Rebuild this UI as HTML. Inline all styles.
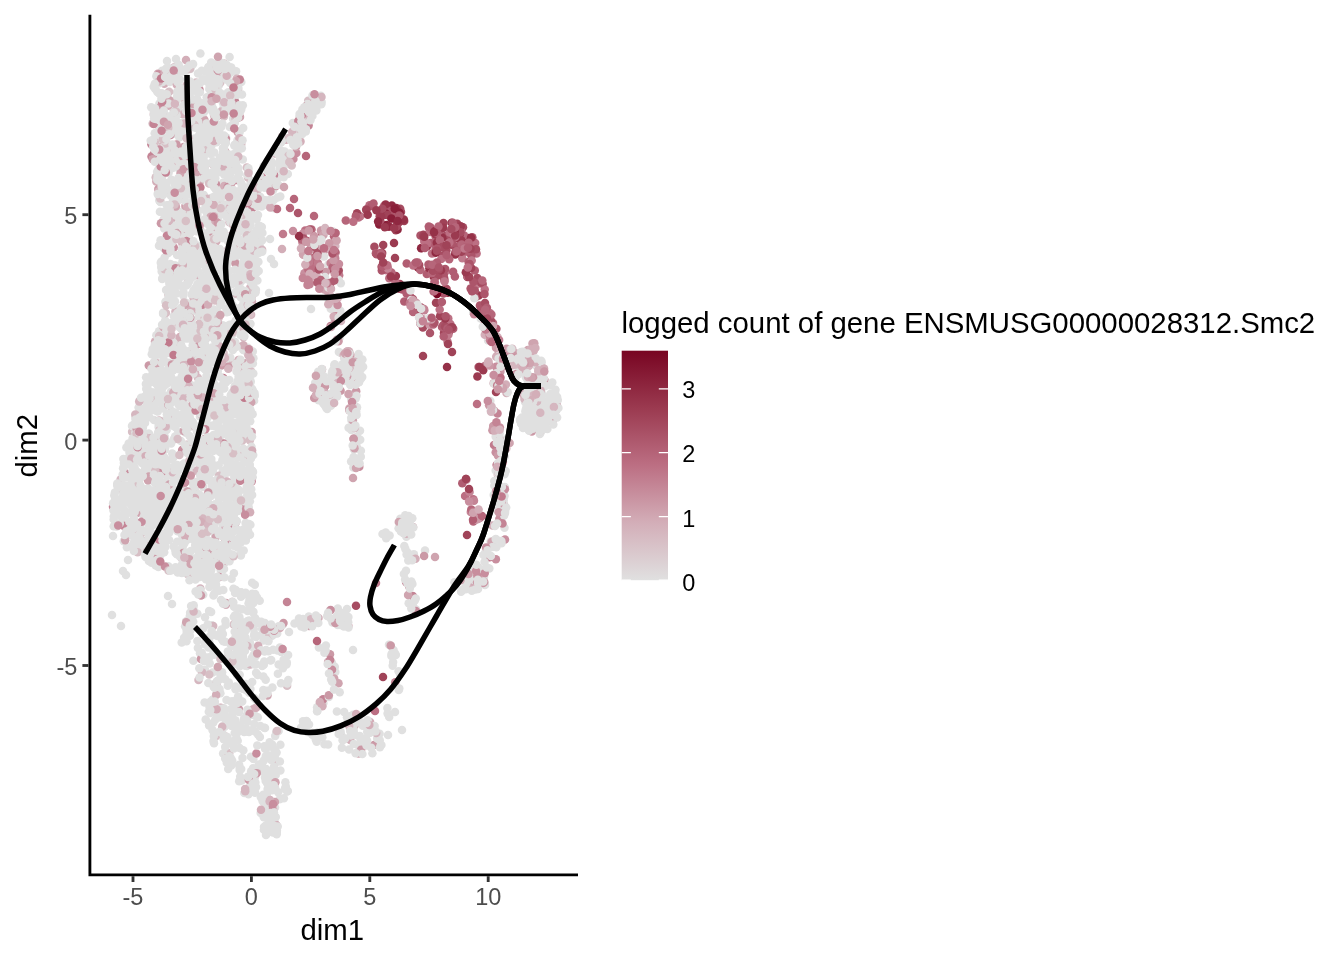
<!DOCTYPE html>
<html><head><meta charset="utf-8"><title>plot</title>
<style>
html,body{margin:0;padding:0;background:#fff;}
svg{display:block;}
text{font-family:"Liberation Sans",sans-serif;}
.ax{font-size:23.5px;fill:#4d4d4d;}
.ti{font-size:29.37px;fill:#000;}
.lg{font-size:23.5px;fill:#000;}
</style></head><body>
<svg width="1344" height="960" viewBox="0 0 1344 960">
<defs><linearGradient id="cb" x1="0" y1="1" x2="0" y2="0">
<stop offset="0" stop-color="#e0e0e0"/><stop offset="0.25" stop-color="#d3aeb8"/><stop offset="0.5" stop-color="#bc6f83"/><stop offset="0.75" stop-color="#9b3a50"/><stop offset="1" stop-color="#780522"/>
</linearGradient></defs>
<rect width="1344" height="960" fill="#fff"/>

<style>.c0{fill:#e0e0e0}.c1{fill:#d3aeb8}.c2{fill:#d5b6bf}.c3{fill:#d7bfc5}.c4{fill:#bc6f83}.c5{fill:#a64c61}.c6{fill:#c48495}.c7{fill:#953148}.c8{fill:#c07a8c}.c9{fill:#cb99a6}.c10{fill:#a04358}.c11{fill:#9b3a50}.c12{fill:#c88e9e}.c13{fill:#b6667a}.c14{fill:#8f2841}.c15{fill:#cfa4af}.c16{fill:#ac556a}.c17{fill:#b15d72}.c18{fill:#8a1f39}.c19{fill:#780522}</style>
<g class="pts">
<circle class="c0" cx="400.3" cy="518.8" r="4.25"/>
<circle class="c0" cx="272.7" cy="632.6" r="4.25"/>
<circle class="c0" cx="229.2" cy="438.0" r="4.25"/>
<circle class="c0" cx="142.5" cy="463.6" r="4.25"/>
<circle class="c0" cx="197.9" cy="255.5" r="4.25"/>
<circle class="c0" cx="488.1" cy="340.4" r="4.25"/>
<circle class="c0" cx="485.5" cy="552.0" r="4.25"/>
<circle class="c0" cx="175.1" cy="436.4" r="4.25"/>
<circle class="c0" cx="228.2" cy="655.2" r="4.25"/>
<circle class="c1" cx="518.0" cy="366.2" r="4.25"/>
<circle class="c0" cx="263.9" cy="829.7" r="4.25"/>
<circle class="c0" cx="548.6" cy="404.5" r="4.25"/>
<circle class="c1" cx="184.1" cy="312.6" r="4.25"/>
<circle class="c0" cx="218.5" cy="418.1" r="4.25"/>
<circle class="c0" cx="255.2" cy="594.0" r="4.25"/>
<circle class="c0" cx="334.8" cy="666.7" r="4.25"/>
<circle class="c0" cx="259.6" cy="245.6" r="4.25"/>
<circle class="c0" cx="325.9" cy="385.4" r="4.25"/>
<circle class="c2" cx="512.3" cy="348.7" r="4.25"/>
<circle class="c3" cx="197.9" cy="377.7" r="4.25"/>
<circle class="c0" cx="213.5" cy="135.5" r="4.25"/>
<circle class="c0" cx="180.0" cy="339.8" r="4.25"/>
<circle class="c0" cx="498.3" cy="506.2" r="4.25"/>
<circle class="c4" cx="475.2" cy="243.1" r="4.25"/>
<circle class="c0" cx="161.9" cy="177.5" r="4.25"/>
<circle class="c0" cx="218.0" cy="341.0" r="4.25"/>
<circle class="c0" cx="293.3" cy="144.7" r="4.25"/>
<circle class="c5" cx="477.4" cy="278.0" r="4.25"/>
<circle class="c6" cx="240.1" cy="360.5" r="4.25"/>
<circle class="c0" cx="252.6" cy="477.2" r="4.25"/>
<circle class="c0" cx="191.7" cy="84.1" r="4.25"/>
<circle class="c3" cx="208.8" cy="67.5" r="4.25"/>
<circle class="c0" cx="164.2" cy="552.2" r="4.25"/>
<circle class="c0" cx="404.1" cy="528.0" r="4.25"/>
<circle class="c0" cx="213.4" cy="403.9" r="4.25"/>
<circle class="c0" cx="335.1" cy="299.0" r="4.25"/>
<circle class="c5" cx="400.2" cy="208.7" r="4.25"/>
<circle class="c0" cx="234.3" cy="658.7" r="4.25"/>
<circle class="c3" cx="229.1" cy="294.1" r="4.25"/>
<circle class="c0" cx="243.5" cy="594.7" r="4.25"/>
<circle class="c7" cx="447.9" cy="292.7" r="4.25"/>
<circle class="c8" cx="313.5" cy="268.8" r="4.25"/>
<circle class="c6" cx="468.0" cy="585.0" r="4.25"/>
<circle class="c0" cx="255.3" cy="598.1" r="4.25"/>
<circle class="c0" cx="350.0" cy="716.2" r="4.25"/>
<circle class="c0" cx="212.2" cy="136.3" r="4.25"/>
<circle class="c0" cx="131.1" cy="490.1" r="4.25"/>
<circle class="c0" cx="164.6" cy="257.4" r="4.25"/>
<circle class="c9" cx="498.2" cy="464.3" r="4.25"/>
<circle class="c0" cx="214.0" cy="123.2" r="4.25"/>
<circle class="c0" cx="233.4" cy="531.8" r="4.25"/>
<circle class="c0" cx="549.7" cy="412.7" r="4.25"/>
<circle class="c0" cx="220.6" cy="534.2" r="4.25"/>
<circle class="c0" cx="176.0" cy="217.1" r="4.25"/>
<circle class="c0" cx="249.0" cy="472.4" r="4.25"/>
<circle class="c0" cx="335.3" cy="671.9" r="4.25"/>
<circle class="c0" cx="207.6" cy="214.9" r="4.25"/>
<circle class="c0" cx="209.6" cy="76.9" r="4.25"/>
<circle class="c0" cx="241.8" cy="403.1" r="4.25"/>
<circle class="c10" cx="399.9" cy="284.1" r="4.25"/>
<circle class="c0" cx="209.3" cy="460.0" r="4.25"/>
<circle class="c8" cx="251.6" cy="481.6" r="4.25"/>
<circle class="c0" cx="290.1" cy="153.5" r="4.25"/>
<circle class="c0" cx="211.9" cy="351.7" r="4.25"/>
<circle class="c0" cx="230.3" cy="421.8" r="4.25"/>
<circle class="c9" cx="356.0" cy="381.7" r="4.25"/>
<circle class="c3" cx="247.5" cy="229.6" r="4.25"/>
<circle class="c0" cx="231.4" cy="220.2" r="4.25"/>
<circle class="c0" cx="196.4" cy="500.2" r="4.25"/>
<circle class="c0" cx="504.3" cy="439.7" r="4.25"/>
<circle class="c0" cx="167.6" cy="378.9" r="4.25"/>
<circle class="c3" cx="246.0" cy="396.5" r="4.25"/>
<circle class="c0" cx="201.0" cy="478.7" r="4.25"/>
<circle class="c0" cx="172.7" cy="354.7" r="4.25"/>
<circle class="c7" cx="381.2" cy="210.6" r="4.25"/>
<circle class="c0" cx="189.8" cy="313.5" r="4.25"/>
<circle class="c11" cx="483.3" cy="316.1" r="4.25"/>
<circle class="c0" cx="166.8" cy="475.8" r="4.25"/>
<circle class="c0" cx="527.9" cy="382.0" r="4.25"/>
<circle class="c0" cx="193.4" cy="482.1" r="4.25"/>
<circle class="c0" cx="152.2" cy="454.1" r="4.25"/>
<circle class="c0" cx="247.5" cy="628.1" r="4.25"/>
<circle class="c0" cx="210.1" cy="182.6" r="4.25"/>
<circle class="c0" cx="224.2" cy="414.1" r="4.25"/>
<circle class="c0" cx="236.9" cy="434.0" r="4.25"/>
<circle class="c0" cx="227.8" cy="471.4" r="4.25"/>
<circle class="c8" cx="462.3" cy="258.2" r="4.25"/>
<circle class="c9" cx="262.0" cy="796.4" r="4.25"/>
<circle class="c0" cx="175.6" cy="471.4" r="4.25"/>
<circle class="c0" cx="308.8" cy="616.4" r="4.25"/>
<circle class="c0" cx="193.4" cy="522.8" r="4.25"/>
<circle class="c0" cx="148.4" cy="500.8" r="4.25"/>
<circle class="c0" cx="252.2" cy="593.7" r="4.25"/>
<circle class="c0" cx="236.9" cy="648.5" r="4.25"/>
<circle class="c0" cx="497.8" cy="349.3" r="4.25"/>
<circle class="c0" cx="322.3" cy="737.3" r="4.25"/>
<circle class="c0" cx="190.5" cy="374.8" r="4.25"/>
<circle class="c12" cx="482.5" cy="315.0" r="4.25"/>
<circle class="c0" cx="137.9" cy="491.5" r="4.25"/>
<circle class="c0" cx="149.4" cy="471.0" r="4.25"/>
<circle class="c0" cx="212.3" cy="561.0" r="4.25"/>
<circle class="c8" cx="195.5" cy="119.9" r="4.25"/>
<circle class="c0" cx="240.9" cy="555.5" r="4.25"/>
<circle class="c1" cx="261.0" cy="203.7" r="4.25"/>
<circle class="c0" cx="262.0" cy="763.5" r="4.25"/>
<circle class="c0" cx="311.3" cy="623.6" r="4.25"/>
<circle class="c0" cx="218.3" cy="264.0" r="4.25"/>
<circle class="c0" cx="242.5" cy="479.3" r="4.25"/>
<circle class="c0" cx="201.3" cy="391.3" r="4.25"/>
<circle class="c12" cx="503.2" cy="363.6" r="4.25"/>
<circle class="c3" cx="308.2" cy="100.8" r="4.25"/>
<circle class="c8" cx="223.3" cy="378.1" r="4.25"/>
<circle class="c0" cx="198.3" cy="504.7" r="4.25"/>
<circle class="c0" cx="237.2" cy="200.2" r="4.25"/>
<circle class="c10" cx="440.0" cy="316.2" r="4.25"/>
<circle class="c0" cx="228.9" cy="169.6" r="4.25"/>
<circle class="c0" cx="473.2" cy="312.6" r="4.25"/>
<circle class="c0" cx="196.3" cy="139.3" r="4.25"/>
<circle class="c0" cx="260.4" cy="726.0" r="4.25"/>
<circle class="c0" cx="254.3" cy="633.9" r="4.25"/>
<circle class="c3" cx="172.3" cy="118.6" r="4.25"/>
<circle class="c0" cx="298.1" cy="142.1" r="4.25"/>
<circle class="c2" cx="225.5" cy="736.4" r="4.25"/>
<circle class="c0" cx="158.7" cy="427.2" r="4.25"/>
<circle class="c0" cx="228.2" cy="75.2" r="4.25"/>
<circle class="c0" cx="237.6" cy="547.5" r="4.25"/>
<circle class="c0" cx="249.0" cy="732.1" r="4.25"/>
<circle class="c10" cx="467.0" cy="535.0" r="4.25"/>
<circle class="c0" cx="215.4" cy="719.4" r="4.25"/>
<circle class="c1" cx="248.3" cy="257.2" r="4.25"/>
<circle class="c0" cx="184.8" cy="331.9" r="4.25"/>
<circle class="c0" cx="237.4" cy="117.3" r="4.25"/>
<circle class="c0" cx="162.5" cy="540.3" r="4.25"/>
<circle class="c0" cx="162.5" cy="545.1" r="4.25"/>
<circle class="c0" cx="138.3" cy="431.4" r="4.25"/>
<circle class="c0" cx="151.7" cy="492.8" r="4.25"/>
<circle class="c0" cx="204.8" cy="518.3" r="4.25"/>
<circle class="c0" cx="244.3" cy="433.9" r="4.25"/>
<circle class="c0" cx="152.9" cy="155.4" r="4.25"/>
<circle class="c0" cx="351.3" cy="429.9" r="4.25"/>
<circle class="c3" cx="155.7" cy="177.2" r="4.25"/>
<circle class="c0" cx="521.3" cy="423.7" r="4.25"/>
<circle class="c0" cx="221.3" cy="223.8" r="4.25"/>
<circle class="c13" cx="330.6" cy="288.5" r="4.25"/>
<circle class="c0" cx="154.5" cy="482.3" r="4.25"/>
<circle class="c0" cx="219.2" cy="511.7" r="4.25"/>
<circle class="c0" cx="528.0" cy="356.2" r="4.25"/>
<circle class="c0" cx="276.2" cy="825.7" r="4.25"/>
<circle class="c0" cx="144.8" cy="448.7" r="4.25"/>
<circle class="c0" cx="526.5" cy="407.3" r="4.25"/>
<circle class="c0" cx="274.5" cy="752.8" r="4.25"/>
<circle class="c0" cx="223.0" cy="603.8" r="4.25"/>
<circle class="c0" cx="199.8" cy="468.8" r="4.25"/>
<circle class="c0" cx="192.7" cy="616.3" r="4.25"/>
<circle class="c0" cx="355.7" cy="398.6" r="4.25"/>
<circle class="c9" cx="202.1" cy="294.5" r="4.25"/>
<circle class="c0" cx="153.2" cy="393.2" r="4.25"/>
<circle class="c9" cx="413.0" cy="527.1" r="4.25"/>
<circle class="c0" cx="182.8" cy="134.1" r="4.25"/>
<circle class="c0" cx="182.8" cy="571.7" r="4.25"/>
<circle class="c0" cx="236.5" cy="161.6" r="4.25"/>
<circle class="c0" cx="242.5" cy="609.3" r="4.25"/>
<circle class="c0" cx="170.4" cy="521.2" r="4.25"/>
<circle class="c0" cx="194.7" cy="347.4" r="4.25"/>
<circle class="c0" cx="273.7" cy="813.7" r="4.25"/>
<circle class="c14" cx="402.4" cy="219.5" r="4.25"/>
<circle class="c0" cx="236.8" cy="216.0" r="4.25"/>
<circle class="c0" cx="266.0" cy="834.9" r="4.25"/>
<circle class="c1" cx="236.9" cy="346.0" r="4.25"/>
<circle class="c0" cx="528.9" cy="421.9" r="4.25"/>
<circle class="c0" cx="162.1" cy="407.7" r="4.25"/>
<circle class="c0" cx="320.9" cy="400.5" r="4.25"/>
<circle class="c0" cx="194.6" cy="199.7" r="4.25"/>
<circle class="c0" cx="155.3" cy="153.5" r="4.25"/>
<circle class="c8" cx="420.3" cy="323.4" r="4.25"/>
<circle class="c15" cx="347.0" cy="351.7" r="4.25"/>
<circle class="c0" cx="259.9" cy="225.9" r="4.25"/>
<circle class="c0" cx="241.1" cy="592.5" r="4.25"/>
<circle class="c0" cx="200.4" cy="53.5" r="4.25"/>
<circle class="c0" cx="287.8" cy="174.1" r="4.25"/>
<circle class="c0" cx="233.5" cy="484.0" r="4.25"/>
<circle class="c6" cx="232.6" cy="544.4" r="4.25"/>
<circle class="c0" cx="176.8" cy="266.2" r="4.25"/>
<circle class="c0" cx="551.6" cy="415.7" r="4.25"/>
<circle class="c9" cx="502.3" cy="349.8" r="4.25"/>
<circle class="c2" cx="120.6" cy="479.4" r="4.25"/>
<circle class="c0" cx="182.9" cy="532.8" r="4.25"/>
<circle class="c0" cx="160.5" cy="378.6" r="4.25"/>
<circle class="c0" cx="205.5" cy="553.7" r="4.25"/>
<circle class="c0" cx="160.4" cy="201.9" r="4.25"/>
<circle class="c0" cx="190.1" cy="172.9" r="4.25"/>
<circle class="c0" cx="267.7" cy="775.8" r="4.25"/>
<circle class="c0" cx="123.8" cy="541.3" r="4.25"/>
<circle class="c0" cx="211.0" cy="198.0" r="4.25"/>
<circle class="c0" cx="172.2" cy="453.4" r="4.25"/>
<circle class="c1" cx="347.1" cy="351.5" r="4.25"/>
<circle class="c5" cx="442.0" cy="255.4" r="4.25"/>
<circle class="c0" cx="135.7" cy="416.5" r="4.25"/>
<circle class="c0" cx="242.7" cy="433.1" r="4.25"/>
<circle class="c0" cx="406.0" cy="570.8" r="4.25"/>
<circle class="c0" cx="222.2" cy="348.3" r="4.25"/>
<circle class="c0" cx="229.5" cy="561.3" r="4.25"/>
<circle class="c0" cx="203.3" cy="566.0" r="4.25"/>
<circle class="c0" cx="209.2" cy="235.4" r="4.25"/>
<circle class="c1" cx="203.2" cy="444.5" r="4.25"/>
<circle class="c0" cx="334.5" cy="308.9" r="4.25"/>
<circle class="c15" cx="338.5" cy="683.2" r="4.25"/>
<circle class="c0" cx="189.6" cy="86.7" r="4.25"/>
<circle class="c6" cx="252.3" cy="208.2" r="4.25"/>
<circle class="c0" cx="193.0" cy="558.6" r="4.25"/>
<circle class="c15" cx="354.7" cy="725.2" r="4.25"/>
<circle class="c3" cx="241.3" cy="144.1" r="4.25"/>
<circle class="c12" cx="262.1" cy="177.0" r="4.25"/>
<circle class="c0" cx="170.7" cy="224.3" r="4.25"/>
<circle class="c7" cx="468.2" cy="238.0" r="4.25"/>
<circle class="c0" cx="353.2" cy="393.7" r="4.25"/>
<circle class="c0" cx="288.1" cy="655.1" r="4.25"/>
<circle class="c0" cx="162.2" cy="70.8" r="4.25"/>
<circle class="c0" cx="202.1" cy="106.6" r="4.25"/>
<circle class="c2" cx="153.8" cy="113.9" r="4.25"/>
<circle class="c0" cx="173.1" cy="458.1" r="4.25"/>
<circle class="c15" cx="337.9" cy="381.1" r="4.25"/>
<circle class="c0" cx="164.8" cy="540.4" r="4.25"/>
<circle class="c0" cx="136.9" cy="549.1" r="4.25"/>
<circle class="c0" cx="267.7" cy="205.2" r="4.25"/>
<circle class="c0" cx="139.8" cy="400.4" r="4.25"/>
<circle class="c15" cx="334.2" cy="678.4" r="4.25"/>
<circle class="c0" cx="156.8" cy="559.0" r="4.25"/>
<circle class="c0" cx="413.1" cy="555.6" r="4.25"/>
<circle class="c0" cx="187.6" cy="397.1" r="4.25"/>
<circle class="c0" cx="203.5" cy="527.9" r="4.25"/>
<circle class="c0" cx="228.1" cy="417.5" r="4.25"/>
<circle class="c0" cx="124.0" cy="524.9" r="4.25"/>
<circle class="c12" cx="504.3" cy="505.5" r="4.25"/>
<circle class="c0" cx="190.0" cy="418.3" r="4.25"/>
<circle class="c0" cx="229.3" cy="415.7" r="4.25"/>
<circle class="c2" cx="195.2" cy="372.9" r="4.25"/>
<circle class="c0" cx="551.5" cy="396.6" r="4.25"/>
<circle class="c0" cx="495.7" cy="436.8" r="4.25"/>
<circle class="c0" cx="170.2" cy="346.7" r="4.25"/>
<circle class="c0" cx="202.5" cy="513.2" r="4.25"/>
<circle class="c0" cx="220.7" cy="452.4" r="4.25"/>
<circle class="c3" cx="222.6" cy="544.9" r="4.25"/>
<circle class="c0" cx="256.9" cy="597.3" r="4.25"/>
<circle class="c15" cx="324.4" cy="289.6" r="4.25"/>
<circle class="c0" cx="470.5" cy="574.6" r="4.25"/>
<circle class="c0" cx="218.0" cy="187.4" r="4.25"/>
<circle class="c0" cx="197.1" cy="311.2" r="4.25"/>
<circle class="c13" cx="473.3" cy="521.5" r="4.25"/>
<circle class="c0" cx="194.0" cy="127.3" r="4.25"/>
<circle class="c0" cx="201.4" cy="391.8" r="4.25"/>
<circle class="c12" cx="499.9" cy="427.5" r="4.25"/>
<circle class="c0" cx="249.5" cy="350.6" r="4.25"/>
<circle class="c0" cx="218.8" cy="450.9" r="4.25"/>
<circle class="c0" cx="163.0" cy="334.9" r="4.25"/>
<circle class="c0" cx="209.3" cy="89.0" r="4.25"/>
<circle class="c3" cx="173.0" cy="272.6" r="4.25"/>
<circle class="c0" cx="250.4" cy="225.1" r="4.25"/>
<circle class="c0" cx="155.0" cy="459.2" r="4.25"/>
<circle class="c10" cx="404.2" cy="221.1" r="4.25"/>
<circle class="c0" cx="199.7" cy="577.1" r="4.25"/>
<circle class="c0" cx="245.6" cy="663.1" r="4.25"/>
<circle class="c5" cx="336.3" cy="273.5" r="4.25"/>
<circle class="c0" cx="312.9" cy="272.3" r="4.25"/>
<circle class="c0" cx="240.9" cy="419.3" r="4.25"/>
<circle class="c0" cx="224.2" cy="550.6" r="4.25"/>
<circle class="c2" cx="162.5" cy="145.7" r="4.25"/>
<circle class="c0" cx="213.3" cy="109.3" r="4.25"/>
<circle class="c0" cx="186.9" cy="243.5" r="4.25"/>
<circle class="c8" cx="229.0" cy="216.9" r="4.25"/>
<circle class="c0" cx="137.6" cy="455.7" r="4.25"/>
<circle class="c0" cx="180.2" cy="493.7" r="4.25"/>
<circle class="c0" cx="222.0" cy="639.2" r="4.25"/>
<circle class="c0" cx="155.3" cy="504.4" r="4.25"/>
<circle class="c15" cx="214.7" cy="284.4" r="4.25"/>
<circle class="c0" cx="232.8" cy="404.3" r="4.25"/>
<circle class="c0" cx="196.5" cy="109.9" r="4.25"/>
<circle class="c0" cx="273.0" cy="819.0" r="4.25"/>
<circle class="c0" cx="212.7" cy="356.1" r="4.25"/>
<circle class="c0" cx="192.8" cy="201.2" r="4.25"/>
<circle class="c0" cx="223.3" cy="434.3" r="4.25"/>
<circle class="c0" cx="241.9" cy="780.4" r="4.25"/>
<circle class="c0" cx="346.3" cy="379.1" r="4.25"/>
<circle class="c0" cx="200.7" cy="127.3" r="4.25"/>
<circle class="c2" cx="141.4" cy="497.5" r="4.25"/>
<circle class="c0" cx="257.3" cy="190.5" r="4.25"/>
<circle class="c0" cx="182.1" cy="124.5" r="4.25"/>
<circle class="c16" cx="479.9" cy="305.5" r="4.25"/>
<circle class="c0" cx="242.7" cy="478.8" r="4.25"/>
<circle class="c0" cx="350.3" cy="729.2" r="4.25"/>
<circle class="c0" cx="203.0" cy="124.7" r="4.25"/>
<circle class="c0" cx="241.5" cy="244.4" r="4.25"/>
<circle class="c2" cx="158.2" cy="173.9" r="4.25"/>
<circle class="c0" cx="248.5" cy="326.3" r="4.25"/>
<circle class="c0" cx="238.1" cy="222.7" r="4.25"/>
<circle class="c0" cx="181.1" cy="255.7" r="4.25"/>
<circle class="c0" cx="208.9" cy="475.2" r="4.25"/>
<circle class="c8" cx="314.4" cy="268.2" r="4.25"/>
<circle class="c0" cx="196.5" cy="194.3" r="4.25"/>
<circle class="c0" cx="231.2" cy="125.8" r="4.25"/>
<circle class="c0" cx="156.8" cy="410.9" r="4.25"/>
<circle class="c0" cx="171.0" cy="528.0" r="4.25"/>
<circle class="c6" cx="424.0" cy="309.1" r="4.25"/>
<circle class="c0" cx="230.1" cy="243.5" r="4.25"/>
<circle class="c0" cx="161.8" cy="547.4" r="4.25"/>
<circle class="c0" cx="521.8" cy="356.4" r="4.25"/>
<circle class="c0" cx="184.3" cy="540.4" r="4.25"/>
<circle class="c0" cx="501.1" cy="518.8" r="4.25"/>
<circle class="c12" cx="271.5" cy="631.2" r="4.25"/>
<circle class="c1" cx="370.1" cy="721.9" r="4.25"/>
<circle class="c0" cx="146.5" cy="406.0" r="4.25"/>
<circle class="c0" cx="212.6" cy="100.8" r="4.25"/>
<circle class="c3" cx="246.8" cy="167.5" r="4.25"/>
<circle class="c0" cx="184.9" cy="413.1" r="4.25"/>
<circle class="c12" cx="173.8" cy="247.5" r="4.25"/>
<circle class="c0" cx="185.9" cy="230.0" r="4.25"/>
<circle class="c0" cx="187.5" cy="107.6" r="4.25"/>
<circle class="c0" cx="228.0" cy="504.2" r="4.25"/>
<circle class="c0" cx="238.5" cy="467.7" r="4.25"/>
<circle class="c0" cx="524.4" cy="371.5" r="4.25"/>
<circle class="c0" cx="265.7" cy="679.7" r="4.25"/>
<circle class="c0" cx="188.9" cy="427.3" r="4.25"/>
<circle class="c0" cx="543.9" cy="415.5" r="4.25"/>
<circle class="c0" cx="163.1" cy="312.8" r="4.25"/>
<circle class="c1" cx="314.9" cy="257.1" r="4.25"/>
<circle class="c0" cx="349.9" cy="724.6" r="4.25"/>
<circle class="c0" cx="408.7" cy="603.3" r="4.25"/>
<circle class="c0" cx="170.2" cy="211.5" r="4.25"/>
<circle class="c0" cx="249.4" cy="223.5" r="4.25"/>
<circle class="c0" cx="189.5" cy="479.7" r="4.25"/>
<circle class="c3" cx="209.9" cy="438.4" r="4.25"/>
<circle class="c0" cx="223.8" cy="708.2" r="4.25"/>
<circle class="c10" cx="382.2" cy="253.0" r="4.25"/>
<circle class="c0" cx="432.1" cy="323.5" r="4.25"/>
<circle class="c3" cx="180.6" cy="113.8" r="4.25"/>
<circle class="c12" cx="203.8" cy="429.3" r="4.25"/>
<circle class="c17" cx="404.3" cy="301.4" r="4.25"/>
<circle class="c0" cx="206.5" cy="375.9" r="4.25"/>
<circle class="c0" cx="254.1" cy="708.6" r="4.25"/>
<circle class="c0" cx="138.6" cy="407.5" r="4.25"/>
<circle class="c0" cx="539.3" cy="418.4" r="4.25"/>
<circle class="c15" cx="244.1" cy="275.5" r="4.25"/>
<circle class="c0" cx="172.9" cy="117.4" r="4.25"/>
<circle class="c1" cx="314.0" cy="100.9" r="4.25"/>
<circle class="c3" cx="186.3" cy="85.4" r="4.25"/>
<circle class="c0" cx="227.8" cy="410.8" r="4.25"/>
<circle class="c0" cx="188.2" cy="406.9" r="4.25"/>
<circle class="c16" cx="396.5" cy="214.6" r="4.25"/>
<circle class="c3" cx="183.3" cy="484.2" r="4.25"/>
<circle class="c0" cx="165.2" cy="447.8" r="4.25"/>
<circle class="c0" cx="504.2" cy="496.8" r="4.25"/>
<circle class="c0" cx="237.4" cy="490.3" r="4.25"/>
<circle class="c0" cx="284.7" cy="151.6" r="4.25"/>
<circle class="c0" cx="204.1" cy="289.6" r="4.25"/>
<circle class="c1" cx="225.1" cy="235.5" r="4.25"/>
<circle class="c3" cx="216.3" cy="736.1" r="4.25"/>
<circle class="c0" cx="200.6" cy="317.8" r="4.25"/>
<circle class="c0" cx="153.1" cy="459.0" r="4.25"/>
<circle class="c0" cx="173.6" cy="125.2" r="4.25"/>
<circle class="c3" cx="200.1" cy="194.9" r="4.25"/>
<circle class="c0" cx="200.5" cy="281.1" r="4.25"/>
<circle class="c0" cx="203.8" cy="169.7" r="4.25"/>
<circle class="c0" cx="135.6" cy="417.6" r="4.25"/>
<circle class="c0" cx="348.1" cy="355.1" r="4.25"/>
<circle class="c0" cx="192.1" cy="411.6" r="4.25"/>
<circle class="c0" cx="251.2" cy="730.2" r="4.25"/>
<circle class="c0" cx="220.8" cy="386.4" r="4.25"/>
<circle class="c0" cx="180.0" cy="163.8" r="4.25"/>
<circle class="c0" cx="134.5" cy="541.4" r="4.25"/>
<circle class="c0" cx="243.8" cy="249.9" r="4.25"/>
<circle class="c0" cx="164.9" cy="350.0" r="4.25"/>
<circle class="c0" cx="254.5" cy="267.2" r="4.25"/>
<circle class="c0" cx="213.0" cy="161.3" r="4.25"/>
<circle class="c0" cx="253.6" cy="204.1" r="4.25"/>
<circle class="c11" cx="433.8" cy="231.9" r="4.25"/>
<circle class="c15" cx="169.9" cy="508.8" r="4.25"/>
<circle class="c9" cx="324.0" cy="388.2" r="4.25"/>
<circle class="c0" cx="503.7" cy="504.9" r="4.25"/>
<circle class="c0" cx="194.7" cy="388.0" r="4.25"/>
<circle class="c0" cx="237.4" cy="505.8" r="4.25"/>
<circle class="c0" cx="299.6" cy="132.6" r="4.25"/>
<circle class="c0" cx="176.8" cy="382.6" r="4.25"/>
<circle class="c0" cx="207.2" cy="304.4" r="4.25"/>
<circle class="c0" cx="348.4" cy="616.9" r="4.25"/>
<circle class="c2" cx="177.7" cy="323.2" r="4.25"/>
<circle class="c0" cx="234.3" cy="254.7" r="4.25"/>
<circle class="c0" cx="406.4" cy="536.8" r="4.25"/>
<circle class="c0" cx="252.8" cy="242.5" r="4.25"/>
<circle class="c3" cx="194.8" cy="87.8" r="4.25"/>
<circle class="c0" cx="151.2" cy="107.2" r="4.25"/>
<circle class="c0" cx="175.5" cy="69.2" r="4.25"/>
<circle class="c8" cx="409.4" cy="586.8" r="4.25"/>
<circle class="c0" cx="136.6" cy="454.2" r="4.25"/>
<circle class="c0" cx="202.1" cy="507.1" r="4.25"/>
<circle class="c0" cx="199.2" cy="296.6" r="4.25"/>
<circle class="c18" cx="395.4" cy="214.1" r="4.25"/>
<circle class="c8" cx="360.3" cy="216.2" r="4.25"/>
<circle class="c3" cx="223.1" cy="280.5" r="4.25"/>
<circle class="c0" cx="248.8" cy="524.0" r="4.25"/>
<circle class="c0" cx="216.8" cy="393.5" r="4.25"/>
<circle class="c0" cx="274.8" cy="823.6" r="4.25"/>
<circle class="c0" cx="148.0" cy="517.9" r="4.25"/>
<circle class="c0" cx="495.5" cy="509.4" r="4.25"/>
<circle class="c0" cx="188.5" cy="450.0" r="4.25"/>
<circle class="c0" cx="147.6" cy="554.9" r="4.25"/>
<circle class="c1" cx="156.3" cy="181.5" r="4.25"/>
<circle class="c0" cx="254.4" cy="791.9" r="4.25"/>
<circle class="c0" cx="235.8" cy="152.8" r="4.25"/>
<circle class="c0" cx="194.4" cy="254.5" r="4.25"/>
<circle class="c3" cx="185.0" cy="308.6" r="4.25"/>
<circle class="c0" cx="215.4" cy="447.0" r="4.25"/>
<circle class="c0" cx="142.9" cy="427.8" r="4.25"/>
<circle class="c0" cx="148.4" cy="383.5" r="4.25"/>
<circle class="c0" cx="238.7" cy="288.9" r="4.25"/>
<circle class="c0" cx="157.9" cy="523.4" r="4.25"/>
<circle class="c0" cx="203.8" cy="567.7" r="4.25"/>
<circle class="c0" cx="337.1" cy="396.6" r="4.25"/>
<circle class="c0" cx="174.6" cy="119.0" r="4.25"/>
<circle class="c0" cx="229.5" cy="720.4" r="4.25"/>
<circle class="c0" cx="207.2" cy="453.1" r="4.25"/>
<circle class="c0" cx="328.1" cy="744.6" r="4.25"/>
<circle class="c0" cx="269.6" cy="742.2" r="4.25"/>
<circle class="c0" cx="533.3" cy="402.8" r="4.25"/>
<circle class="c0" cx="209.1" cy="657.2" r="4.25"/>
<circle class="c0" cx="246.6" cy="422.3" r="4.25"/>
<circle class="c0" cx="285.4" cy="782.2" r="4.25"/>
<circle class="c0" cx="169.7" cy="162.7" r="4.25"/>
<circle class="c0" cx="214.9" cy="554.1" r="4.25"/>
<circle class="c0" cx="252.7" cy="240.9" r="4.25"/>
<circle class="c0" cx="236.1" cy="71.3" r="4.25"/>
<circle class="c0" cx="150.1" cy="405.4" r="4.25"/>
<circle class="c0" cx="164.1" cy="211.7" r="4.25"/>
<circle class="c0" cx="252.9" cy="363.4" r="4.25"/>
<circle class="c6" cx="166.9" cy="153.0" r="4.25"/>
<circle class="c0" cx="499.6" cy="468.1" r="4.25"/>
<circle class="c0" cx="183.0" cy="363.1" r="4.25"/>
<circle class="c12" cx="359.3" cy="466.8" r="4.25"/>
<circle class="c6" cx="282.3" cy="136.6" r="4.25"/>
<circle class="c3" cx="195.8" cy="545.8" r="4.25"/>
<circle class="c0" cx="141.8" cy="410.7" r="4.25"/>
<circle class="c0" cx="406.9" cy="522.2" r="4.25"/>
<circle class="c9" cx="374.0" cy="745.0" r="4.25"/>
<circle class="c0" cx="171.7" cy="411.1" r="4.25"/>
<circle class="c0" cx="505.1" cy="511.0" r="4.25"/>
<circle class="c0" cx="328.4" cy="264.5" r="4.25"/>
<circle class="c0" cx="248.6" cy="603.2" r="4.25"/>
<circle class="c0" cx="119.2" cy="501.9" r="4.25"/>
<circle class="c9" cx="237.8" cy="132.2" r="4.25"/>
<circle class="c2" cx="195.6" cy="192.4" r="4.25"/>
<circle class="c3" cx="171.8" cy="268.6" r="4.25"/>
<circle class="c1" cx="204.5" cy="221.4" r="4.25"/>
<circle class="c0" cx="273.2" cy="189.9" r="4.25"/>
<circle class="c0" cx="390.8" cy="646.1" r="4.25"/>
<circle class="c0" cx="264.4" cy="727.7" r="4.25"/>
<circle class="c1" cx="200.1" cy="165.5" r="4.25"/>
<circle class="c0" cx="203.3" cy="564.8" r="4.25"/>
<circle class="c0" cx="141.2" cy="458.1" r="4.25"/>
<circle class="c0" cx="197.4" cy="407.7" r="4.25"/>
<circle class="c0" cx="239.8" cy="318.6" r="4.25"/>
<circle class="c0" cx="176.1" cy="282.4" r="4.25"/>
<circle class="c0" cx="387.4" cy="708.0" r="4.25"/>
<circle class="c0" cx="198.6" cy="516.5" r="4.25"/>
<circle class="c0" cx="278.8" cy="163.6" r="4.25"/>
<circle class="c15" cx="158.2" cy="344.0" r="4.25"/>
<circle class="c0" cx="208.2" cy="252.3" r="4.25"/>
<circle class="c0" cx="178.1" cy="108.3" r="4.25"/>
<circle class="c0" cx="205.0" cy="669.8" r="4.25"/>
<circle class="c4" cx="305.2" cy="230.6" r="4.25"/>
<circle class="c9" cx="229.7" cy="654.2" r="4.25"/>
<circle class="c0" cx="208.1" cy="496.8" r="4.25"/>
<circle class="c0" cx="170.4" cy="165.6" r="4.25"/>
<circle class="c0" cx="191.9" cy="167.4" r="4.25"/>
<circle class="c0" cx="223.8" cy="449.5" r="4.25"/>
<circle class="c1" cx="285.9" cy="139.7" r="4.25"/>
<circle class="c0" cx="139.6" cy="531.3" r="4.25"/>
<circle class="c0" cx="528.7" cy="424.8" r="4.25"/>
<circle class="c0" cx="234.3" cy="277.5" r="4.25"/>
<circle class="c0" cx="223.9" cy="458.5" r="4.25"/>
<circle class="c9" cx="430.2" cy="318.8" r="4.25"/>
<circle class="c0" cx="159.5" cy="103.6" r="4.25"/>
<circle class="c12" cx="497.9" cy="474.7" r="4.25"/>
<circle class="c0" cx="554.8" cy="417.3" r="4.25"/>
<circle class="c0" cx="241.2" cy="388.9" r="4.25"/>
<circle class="c0" cx="192.7" cy="345.3" r="4.25"/>
<circle class="c0" cx="232.4" cy="196.9" r="4.25"/>
<circle class="c0" cx="188.2" cy="272.5" r="4.25"/>
<circle class="c0" cx="200.0" cy="446.1" r="4.25"/>
<circle class="c0" cx="204.0" cy="366.1" r="4.25"/>
<circle class="c0" cx="250.0" cy="534.8" r="4.25"/>
<circle class="c9" cx="269.8" cy="824.9" r="4.25"/>
<circle class="c0" cx="278.6" cy="731.0" r="4.25"/>
<circle class="c0" cx="355.9" cy="411.4" r="4.25"/>
<circle class="c0" cx="234.4" cy="330.8" r="4.25"/>
<circle class="c12" cx="183.2" cy="236.2" r="4.25"/>
<circle class="c0" cx="187.7" cy="636.8" r="4.25"/>
<circle class="c0" cx="314.5" cy="102.6" r="4.25"/>
<circle class="c0" cx="541.3" cy="406.4" r="4.25"/>
<circle class="c16" cx="420.5" cy="235.6" r="4.25"/>
<circle class="c13" cx="463.8" cy="235.3" r="4.25"/>
<circle class="c0" cx="280.3" cy="196.4" r="4.25"/>
<circle class="c0" cx="467.3" cy="583.4" r="4.25"/>
<circle class="c0" cx="227.8" cy="469.9" r="4.25"/>
<circle class="c0" cx="213.8" cy="389.0" r="4.25"/>
<circle class="c0" cx="254.1" cy="400.7" r="4.25"/>
<circle class="c2" cx="202.0" cy="672.3" r="4.25"/>
<circle class="c0" cx="238.2" cy="267.3" r="4.25"/>
<circle class="c0" cx="187.7" cy="267.5" r="4.25"/>
<circle class="c5" cx="309.9" cy="257.2" r="4.25"/>
<circle class="c0" cx="273.8" cy="199.9" r="4.25"/>
<circle class="c0" cx="141.5" cy="451.0" r="4.25"/>
<circle class="c0" cx="234.4" cy="414.0" r="4.25"/>
<circle class="c0" cx="161.4" cy="161.8" r="4.25"/>
<circle class="c0" cx="226.8" cy="414.7" r="4.25"/>
<circle class="c0" cx="148.7" cy="477.4" r="4.25"/>
<circle class="c16" cx="380.4" cy="221.4" r="4.25"/>
<circle class="c0" cx="173.9" cy="133.7" r="4.25"/>
<circle class="c0" cx="272.1" cy="635.7" r="4.25"/>
<circle class="c3" cx="196.0" cy="82.4" r="4.25"/>
<circle class="c0" cx="240.3" cy="725.5" r="4.25"/>
<circle class="c2" cx="335.3" cy="246.0" r="4.25"/>
<circle class="c0" cx="122.3" cy="488.8" r="4.25"/>
<circle class="c0" cx="543.3" cy="415.7" r="4.25"/>
<circle class="c0" cx="174.0" cy="521.6" r="4.25"/>
<circle class="c0" cx="231.9" cy="249.7" r="4.25"/>
<circle class="c6" cx="496.4" cy="340.0" r="4.25"/>
<circle class="c1" cx="168.8" cy="159.2" r="4.25"/>
<circle class="c0" cx="547.3" cy="410.2" r="4.25"/>
<circle class="c6" cx="419.7" cy="317.7" r="4.25"/>
<circle class="c0" cx="251.8" cy="646.7" r="4.25"/>
<circle class="c0" cx="193.7" cy="338.2" r="4.25"/>
<circle class="c7" cx="446.6" cy="235.8" r="4.25"/>
<circle class="c0" cx="517.4" cy="372.5" r="4.25"/>
<circle class="c0" cx="281.4" cy="170.3" r="4.25"/>
<circle class="c13" cx="294.0" cy="199.0" r="4.25"/>
<circle class="c2" cx="292.2" cy="131.7" r="4.25"/>
<circle class="c0" cx="284.9" cy="788.9" r="4.25"/>
<circle class="c0" cx="325.7" cy="399.3" r="4.25"/>
<circle class="c0" cx="328.3" cy="297.9" r="4.25"/>
<circle class="c0" cx="223.4" cy="492.2" r="4.25"/>
<circle class="c2" cx="496.2" cy="379.2" r="4.25"/>
<circle class="c1" cx="177.7" cy="467.3" r="4.25"/>
<circle class="c5" cx="423.4" cy="235.6" r="4.25"/>
<circle class="c0" cx="140.9" cy="462.0" r="4.25"/>
<circle class="c13" cx="484.8" cy="365.9" r="4.25"/>
<circle class="c15" cx="267.5" cy="695.5" r="4.25"/>
<circle class="c0" cx="498.1" cy="488.3" r="4.25"/>
<circle class="c0" cx="191.7" cy="226.6" r="4.25"/>
<circle class="c0" cx="408.7" cy="515.9" r="4.25"/>
<circle class="c0" cx="213.3" cy="554.7" r="4.25"/>
<circle class="c0" cx="493.7" cy="494.9" r="4.25"/>
<circle class="c0" cx="268.9" cy="788.3" r="4.25"/>
<circle class="c0" cx="303.7" cy="109.9" r="4.25"/>
<circle class="c2" cx="234.6" cy="308.1" r="4.25"/>
<circle class="c0" cx="152.7" cy="465.0" r="4.25"/>
<circle class="c0" cx="158.4" cy="169.5" r="4.25"/>
<circle class="c0" cx="242.7" cy="375.9" r="4.25"/>
<circle class="c0" cx="234.3" cy="490.4" r="4.25"/>
<circle class="c0" cx="164.2" cy="228.6" r="4.25"/>
<circle class="c0" cx="328.7" cy="403.6" r="4.25"/>
<circle class="c3" cx="267.8" cy="637.3" r="4.25"/>
<circle class="c0" cx="217.9" cy="493.8" r="4.25"/>
<circle class="c0" cx="531.3" cy="402.7" r="4.25"/>
<circle class="c1" cx="361.6" cy="747.6" r="4.25"/>
<circle class="c10" cx="439.1" cy="237.7" r="4.25"/>
<circle class="c2" cx="216.7" cy="559.8" r="4.25"/>
<circle class="c13" cx="290.0" cy="208.0" r="4.25"/>
<circle class="c9" cx="493.7" cy="383.3" r="4.25"/>
<circle class="c2" cx="167.9" cy="172.3" r="4.25"/>
<circle class="c0" cx="185.5" cy="531.8" r="4.25"/>
<circle class="c0" cx="336.4" cy="380.4" r="4.25"/>
<circle class="c0" cx="340.3" cy="310.8" r="4.25"/>
<circle class="c0" cx="210.1" cy="198.8" r="4.25"/>
<circle class="c0" cx="163.2" cy="266.3" r="4.25"/>
<circle class="c0" cx="337.5" cy="340.5" r="4.25"/>
<circle class="c0" cx="164.6" cy="507.0" r="4.25"/>
<circle class="c0" cx="274.2" cy="208.2" r="4.25"/>
<circle class="c0" cx="248.8" cy="715.8" r="4.25"/>
<circle class="c0" cx="213.8" cy="186.8" r="4.25"/>
<circle class="c0" cx="196.0" cy="152.0" r="4.25"/>
<circle class="c0" cx="357.1" cy="436.5" r="4.25"/>
<circle class="c0" cx="241.8" cy="184.7" r="4.25"/>
<circle class="c10" cx="454.7" cy="237.9" r="4.25"/>
<circle class="c5" cx="483.9" cy="318.8" r="4.25"/>
<circle class="c0" cx="541.8" cy="393.2" r="4.25"/>
<circle class="c3" cx="204.2" cy="251.9" r="4.25"/>
<circle class="c9" cx="530.8" cy="361.6" r="4.25"/>
<circle class="c0" cx="200.4" cy="336.6" r="4.25"/>
<circle class="c0" cx="197.9" cy="311.7" r="4.25"/>
<circle class="c0" cx="118.5" cy="487.2" r="4.25"/>
<circle class="c0" cx="296.8" cy="137.2" r="4.25"/>
<circle class="c3" cx="181.6" cy="558.0" r="4.25"/>
<circle class="c0" cx="203.6" cy="416.0" r="4.25"/>
<circle class="c12" cx="244.2" cy="193.8" r="4.25"/>
<circle class="c0" cx="233.7" cy="710.4" r="4.25"/>
<circle class="c1" cx="187.6" cy="132.0" r="4.25"/>
<circle class="c0" cx="252.6" cy="414.3" r="4.25"/>
<circle class="c1" cx="252.8" cy="709.6" r="4.25"/>
<circle class="c0" cx="240.8" cy="288.7" r="4.25"/>
<circle class="c0" cx="171.8" cy="459.3" r="4.25"/>
<circle class="c0" cx="177.2" cy="188.2" r="4.25"/>
<circle class="c0" cx="229.4" cy="400.5" r="4.25"/>
<circle class="c0" cx="205.9" cy="269.6" r="4.25"/>
<circle class="c3" cx="173.5" cy="215.4" r="4.25"/>
<circle class="c0" cx="172.9" cy="288.3" r="4.25"/>
<circle class="c12" cx="481.4" cy="574.9" r="4.25"/>
<circle class="c0" cx="147.1" cy="390.4" r="4.25"/>
<circle class="c0" cx="186.4" cy="517.8" r="4.25"/>
<circle class="c17" cx="313.7" cy="268.2" r="4.25"/>
<circle class="c0" cx="263.3" cy="689.9" r="4.25"/>
<circle class="c0" cx="234.9" cy="199.8" r="4.25"/>
<circle class="c0" cx="520.5" cy="419.2" r="4.25"/>
<circle class="c6" cx="406.2" cy="582.2" r="4.25"/>
<circle class="c2" cx="302.6" cy="131.7" r="4.25"/>
<circle class="c9" cx="322.0" cy="378.4" r="4.25"/>
<circle class="c3" cx="246.4" cy="397.3" r="4.25"/>
<circle class="c0" cx="236.5" cy="294.2" r="4.25"/>
<circle class="c0" cx="334.7" cy="364.2" r="4.25"/>
<circle class="c0" cx="321.3" cy="392.3" r="4.25"/>
<circle class="c0" cx="250.9" cy="756.7" r="4.25"/>
<circle class="c3" cx="224.4" cy="212.6" r="4.25"/>
<circle class="c0" cx="215.7" cy="406.2" r="4.25"/>
<circle class="c0" cx="212.4" cy="202.5" r="4.25"/>
<circle class="c0" cx="338.1" cy="623.3" r="4.25"/>
<circle class="c0" cx="274.0" cy="264.0" r="4.25"/>
<circle class="c1" cx="182.4" cy="243.6" r="4.25"/>
<circle class="c0" cx="198.7" cy="463.2" r="4.25"/>
<circle class="c0" cx="178.7" cy="159.7" r="4.25"/>
<circle class="c0" cx="257.4" cy="280.6" r="4.25"/>
<circle class="c0" cx="277.5" cy="650.4" r="4.25"/>
<circle class="c16" cx="469.8" cy="248.8" r="4.25"/>
<circle class="c0" cx="254.8" cy="395.8" r="4.25"/>
<circle class="c0" cx="165.2" cy="320.5" r="4.25"/>
<circle class="c0" cx="532.4" cy="381.5" r="4.25"/>
<circle class="c3" cx="229.2" cy="753.2" r="4.25"/>
<circle class="c4" cx="439.7" cy="309.5" r="4.25"/>
<circle class="c0" cx="163.3" cy="535.3" r="4.25"/>
<circle class="c0" cx="214.3" cy="438.8" r="4.25"/>
<circle class="c0" cx="191.0" cy="524.4" r="4.25"/>
<circle class="c0" cx="169.4" cy="205.2" r="4.25"/>
<circle class="c0" cx="255.8" cy="194.3" r="4.25"/>
<circle class="c2" cx="243.5" cy="337.2" r="4.25"/>
<circle class="c0" cx="267.3" cy="815.2" r="4.25"/>
<circle class="c0" cx="158.3" cy="126.1" r="4.25"/>
<circle class="c1" cx="225.9" cy="550.2" r="4.25"/>
<circle class="c0" cx="151.9" cy="367.8" r="4.25"/>
<circle class="c0" cx="230.2" cy="460.6" r="4.25"/>
<circle class="c9" cx="500.4" cy="371.7" r="4.25"/>
<circle class="c5" cx="444.2" cy="236.9" r="4.25"/>
<circle class="c11" cx="483.2" cy="370.2" r="4.25"/>
<circle class="c16" cx="496.4" cy="328.7" r="4.25"/>
<circle class="c0" cx="158.8" cy="122.1" r="4.25"/>
<circle class="c0" cx="135.2" cy="442.1" r="4.25"/>
<circle class="c6" cx="504.6" cy="446.1" r="4.25"/>
<circle class="c0" cx="129.8" cy="529.4" r="4.25"/>
<circle class="c0" cx="185.7" cy="491.4" r="4.25"/>
<circle class="c1" cx="307.3" cy="120.4" r="4.25"/>
<circle class="c0" cx="353.4" cy="376.1" r="4.25"/>
<circle class="c0" cx="211.1" cy="569.1" r="4.25"/>
<circle class="c0" cx="151.8" cy="354.3" r="4.25"/>
<circle class="c0" cx="504.5" cy="527.7" r="4.25"/>
<circle class="c0" cx="192.8" cy="118.6" r="4.25"/>
<circle class="c15" cx="343.5" cy="373.4" r="4.25"/>
<circle class="c0" cx="324.2" cy="648.0" r="4.25"/>
<circle class="c0" cx="160.1" cy="425.7" r="4.25"/>
<circle class="c0" cx="242.6" cy="386.7" r="4.25"/>
<circle class="c3" cx="255.2" cy="292.5" r="4.25"/>
<circle class="c0" cx="179.7" cy="422.8" r="4.25"/>
<circle class="c0" cx="218.8" cy="330.8" r="4.25"/>
<circle class="c0" cx="235.2" cy="412.1" r="4.25"/>
<circle class="c0" cx="221.3" cy="357.7" r="4.25"/>
<circle class="c1" cx="481.7" cy="312.4" r="4.25"/>
<circle class="c2" cx="337.6" cy="298.3" r="4.25"/>
<circle class="c11" cx="388.1" cy="214.6" r="4.25"/>
<circle class="c16" cx="338.8" cy="270.5" r="4.25"/>
<circle class="c7" cx="443.4" cy="245.9" r="4.25"/>
<circle class="c0" cx="183.1" cy="545.6" r="4.25"/>
<circle class="c0" cx="183.6" cy="385.2" r="4.25"/>
<circle class="c0" cx="128.8" cy="532.5" r="4.25"/>
<circle class="c0" cx="239.7" cy="380.1" r="4.25"/>
<circle class="c0" cx="158.6" cy="542.7" r="4.25"/>
<circle class="c0" cx="203.2" cy="594.7" r="4.25"/>
<circle class="c0" cx="172.6" cy="417.4" r="4.25"/>
<circle class="c0" cx="205.8" cy="526.5" r="4.25"/>
<circle class="c0" cx="325.9" cy="645.6" r="4.25"/>
<circle class="c0" cx="239.6" cy="180.0" r="4.25"/>
<circle class="c9" cx="544.5" cy="380.0" r="4.25"/>
<circle class="c0" cx="336.2" cy="384.6" r="4.25"/>
<circle class="c0" cx="236.7" cy="450.0" r="4.25"/>
<circle class="c0" cx="181.7" cy="211.7" r="4.25"/>
<circle class="c0" cx="411.0" cy="526.3" r="4.25"/>
<circle class="c0" cx="556.1" cy="410.7" r="4.25"/>
<circle class="c2" cx="335.9" cy="317.1" r="4.25"/>
<circle class="c13" cx="435.9" cy="246.0" r="4.25"/>
<circle class="c12" cx="229.3" cy="72.0" r="4.25"/>
<circle class="c0" cx="208.6" cy="379.7" r="4.25"/>
<circle class="c0" cx="367.2" cy="740.9" r="4.25"/>
<circle class="c8" cx="437.8" cy="231.7" r="4.25"/>
<circle class="c0" cx="228.9" cy="742.7" r="4.25"/>
<circle class="c0" cx="149.0" cy="433.8" r="4.25"/>
<circle class="c3" cx="213.0" cy="164.5" r="4.25"/>
<circle class="c0" cx="166.8" cy="126.0" r="4.25"/>
<circle class="c0" cx="253.3" cy="242.4" r="4.25"/>
<circle class="c2" cx="233.7" cy="245.9" r="4.25"/>
<circle class="c0" cx="412.4" cy="583.9" r="4.25"/>
<circle class="c0" cx="207.3" cy="424.6" r="4.25"/>
<circle class="c0" cx="205.2" cy="320.5" r="4.25"/>
<circle class="c0" cx="493.8" cy="412.1" r="4.25"/>
<circle class="c0" cx="213.7" cy="309.6" r="4.25"/>
<circle class="c1" cx="351.0" cy="359.4" r="4.25"/>
<circle class="c0" cx="398.6" cy="528.2" r="4.25"/>
<circle class="c0" cx="214.4" cy="533.0" r="4.25"/>
<circle class="c0" cx="240.2" cy="111.5" r="4.25"/>
<circle class="c0" cx="206.4" cy="308.3" r="4.25"/>
<circle class="c0" cx="227.2" cy="452.1" r="4.25"/>
<circle class="c0" cx="540.6" cy="390.9" r="4.25"/>
<circle class="c9" cx="232.2" cy="601.9" r="4.25"/>
<circle class="c0" cx="139.4" cy="417.1" r="4.25"/>
<circle class="c0" cx="229.4" cy="496.4" r="4.25"/>
<circle class="c0" cx="363.1" cy="366.7" r="4.25"/>
<circle class="c0" cx="215.9" cy="225.8" r="4.25"/>
<circle class="c6" cx="258.5" cy="239.5" r="4.25"/>
<circle class="c6" cx="200.7" cy="306.4" r="4.25"/>
<circle class="c0" cx="351.5" cy="420.5" r="4.25"/>
<circle class="c0" cx="183.1" cy="450.7" r="4.25"/>
<circle class="c0" cx="134.0" cy="500.8" r="4.25"/>
<circle class="c0" cx="192.6" cy="331.7" r="4.25"/>
<circle class="c5" cx="422.9" cy="327.5" r="4.25"/>
<circle class="c0" cx="131.4" cy="512.2" r="4.25"/>
<circle class="c0" cx="212.7" cy="261.3" r="4.25"/>
<circle class="c0" cx="391.4" cy="656.1" r="4.25"/>
<circle class="c0" cx="238.7" cy="652.3" r="4.25"/>
<circle class="c0" cx="181.8" cy="493.7" r="4.25"/>
<circle class="c0" cx="221.6" cy="162.8" r="4.25"/>
<circle class="c0" cx="163.4" cy="546.1" r="4.25"/>
<circle class="c0" cx="140.7" cy="417.5" r="4.25"/>
<circle class="c0" cx="249.9" cy="626.5" r="4.25"/>
<circle class="c3" cx="197.6" cy="248.3" r="4.25"/>
<circle class="c0" cx="259.8" cy="250.2" r="4.25"/>
<circle class="c0" cx="208.3" cy="683.1" r="4.25"/>
<circle class="c0" cx="219.5" cy="545.8" r="4.25"/>
<circle class="c0" cx="233.8" cy="617.0" r="4.25"/>
<circle class="c15" cx="199.6" cy="182.3" r="4.25"/>
<circle class="c10" cx="437.4" cy="275.5" r="4.25"/>
<circle class="c0" cx="195.2" cy="489.9" r="4.25"/>
<circle class="c0" cx="256.1" cy="637.1" r="4.25"/>
<circle class="c0" cx="268.9" cy="820.7" r="4.25"/>
<circle class="c0" cx="211.4" cy="577.3" r="4.25"/>
<circle class="c12" cx="125.9" cy="473.4" r="4.25"/>
<circle class="c0" cx="190.1" cy="127.1" r="4.25"/>
<circle class="c0" cx="246.5" cy="351.0" r="4.25"/>
<circle class="c0" cx="186.1" cy="573.2" r="4.25"/>
<circle class="c0" cx="132.6" cy="481.2" r="4.25"/>
<circle class="c9" cx="502.1" cy="350.9" r="4.25"/>
<circle class="c0" cx="314.4" cy="386.3" r="4.25"/>
<circle class="c0" cx="123.4" cy="458.9" r="4.25"/>
<circle class="c0" cx="123.2" cy="503.1" r="4.25"/>
<circle class="c0" cx="220.6" cy="569.7" r="4.25"/>
<circle class="c0" cx="157.1" cy="451.2" r="4.25"/>
<circle class="c0" cx="172.3" cy="116.5" r="4.25"/>
<circle class="c0" cx="198.3" cy="283.7" r="4.25"/>
<circle class="c0" cx="248.0" cy="438.5" r="4.25"/>
<circle class="c0" cx="144.5" cy="505.9" r="4.25"/>
<circle class="c7" cx="440.3" cy="272.8" r="4.25"/>
<circle class="c0" cx="204.3" cy="357.7" r="4.25"/>
<circle class="c13" cx="497.1" cy="356.0" r="4.25"/>
<circle class="c3" cx="174.3" cy="67.3" r="4.25"/>
<circle class="c0" cx="270.4" cy="168.1" r="4.25"/>
<circle class="c0" cx="198.4" cy="210.6" r="4.25"/>
<circle class="c1" cx="318.5" cy="617.9" r="4.25"/>
<circle class="c0" cx="204.1" cy="456.1" r="4.25"/>
<circle class="c0" cx="222.6" cy="496.9" r="4.25"/>
<circle class="c0" cx="245.4" cy="665.8" r="4.25"/>
<circle class="c0" cx="218.7" cy="347.1" r="4.25"/>
<circle class="c4" cx="423.3" cy="234.8" r="4.25"/>
<circle class="c2" cx="182.0" cy="522.7" r="4.25"/>
<circle class="c0" cx="499.5" cy="351.1" r="4.25"/>
<circle class="c0" cx="151.5" cy="378.6" r="4.25"/>
<circle class="c0" cx="232.4" cy="194.9" r="4.25"/>
<circle class="c12" cx="348.3" cy="625.7" r="4.25"/>
<circle class="c9" cx="489.1" cy="405.2" r="4.25"/>
<circle class="c17" cx="313.6" cy="241.4" r="4.25"/>
<circle class="c2" cx="196.2" cy="470.7" r="4.25"/>
<circle class="c0" cx="207.1" cy="405.3" r="4.25"/>
<circle class="c0" cx="213.9" cy="350.0" r="4.25"/>
<circle class="c0" cx="247.8" cy="379.2" r="4.25"/>
<circle class="c0" cx="189.9" cy="110.3" r="4.25"/>
<circle class="c0" cx="274.9" cy="749.7" r="4.25"/>
<circle class="c3" cx="190.7" cy="389.9" r="4.25"/>
<circle class="c0" cx="271.8" cy="162.0" r="4.25"/>
<circle class="c0" cx="195.2" cy="447.5" r="4.25"/>
<circle class="c0" cx="372.4" cy="753.2" r="4.25"/>
<circle class="c15" cx="170.1" cy="268.1" r="4.25"/>
<circle class="c2" cx="250.3" cy="287.4" r="4.25"/>
<circle class="c10" cx="444.0" cy="332.9" r="4.25"/>
<circle class="c0" cx="248.1" cy="534.2" r="4.25"/>
<circle class="c0" cx="205.5" cy="130.0" r="4.25"/>
<circle class="c0" cx="233.0" cy="260.3" r="4.25"/>
<circle class="c0" cx="359.9" cy="362.4" r="4.25"/>
<circle class="c9" cx="193.3" cy="527.7" r="4.25"/>
<circle class="c0" cx="214.8" cy="252.4" r="4.25"/>
<circle class="c0" cx="173.6" cy="281.3" r="4.25"/>
<circle class="c2" cx="225.7" cy="444.9" r="4.25"/>
<circle class="c15" cx="337.0" cy="388.7" r="4.25"/>
<circle class="c0" cx="172.1" cy="193.4" r="4.25"/>
<circle class="c0" cx="215.3" cy="265.8" r="4.25"/>
<circle class="c2" cx="198.4" cy="545.5" r="4.25"/>
<circle class="c0" cx="188.5" cy="411.8" r="4.25"/>
<circle class="c0" cx="197.4" cy="145.9" r="4.25"/>
<circle class="c0" cx="185.6" cy="553.7" r="4.25"/>
<circle class="c15" cx="242.9" cy="245.5" r="4.25"/>
<circle class="c0" cx="215.3" cy="424.4" r="4.25"/>
<circle class="c6" cx="215.4" cy="328.8" r="4.25"/>
<circle class="c0" cx="212.6" cy="234.5" r="4.25"/>
<circle class="c0" cx="277.2" cy="633.5" r="4.25"/>
<circle class="c9" cx="183.7" cy="146.9" r="4.25"/>
<circle class="c9" cx="175.7" cy="202.0" r="4.25"/>
<circle class="c0" cx="345.7" cy="620.1" r="4.25"/>
<circle class="c0" cx="195.0" cy="354.6" r="4.25"/>
<circle class="c9" cx="531.8" cy="431.4" r="4.25"/>
<circle class="c4" cx="477.0" cy="404.0" r="4.25"/>
<circle class="c0" cx="221.6" cy="629.5" r="4.25"/>
<circle class="c0" cx="192.4" cy="459.2" r="4.25"/>
<circle class="c0" cx="159.8" cy="466.5" r="4.25"/>
<circle class="c0" cx="333.3" cy="383.6" r="4.25"/>
<circle class="c0" cx="165.3" cy="547.1" r="4.25"/>
<circle class="c0" cx="179.9" cy="79.5" r="4.25"/>
<circle class="c0" cx="206.5" cy="660.6" r="4.25"/>
<circle class="c0" cx="214.6" cy="706.6" r="4.25"/>
<circle class="c0" cx="212.2" cy="93.7" r="4.25"/>
<circle class="c0" cx="244.1" cy="731.9" r="4.25"/>
<circle class="c2" cx="275.1" cy="782.4" r="4.25"/>
<circle class="c0" cx="404.2" cy="529.3" r="4.25"/>
<circle class="c0" cx="151.6" cy="446.3" r="4.25"/>
<circle class="c0" cx="538.9" cy="375.2" r="4.25"/>
<circle class="c0" cx="166.0" cy="441.7" r="4.25"/>
<circle class="c0" cx="149.2" cy="515.8" r="4.25"/>
<circle class="c4" cx="476.6" cy="253.6" r="4.25"/>
<circle class="c0" cx="365.2" cy="742.4" r="4.25"/>
<circle class="c8" cx="476.5" cy="284.7" r="4.25"/>
<circle class="c0" cx="171.4" cy="179.8" r="4.25"/>
<circle class="c0" cx="536.4" cy="366.1" r="4.25"/>
<circle class="c0" cx="148.4" cy="390.6" r="4.25"/>
<circle class="c0" cx="200.5" cy="198.7" r="4.25"/>
<circle class="c0" cx="358.8" cy="745.9" r="4.25"/>
<circle class="c1" cx="238.5" cy="360.0" r="4.25"/>
<circle class="c0" cx="184.6" cy="89.7" r="4.25"/>
<circle class="c0" cx="169.8" cy="74.7" r="4.25"/>
<circle class="c0" cx="215.4" cy="683.2" r="4.25"/>
<circle class="c0" cx="240.1" cy="453.6" r="4.25"/>
<circle class="c0" cx="239.9" cy="469.9" r="4.25"/>
<circle class="c0" cx="173.2" cy="425.7" r="4.25"/>
<circle class="c0" cx="230.5" cy="195.8" r="4.25"/>
<circle class="c0" cx="279.9" cy="647.4" r="4.25"/>
<circle class="c0" cx="520.1" cy="420.6" r="4.25"/>
<circle class="c0" cx="209.4" cy="504.8" r="4.25"/>
<circle class="c0" cx="232.4" cy="665.3" r="4.25"/>
<circle class="c0" cx="234.1" cy="496.7" r="4.25"/>
<circle class="c0" cx="176.5" cy="277.1" r="4.25"/>
<circle class="c0" cx="226.0" cy="137.2" r="4.25"/>
<circle class="c8" cx="308.9" cy="256.8" r="4.25"/>
<circle class="c0" cx="137.2" cy="471.8" r="4.25"/>
<circle class="c0" cx="340.9" cy="352.9" r="4.25"/>
<circle class="c9" cx="158.3" cy="188.9" r="4.25"/>
<circle class="c9" cx="531.5" cy="350.1" r="4.25"/>
<circle class="c2" cx="310.9" cy="619.2" r="4.25"/>
<circle class="c5" cx="485.0" cy="303.0" r="4.25"/>
<circle class="c0" cx="157.2" cy="179.6" r="4.25"/>
<circle class="c0" cx="160.0" cy="422.8" r="4.25"/>
<circle class="c0" cx="369.9" cy="731.7" r="4.25"/>
<circle class="c0" cx="241.4" cy="216.9" r="4.25"/>
<circle class="c0" cx="207.1" cy="361.9" r="4.25"/>
<circle class="c0" cx="211.3" cy="492.1" r="4.25"/>
<circle class="c0" cx="145.5" cy="557.0" r="4.25"/>
<circle class="c0" cx="250.5" cy="323.7" r="4.25"/>
<circle class="c17" cx="444.2" cy="277.9" r="4.25"/>
<circle class="c0" cx="252.8" cy="351.4" r="4.25"/>
<circle class="c0" cx="197.4" cy="640.9" r="4.25"/>
<circle class="c2" cx="186.7" cy="444.8" r="4.25"/>
<circle class="c0" cx="405.5" cy="528.7" r="4.25"/>
<circle class="c12" cx="503.0" cy="452.4" r="4.25"/>
<circle class="c0" cx="196.3" cy="246.0" r="4.25"/>
<circle class="c0" cx="159.9" cy="138.7" r="4.25"/>
<circle class="c2" cx="188.2" cy="92.9" r="4.25"/>
<circle class="c0" cx="223.6" cy="325.7" r="4.25"/>
<circle class="c0" cx="304.1" cy="121.0" r="4.25"/>
<circle class="c0" cx="216.9" cy="260.8" r="4.25"/>
<circle class="c0" cx="362.8" cy="725.7" r="4.25"/>
<circle class="c5" cx="420.1" cy="311.1" r="4.25"/>
<circle class="c2" cx="183.1" cy="267.3" r="4.25"/>
<circle class="c0" cx="379.7" cy="740.3" r="4.25"/>
<circle class="c0" cx="253.1" cy="603.2" r="4.25"/>
<circle class="c0" cx="504.4" cy="495.5" r="4.25"/>
<circle class="c0" cx="173.8" cy="316.1" r="4.25"/>
<circle class="c13" cx="307.2" cy="240.9" r="4.25"/>
<circle class="c0" cx="264.8" cy="187.8" r="4.25"/>
<circle class="c0" cx="246.3" cy="349.3" r="4.25"/>
<circle class="c0" cx="252.8" cy="779.5" r="4.25"/>
<circle class="c0" cx="179.3" cy="344.9" r="4.25"/>
<circle class="c0" cx="200.4" cy="353.6" r="4.25"/>
<circle class="c3" cx="235.3" cy="91.6" r="4.25"/>
<circle class="c0" cx="142.8" cy="398.3" r="4.25"/>
<circle class="c0" cx="279.9" cy="160.4" r="4.25"/>
<circle class="c0" cx="152.0" cy="557.4" r="4.25"/>
<circle class="c0" cx="213.9" cy="407.8" r="4.25"/>
<circle class="c0" cx="301.9" cy="238.4" r="4.25"/>
<circle class="c0" cx="211.1" cy="527.8" r="4.25"/>
<circle class="c0" cx="206.3" cy="512.7" r="4.25"/>
<circle class="c0" cx="238.3" cy="503.6" r="4.25"/>
<circle class="c0" cx="213.4" cy="313.7" r="4.25"/>
<circle class="c0" cx="306.9" cy="721.6" r="4.25"/>
<circle class="c0" cx="145.4" cy="438.6" r="4.25"/>
<circle class="c0" cx="161.8" cy="169.3" r="4.25"/>
<circle class="c0" cx="277.5" cy="197.4" r="4.25"/>
<circle class="c0" cx="209.1" cy="469.6" r="4.25"/>
<circle class="c6" cx="123.6" cy="525.7" r="4.25"/>
<circle class="c0" cx="207.3" cy="576.0" r="4.25"/>
<circle class="c0" cx="197.2" cy="99.4" r="4.25"/>
<circle class="c0" cx="345.6" cy="358.4" r="4.25"/>
<circle class="c4" cx="395.3" cy="281.5" r="4.25"/>
<circle class="c0" cx="270.1" cy="827.1" r="4.25"/>
<circle class="c0" cx="279.6" cy="168.6" r="4.25"/>
<circle class="c0" cx="299.0" cy="618.4" r="4.25"/>
<circle class="c0" cx="182.2" cy="396.5" r="4.25"/>
<circle class="c0" cx="213.9" cy="732.4" r="4.25"/>
<circle class="c0" cx="234.1" cy="194.0" r="4.25"/>
<circle class="c0" cx="244.5" cy="372.6" r="4.25"/>
<circle class="c0" cx="151.9" cy="525.4" r="4.25"/>
<circle class="c0" cx="330.2" cy="610.3" r="4.25"/>
<circle class="c0" cx="235.1" cy="592.9" r="4.25"/>
<circle class="c0" cx="538.0" cy="394.7" r="4.25"/>
<circle class="c0" cx="163.6" cy="269.0" r="4.25"/>
<circle class="c11" cx="489.0" cy="328.9" r="4.25"/>
<circle class="c0" cx="535.3" cy="378.2" r="4.25"/>
<circle class="c0" cx="256.7" cy="218.9" r="4.25"/>
<circle class="c0" cx="247.8" cy="396.6" r="4.25"/>
<circle class="c9" cx="325.5" cy="272.0" r="4.25"/>
<circle class="c0" cx="349.0" cy="749.6" r="4.25"/>
<circle class="c0" cx="200.0" cy="416.5" r="4.25"/>
<circle class="c15" cx="220.6" cy="707.8" r="4.25"/>
<circle class="c1" cx="226.0" cy="604.8" r="4.25"/>
<circle class="c0" cx="236.9" cy="90.2" r="4.25"/>
<circle class="c0" cx="226.5" cy="699.9" r="4.25"/>
<circle class="c4" cx="389.3" cy="278.3" r="4.25"/>
<circle class="c0" cx="274.4" cy="821.2" r="4.25"/>
<circle class="c0" cx="153.0" cy="410.0" r="4.25"/>
<circle class="c9" cx="553.4" cy="398.6" r="4.25"/>
<circle class="c0" cx="202.5" cy="470.0" r="4.25"/>
<circle class="c0" cx="172.9" cy="422.6" r="4.25"/>
<circle class="c0" cx="264.3" cy="746.3" r="4.25"/>
<circle class="c0" cx="188.1" cy="410.7" r="4.25"/>
<circle class="c0" cx="348.5" cy="369.7" r="4.25"/>
<circle class="c0" cx="173.6" cy="495.1" r="4.25"/>
<circle class="c0" cx="223.0" cy="182.7" r="4.25"/>
<circle class="c0" cx="181.8" cy="193.1" r="4.25"/>
<circle class="c0" cx="254.5" cy="791.9" r="4.25"/>
<circle class="c2" cx="251.1" cy="314.8" r="4.25"/>
<circle class="c10" cx="415.4" cy="263.4" r="4.25"/>
<circle class="c0" cx="113.7" cy="519.5" r="4.25"/>
<circle class="c0" cx="357.0" cy="407.2" r="4.25"/>
<circle class="c0" cx="499.6" cy="364.5" r="4.25"/>
<circle class="c17" cx="410.5" cy="297.0" r="4.25"/>
<circle class="c0" cx="217.7" cy="215.4" r="4.25"/>
<circle class="c0" cx="395.8" cy="654.9" r="4.25"/>
<circle class="c9" cx="231.5" cy="183.1" r="4.25"/>
<circle class="c0" cx="246.4" cy="450.2" r="4.25"/>
<circle class="c0" cx="503.7" cy="500.5" r="4.25"/>
<circle class="c0" cx="163.7" cy="155.4" r="4.25"/>
<circle class="c0" cx="264.5" cy="651.6" r="4.25"/>
<circle class="c0" cx="233.4" cy="86.4" r="4.25"/>
<circle class="c0" cx="213.6" cy="545.5" r="4.25"/>
<circle class="c15" cx="528.6" cy="351.8" r="4.25"/>
<circle class="c3" cx="157.9" cy="441.6" r="4.25"/>
<circle class="c12" cx="481.3" cy="577.0" r="4.25"/>
<circle class="c0" cx="124.6" cy="503.1" r="4.25"/>
<circle class="c0" cx="160.5" cy="555.0" r="4.25"/>
<circle class="c0" cx="232.9" cy="305.5" r="4.25"/>
<circle class="c7" cx="433.9" cy="268.1" r="4.25"/>
<circle class="c0" cx="141.5" cy="422.8" r="4.25"/>
<circle class="c0" cx="344.7" cy="738.5" r="4.25"/>
<circle class="c0" cx="528.2" cy="377.4" r="4.25"/>
<circle class="c0" cx="228.3" cy="559.8" r="4.25"/>
<circle class="c12" cx="239.4" cy="230.6" r="4.25"/>
<circle class="c15" cx="531.4" cy="400.1" r="4.25"/>
<circle class="c0" cx="250.9" cy="471.4" r="4.25"/>
<circle class="c0" cx="302.7" cy="131.0" r="4.25"/>
<circle class="c12" cx="214.9" cy="255.7" r="4.25"/>
<circle class="c0" cx="245.0" cy="291.1" r="4.25"/>
<circle class="c11" cx="399.6" cy="288.7" r="4.25"/>
<circle class="c8" cx="493.0" cy="322.9" r="4.25"/>
<circle class="c0" cx="210.0" cy="146.3" r="4.25"/>
<circle class="c0" cx="525.0" cy="402.0" r="4.25"/>
<circle class="c0" cx="389.2" cy="717.1" r="4.25"/>
<circle class="c3" cx="207.3" cy="131.8" r="4.25"/>
<circle class="c0" cx="179.8" cy="403.4" r="4.25"/>
<circle class="c0" cx="188.7" cy="194.6" r="4.25"/>
<circle class="c12" cx="224.2" cy="63.8" r="4.25"/>
<circle class="c0" cx="201.0" cy="221.9" r="4.25"/>
<circle class="c0" cx="238.6" cy="628.9" r="4.25"/>
<circle class="c3" cx="243.2" cy="195.5" r="4.25"/>
<circle class="c0" cx="137.2" cy="440.4" r="4.25"/>
<circle class="c0" cx="182.4" cy="563.4" r="4.25"/>
<circle class="c0" cx="254.2" cy="724.0" r="4.25"/>
<circle class="c0" cx="169.6" cy="341.5" r="4.25"/>
<circle class="c3" cx="165.9" cy="312.9" r="4.25"/>
<circle class="c0" cx="183.3" cy="389.5" r="4.25"/>
<circle class="c12" cx="494.2" cy="410.8" r="4.25"/>
<circle class="c15" cx="552.4" cy="421.3" r="4.25"/>
<circle class="c0" cx="157.3" cy="472.5" r="4.25"/>
<circle class="c0" cx="242.7" cy="453.4" r="4.25"/>
<circle class="c13" cx="314.0" cy="216.0" r="4.25"/>
<circle class="c0" cx="211.9" cy="625.3" r="4.25"/>
<circle class="c0" cx="197.5" cy="387.2" r="4.25"/>
<circle class="c0" cx="187.9" cy="158.1" r="4.25"/>
<circle class="c6" cx="395.2" cy="682.2" r="4.25"/>
<circle class="c0" cx="500.3" cy="512.4" r="4.25"/>
<circle class="c0" cx="246.9" cy="720.3" r="4.25"/>
<circle class="c0" cx="163.5" cy="359.1" r="4.25"/>
<circle class="c0" cx="546.7" cy="401.3" r="4.25"/>
<circle class="c0" cx="212.7" cy="471.8" r="4.25"/>
<circle class="c14" cx="384.5" cy="212.3" r="4.25"/>
<circle class="c0" cx="182.4" cy="180.3" r="4.25"/>
<circle class="c0" cx="341.2" cy="735.1" r="4.25"/>
<circle class="c0" cx="170.4" cy="514.8" r="4.25"/>
<circle class="c0" cx="189.7" cy="573.7" r="4.25"/>
<circle class="c11" cx="434.3" cy="274.4" r="4.25"/>
<circle class="c0" cx="292.7" cy="156.1" r="4.25"/>
<circle class="c4" cx="469.0" cy="276.6" r="4.25"/>
<circle class="c0" cx="174.3" cy="279.0" r="4.25"/>
<circle class="c15" cx="192.9" cy="491.7" r="4.25"/>
<circle class="c17" cx="468.6" cy="262.0" r="4.25"/>
<circle class="c0" cx="196.1" cy="346.0" r="4.25"/>
<circle class="c18" cx="379.2" cy="224.6" r="4.25"/>
<circle class="c0" cx="214.2" cy="348.6" r="4.25"/>
<circle class="c0" cx="141.5" cy="513.7" r="4.25"/>
<circle class="c0" cx="307.4" cy="104.0" r="4.25"/>
<circle class="c0" cx="202.2" cy="659.1" r="4.25"/>
<circle class="c0" cx="317.5" cy="396.4" r="4.25"/>
<circle class="c0" cx="177.6" cy="196.2" r="4.25"/>
<circle class="c0" cx="301.7" cy="126.8" r="4.25"/>
<circle class="c0" cx="140.2" cy="497.9" r="4.25"/>
<circle class="c0" cx="371.3" cy="747.7" r="4.25"/>
<circle class="c12" cx="296.4" cy="152.9" r="4.25"/>
<circle class="c0" cx="235.7" cy="647.1" r="4.25"/>
<circle class="c2" cx="208.8" cy="524.7" r="4.25"/>
<circle class="c0" cx="177.6" cy="395.1" r="4.25"/>
<circle class="c0" cx="171.3" cy="371.3" r="4.25"/>
<circle class="c0" cx="214.3" cy="525.2" r="4.25"/>
<circle class="c0" cx="176.9" cy="270.8" r="4.25"/>
<circle class="c0" cx="166.3" cy="146.1" r="4.25"/>
<circle class="c0" cx="175.4" cy="385.6" r="4.25"/>
<circle class="c15" cx="297.2" cy="124.7" r="4.25"/>
<circle class="c0" cx="225.8" cy="487.4" r="4.25"/>
<circle class="c4" cx="457.4" cy="249.4" r="4.25"/>
<circle class="c0" cx="362.2" cy="377.1" r="4.25"/>
<circle class="c0" cx="189.2" cy="186.2" r="4.25"/>
<circle class="c0" cx="300.6" cy="622.9" r="4.25"/>
<circle class="c0" cx="175.4" cy="399.3" r="4.25"/>
<circle class="c1" cx="327.0" cy="248.9" r="4.25"/>
<circle class="c0" cx="243.3" cy="529.4" r="4.25"/>
<circle class="c0" cx="165.0" cy="515.9" r="4.25"/>
<circle class="c0" cx="253.0" cy="215.2" r="4.25"/>
<circle class="c0" cx="247.4" cy="377.8" r="4.25"/>
<circle class="c2" cx="180.9" cy="308.9" r="4.25"/>
<circle class="c0" cx="169.7" cy="130.7" r="4.25"/>
<circle class="c0" cx="162.7" cy="78.9" r="4.25"/>
<circle class="c6" cx="335.6" cy="316.2" r="4.25"/>
<circle class="c0" cx="237.1" cy="364.0" r="4.25"/>
<circle class="c0" cx="154.0" cy="355.1" r="4.25"/>
<circle class="c0" cx="529.3" cy="384.2" r="4.25"/>
<circle class="c0" cx="181.7" cy="642.6" r="4.25"/>
<circle class="c0" cx="232.5" cy="465.0" r="4.25"/>
<circle class="c16" cx="482.7" cy="284.0" r="4.25"/>
<circle class="c0" cx="198.3" cy="332.7" r="4.25"/>
<circle class="c3" cx="234.2" cy="103.5" r="4.25"/>
<circle class="c0" cx="213.6" cy="127.6" r="4.25"/>
<circle class="c0" cx="183.3" cy="388.4" r="4.25"/>
<circle class="c0" cx="179.3" cy="167.8" r="4.25"/>
<circle class="c0" cx="160.6" cy="201.7" r="4.25"/>
<circle class="c0" cx="238.4" cy="168.0" r="4.25"/>
<circle class="c0" cx="547.4" cy="428.9" r="4.25"/>
<circle class="c11" cx="467.5" cy="277.0" r="4.25"/>
<circle class="c0" cx="223.9" cy="189.4" r="4.25"/>
<circle class="c0" cx="138.0" cy="460.1" r="4.25"/>
<circle class="c0" cx="230.8" cy="95.6" r="4.25"/>
<circle class="c0" cx="155.8" cy="398.8" r="4.25"/>
<circle class="c0" cx="248.5" cy="405.3" r="4.25"/>
<circle class="c2" cx="216.4" cy="684.3" r="4.25"/>
<circle class="c12" cx="302.4" cy="242.4" r="4.25"/>
<circle class="c0" cx="181.3" cy="485.5" r="4.25"/>
<circle class="c0" cx="236.6" cy="168.8" r="4.25"/>
<circle class="c0" cx="222.1" cy="549.6" r="4.25"/>
<circle class="c0" cx="532.3" cy="413.4" r="4.25"/>
<circle class="c0" cx="161.2" cy="159.0" r="4.25"/>
<circle class="c8" cx="445.2" cy="271.7" r="4.25"/>
<circle class="c2" cx="169.5" cy="151.1" r="4.25"/>
<circle class="c1" cx="356.7" cy="448.3" r="4.25"/>
<circle class="c1" cx="484.8" cy="334.7" r="4.25"/>
<circle class="c0" cx="389.6" cy="535.4" r="4.25"/>
<circle class="c0" cx="206.8" cy="440.2" r="4.25"/>
<circle class="c0" cx="188.7" cy="88.8" r="4.25"/>
<circle class="c0" cx="203.9" cy="195.0" r="4.25"/>
<circle class="c0" cx="326.0" cy="384.2" r="4.25"/>
<circle class="c0" cx="211.1" cy="401.7" r="4.25"/>
<circle class="c1" cx="218.3" cy="327.2" r="4.25"/>
<circle class="c3" cx="255.4" cy="198.2" r="4.25"/>
<circle class="c9" cx="196.2" cy="146.9" r="4.25"/>
<circle class="c0" cx="557.4" cy="400.7" r="4.25"/>
<circle class="c0" cx="203.9" cy="426.4" r="4.25"/>
<circle class="c0" cx="217.5" cy="635.9" r="4.25"/>
<circle class="c6" cx="500.5" cy="450.0" r="4.25"/>
<circle class="c0" cx="183.4" cy="558.0" r="4.25"/>
<circle class="c0" cx="353.9" cy="449.3" r="4.25"/>
<circle class="c1" cx="257.0" cy="194.4" r="4.25"/>
<circle class="c0" cx="205.9" cy="579.3" r="4.25"/>
<circle class="c0" cx="227.2" cy="296.0" r="4.25"/>
<circle class="c0" cx="169.2" cy="218.9" r="4.25"/>
<circle class="c0" cx="472.2" cy="583.9" r="4.25"/>
<circle class="c0" cx="171.4" cy="417.2" r="4.25"/>
<circle class="c0" cx="247.6" cy="620.9" r="4.25"/>
<circle class="c0" cx="167.0" cy="242.7" r="4.25"/>
<circle class="c2" cx="237.2" cy="501.8" r="4.25"/>
<circle class="c13" cx="429.3" cy="228.6" r="4.25"/>
<circle class="c0" cx="209.5" cy="124.2" r="4.25"/>
<circle class="c6" cx="470.8" cy="512.0" r="4.25"/>
<circle class="c0" cx="525.8" cy="356.6" r="4.25"/>
<circle class="c0" cx="239.0" cy="490.1" r="4.25"/>
<circle class="c15" cx="188.9" cy="574.8" r="4.25"/>
<circle class="c0" cx="249.5" cy="391.3" r="4.25"/>
<circle class="c12" cx="304.4" cy="273.2" r="4.25"/>
<circle class="c1" cx="522.6" cy="394.0" r="4.25"/>
<circle class="c0" cx="148.0" cy="523.7" r="4.25"/>
<circle class="c0" cx="472.5" cy="586.9" r="4.25"/>
<circle class="c6" cx="497.5" cy="413.4" r="4.25"/>
<circle class="c0" cx="351.4" cy="365.5" r="4.25"/>
<circle class="c2" cx="200.3" cy="588.4" r="4.25"/>
<circle class="c0" cx="198.7" cy="156.6" r="4.25"/>
<circle class="c0" cx="214.6" cy="703.4" r="4.25"/>
<circle class="c16" cx="409.0" cy="301.9" r="4.25"/>
<circle class="c0" cx="128.0" cy="502.2" r="4.25"/>
<circle class="c0" cx="222.0" cy="362.7" r="4.25"/>
<circle class="c0" cx="408.0" cy="525.6" r="4.25"/>
<circle class="c0" cx="117.6" cy="484.8" r="4.25"/>
<circle class="c2" cx="238.1" cy="89.0" r="4.25"/>
<circle class="c0" cx="120.0" cy="503.7" r="4.25"/>
<circle class="c0" cx="168.0" cy="494.6" r="4.25"/>
<circle class="c9" cx="343.1" cy="619.9" r="4.25"/>
<circle class="c0" cx="268.2" cy="832.4" r="4.25"/>
<circle class="c13" cx="467.2" cy="276.0" r="4.25"/>
<circle class="c9" cx="225.9" cy="603.1" r="4.25"/>
<circle class="c0" cx="351.7" cy="358.9" r="4.25"/>
<circle class="c15" cx="204.4" cy="119.7" r="4.25"/>
<circle class="c0" cx="246.4" cy="278.0" r="4.25"/>
<circle class="c0" cx="179.1" cy="311.2" r="4.25"/>
<circle class="c0" cx="233.6" cy="251.6" r="4.25"/>
<circle class="c0" cx="360.8" cy="456.8" r="4.25"/>
<circle class="c0" cx="254.6" cy="233.3" r="4.25"/>
<circle class="c0" cx="138.0" cy="501.4" r="4.25"/>
<circle class="c0" cx="239.6" cy="660.9" r="4.25"/>
<circle class="c0" cx="186.1" cy="128.8" r="4.25"/>
<circle class="c2" cx="316.6" cy="275.7" r="4.25"/>
<circle class="c0" cx="406.3" cy="527.3" r="4.25"/>
<circle class="c0" cx="262.4" cy="233.1" r="4.25"/>
<circle class="c0" cx="185.7" cy="432.7" r="4.25"/>
<circle class="c0" cx="236.7" cy="240.0" r="4.25"/>
<circle class="c0" cx="180.8" cy="358.1" r="4.25"/>
<circle class="c2" cx="538.4" cy="369.7" r="4.25"/>
<circle class="c0" cx="200.5" cy="411.9" r="4.25"/>
<circle class="c5" cx="444.5" cy="247.1" r="4.25"/>
<circle class="c9" cx="356.2" cy="391.3" r="4.25"/>
<circle class="c0" cx="221.9" cy="559.7" r="4.25"/>
<circle class="c0" cx="176.1" cy="70.6" r="4.25"/>
<circle class="c0" cx="232.3" cy="392.4" r="4.25"/>
<circle class="c0" cx="275.0" cy="807.4" r="4.25"/>
<circle class="c9" cx="501.9" cy="503.3" r="4.25"/>
<circle class="c0" cx="188.8" cy="472.7" r="4.25"/>
<circle class="c0" cx="209.3" cy="206.7" r="4.25"/>
<circle class="c0" cx="189.5" cy="435.9" r="4.25"/>
<circle class="c0" cx="333.6" cy="375.4" r="4.25"/>
<circle class="c0" cx="209.3" cy="369.2" r="4.25"/>
<circle class="c3" cx="189.0" cy="575.3" r="4.25"/>
<circle class="c1" cx="141.3" cy="448.8" r="4.25"/>
<circle class="c0" cx="190.9" cy="520.6" r="4.25"/>
<circle class="c2" cx="158.5" cy="543.1" r="4.25"/>
<circle class="c0" cx="410.5" cy="529.0" r="4.25"/>
<circle class="c0" cx="241.0" cy="592.2" r="4.25"/>
<circle class="c0" cx="181.6" cy="500.5" r="4.25"/>
<circle class="c0" cx="219.4" cy="717.3" r="4.25"/>
<circle class="c0" cx="215.9" cy="584.6" r="4.25"/>
<circle class="c0" cx="177.2" cy="184.3" r="4.25"/>
<circle class="c15" cx="329.9" cy="381.8" r="4.25"/>
<circle class="c1" cx="155.0" cy="341.5" r="4.25"/>
<circle class="c0" cx="254.9" cy="777.2" r="4.25"/>
<circle class="c15" cx="536.9" cy="377.9" r="4.25"/>
<circle class="c0" cx="217.3" cy="680.9" r="4.25"/>
<circle class="c0" cx="176.0" cy="212.2" r="4.25"/>
<circle class="c0" cx="214.7" cy="270.4" r="4.25"/>
<circle class="c0" cx="125.0" cy="516.2" r="4.25"/>
<circle class="c12" cx="303.0" cy="233.5" r="4.25"/>
<circle class="c0" cx="204.4" cy="461.5" r="4.25"/>
<circle class="c1" cx="259.2" cy="198.8" r="4.25"/>
<circle class="c0" cx="197.8" cy="250.5" r="4.25"/>
<circle class="c0" cx="388.8" cy="715.2" r="4.25"/>
<circle class="c0" cx="357.7" cy="360.6" r="4.25"/>
<circle class="c16" cx="471.3" cy="255.3" r="4.25"/>
<circle class="c0" cx="403.9" cy="574.1" r="4.25"/>
<circle class="c0" cx="192.9" cy="488.8" r="4.25"/>
<circle class="c0" cx="251.5" cy="263.9" r="4.25"/>
<circle class="c0" cx="138.4" cy="415.3" r="4.25"/>
<circle class="c0" cx="173.6" cy="488.9" r="4.25"/>
<circle class="c9" cx="477.8" cy="567.7" r="4.25"/>
<circle class="c0" cx="224.5" cy="287.3" r="4.25"/>
<circle class="c0" cx="282.2" cy="136.8" r="4.25"/>
<circle class="c0" cx="204.3" cy="295.5" r="4.25"/>
<circle class="c2" cx="220.9" cy="509.5" r="4.25"/>
<circle class="c9" cx="475.9" cy="519.7" r="4.25"/>
<circle class="c0" cx="406.6" cy="554.6" r="4.25"/>
<circle class="c0" cx="268.2" cy="640.2" r="4.25"/>
<circle class="c0" cx="228.2" cy="193.4" r="4.25"/>
<circle class="c0" cx="240.4" cy="310.5" r="4.25"/>
<circle class="c0" cx="210.2" cy="491.3" r="4.25"/>
<circle class="c6" cx="497.0" cy="372.5" r="4.25"/>
<circle class="c0" cx="213.2" cy="451.0" r="4.25"/>
<circle class="c0" cx="286.8" cy="662.6" r="4.25"/>
<circle class="c0" cx="193.4" cy="660.8" r="4.25"/>
<circle class="c3" cx="274.8" cy="763.3" r="4.25"/>
<circle class="c2" cx="227.1" cy="278.8" r="4.25"/>
<circle class="c0" cx="233.1" cy="118.8" r="4.25"/>
<circle class="c12" cx="351.6" cy="398.3" r="4.25"/>
<circle class="c0" cx="211.1" cy="351.2" r="4.25"/>
<circle class="c15" cx="532.5" cy="343.6" r="4.25"/>
<circle class="c8" cx="494.0" cy="444.9" r="4.25"/>
<circle class="c0" cx="126.9" cy="547.2" r="4.25"/>
<circle class="c0" cx="190.6" cy="384.8" r="4.25"/>
<circle class="c0" cx="416.0" cy="609.4" r="4.25"/>
<circle class="c1" cx="480.4" cy="313.4" r="4.25"/>
<circle class="c0" cx="239.2" cy="781.3" r="4.25"/>
<circle class="c0" cx="283.7" cy="177.3" r="4.25"/>
<circle class="c0" cx="166.0" cy="249.3" r="4.25"/>
<circle class="c1" cx="234.6" cy="156.7" r="4.25"/>
<circle class="c0" cx="235.0" cy="456.1" r="4.25"/>
<circle class="c0" cx="234.5" cy="198.1" r="4.25"/>
<circle class="c0" cx="506.2" cy="507.5" r="4.25"/>
<circle class="c0" cx="251.9" cy="280.6" r="4.25"/>
<circle class="c0" cx="212.1" cy="319.3" r="4.25"/>
<circle class="c0" cx="210.4" cy="300.9" r="4.25"/>
<circle class="c0" cx="181.8" cy="356.5" r="4.25"/>
<circle class="c0" cx="251.0" cy="401.1" r="4.25"/>
<circle class="c0" cx="494.4" cy="485.7" r="4.25"/>
<circle class="c0" cx="228.6" cy="552.7" r="4.25"/>
<circle class="c0" cx="189.5" cy="369.2" r="4.25"/>
<circle class="c0" cx="203.3" cy="628.3" r="4.25"/>
<circle class="c0" cx="236.7" cy="529.2" r="4.25"/>
<circle class="c0" cx="354.9" cy="368.1" r="4.25"/>
<circle class="c0" cx="239.4" cy="251.4" r="4.25"/>
<circle class="c0" cx="232.1" cy="330.0" r="4.25"/>
<circle class="c0" cx="349.7" cy="352.6" r="4.25"/>
<circle class="c13" cx="456.9" cy="230.4" r="4.25"/>
<circle class="c0" cx="186.5" cy="634.3" r="4.25"/>
<circle class="c15" cx="226.9" cy="758.8" r="4.25"/>
<circle class="c0" cx="280.4" cy="744.7" r="4.25"/>
<circle class="c0" cx="217.3" cy="485.5" r="4.25"/>
<circle class="c15" cx="469.5" cy="492.2" r="4.25"/>
<circle class="c0" cx="198.0" cy="73.6" r="4.25"/>
<circle class="c0" cx="283.9" cy="798.2" r="4.25"/>
<circle class="c0" cx="251.5" cy="255.4" r="4.25"/>
<circle class="c0" cx="345.5" cy="617.8" r="4.25"/>
<circle class="c10" cx="452.0" cy="352.0" r="4.25"/>
<circle class="c0" cx="240.1" cy="467.6" r="4.25"/>
<circle class="c0" cx="161.5" cy="194.4" r="4.25"/>
<circle class="c0" cx="255.9" cy="289.8" r="4.25"/>
<circle class="c0" cx="164.3" cy="146.4" r="4.25"/>
<circle class="c0" cx="178.5" cy="494.1" r="4.25"/>
<circle class="c0" cx="239.2" cy="318.9" r="4.25"/>
<circle class="c0" cx="235.5" cy="686.4" r="4.25"/>
<circle class="c0" cx="518.5" cy="358.2" r="4.25"/>
<circle class="c2" cx="170.2" cy="190.9" r="4.25"/>
<circle class="c0" cx="148.5" cy="399.9" r="4.25"/>
<circle class="c0" cx="223.1" cy="753.4" r="4.25"/>
<circle class="c0" cx="265.8" cy="756.3" r="4.25"/>
<circle class="c0" cx="117.3" cy="485.4" r="4.25"/>
<circle class="c0" cx="521.2" cy="423.2" r="4.25"/>
<circle class="c0" cx="180.5" cy="214.6" r="4.25"/>
<circle class="c0" cx="157.9" cy="519.1" r="4.25"/>
<circle class="c0" cx="229.7" cy="526.4" r="4.25"/>
<circle class="c0" cx="267.2" cy="831.5" r="4.25"/>
<circle class="c8" cx="489.6" cy="557.2" r="4.25"/>
<circle class="c0" cx="159.0" cy="245.8" r="4.25"/>
<circle class="c0" cx="248.5" cy="794.3" r="4.25"/>
<circle class="c0" cx="514.4" cy="364.6" r="4.25"/>
<circle class="c0" cx="242.1" cy="660.5" r="4.25"/>
<circle class="c0" cx="257.8" cy="717.2" r="4.25"/>
<circle class="c0" cx="530.0" cy="426.5" r="4.25"/>
<circle class="c0" cx="540.1" cy="392.8" r="4.25"/>
<circle class="c0" cx="207.8" cy="233.1" r="4.25"/>
<circle class="c0" cx="132.6" cy="470.2" r="4.25"/>
<circle class="c0" cx="258.8" cy="764.4" r="4.25"/>
<circle class="c6" cx="308.6" cy="125.4" r="4.25"/>
<circle class="c0" cx="188.1" cy="518.8" r="4.25"/>
<circle class="c9" cx="235.7" cy="386.3" r="4.25"/>
<circle class="c7" cx="418.0" cy="267.4" r="4.25"/>
<circle class="c0" cx="275.2" cy="735.9" r="4.25"/>
<circle class="c0" cx="196.5" cy="519.8" r="4.25"/>
<circle class="c0" cx="179.3" cy="124.8" r="4.25"/>
<circle class="c17" cx="384.7" cy="206.2" r="4.25"/>
<circle class="c0" cx="175.0" cy="301.6" r="4.25"/>
<circle class="c13" cx="413.1" cy="312.0" r="4.25"/>
<circle class="c0" cx="178.6" cy="272.4" r="4.25"/>
<circle class="c3" cx="246.1" cy="303.9" r="4.25"/>
<circle class="c0" cx="485.0" cy="585.0" r="4.25"/>
<circle class="c0" cx="250.2" cy="421.2" r="4.25"/>
<circle class="c0" cx="188.0" cy="338.5" r="4.25"/>
<circle class="c0" cx="141.5" cy="413.8" r="4.25"/>
<circle class="c0" cx="296.0" cy="143.4" r="4.25"/>
<circle class="c0" cx="167.8" cy="93.2" r="4.25"/>
<circle class="c0" cx="206.6" cy="70.2" r="4.25"/>
<circle class="c0" cx="209.2" cy="391.0" r="4.25"/>
<circle class="c0" cx="171.3" cy="345.2" r="4.25"/>
<circle class="c0" cx="222.2" cy="359.0" r="4.25"/>
<circle class="c0" cx="212.0" cy="490.4" r="4.25"/>
<circle class="c0" cx="224.4" cy="415.9" r="4.25"/>
<circle class="c0" cx="555.4" cy="406.9" r="4.25"/>
<circle class="c0" cx="205.1" cy="573.4" r="4.25"/>
<circle class="c2" cx="233.6" cy="345.0" r="4.25"/>
<circle class="c0" cx="200.8" cy="339.8" r="4.25"/>
<circle class="c0" cx="168.9" cy="222.1" r="4.25"/>
<circle class="c0" cx="146.8" cy="531.6" r="4.25"/>
<circle class="c0" cx="208.1" cy="209.5" r="4.25"/>
<circle class="c16" cx="402.3" cy="289.5" r="4.25"/>
<circle class="c0" cx="212.1" cy="541.2" r="4.25"/>
<circle class="c0" cx="227.3" cy="153.4" r="4.25"/>
<circle class="c0" cx="165.8" cy="115.4" r="4.25"/>
<circle class="c0" cx="533.9" cy="386.2" r="4.25"/>
<circle class="c0" cx="200.0" cy="653.2" r="4.25"/>
<circle class="c0" cx="318.6" cy="400.3" r="4.25"/>
<circle class="c0" cx="160.0" cy="520.5" r="4.25"/>
<circle class="c0" cx="225.2" cy="555.2" r="4.25"/>
<circle class="c0" cx="253.8" cy="629.0" r="4.25"/>
<circle class="c0" cx="514.6" cy="360.3" r="4.25"/>
<circle class="c0" cx="224.8" cy="380.0" r="4.25"/>
<circle class="c0" cx="122.7" cy="474.6" r="4.25"/>
<circle class="c3" cx="194.6" cy="309.2" r="4.25"/>
<circle class="c0" cx="203.9" cy="242.7" r="4.25"/>
<circle class="c0" cx="246.2" cy="416.1" r="4.25"/>
<circle class="c13" cx="320.1" cy="244.5" r="4.25"/>
<circle class="c2" cx="341.0" cy="320.9" r="4.25"/>
<circle class="c0" cx="145.8" cy="457.2" r="4.25"/>
<circle class="c0" cx="340.8" cy="283.2" r="4.25"/>
<circle class="c12" cx="182.1" cy="450.0" r="4.25"/>
<circle class="c17" cx="428.8" cy="226.5" r="4.25"/>
<circle class="c0" cx="256.6" cy="251.9" r="4.25"/>
<circle class="c0" cx="226.2" cy="279.7" r="4.25"/>
<circle class="c0" cx="260.9" cy="797.3" r="4.25"/>
<circle class="c0" cx="165.9" cy="463.6" r="4.25"/>
<circle class="c0" cx="318.6" cy="390.1" r="4.25"/>
<circle class="c1" cx="498.3" cy="382.5" r="4.25"/>
<circle class="c0" cx="236.6" cy="371.6" r="4.25"/>
<circle class="c0" cx="236.4" cy="615.0" r="4.25"/>
<circle class="c0" cx="147.6" cy="509.8" r="4.25"/>
<circle class="c0" cx="413.3" cy="527.5" r="4.25"/>
<circle class="c0" cx="163.5" cy="540.0" r="4.25"/>
<circle class="c0" cx="239.7" cy="280.5" r="4.25"/>
<circle class="c0" cx="183.9" cy="403.6" r="4.25"/>
<circle class="c0" cx="547.9" cy="416.7" r="4.25"/>
<circle class="c12" cx="422.8" cy="319.3" r="4.25"/>
<circle class="c0" cx="412.6" cy="556.0" r="4.25"/>
<circle class="c6" cx="113.0" cy="506.7" r="4.25"/>
<circle class="c0" cx="191.8" cy="182.9" r="4.25"/>
<circle class="c0" cx="470.3" cy="584.3" r="4.25"/>
<circle class="c9" cx="182.5" cy="235.9" r="4.25"/>
<circle class="c17" cx="474.8" cy="270.4" r="4.25"/>
<circle class="c15" cx="506.4" cy="366.4" r="4.25"/>
<circle class="c0" cx="213.2" cy="722.8" r="4.25"/>
<circle class="c0" cx="543.8" cy="378.6" r="4.25"/>
<circle class="c1" cx="208.3" cy="569.3" r="4.25"/>
<circle class="c0" cx="335.7" cy="373.5" r="4.25"/>
<circle class="c1" cx="224.2" cy="186.0" r="4.25"/>
<circle class="c0" cx="276.2" cy="732.4" r="4.25"/>
<circle class="c9" cx="189.4" cy="536.5" r="4.25"/>
<circle class="c0" cx="334.0" cy="397.5" r="4.25"/>
<circle class="c0" cx="198.8" cy="316.6" r="4.25"/>
<circle class="c0" cx="194.5" cy="540.1" r="4.25"/>
<circle class="c0" cx="188.4" cy="518.4" r="4.25"/>
<circle class="c0" cx="353.4" cy="362.2" r="4.25"/>
<circle class="c0" cx="186.9" cy="92.6" r="4.25"/>
<circle class="c0" cx="215.2" cy="139.9" r="4.25"/>
<circle class="c0" cx="133.7" cy="512.8" r="4.25"/>
<circle class="c0" cx="234.9" cy="259.5" r="4.25"/>
<circle class="c0" cx="186.4" cy="122.9" r="4.25"/>
<circle class="c3" cx="177.3" cy="528.7" r="4.25"/>
<circle class="c0" cx="265.7" cy="781.1" r="4.25"/>
<circle class="c11" cx="400.2" cy="212.6" r="4.25"/>
<circle class="c0" cx="177.9" cy="320.7" r="4.25"/>
<circle class="c9" cx="505.4" cy="444.8" r="4.25"/>
<circle class="c0" cx="181.6" cy="377.5" r="4.25"/>
<circle class="c0" cx="205.4" cy="570.1" r="4.25"/>
<circle class="c0" cx="178.3" cy="124.9" r="4.25"/>
<circle class="c0" cx="208.4" cy="67.1" r="4.25"/>
<circle class="c0" cx="137.5" cy="493.5" r="4.25"/>
<circle class="c0" cx="495.7" cy="470.6" r="4.25"/>
<circle class="c0" cx="138.4" cy="475.9" r="4.25"/>
<circle class="c0" cx="146.5" cy="471.0" r="4.25"/>
<circle class="c3" cx="235.9" cy="522.4" r="4.25"/>
<circle class="c0" cx="176.2" cy="397.8" r="4.25"/>
<circle class="c0" cx="157.7" cy="370.7" r="4.25"/>
<circle class="c2" cx="500.9" cy="520.1" r="4.25"/>
<circle class="c0" cx="249.3" cy="620.5" r="4.25"/>
<circle class="c1" cx="314.4" cy="275.9" r="4.25"/>
<circle class="c0" cx="132.9" cy="482.9" r="4.25"/>
<circle class="c0" cx="323.3" cy="403.0" r="4.25"/>
<circle class="c0" cx="213.0" cy="286.1" r="4.25"/>
<circle class="c0" cx="196.2" cy="510.2" r="4.25"/>
<circle class="c0" cx="277.9" cy="673.8" r="4.25"/>
<circle class="c0" cx="137.5" cy="549.9" r="4.25"/>
<circle class="c3" cx="288.5" cy="155.8" r="4.25"/>
<circle class="c1" cx="496.2" cy="356.8" r="4.25"/>
<circle class="c0" cx="224.7" cy="726.8" r="4.25"/>
<circle class="c0" cx="177.2" cy="234.5" r="4.25"/>
<circle class="c15" cx="186.0" cy="182.0" r="4.25"/>
<circle class="c0" cx="131.3" cy="505.7" r="4.25"/>
<circle class="c4" cx="321.8" cy="233.0" r="4.25"/>
<circle class="c0" cx="203.6" cy="422.8" r="4.25"/>
<circle class="c0" cx="139.7" cy="488.9" r="4.25"/>
<circle class="c0" cx="135.4" cy="478.3" r="4.25"/>
<circle class="c0" cx="258.9" cy="248.0" r="4.25"/>
<circle class="c0" cx="148.0" cy="460.2" r="4.25"/>
<circle class="c0" cx="530.1" cy="390.1" r="4.25"/>
<circle class="c0" cx="425.0" cy="550.4" r="4.25"/>
<circle class="c0" cx="265.9" cy="825.6" r="4.25"/>
<circle class="c0" cx="214.9" cy="541.1" r="4.25"/>
<circle class="c0" cx="227.8" cy="685.7" r="4.25"/>
<circle class="c0" cx="185.7" cy="374.7" r="4.25"/>
<circle class="c0" cx="127.1" cy="533.8" r="4.25"/>
<circle class="c0" cx="179.2" cy="155.4" r="4.25"/>
<circle class="c0" cx="210.2" cy="299.6" r="4.25"/>
<circle class="c0" cx="226.4" cy="425.8" r="4.25"/>
<circle class="c0" cx="145.1" cy="456.2" r="4.25"/>
<circle class="c0" cx="207.0" cy="505.0" r="4.25"/>
<circle class="c0" cx="498.6" cy="358.4" r="4.25"/>
<circle class="c1" cx="149.7" cy="533.1" r="4.25"/>
<circle class="c0" cx="234.9" cy="216.2" r="4.25"/>
<circle class="c7" cx="442.3" cy="237.7" r="4.25"/>
<circle class="c1" cx="204.1" cy="559.6" r="4.25"/>
<circle class="c0" cx="160.9" cy="392.6" r="4.25"/>
<circle class="c0" cx="197.4" cy="245.6" r="4.25"/>
<circle class="c0" cx="191.3" cy="527.9" r="4.25"/>
<circle class="c0" cx="275.1" cy="787.7" r="4.25"/>
<circle class="c3" cx="231.1" cy="347.1" r="4.25"/>
<circle class="c0" cx="250.7" cy="607.0" r="4.25"/>
<circle class="c0" cx="528.8" cy="408.4" r="4.25"/>
<circle class="c0" cx="203.9" cy="346.4" r="4.25"/>
<circle class="c0" cx="230.7" cy="757.9" r="4.25"/>
<circle class="c0" cx="230.9" cy="326.4" r="4.25"/>
<circle class="c0" cx="252.3" cy="453.9" r="4.25"/>
<circle class="c0" cx="246.5" cy="351.4" r="4.25"/>
<circle class="c0" cx="195.4" cy="303.1" r="4.25"/>
<circle class="c0" cx="239.6" cy="666.2" r="4.25"/>
<circle class="c0" cx="255.0" cy="617.9" r="4.25"/>
<circle class="c0" cx="217.3" cy="513.0" r="4.25"/>
<circle class="c0" cx="239.6" cy="415.9" r="4.25"/>
<circle class="c8" cx="455.1" cy="252.7" r="4.25"/>
<circle class="c4" cx="465.1" cy="495.9" r="4.25"/>
<circle class="c0" cx="261.6" cy="206.5" r="4.25"/>
<circle class="c0" cx="229.4" cy="380.0" r="4.25"/>
<circle class="c0" cx="145.3" cy="507.8" r="4.25"/>
<circle class="c2" cx="232.7" cy="218.9" r="4.25"/>
<circle class="c0" cx="245.9" cy="540.6" r="4.25"/>
<circle class="c12" cx="496.1" cy="366.7" r="4.25"/>
<circle class="c3" cx="242.0" cy="441.1" r="4.25"/>
<circle class="c6" cx="184.9" cy="167.7" r="4.25"/>
<circle class="c0" cx="225.3" cy="77.9" r="4.25"/>
<circle class="c0" cx="187.0" cy="533.5" r="4.25"/>
<circle class="c16" cx="412.9" cy="299.1" r="4.25"/>
<circle class="c0" cx="243.3" cy="350.0" r="4.25"/>
<circle class="c0" cx="211.9" cy="233.4" r="4.25"/>
<circle class="c0" cx="172.8" cy="337.3" r="4.25"/>
<circle class="c0" cx="216.4" cy="189.6" r="4.25"/>
<circle class="c0" cx="318.9" cy="647.4" r="4.25"/>
<circle class="c12" cx="242.1" cy="508.4" r="4.25"/>
<circle class="c0" cx="204.5" cy="245.9" r="4.25"/>
<circle class="c0" cx="270.0" cy="239.0" r="4.25"/>
<circle class="c0" cx="135.7" cy="477.1" r="4.25"/>
<circle class="c1" cx="216.3" cy="241.2" r="4.25"/>
<circle class="c0" cx="340.9" cy="315.1" r="4.25"/>
<circle class="c0" cx="165.5" cy="141.5" r="4.25"/>
<circle class="c0" cx="170.8" cy="240.8" r="4.25"/>
<circle class="c0" cx="217.3" cy="681.3" r="4.25"/>
<circle class="c0" cx="209.6" cy="530.9" r="4.25"/>
<circle class="c0" cx="212.9" cy="312.0" r="4.25"/>
<circle class="c0" cx="343.9" cy="626.6" r="4.25"/>
<circle class="c0" cx="271.3" cy="759.9" r="4.25"/>
<circle class="c0" cx="130.6" cy="457.2" r="4.25"/>
<circle class="c0" cx="158.4" cy="567.0" r="4.25"/>
<circle class="c1" cx="515.5" cy="353.2" r="4.25"/>
<circle class="c8" cx="317.4" cy="244.2" r="4.25"/>
<circle class="c0" cx="233.2" cy="428.2" r="4.25"/>
<circle class="c0" cx="186.1" cy="256.4" r="4.25"/>
<circle class="c0" cx="315.8" cy="739.6" r="4.25"/>
<circle class="c0" cx="235.4" cy="705.9" r="4.25"/>
<circle class="c0" cx="180.5" cy="519.6" r="4.25"/>
<circle class="c0" cx="214.9" cy="635.1" r="4.25"/>
<circle class="c0" cx="249.1" cy="239.0" r="4.25"/>
<circle class="c0" cx="235.5" cy="689.2" r="4.25"/>
<circle class="c0" cx="212.6" cy="672.5" r="4.25"/>
<circle class="c0" cx="216.2" cy="439.0" r="4.25"/>
<circle class="c0" cx="285.8" cy="786.6" r="4.25"/>
<circle class="c0" cx="306.4" cy="721.1" r="4.25"/>
<circle class="c0" cx="234.2" cy="323.3" r="4.25"/>
<circle class="c0" cx="496.6" cy="505.5" r="4.25"/>
<circle class="c3" cx="191.5" cy="122.0" r="4.25"/>
<circle class="c0" cx="172.0" cy="519.4" r="4.25"/>
<circle class="c0" cx="220.0" cy="74.0" r="4.25"/>
<circle class="c0" cx="159.9" cy="167.3" r="4.25"/>
<circle class="c0" cx="145.0" cy="434.3" r="4.25"/>
<circle class="c9" cx="233.5" cy="720.8" r="4.25"/>
<circle class="c0" cx="206.8" cy="466.1" r="4.25"/>
<circle class="c0" cx="247.4" cy="709.8" r="4.25"/>
<circle class="c0" cx="547.6" cy="406.5" r="4.25"/>
<circle class="c0" cx="152.9" cy="350.8" r="4.25"/>
<circle class="c8" cx="489.7" cy="334.9" r="4.25"/>
<circle class="c0" cx="215.0" cy="171.9" r="4.25"/>
<circle class="c0" cx="191.9" cy="319.1" r="4.25"/>
<circle class="c3" cx="204.6" cy="317.7" r="4.25"/>
<circle class="c0" cx="174.9" cy="67.8" r="4.25"/>
<circle class="c0" cx="177.6" cy="215.9" r="4.25"/>
<circle class="c0" cx="204.0" cy="244.0" r="4.25"/>
<circle class="c0" cx="252.4" cy="236.4" r="4.25"/>
<circle class="c15" cx="398.8" cy="521.9" r="4.25"/>
<circle class="c9" cx="493.2" cy="426.1" r="4.25"/>
<circle class="c0" cx="202.6" cy="80.6" r="4.25"/>
<circle class="c0" cx="225.9" cy="551.9" r="4.25"/>
<circle class="c0" cx="153.8" cy="447.9" r="4.25"/>
<circle class="c0" cx="210.2" cy="230.0" r="4.25"/>
<circle class="c6" cx="313.9" cy="101.9" r="4.25"/>
<circle class="c0" cx="411.8" cy="518.5" r="4.25"/>
<circle class="c0" cx="187.2" cy="222.8" r="4.25"/>
<circle class="c0" cx="413.9" cy="554.3" r="4.25"/>
<circle class="c4" cx="335.5" cy="252.4" r="4.25"/>
<circle class="c10" cx="443.5" cy="222.9" r="4.25"/>
<circle class="c0" cx="201.7" cy="352.5" r="4.25"/>
<circle class="c0" cx="190.6" cy="465.7" r="4.25"/>
<circle class="c0" cx="207.2" cy="333.4" r="4.25"/>
<circle class="c3" cx="171.6" cy="164.2" r="4.25"/>
<circle class="c0" cx="348.6" cy="721.9" r="4.25"/>
<circle class="c0" cx="190.4" cy="69.0" r="4.25"/>
<circle class="c0" cx="327.2" cy="615.9" r="4.25"/>
<circle class="c0" cx="250.4" cy="784.4" r="4.25"/>
<circle class="c5" cx="444.4" cy="280.0" r="4.25"/>
<circle class="c3" cx="245.5" cy="533.9" r="4.25"/>
<circle class="c3" cx="232.3" cy="506.8" r="4.25"/>
<circle class="c0" cx="532.7" cy="416.8" r="4.25"/>
<circle class="c0" cx="217.1" cy="292.2" r="4.25"/>
<circle class="c0" cx="192.2" cy="309.2" r="4.25"/>
<circle class="c0" cx="209.4" cy="295.5" r="4.25"/>
<circle class="c2" cx="224.6" cy="432.4" r="4.25"/>
<circle class="c0" cx="261.8" cy="226.9" r="4.25"/>
<circle class="c0" cx="241.1" cy="281.2" r="4.25"/>
<circle class="c3" cx="132.1" cy="431.8" r="4.25"/>
<circle class="c15" cx="240.0" cy="116.9" r="4.25"/>
<circle class="c0" cx="181.8" cy="566.0" r="4.25"/>
<circle class="c0" cx="211.7" cy="229.1" r="4.25"/>
<circle class="c0" cx="305.8" cy="131.5" r="4.25"/>
<circle class="c0" cx="222.9" cy="471.0" r="4.25"/>
<circle class="c0" cx="226.3" cy="461.3" r="4.25"/>
<circle class="c0" cx="239.8" cy="240.2" r="4.25"/>
<circle class="c0" cx="230.8" cy="395.3" r="4.25"/>
<circle class="c0" cx="318.4" cy="385.8" r="4.25"/>
<circle class="c0" cx="163.6" cy="219.5" r="4.25"/>
<circle class="c0" cx="115.2" cy="514.1" r="4.25"/>
<circle class="c0" cx="229.7" cy="324.7" r="4.25"/>
<circle class="c0" cx="160.5" cy="368.7" r="4.25"/>
<circle class="c0" cx="225.9" cy="382.5" r="4.25"/>
<circle class="c0" cx="238.6" cy="376.8" r="4.25"/>
<circle class="c12" cx="499.3" cy="518.9" r="4.25"/>
<circle class="c0" cx="529.2" cy="397.5" r="4.25"/>
<circle class="c0" cx="231.0" cy="709.3" r="4.25"/>
<circle class="c0" cx="200.9" cy="593.7" r="4.25"/>
<circle class="c0" cx="247.5" cy="721.8" r="4.25"/>
<circle class="c0" cx="208.3" cy="480.2" r="4.25"/>
<circle class="c0" cx="244.8" cy="461.4" r="4.25"/>
<circle class="c0" cx="213.4" cy="72.2" r="4.25"/>
<circle class="c0" cx="256.7" cy="653.4" r="4.25"/>
<circle class="c0" cx="171.4" cy="505.0" r="4.25"/>
<circle class="c0" cx="157.1" cy="171.7" r="4.25"/>
<circle class="c0" cx="164.3" cy="336.2" r="4.25"/>
<circle class="c0" cx="224.4" cy="418.0" r="4.25"/>
<circle class="c0" cx="400.9" cy="531.6" r="4.25"/>
<circle class="c6" cx="169.4" cy="496.6" r="4.25"/>
<circle class="c0" cx="499.7" cy="511.4" r="4.25"/>
<circle class="c6" cx="244.0" cy="254.1" r="4.25"/>
<circle class="c0" cx="249.4" cy="253.0" r="4.25"/>
<circle class="c0" cx="194.7" cy="161.7" r="4.25"/>
<circle class="c3" cx="238.0" cy="117.9" r="4.25"/>
<circle class="c0" cx="203.8" cy="312.9" r="4.25"/>
<circle class="c9" cx="185.0" cy="101.0" r="4.25"/>
<circle class="c0" cx="197.4" cy="446.0" r="4.25"/>
<circle class="c0" cx="235.8" cy="423.0" r="4.25"/>
<circle class="c0" cx="243.2" cy="127.9" r="4.25"/>
<circle class="c0" cx="249.6" cy="603.5" r="4.25"/>
<circle class="c16" cx="303.7" cy="238.5" r="4.25"/>
<circle class="c0" cx="135.1" cy="478.3" r="4.25"/>
<circle class="c0" cx="210.6" cy="94.3" r="4.25"/>
<circle class="c0" cx="138.9" cy="428.1" r="4.25"/>
<circle class="c0" cx="144.7" cy="512.9" r="4.25"/>
<circle class="c0" cx="189.9" cy="635.7" r="4.25"/>
<circle class="c3" cx="141.5" cy="533.2" r="4.25"/>
<circle class="c0" cx="178.9" cy="347.1" r="4.25"/>
<circle class="c0" cx="149.6" cy="543.1" r="4.25"/>
<circle class="c12" cx="336.9" cy="339.8" r="4.25"/>
<circle class="c12" cx="215.8" cy="184.1" r="4.25"/>
<circle class="c0" cx="184.2" cy="330.6" r="4.25"/>
<circle class="c0" cx="160.0" cy="113.1" r="4.25"/>
<circle class="c0" cx="135.4" cy="432.2" r="4.25"/>
<circle class="c0" cx="257.8" cy="623.0" r="4.25"/>
<circle class="c0" cx="155.9" cy="373.9" r="4.25"/>
<circle class="c0" cx="234.9" cy="520.3" r="4.25"/>
<circle class="c0" cx="186.8" cy="540.1" r="4.25"/>
<circle class="c0" cx="176.6" cy="380.4" r="4.25"/>
<circle class="c9" cx="506.6" cy="348.8" r="4.25"/>
<circle class="c9" cx="340.6" cy="390.7" r="4.25"/>
<circle class="c0" cx="158.7" cy="425.0" r="4.25"/>
<circle class="c0" cx="229.7" cy="656.1" r="4.25"/>
<circle class="c8" cx="490.0" cy="313.1" r="4.25"/>
<circle class="c3" cx="235.8" cy="293.8" r="4.25"/>
<circle class="c0" cx="245.8" cy="347.8" r="4.25"/>
<circle class="c1" cx="214.1" cy="115.4" r="4.25"/>
<circle class="c0" cx="192.1" cy="109.4" r="4.25"/>
<circle class="c3" cx="287.1" cy="685.7" r="4.25"/>
<circle class="c6" cx="498.2" cy="478.5" r="4.25"/>
<circle class="c0" cx="243.8" cy="307.0" r="4.25"/>
<circle class="c0" cx="252.4" cy="401.6" r="4.25"/>
<circle class="c8" cx="455.7" cy="246.7" r="4.25"/>
<circle class="c0" cx="535.8" cy="376.7" r="4.25"/>
<circle class="c0" cx="549.6" cy="396.1" r="4.25"/>
<circle class="c2" cx="166.4" cy="532.9" r="4.25"/>
<circle class="c1" cx="330.0" cy="302.3" r="4.25"/>
<circle class="c0" cx="177.2" cy="494.3" r="4.25"/>
<circle class="c1" cx="232.3" cy="362.9" r="4.25"/>
<circle class="c0" cx="247.9" cy="347.7" r="4.25"/>
<circle class="c0" cx="186.3" cy="149.1" r="4.25"/>
<circle class="c3" cx="267.8" cy="637.5" r="4.25"/>
<circle class="c0" cx="202.1" cy="472.3" r="4.25"/>
<circle class="c1" cx="227.5" cy="250.6" r="4.25"/>
<circle class="c0" cx="218.1" cy="517.0" r="4.25"/>
<circle class="c0" cx="192.6" cy="190.0" r="4.25"/>
<circle class="c0" cx="231.3" cy="67.5" r="4.25"/>
<circle class="c0" cx="227.9" cy="424.6" r="4.25"/>
<circle class="c13" cx="369.5" cy="205.2" r="4.25"/>
<circle class="c15" cx="157.8" cy="73.7" r="4.25"/>
<circle class="c0" cx="203.7" cy="79.2" r="4.25"/>
<circle class="c0" cx="244.0" cy="399.4" r="4.25"/>
<circle class="c0" cx="179.0" cy="190.7" r="4.25"/>
<circle class="c0" cx="353.4" cy="467.4" r="4.25"/>
<circle class="c9" cx="496.0" cy="347.8" r="4.25"/>
<circle class="c0" cx="165.4" cy="301.7" r="4.25"/>
<circle class="c0" cx="548.0" cy="405.0" r="4.25"/>
<circle class="c6" cx="330.6" cy="263.0" r="4.25"/>
<circle class="c0" cx="157.0" cy="75.5" r="4.25"/>
<circle class="c0" cx="132.6" cy="545.1" r="4.25"/>
<circle class="c0" cx="203.2" cy="486.9" r="4.25"/>
<circle class="c0" cx="267.9" cy="803.5" r="4.25"/>
<circle class="c1" cx="328.1" cy="661.8" r="4.25"/>
<circle class="c0" cx="314.5" cy="97.9" r="4.25"/>
<circle class="c6" cx="309.6" cy="284.3" r="4.25"/>
<circle class="c0" cx="301.9" cy="119.8" r="4.25"/>
<circle class="c0" cx="133.6" cy="462.6" r="4.25"/>
<circle class="c0" cx="227.6" cy="288.8" r="4.25"/>
<circle class="c0" cx="240.4" cy="148.6" r="4.25"/>
<circle class="c0" cx="236.8" cy="521.0" r="4.25"/>
<circle class="c6" cx="412.8" cy="596.1" r="4.25"/>
<circle class="c12" cx="499.2" cy="466.3" r="4.25"/>
<circle class="c15" cx="236.8" cy="209.8" r="4.25"/>
<circle class="c17" cx="366.2" cy="209.5" r="4.25"/>
<circle class="c0" cx="227.7" cy="263.6" r="4.25"/>
<circle class="c0" cx="178.6" cy="64.8" r="4.25"/>
<circle class="c1" cx="229.4" cy="279.7" r="4.25"/>
<circle class="c2" cx="244.8" cy="370.2" r="4.25"/>
<circle class="c0" cx="183.9" cy="213.5" r="4.25"/>
<circle class="c0" cx="205.0" cy="552.8" r="4.25"/>
<circle class="c0" cx="250.6" cy="282.1" r="4.25"/>
<circle class="c1" cx="329.5" cy="394.4" r="4.25"/>
<circle class="c0" cx="162.1" cy="442.8" r="4.25"/>
<circle class="c3" cx="205.2" cy="260.9" r="4.25"/>
<circle class="c15" cx="156.7" cy="363.2" r="4.25"/>
<circle class="c0" cx="545.3" cy="425.5" r="4.25"/>
<circle class="c0" cx="207.7" cy="417.5" r="4.25"/>
<circle class="c0" cx="219.9" cy="403.4" r="4.25"/>
<circle class="c0" cx="525.9" cy="377.2" r="4.25"/>
<circle class="c0" cx="185.3" cy="422.6" r="4.25"/>
<circle class="c0" cx="167.0" cy="162.5" r="4.25"/>
<circle class="c0" cx="116.7" cy="526.5" r="4.25"/>
<circle class="c0" cx="254.8" cy="584.8" r="4.25"/>
<circle class="c0" cx="158.6" cy="195.5" r="4.25"/>
<circle class="c0" cx="227.6" cy="472.4" r="4.25"/>
<circle class="c8" cx="249.6" cy="455.6" r="4.25"/>
<circle class="c0" cx="189.7" cy="253.3" r="4.25"/>
<circle class="c6" cx="496.9" cy="464.7" r="4.25"/>
<circle class="c1" cx="218.5" cy="67.8" r="4.25"/>
<circle class="c0" cx="132.8" cy="471.3" r="4.25"/>
<circle class="c0" cx="199.9" cy="328.9" r="4.25"/>
<circle class="c0" cx="186.9" cy="97.6" r="4.25"/>
<circle class="c0" cx="545.4" cy="386.0" r="4.25"/>
<circle class="c13" cx="311.5" cy="229.5" r="4.25"/>
<circle class="c0" cx="180.0" cy="355.7" r="4.25"/>
<circle class="c1" cx="241.7" cy="536.8" r="4.25"/>
<circle class="c0" cx="190.7" cy="176.2" r="4.25"/>
<circle class="c0" cx="313.5" cy="109.2" r="4.25"/>
<circle class="c15" cx="238.3" cy="424.7" r="4.25"/>
<circle class="c0" cx="219.1" cy="131.8" r="4.25"/>
<circle class="c1" cx="156.6" cy="445.0" r="4.25"/>
<circle class="c0" cx="207.1" cy="448.7" r="4.25"/>
<circle class="c0" cx="212.8" cy="320.6" r="4.25"/>
<circle class="c0" cx="286.5" cy="664.6" r="4.25"/>
<circle class="c0" cx="123.0" cy="571.0" r="4.25"/>
<circle class="c4" cx="436.7" cy="236.1" r="4.25"/>
<circle class="c0" cx="253.0" cy="261.6" r="4.25"/>
<circle class="c12" cx="495.7" cy="452.2" r="4.25"/>
<circle class="c0" cx="174.8" cy="465.8" r="4.25"/>
<circle class="c9" cx="533.1" cy="360.9" r="4.25"/>
<circle class="c0" cx="180.5" cy="350.8" r="4.25"/>
<circle class="c0" cx="537.1" cy="408.4" r="4.25"/>
<circle class="c0" cx="193.9" cy="268.4" r="4.25"/>
<circle class="c0" cx="407.5" cy="583.5" r="4.25"/>
<circle class="c4" cx="480.1" cy="517.7" r="4.25"/>
<circle class="c0" cx="200.2" cy="291.0" r="4.25"/>
<circle class="c13" cx="435.6" cy="236.5" r="4.25"/>
<circle class="c0" cx="215.6" cy="96.3" r="4.25"/>
<circle class="c0" cx="247.6" cy="431.3" r="4.25"/>
<circle class="c0" cx="167.5" cy="331.8" r="4.25"/>
<circle class="c0" cx="178.7" cy="160.4" r="4.25"/>
<circle class="c0" cx="230.5" cy="181.3" r="4.25"/>
<circle class="c0" cx="528.1" cy="401.5" r="4.25"/>
<circle class="c2" cx="192.6" cy="241.6" r="4.25"/>
<circle class="c4" cx="386.3" cy="270.3" r="4.25"/>
<circle class="c0" cx="178.5" cy="80.5" r="4.25"/>
<circle class="c17" cx="406.6" cy="293.6" r="4.25"/>
<circle class="c0" cx="131.8" cy="483.0" r="4.25"/>
<circle class="c0" cx="223.5" cy="455.5" r="4.25"/>
<circle class="c3" cx="237.7" cy="429.6" r="4.25"/>
<circle class="c0" cx="217.0" cy="481.7" r="4.25"/>
<circle class="c2" cx="245.2" cy="204.1" r="4.25"/>
<circle class="c0" cx="115.0" cy="499.8" r="4.25"/>
<circle class="c0" cx="168.0" cy="596.0" r="4.25"/>
<circle class="c0" cx="185.9" cy="415.1" r="4.25"/>
<circle class="c0" cx="199.5" cy="189.8" r="4.25"/>
<circle class="c0" cx="204.6" cy="468.2" r="4.25"/>
<circle class="c9" cx="321.0" cy="230.4" r="4.25"/>
<circle class="c17" cx="388.1" cy="269.2" r="4.25"/>
<circle class="c0" cx="160.5" cy="133.8" r="4.25"/>
<circle class="c0" cx="236.2" cy="437.8" r="4.25"/>
<circle class="c0" cx="183.8" cy="377.1" r="4.25"/>
<circle class="c0" cx="137.5" cy="418.8" r="4.25"/>
<circle class="c9" cx="231.9" cy="235.4" r="4.25"/>
<circle class="c2" cx="236.6" cy="78.7" r="4.25"/>
<circle class="c0" cx="237.6" cy="468.2" r="4.25"/>
<circle class="c9" cx="416.1" cy="302.8" r="4.25"/>
<circle class="c0" cx="316.8" cy="99.7" r="4.25"/>
<circle class="c15" cx="483.7" cy="574.0" r="4.25"/>
<circle class="c0" cx="233.9" cy="573.3" r="4.25"/>
<circle class="c0" cx="411.4" cy="581.5" r="4.25"/>
<circle class="c0" cx="183.2" cy="369.2" r="4.25"/>
<circle class="c0" cx="154.7" cy="133.2" r="4.25"/>
<circle class="c0" cx="186.2" cy="491.0" r="4.25"/>
<circle class="c7" cx="433.7" cy="276.8" r="4.25"/>
<circle class="c0" cx="539.9" cy="434.1" r="4.25"/>
<circle class="c0" cx="158.1" cy="434.2" r="4.25"/>
<circle class="c0" cx="138.7" cy="543.8" r="4.25"/>
<circle class="c0" cx="129.9" cy="455.6" r="4.25"/>
<circle class="c0" cx="189.4" cy="253.0" r="4.25"/>
<circle class="c0" cx="225.5" cy="507.7" r="4.25"/>
<circle class="c0" cx="181.2" cy="312.2" r="4.25"/>
<circle class="c0" cx="215.1" cy="210.6" r="4.25"/>
<circle class="c0" cx="190.9" cy="120.8" r="4.25"/>
<circle class="c0" cx="209.8" cy="578.4" r="4.25"/>
<circle class="c0" cx="539.9" cy="419.2" r="4.25"/>
<circle class="c0" cx="154.6" cy="524.4" r="4.25"/>
<circle class="c0" cx="247.7" cy="193.2" r="4.25"/>
<circle class="c0" cx="250.3" cy="247.6" r="4.25"/>
<circle class="c0" cx="180.9" cy="504.1" r="4.25"/>
<circle class="c0" cx="157.8" cy="458.2" r="4.25"/>
<circle class="c0" cx="208.5" cy="658.4" r="4.25"/>
<circle class="c0" cx="352.7" cy="371.4" r="4.25"/>
<circle class="c3" cx="194.9" cy="296.6" r="4.25"/>
<circle class="c17" cx="426.8" cy="273.9" r="4.25"/>
<circle class="c0" cx="303.0" cy="619.1" r="4.25"/>
<circle class="c0" cx="263.5" cy="771.5" r="4.25"/>
<circle class="c0" cx="245.3" cy="214.9" r="4.25"/>
<circle class="c2" cx="115.0" cy="507.5" r="4.25"/>
<circle class="c0" cx="192.8" cy="325.6" r="4.25"/>
<circle class="c0" cx="360.9" cy="450.7" r="4.25"/>
<circle class="c0" cx="539.0" cy="401.8" r="4.25"/>
<circle class="c0" cx="113.7" cy="526.2" r="4.25"/>
<circle class="c0" cx="170.4" cy="403.7" r="4.25"/>
<circle class="c0" cx="244.9" cy="227.9" r="4.25"/>
<circle class="c0" cx="253.0" cy="768.2" r="4.25"/>
<circle class="c0" cx="216.3" cy="338.7" r="4.25"/>
<circle class="c0" cx="233.7" cy="515.6" r="4.25"/>
<circle class="c0" cx="211.5" cy="145.5" r="4.25"/>
<circle class="c0" cx="223.0" cy="94.4" r="4.25"/>
<circle class="c0" cx="273.7" cy="634.3" r="4.25"/>
<circle class="c0" cx="222.1" cy="401.6" r="4.25"/>
<circle class="c0" cx="206.0" cy="211.3" r="4.25"/>
<circle class="c1" cx="238.4" cy="539.9" r="4.25"/>
<circle class="c0" cx="183.7" cy="526.3" r="4.25"/>
<circle class="c0" cx="190.5" cy="566.6" r="4.25"/>
<circle class="c0" cx="251.0" cy="434.7" r="4.25"/>
<circle class="c0" cx="239.7" cy="276.6" r="4.25"/>
<circle class="c0" cx="217.0" cy="73.8" r="4.25"/>
<circle class="c0" cx="192.0" cy="65.2" r="4.25"/>
<circle class="c0" cx="224.3" cy="105.7" r="4.25"/>
<circle class="c3" cx="189.6" cy="264.2" r="4.25"/>
<circle class="c9" cx="238.9" cy="709.0" r="4.25"/>
<circle class="c6" cx="505.1" cy="356.7" r="4.25"/>
<circle class="c13" cx="420.4" cy="269.9" r="4.25"/>
<circle class="c16" cx="449.0" cy="332.0" r="4.25"/>
<circle class="c3" cx="205.2" cy="361.3" r="4.25"/>
<circle class="c0" cx="186.4" cy="273.4" r="4.25"/>
<circle class="c0" cx="320.8" cy="377.3" r="4.25"/>
<circle class="c0" cx="301.3" cy="626.5" r="4.25"/>
<circle class="c0" cx="217.7" cy="79.6" r="4.25"/>
<circle class="c0" cx="223.8" cy="506.0" r="4.25"/>
<circle class="c0" cx="231.1" cy="300.7" r="4.25"/>
<circle class="c0" cx="235.7" cy="291.7" r="4.25"/>
<circle class="c0" cx="139.0" cy="503.8" r="4.25"/>
<circle class="c0" cx="172.9" cy="285.3" r="4.25"/>
<circle class="c0" cx="161.9" cy="377.1" r="4.25"/>
<circle class="c0" cx="242.0" cy="637.5" r="4.25"/>
<circle class="c0" cx="218.2" cy="357.7" r="4.25"/>
<circle class="c10" cx="457.2" cy="223.8" r="4.25"/>
<circle class="c0" cx="156.0" cy="483.0" r="4.25"/>
<circle class="c15" cx="210.7" cy="216.8" r="4.25"/>
<circle class="c0" cx="541.6" cy="362.2" r="4.25"/>
<circle class="c1" cx="252.0" cy="301.8" r="4.25"/>
<circle class="c15" cx="328.3" cy="292.4" r="4.25"/>
<circle class="c0" cx="188.6" cy="307.4" r="4.25"/>
<circle class="c0" cx="172.7" cy="393.8" r="4.25"/>
<circle class="c0" cx="139.3" cy="543.6" r="4.25"/>
<circle class="c3" cx="244.4" cy="453.3" r="4.25"/>
<circle class="c0" cx="161.3" cy="520.8" r="4.25"/>
<circle class="c0" cx="301.1" cy="133.8" r="4.25"/>
<circle class="c0" cx="218.4" cy="114.5" r="4.25"/>
<circle class="c0" cx="228.8" cy="413.6" r="4.25"/>
<circle class="c0" cx="253.0" cy="471.9" r="4.25"/>
<circle class="c0" cx="336.5" cy="379.2" r="4.25"/>
<circle class="c15" cx="334.9" cy="254.1" r="4.25"/>
<circle class="c0" cx="175.9" cy="478.2" r="4.25"/>
<circle class="c0" cx="246.9" cy="714.9" r="4.25"/>
<circle class="c0" cx="247.6" cy="241.7" r="4.25"/>
<circle class="c0" cx="143.7" cy="444.9" r="4.25"/>
<circle class="c3" cx="171.1" cy="371.0" r="4.25"/>
<circle class="c0" cx="255.2" cy="792.7" r="4.25"/>
<circle class="c0" cx="233.5" cy="189.9" r="4.25"/>
<circle class="c0" cx="250.7" cy="481.8" r="4.25"/>
<circle class="c0" cx="215.3" cy="270.5" r="4.25"/>
<circle class="c0" cx="202.3" cy="299.6" r="4.25"/>
<circle class="c0" cx="182.6" cy="416.0" r="4.25"/>
<circle class="c0" cx="267.6" cy="789.0" r="4.25"/>
<circle class="c15" cx="215.5" cy="537.6" r="4.25"/>
<circle class="c13" cx="445.4" cy="288.5" r="4.25"/>
<circle class="c0" cx="197.6" cy="307.7" r="4.25"/>
<circle class="c0" cx="211.5" cy="577.1" r="4.25"/>
<circle class="c0" cx="251.3" cy="192.6" r="4.25"/>
<circle class="c0" cx="179.5" cy="313.9" r="4.25"/>
<circle class="c0" cx="551.3" cy="401.8" r="4.25"/>
<circle class="c0" cx="263.6" cy="640.6" r="4.25"/>
<circle class="c0" cx="204.6" cy="702.6" r="4.25"/>
<circle class="c0" cx="168.3" cy="566.2" r="4.25"/>
<circle class="c0" cx="182.7" cy="286.9" r="4.25"/>
<circle class="c0" cx="328.4" cy="664.3" r="4.25"/>
<circle class="c0" cx="556.3" cy="404.2" r="4.25"/>
<circle class="c0" cx="240.2" cy="636.8" r="4.25"/>
<circle class="c15" cx="349.4" cy="408.4" r="4.25"/>
<circle class="c0" cx="318.3" cy="623.1" r="4.25"/>
<circle class="c0" cx="162.0" cy="115.6" r="4.25"/>
<circle class="c10" cx="423.4" cy="235.1" r="4.25"/>
<circle class="c6" cx="469.3" cy="491.8" r="4.25"/>
<circle class="c0" cx="179.9" cy="556.4" r="4.25"/>
<circle class="c0" cx="161.9" cy="103.9" r="4.25"/>
<circle class="c12" cx="349.4" cy="410.2" r="4.25"/>
<circle class="c0" cx="225.4" cy="546.3" r="4.25"/>
<circle class="c2" cx="175.5" cy="311.2" r="4.25"/>
<circle class="c1" cx="269.7" cy="628.0" r="4.25"/>
<circle class="c0" cx="143.8" cy="549.7" r="4.25"/>
<circle class="c0" cx="174.3" cy="489.4" r="4.25"/>
<circle class="c0" cx="176.9" cy="319.2" r="4.25"/>
<circle class="c6" cx="240.0" cy="240.2" r="4.25"/>
<circle class="c0" cx="195.0" cy="537.5" r="4.25"/>
<circle class="c0" cx="157.8" cy="354.0" r="4.25"/>
<circle class="c0" cx="316.7" cy="741.8" r="4.25"/>
<circle class="c0" cx="236.9" cy="674.7" r="4.25"/>
<circle class="c0" cx="360.0" cy="430.8" r="4.25"/>
<circle class="c2" cx="155.4" cy="477.6" r="4.25"/>
<circle class="c2" cx="189.2" cy="120.1" r="4.25"/>
<circle class="c7" cx="439.6" cy="273.8" r="4.25"/>
<circle class="c0" cx="171.7" cy="233.9" r="4.25"/>
<circle class="c0" cx="204.3" cy="360.3" r="4.25"/>
<circle class="c0" cx="377.2" cy="738.4" r="4.25"/>
<circle class="c0" cx="246.1" cy="219.7" r="4.25"/>
<circle class="c0" cx="283.8" cy="171.0" r="4.25"/>
<circle class="c0" cx="224.2" cy="388.4" r="4.25"/>
<circle class="c0" cx="230.1" cy="161.1" r="4.25"/>
<circle class="c2" cx="204.4" cy="167.0" r="4.25"/>
<circle class="c0" cx="542.0" cy="395.5" r="4.25"/>
<circle class="c0" cx="179.8" cy="227.6" r="4.25"/>
<circle class="c0" cx="175.9" cy="475.4" r="4.25"/>
<circle class="c9" cx="248.8" cy="779.8" r="4.25"/>
<circle class="c0" cx="172.8" cy="213.6" r="4.25"/>
<circle class="c0" cx="365.0" cy="726.1" r="4.25"/>
<circle class="c0" cx="244.3" cy="462.4" r="4.25"/>
<circle class="c0" cx="231.6" cy="578.7" r="4.25"/>
<circle class="c0" cx="325.1" cy="393.7" r="4.25"/>
<circle class="c0" cx="196.9" cy="542.8" r="4.25"/>
<circle class="c9" cx="312.2" cy="269.1" r="4.25"/>
<circle class="c0" cx="533.1" cy="412.6" r="4.25"/>
<circle class="c0" cx="147.1" cy="459.8" r="4.25"/>
<circle class="c0" cx="487.2" cy="549.1" r="4.25"/>
<circle class="c0" cx="276.7" cy="832.2" r="4.25"/>
<circle class="c0" cx="255.0" cy="715.8" r="4.25"/>
<circle class="c0" cx="213.2" cy="542.7" r="4.25"/>
<circle class="c12" cx="197.0" cy="189.0" r="4.25"/>
<circle class="c2" cx="200.2" cy="229.9" r="4.25"/>
<circle class="c9" cx="179.3" cy="199.0" r="4.25"/>
<circle class="c0" cx="244.0" cy="373.5" r="4.25"/>
<circle class="c0" cx="199.1" cy="381.2" r="4.25"/>
<circle class="c0" cx="243.7" cy="190.0" r="4.25"/>
<circle class="c0" cx="193.5" cy="194.4" r="4.25"/>
<circle class="c0" cx="278.0" cy="152.9" r="4.25"/>
<circle class="c0" cx="208.7" cy="383.4" r="4.25"/>
<circle class="c5" cx="401.0" cy="211.9" r="4.25"/>
<circle class="c0" cx="209.8" cy="541.2" r="4.25"/>
<circle class="c0" cx="225.1" cy="603.7" r="4.25"/>
<circle class="c0" cx="191.9" cy="294.8" r="4.25"/>
<circle class="c6" cx="151.5" cy="156.5" r="4.25"/>
<circle class="c0" cx="205.0" cy="642.8" r="4.25"/>
<circle class="c3" cx="249.9" cy="440.3" r="4.25"/>
<circle class="c0" cx="215.8" cy="238.6" r="4.25"/>
<circle class="c1" cx="493.1" cy="541.1" r="4.25"/>
<circle class="c0" cx="258.3" cy="244.6" r="4.25"/>
<circle class="c3" cx="213.6" cy="172.5" r="4.25"/>
<circle class="c0" cx="253.4" cy="358.3" r="4.25"/>
<circle class="c0" cx="324.5" cy="744.3" r="4.25"/>
<circle class="c0" cx="208.5" cy="522.6" r="4.25"/>
<circle class="c0" cx="211.3" cy="458.9" r="4.25"/>
<circle class="c0" cx="357.2" cy="369.4" r="4.25"/>
<circle class="c0" cx="210.4" cy="713.1" r="4.25"/>
<circle class="c0" cx="130.5" cy="477.1" r="4.25"/>
<circle class="c3" cx="136.8" cy="522.9" r="4.25"/>
<circle class="c0" cx="218.3" cy="508.7" r="4.25"/>
<circle class="c0" cx="200.3" cy="131.7" r="4.25"/>
<circle class="c0" cx="160.7" cy="429.2" r="4.25"/>
<circle class="c0" cx="238.1" cy="506.5" r="4.25"/>
<circle class="c0" cx="155.7" cy="565.5" r="4.25"/>
<circle class="c0" cx="116.6" cy="508.3" r="4.25"/>
<circle class="c0" cx="173.1" cy="304.5" r="4.25"/>
<circle class="c0" cx="157.6" cy="452.2" r="4.25"/>
<circle class="c0" cx="260.2" cy="183.6" r="4.25"/>
<circle class="c0" cx="239.1" cy="277.2" r="4.25"/>
<circle class="c0" cx="199.3" cy="134.9" r="4.25"/>
<circle class="c0" cx="231.5" cy="453.8" r="4.25"/>
<circle class="c0" cx="211.7" cy="283.4" r="4.25"/>
<circle class="c0" cx="247.5" cy="372.6" r="4.25"/>
<circle class="c11" cx="395.9" cy="275.9" r="4.25"/>
<circle class="c0" cx="146.4" cy="400.5" r="4.25"/>
<circle class="c0" cx="231.7" cy="421.9" r="4.25"/>
<circle class="c0" cx="337.7" cy="367.9" r="4.25"/>
<circle class="c0" cx="187.1" cy="359.0" r="4.25"/>
<circle class="c3" cx="252.5" cy="292.4" r="4.25"/>
<circle class="c12" cx="503.0" cy="358.4" r="4.25"/>
<circle class="c0" cx="202.6" cy="159.5" r="4.25"/>
<circle class="c0" cx="218.9" cy="577.3" r="4.25"/>
<circle class="c5" cx="388.0" cy="209.1" r="4.25"/>
<circle class="c0" cx="142.3" cy="410.2" r="4.25"/>
<circle class="c0" cx="490.8" cy="410.5" r="4.25"/>
<circle class="c0" cx="232.8" cy="154.6" r="4.25"/>
<circle class="c0" cx="264.9" cy="200.5" r="4.25"/>
<circle class="c0" cx="177.7" cy="503.5" r="4.25"/>
<circle class="c0" cx="132.6" cy="425.5" r="4.25"/>
<circle class="c0" cx="159.2" cy="347.7" r="4.25"/>
<circle class="c0" cx="192.8" cy="223.0" r="4.25"/>
<circle class="c0" cx="242.8" cy="105.2" r="4.25"/>
<circle class="c10" cx="466.0" cy="479.0" r="4.25"/>
<circle class="c0" cx="232.6" cy="403.6" r="4.25"/>
<circle class="c13" cx="301.9" cy="239.6" r="4.25"/>
<circle class="c1" cx="296.3" cy="143.3" r="4.25"/>
<circle class="c0" cx="393.5" cy="650.1" r="4.25"/>
<circle class="c0" cx="168.0" cy="526.1" r="4.25"/>
<circle class="c0" cx="132.6" cy="438.6" r="4.25"/>
<circle class="c9" cx="147.2" cy="551.4" r="4.25"/>
<circle class="c7" cx="299.0" cy="236.0" r="4.25"/>
<circle class="c12" cx="226.0" cy="138.9" r="4.25"/>
<circle class="c0" cx="229.2" cy="71.5" r="4.25"/>
<circle class="c9" cx="330.0" cy="654.3" r="4.25"/>
<circle class="c0" cx="234.8" cy="396.2" r="4.25"/>
<circle class="c0" cx="353.3" cy="460.7" r="4.25"/>
<circle class="c0" cx="269.5" cy="828.0" r="4.25"/>
<circle class="c0" cx="282.8" cy="159.6" r="4.25"/>
<circle class="c0" cx="192.3" cy="274.2" r="4.25"/>
<circle class="c0" cx="156.4" cy="335.3" r="4.25"/>
<circle class="c2" cx="179.9" cy="571.8" r="4.25"/>
<circle class="c9" cx="198.0" cy="344.1" r="4.25"/>
<circle class="c0" cx="340.3" cy="625.1" r="4.25"/>
<circle class="c0" cx="190.2" cy="138.7" r="4.25"/>
<circle class="c0" cx="239.9" cy="395.2" r="4.25"/>
<circle class="c0" cx="218.2" cy="486.9" r="4.25"/>
<circle class="c3" cx="188.6" cy="315.8" r="4.25"/>
<circle class="c0" cx="230.2" cy="357.4" r="4.25"/>
<circle class="c0" cx="145.1" cy="468.9" r="4.25"/>
<circle class="c0" cx="312.4" cy="732.9" r="4.25"/>
<circle class="c0" cx="276.8" cy="830.2" r="4.25"/>
<circle class="c11" cx="478.7" cy="295.4" r="4.25"/>
<circle class="c0" cx="292.8" cy="123.1" r="4.25"/>
<circle class="c6" cx="184.0" cy="238.5" r="4.25"/>
<circle class="c0" cx="206.9" cy="143.9" r="4.25"/>
<circle class="c0" cx="247.7" cy="227.9" r="4.25"/>
<circle class="c0" cx="189.1" cy="533.8" r="4.25"/>
<circle class="c0" cx="165.9" cy="329.0" r="4.25"/>
<circle class="c0" cx="228.2" cy="154.8" r="4.25"/>
<circle class="c0" cx="227.4" cy="737.1" r="4.25"/>
<circle class="c0" cx="343.4" cy="374.3" r="4.25"/>
<circle class="c0" cx="262.9" cy="695.9" r="4.25"/>
<circle class="c0" cx="164.9" cy="436.7" r="4.25"/>
<circle class="c0" cx="207.3" cy="98.7" r="4.25"/>
<circle class="c0" cx="204.9" cy="644.3" r="4.25"/>
<circle class="c0" cx="266.3" cy="627.9" r="4.25"/>
<circle class="c4" cx="314.2" cy="261.6" r="4.25"/>
<circle class="c0" cx="238.2" cy="87.6" r="4.25"/>
<circle class="c0" cx="155.4" cy="381.7" r="4.25"/>
<circle class="c15" cx="527.9" cy="350.1" r="4.25"/>
<circle class="c0" cx="246.1" cy="394.3" r="4.25"/>
<circle class="c0" cx="162.2" cy="115.2" r="4.25"/>
<circle class="c0" cx="246.9" cy="666.0" r="4.25"/>
<circle class="c0" cx="408.3" cy="560.6" r="4.25"/>
<circle class="c10" cx="388.5" cy="226.5" r="4.25"/>
<circle class="c0" cx="332.4" cy="371.8" r="4.25"/>
<circle class="c0" cx="282.9" cy="668.2" r="4.25"/>
<circle class="c16" cx="446.3" cy="330.2" r="4.25"/>
<circle class="c0" cx="199.6" cy="258.5" r="4.25"/>
<circle class="c0" cx="161.5" cy="533.9" r="4.25"/>
<circle class="c0" cx="156.8" cy="120.0" r="4.25"/>
<circle class="c0" cx="113.0" cy="536.0" r="4.25"/>
<circle class="c0" cx="269.2" cy="771.4" r="4.25"/>
<circle class="c0" cx="275.7" cy="775.0" r="4.25"/>
<circle class="c0" cx="151.1" cy="479.5" r="4.25"/>
<circle class="c0" cx="221.5" cy="432.3" r="4.25"/>
<circle class="c0" cx="230.7" cy="331.9" r="4.25"/>
<circle class="c0" cx="187.6" cy="379.6" r="4.25"/>
<circle class="c15" cx="275.4" cy="153.6" r="4.25"/>
<circle class="c0" cx="238.1" cy="696.4" r="4.25"/>
<circle class="c0" cx="157.0" cy="498.5" r="4.25"/>
<circle class="c0" cx="191.0" cy="350.4" r="4.25"/>
<circle class="c0" cx="318.5" cy="104.8" r="4.25"/>
<circle class="c0" cx="241.8" cy="659.5" r="4.25"/>
<circle class="c3" cx="235.5" cy="118.6" r="4.25"/>
<circle class="c17" cx="442.0" cy="327.0" r="4.25"/>
<circle class="c0" cx="235.7" cy="414.2" r="4.25"/>
<circle class="c0" cx="156.6" cy="558.0" r="4.25"/>
<circle class="c0" cx="225.8" cy="106.0" r="4.25"/>
<circle class="c2" cx="334.9" cy="320.5" r="4.25"/>
<circle class="c13" cx="335.1" cy="252.0" r="4.25"/>
<circle class="c0" cx="354.4" cy="363.7" r="4.25"/>
<circle class="c0" cx="188.6" cy="567.8" r="4.25"/>
<circle class="c0" cx="169.8" cy="475.3" r="4.25"/>
<circle class="c3" cx="219.4" cy="198.7" r="4.25"/>
<circle class="c2" cx="238.8" cy="406.4" r="4.25"/>
<circle class="c0" cx="211.8" cy="84.6" r="4.25"/>
<circle class="c9" cx="424.1" cy="555.9" r="4.25"/>
<circle class="c0" cx="198.8" cy="229.2" r="4.25"/>
<circle class="c0" cx="276.6" cy="752.5" r="4.25"/>
<circle class="c18" cx="386.5" cy="224.9" r="4.25"/>
<circle class="c0" cx="186.4" cy="285.5" r="4.25"/>
<circle class="c0" cx="165.8" cy="183.1" r="4.25"/>
<circle class="c0" cx="253.2" cy="455.0" r="4.25"/>
<circle class="c0" cx="342.3" cy="616.3" r="4.25"/>
<circle class="c0" cx="250.6" cy="183.0" r="4.25"/>
<circle class="c0" cx="415.7" cy="598.4" r="4.25"/>
<circle class="c0" cx="222.4" cy="460.3" r="4.25"/>
<circle class="c3" cx="187.9" cy="282.3" r="4.25"/>
<circle class="c0" cx="262.2" cy="666.0" r="4.25"/>
<circle class="c0" cx="176.2" cy="392.6" r="4.25"/>
<circle class="c0" cx="153.5" cy="493.1" r="4.25"/>
<circle class="c15" cx="497.5" cy="383.7" r="4.25"/>
<circle class="c0" cx="540.9" cy="432.1" r="4.25"/>
<circle class="c0" cx="233.3" cy="602.6" r="4.25"/>
<circle class="c0" cx="194.0" cy="250.4" r="4.25"/>
<circle class="c0" cx="257.7" cy="675.1" r="4.25"/>
<circle class="c0" cx="157.7" cy="411.4" r="4.25"/>
<circle class="c0" cx="244.3" cy="793.1" r="4.25"/>
<circle class="c5" cx="463.0" cy="227.2" r="4.25"/>
<circle class="c0" cx="182.4" cy="465.5" r="4.25"/>
<circle class="c0" cx="140.7" cy="417.1" r="4.25"/>
<circle class="c0" cx="207.2" cy="145.4" r="4.25"/>
<circle class="c0" cx="536.5" cy="360.5" r="4.25"/>
<circle class="c0" cx="198.8" cy="303.0" r="4.25"/>
<circle class="c0" cx="317.1" cy="711.2" r="4.25"/>
<circle class="c0" cx="483.5" cy="578.2" r="4.25"/>
<circle class="c0" cx="206.3" cy="410.7" r="4.25"/>
<circle class="c0" cx="557.1" cy="397.1" r="4.25"/>
<circle class="c0" cx="360.9" cy="378.7" r="4.25"/>
<circle class="c0" cx="201.9" cy="136.9" r="4.25"/>
<circle class="c0" cx="236.5" cy="195.6" r="4.25"/>
<circle class="c0" cx="389.0" cy="644.8" r="4.25"/>
<circle class="c0" cx="183.5" cy="335.1" r="4.25"/>
<circle class="c0" cx="358.6" cy="354.1" r="4.25"/>
<circle class="c0" cx="189.1" cy="472.7" r="4.25"/>
<circle class="c0" cx="490.3" cy="400.9" r="4.25"/>
<circle class="c16" cx="460.2" cy="250.8" r="4.25"/>
<circle class="c13" cx="436.9" cy="264.5" r="4.25"/>
<circle class="c0" cx="263.7" cy="166.1" r="4.25"/>
<circle class="c3" cx="223.6" cy="353.0" r="4.25"/>
<circle class="c0" cx="243.2" cy="250.0" r="4.25"/>
<circle class="c0" cx="172.8" cy="514.8" r="4.25"/>
<circle class="c0" cx="327.9" cy="404.2" r="4.25"/>
<circle class="c0" cx="158.8" cy="509.4" r="4.25"/>
<circle class="c16" cx="481.2" cy="309.8" r="4.25"/>
<circle class="c0" cx="170.4" cy="220.3" r="4.25"/>
<circle class="c0" cx="470.6" cy="585.0" r="4.25"/>
<circle class="c9" cx="314.0" cy="236.0" r="4.25"/>
<circle class="c0" cx="265.0" cy="200.2" r="4.25"/>
<circle class="c11" cx="461.0" cy="240.5" r="4.25"/>
<circle class="c0" cx="218.4" cy="482.3" r="4.25"/>
<circle class="c15" cx="185.4" cy="206.1" r="4.25"/>
<circle class="c0" cx="196.6" cy="179.6" r="4.25"/>
<circle class="c0" cx="227.9" cy="719.0" r="4.25"/>
<circle class="c9" cx="211.8" cy="237.7" r="4.25"/>
<circle class="c0" cx="126.0" cy="575.0" r="4.25"/>
<circle class="c10" cx="357.0" cy="213.2" r="4.25"/>
<circle class="c0" cx="209.6" cy="548.0" r="4.25"/>
<circle class="c4" cx="473.3" cy="499.3" r="4.25"/>
<circle class="c0" cx="328.4" cy="287.4" r="4.25"/>
<circle class="c0" cx="317.3" cy="386.1" r="4.25"/>
<circle class="c0" cx="190.6" cy="508.3" r="4.25"/>
<circle class="c0" cx="323.4" cy="703.1" r="4.25"/>
<circle class="c0" cx="141.4" cy="489.2" r="4.25"/>
<circle class="c0" cx="211.1" cy="142.7" r="4.25"/>
<circle class="c0" cx="148.9" cy="560.9" r="4.25"/>
<circle class="c0" cx="268.1" cy="755.3" r="4.25"/>
<circle class="c16" cx="472.3" cy="237.2" r="4.25"/>
<circle class="c0" cx="177.3" cy="464.9" r="4.25"/>
<circle class="c0" cx="152.2" cy="392.5" r="4.25"/>
<circle class="c0" cx="484.0" cy="576.9" r="4.25"/>
<circle class="c0" cx="259.2" cy="185.1" r="4.25"/>
<circle class="c0" cx="221.1" cy="389.1" r="4.25"/>
<circle class="c0" cx="180.7" cy="404.3" r="4.25"/>
<circle class="c0" cx="241.2" cy="208.2" r="4.25"/>
<circle class="c4" cx="484.7" cy="289.6" r="4.25"/>
<circle class="c0" cx="237.0" cy="488.6" r="4.25"/>
<circle class="c11" cx="397.2" cy="223.2" r="4.25"/>
<circle class="c0" cx="212.1" cy="463.5" r="4.25"/>
<circle class="c1" cx="208.3" cy="285.8" r="4.25"/>
<circle class="c0" cx="216.0" cy="511.9" r="4.25"/>
<circle class="c0" cx="263.4" cy="676.5" r="4.25"/>
<circle class="c0" cx="183.2" cy="503.0" r="4.25"/>
<circle class="c0" cx="243.1" cy="406.5" r="4.25"/>
<circle class="c0" cx="269.3" cy="820.5" r="4.25"/>
<circle class="c1" cx="136.6" cy="535.2" r="4.25"/>
<circle class="c0" cx="133.8" cy="471.4" r="4.25"/>
<circle class="c0" cx="145.9" cy="384.1" r="4.25"/>
<circle class="c15" cx="139.4" cy="524.1" r="4.25"/>
<circle class="c16" cx="458.2" cy="247.8" r="4.25"/>
<circle class="c0" cx="241.8" cy="327.4" r="4.25"/>
<circle class="c0" cx="208.2" cy="567.6" r="4.25"/>
<circle class="c0" cx="411.1" cy="300.1" r="4.25"/>
<circle class="c2" cx="250.4" cy="664.4" r="4.25"/>
<circle class="c0" cx="216.1" cy="230.2" r="4.25"/>
<circle class="c0" cx="495.5" cy="506.2" r="4.25"/>
<circle class="c0" cx="194.1" cy="199.0" r="4.25"/>
<circle class="c10" cx="395.0" cy="258.0" r="4.25"/>
<circle class="c0" cx="247.4" cy="533.2" r="4.25"/>
<circle class="c0" cx="184.0" cy="170.9" r="4.25"/>
<circle class="c0" cx="125.8" cy="460.6" r="4.25"/>
<circle class="c0" cx="213.8" cy="735.9" r="4.25"/>
<circle class="c3" cx="202.8" cy="562.8" r="4.25"/>
<circle class="c0" cx="137.9" cy="429.1" r="4.25"/>
<circle class="c0" cx="198.1" cy="121.4" r="4.25"/>
<circle class="c0" cx="166.6" cy="343.9" r="4.25"/>
<circle class="c15" cx="435.0" cy="557.0" r="4.25"/>
<circle class="c0" cx="339.0" cy="383.5" r="4.25"/>
<circle class="c0" cx="211.9" cy="244.5" r="4.25"/>
<circle class="c4" cx="277.0" cy="209.0" r="4.25"/>
<circle class="c0" cx="231.0" cy="701.5" r="4.25"/>
<circle class="c3" cx="213.2" cy="282.1" r="4.25"/>
<circle class="c0" cx="219.5" cy="437.0" r="4.25"/>
<circle class="c18" cx="386.0" cy="214.8" r="4.25"/>
<circle class="c0" cx="263.3" cy="794.7" r="4.25"/>
<circle class="c5" cx="491.1" cy="321.3" r="4.25"/>
<circle class="c0" cx="331.9" cy="662.8" r="4.25"/>
<circle class="c0" cx="318.6" cy="283.8" r="4.25"/>
<circle class="c12" cx="165.0" cy="566.6" r="4.25"/>
<circle class="c9" cx="309.2" cy="626.0" r="4.25"/>
<circle class="c0" cx="187.3" cy="134.7" r="4.25"/>
<circle class="c0" cx="161.7" cy="503.8" r="4.25"/>
<circle class="c0" cx="318.1" cy="736.1" r="4.25"/>
<circle class="c1" cx="185.9" cy="314.8" r="4.25"/>
<circle class="c0" cx="176.9" cy="352.6" r="4.25"/>
<circle class="c0" cx="238.3" cy="496.6" r="4.25"/>
<circle class="c0" cx="419.0" cy="317.3" r="4.25"/>
<circle class="c0" cx="161.1" cy="79.6" r="4.25"/>
<circle class="c0" cx="187.7" cy="186.3" r="4.25"/>
<circle class="c16" cx="484.5" cy="293.9" r="4.25"/>
<circle class="c0" cx="225.8" cy="141.9" r="4.25"/>
<circle class="c0" cx="216.7" cy="219.8" r="4.25"/>
<circle class="c0" cx="467.7" cy="581.4" r="4.25"/>
<circle class="c0" cx="200.0" cy="114.1" r="4.25"/>
<circle class="c0" cx="212.6" cy="394.2" r="4.25"/>
<circle class="c13" cx="450.8" cy="241.3" r="4.25"/>
<circle class="c12" cx="236.9" cy="179.9" r="4.25"/>
<circle class="c14" cx="391.8" cy="205.4" r="4.25"/>
<circle class="c0" cx="186.4" cy="171.1" r="4.25"/>
<circle class="c9" cx="310.9" cy="245.1" r="4.25"/>
<circle class="c0" cx="166.6" cy="430.0" r="4.25"/>
<circle class="c12" cx="505.2" cy="353.5" r="4.25"/>
<circle class="c0" cx="540.1" cy="424.1" r="4.25"/>
<circle class="c0" cx="131.3" cy="477.6" r="4.25"/>
<circle class="c0" cx="177.2" cy="92.2" r="4.25"/>
<circle class="c12" cx="307.4" cy="269.3" r="4.25"/>
<circle class="c11" cx="448.7" cy="330.8" r="4.25"/>
<circle class="c0" cx="158.8" cy="553.8" r="4.25"/>
<circle class="c0" cx="150.0" cy="443.3" r="4.25"/>
<circle class="c0" cx="210.2" cy="79.2" r="4.25"/>
<circle class="c0" cx="264.2" cy="661.5" r="4.25"/>
<circle class="c0" cx="552.3" cy="382.4" r="4.25"/>
<circle class="c2" cx="530.8" cy="377.0" r="4.25"/>
<circle class="c4" cx="443.0" cy="275.7" r="4.25"/>
<circle class="c0" cx="535.3" cy="407.0" r="4.25"/>
<circle class="c0" cx="246.3" cy="530.7" r="4.25"/>
<circle class="c0" cx="537.1" cy="389.1" r="4.25"/>
<circle class="c3" cx="239.3" cy="630.9" r="4.25"/>
<circle class="c0" cx="350.3" cy="385.0" r="4.25"/>
<circle class="c0" cx="170.2" cy="395.4" r="4.25"/>
<circle class="c0" cx="235.2" cy="342.0" r="4.25"/>
<circle class="c0" cx="540.8" cy="390.4" r="4.25"/>
<circle class="c0" cx="178.9" cy="156.2" r="4.25"/>
<circle class="c9" cx="230.0" cy="241.8" r="4.25"/>
<circle class="c2" cx="239.4" cy="280.4" r="4.25"/>
<circle class="c0" cx="536.2" cy="405.2" r="4.25"/>
<circle class="c1" cx="164.4" cy="83.7" r="4.25"/>
<circle class="c0" cx="156.6" cy="461.6" r="4.25"/>
<circle class="c16" cx="298.0" cy="213.0" r="4.25"/>
<circle class="c1" cx="189.7" cy="213.8" r="4.25"/>
<circle class="c0" cx="216.0" cy="337.9" r="4.25"/>
<circle class="c1" cx="247.8" cy="477.8" r="4.25"/>
<circle class="c0" cx="222.3" cy="528.7" r="4.25"/>
<circle class="c0" cx="159.3" cy="200.6" r="4.25"/>
<circle class="c0" cx="325.0" cy="277.0" r="4.25"/>
<circle class="c0" cx="234.7" cy="282.9" r="4.25"/>
<circle class="c0" cx="139.9" cy="489.7" r="4.25"/>
<circle class="c0" cx="148.4" cy="434.4" r="4.25"/>
<circle class="c0" cx="194.5" cy="403.1" r="4.25"/>
<circle class="c0" cx="119.8" cy="523.3" r="4.25"/>
<circle class="c9" cx="429.7" cy="325.0" r="4.25"/>
<circle class="c0" cx="158.5" cy="180.5" r="4.25"/>
<circle class="c0" cx="490.7" cy="541.6" r="4.25"/>
<circle class="c0" cx="270.2" cy="160.8" r="4.25"/>
<circle class="c0" cx="140.4" cy="443.4" r="4.25"/>
<circle class="c0" cx="254.2" cy="635.9" r="4.25"/>
<circle class="c0" cx="252.2" cy="276.3" r="4.25"/>
<circle class="c0" cx="209.4" cy="267.2" r="4.25"/>
<circle class="c0" cx="187.8" cy="206.6" r="4.25"/>
<circle class="c0" cx="210.3" cy="176.8" r="4.25"/>
<circle class="c3" cx="231.4" cy="483.3" r="4.25"/>
<circle class="c0" cx="173.6" cy="110.6" r="4.25"/>
<circle class="c0" cx="239.3" cy="113.1" r="4.25"/>
<circle class="c0" cx="197.0" cy="431.5" r="4.25"/>
<circle class="c0" cx="533.5" cy="412.1" r="4.25"/>
<circle class="c0" cx="214.1" cy="181.2" r="4.25"/>
<circle class="c0" cx="527.9" cy="408.3" r="4.25"/>
<circle class="c0" cx="276.7" cy="834.3" r="4.25"/>
<circle class="c0" cx="278.2" cy="792.3" r="4.25"/>
<circle class="c0" cx="230.4" cy="338.5" r="4.25"/>
<circle class="c0" cx="191.7" cy="619.0" r="4.25"/>
<circle class="c0" cx="209.5" cy="267.0" r="4.25"/>
<circle class="c0" cx="248.1" cy="530.7" r="4.25"/>
<circle class="c6" cx="472.8" cy="512.4" r="4.25"/>
<circle class="c0" cx="326.8" cy="394.4" r="4.25"/>
<circle class="c0" cx="162.6" cy="402.2" r="4.25"/>
<circle class="c0" cx="179.3" cy="416.7" r="4.25"/>
<circle class="c16" cx="379.9" cy="220.9" r="4.25"/>
<circle class="c0" cx="221.3" cy="360.5" r="4.25"/>
<circle class="c7" cx="449.8" cy="241.1" r="4.25"/>
<circle class="c0" cx="139.4" cy="433.3" r="4.25"/>
<circle class="c9" cx="235.6" cy="263.4" r="4.25"/>
<circle class="c0" cx="215.4" cy="199.6" r="4.25"/>
<circle class="c0" cx="245.9" cy="213.3" r="4.25"/>
<circle class="c0" cx="170.4" cy="264.0" r="4.25"/>
<circle class="c0" cx="153.1" cy="159.3" r="4.25"/>
<circle class="c0" cx="185.3" cy="558.6" r="4.25"/>
<circle class="c8" cx="424.2" cy="240.4" r="4.25"/>
<circle class="c0" cx="170.4" cy="400.6" r="4.25"/>
<circle class="c0" cx="318.7" cy="378.8" r="4.25"/>
<circle class="c0" cx="182.5" cy="465.1" r="4.25"/>
<circle class="c0" cx="537.6" cy="379.0" r="4.25"/>
<circle class="c0" cx="183.2" cy="132.1" r="4.25"/>
<circle class="c0" cx="179.6" cy="314.4" r="4.25"/>
<circle class="c0" cx="190.1" cy="81.6" r="4.25"/>
<circle class="c0" cx="182.0" cy="186.3" r="4.25"/>
<circle class="c0" cx="225.2" cy="641.7" r="4.25"/>
<circle class="c0" cx="181.5" cy="214.7" r="4.25"/>
<circle class="c7" cx="459.8" cy="233.9" r="4.25"/>
<circle class="c0" cx="166.8" cy="205.2" r="4.25"/>
<circle class="c0" cx="229.0" cy="190.9" r="4.25"/>
<circle class="c0" cx="193.7" cy="605.2" r="4.25"/>
<circle class="c1" cx="212.2" cy="396.6" r="4.25"/>
<circle class="c3" cx="201.8" cy="290.9" r="4.25"/>
<circle class="c0" cx="161.8" cy="331.7" r="4.25"/>
<circle class="c12" cx="183.3" cy="155.2" r="4.25"/>
<circle class="c0" cx="228.1" cy="401.9" r="4.25"/>
<circle class="c0" cx="529.9" cy="353.9" r="4.25"/>
<circle class="c2" cx="183.7" cy="114.3" r="4.25"/>
<circle class="c3" cx="209.9" cy="510.9" r="4.25"/>
<circle class="c0" cx="213.5" cy="686.5" r="4.25"/>
<circle class="c0" cx="190.8" cy="212.2" r="4.25"/>
<circle class="c0" cx="268.6" cy="826.3" r="4.25"/>
<circle class="c0" cx="249.9" cy="349.8" r="4.25"/>
<circle class="c0" cx="187.8" cy="331.2" r="4.25"/>
<circle class="c0" cx="278.7" cy="626.3" r="4.25"/>
<circle class="c0" cx="213.5" cy="595.6" r="4.25"/>
<circle class="c0" cx="183.7" cy="404.7" r="4.25"/>
<circle class="c0" cx="211.1" cy="496.0" r="4.25"/>
<circle class="c8" cx="471.7" cy="260.5" r="4.25"/>
<circle class="c0" cx="233.4" cy="545.8" r="4.25"/>
<circle class="c0" cx="215.3" cy="178.2" r="4.25"/>
<circle class="c0" cx="256.0" cy="265.1" r="4.25"/>
<circle class="c10" cx="383.2" cy="244.9" r="4.25"/>
<circle class="c0" cx="271.1" cy="185.9" r="4.25"/>
<circle class="c3" cx="249.8" cy="314.1" r="4.25"/>
<circle class="c0" cx="154.7" cy="477.4" r="4.25"/>
<circle class="c2" cx="255.1" cy="193.3" r="4.25"/>
<circle class="c9" cx="226.0" cy="758.4" r="4.25"/>
<circle class="c0" cx="200.4" cy="589.9" r="4.25"/>
<circle class="c0" cx="143.6" cy="501.4" r="4.25"/>
<circle class="c0" cx="193.5" cy="373.5" r="4.25"/>
<circle class="c1" cx="506.5" cy="393.0" r="4.25"/>
<circle class="c0" cx="165.2" cy="269.6" r="4.25"/>
<circle class="c0" cx="353.8" cy="411.1" r="4.25"/>
<circle class="c0" cx="168.3" cy="145.4" r="4.25"/>
<circle class="c0" cx="147.9" cy="552.4" r="4.25"/>
<circle class="c0" cx="186.5" cy="641.3" r="4.25"/>
<circle class="c0" cx="252.0" cy="657.7" r="4.25"/>
<circle class="c0" cx="192.7" cy="439.5" r="4.25"/>
<circle class="c0" cx="323.5" cy="376.1" r="4.25"/>
<circle class="c17" cx="446.9" cy="325.1" r="4.25"/>
<circle class="c16" cx="389.5" cy="210.8" r="4.25"/>
<circle class="c0" cx="157.1" cy="546.9" r="4.25"/>
<circle class="c0" cx="225.2" cy="719.2" r="4.25"/>
<circle class="c12" cx="160.6" cy="78.6" r="4.25"/>
<circle class="c2" cx="167.7" cy="349.7" r="4.25"/>
<circle class="c0" cx="412.9" cy="605.6" r="4.25"/>
<circle class="c3" cx="174.5" cy="495.4" r="4.25"/>
<circle class="c0" cx="219.2" cy="590.8" r="4.25"/>
<circle class="c0" cx="262.7" cy="801.3" r="4.25"/>
<circle class="c0" cx="193.9" cy="208.9" r="4.25"/>
<circle class="c0" cx="209.4" cy="284.2" r="4.25"/>
<circle class="c0" cx="147.4" cy="540.5" r="4.25"/>
<circle class="c0" cx="258.3" cy="198.8" r="4.25"/>
<circle class="c0" cx="321.3" cy="104.3" r="4.25"/>
<circle class="c0" cx="222.6" cy="733.5" r="4.25"/>
<circle class="c0" cx="123.5" cy="474.9" r="4.25"/>
<circle class="c0" cx="248.4" cy="168.3" r="4.25"/>
<circle class="c0" cx="179.2" cy="196.1" r="4.25"/>
<circle class="c0" cx="243.0" cy="304.5" r="4.25"/>
<circle class="c16" cx="466.1" cy="251.3" r="4.25"/>
<circle class="c0" cx="501.3" cy="501.2" r="4.25"/>
<circle class="c0" cx="196.8" cy="263.6" r="4.25"/>
<circle class="c9" cx="274.1" cy="630.8" r="4.25"/>
<circle class="c0" cx="162.3" cy="487.6" r="4.25"/>
<circle class="c0" cx="148.1" cy="502.4" r="4.25"/>
<circle class="c0" cx="318.8" cy="389.3" r="4.25"/>
<circle class="c0" cx="153.9" cy="111.5" r="4.25"/>
<circle class="c0" cx="204.7" cy="138.1" r="4.25"/>
<circle class="c11" cx="435.7" cy="234.4" r="4.25"/>
<circle class="c0" cx="157.8" cy="553.2" r="4.25"/>
<circle class="c0" cx="238.4" cy="435.8" r="4.25"/>
<circle class="c0" cx="194.3" cy="532.7" r="4.25"/>
<circle class="c2" cx="200.7" cy="414.0" r="4.25"/>
<circle class="c0" cx="235.6" cy="95.4" r="4.25"/>
<circle class="c0" cx="507.7" cy="392.3" r="4.25"/>
<circle class="c0" cx="222.7" cy="715.7" r="4.25"/>
<circle class="c0" cx="496.5" cy="485.1" r="4.25"/>
<circle class="c0" cx="213.5" cy="393.7" r="4.25"/>
<circle class="c0" cx="205.6" cy="339.5" r="4.25"/>
<circle class="c1" cx="270.3" cy="207.6" r="4.25"/>
<circle class="c0" cx="405.9" cy="524.9" r="4.25"/>
<circle class="c0" cx="185.8" cy="161.2" r="4.25"/>
<circle class="c0" cx="262.1" cy="240.2" r="4.25"/>
<circle class="c2" cx="227.0" cy="329.4" r="4.25"/>
<circle class="c16" cx="380.5" cy="253.0" r="4.25"/>
<circle class="c0" cx="177.7" cy="572.4" r="4.25"/>
<circle class="c0" cx="333.5" cy="369.6" r="4.25"/>
<circle class="c0" cx="244.2" cy="718.3" r="4.25"/>
<circle class="c0" cx="243.4" cy="221.6" r="4.25"/>
<circle class="c0" cx="179.0" cy="550.2" r="4.25"/>
<circle class="c0" cx="165.6" cy="371.4" r="4.25"/>
<circle class="c0" cx="189.5" cy="580.2" r="4.25"/>
<circle class="c15" cx="224.9" cy="151.0" r="4.25"/>
<circle class="c0" cx="223.8" cy="419.2" r="4.25"/>
<circle class="c15" cx="148.9" cy="476.4" r="4.25"/>
<circle class="c9" cx="161.5" cy="347.7" r="4.25"/>
<circle class="c18" cx="385.4" cy="213.2" r="4.25"/>
<circle class="c0" cx="168.5" cy="362.8" r="4.25"/>
<circle class="c0" cx="200.6" cy="103.0" r="4.25"/>
<circle class="c0" cx="205.8" cy="325.6" r="4.25"/>
<circle class="c0" cx="191.9" cy="155.1" r="4.25"/>
<circle class="c12" cx="415.9" cy="610.9" r="4.25"/>
<circle class="c12" cx="293.4" cy="159.1" r="4.25"/>
<circle class="c9" cx="331.8" cy="269.4" r="4.25"/>
<circle class="c0" cx="281.1" cy="158.4" r="4.25"/>
<circle class="c0" cx="217.2" cy="398.3" r="4.25"/>
<circle class="c0" cx="151.6" cy="562.8" r="4.25"/>
<circle class="c0" cx="174.9" cy="522.1" r="4.25"/>
<circle class="c0" cx="215.1" cy="504.3" r="4.25"/>
<circle class="c0" cx="222.6" cy="516.0" r="4.25"/>
<circle class="c0" cx="346.2" cy="372.4" r="4.25"/>
<circle class="c0" cx="126.4" cy="447.6" r="4.25"/>
<circle class="c0" cx="207.8" cy="561.2" r="4.25"/>
<circle class="c15" cx="557.0" cy="405.8" r="4.25"/>
<circle class="c17" cx="453.1" cy="271.8" r="4.25"/>
<circle class="c0" cx="203.3" cy="443.1" r="4.25"/>
<circle class="c3" cx="154.9" cy="142.2" r="4.25"/>
<circle class="c1" cx="505.9" cy="384.4" r="4.25"/>
<circle class="c0" cx="163.3" cy="408.6" r="4.25"/>
<circle class="c0" cx="250.3" cy="375.4" r="4.25"/>
<circle class="c12" cx="466.4" cy="479.8" r="4.25"/>
<circle class="c0" cx="194.5" cy="398.4" r="4.25"/>
<circle class="c0" cx="316.1" cy="96.6" r="4.25"/>
<circle class="c2" cx="203.2" cy="236.4" r="4.25"/>
<circle class="c0" cx="222.7" cy="708.4" r="4.25"/>
<circle class="c0" cx="246.3" cy="690.3" r="4.25"/>
<circle class="c1" cx="235.0" cy="114.6" r="4.25"/>
<circle class="c0" cx="199.2" cy="136.1" r="4.25"/>
<circle class="c0" cx="218.4" cy="263.6" r="4.25"/>
<circle class="c0" cx="211.1" cy="570.6" r="4.25"/>
<circle class="c0" cx="268.5" cy="651.2" r="4.25"/>
<circle class="c0" cx="156.9" cy="110.0" r="4.25"/>
<circle class="c0" cx="149.6" cy="549.4" r="4.25"/>
<circle class="c0" cx="178.3" cy="431.5" r="4.25"/>
<circle class="c15" cx="205.6" cy="521.5" r="4.25"/>
<circle class="c0" cx="271.9" cy="164.7" r="4.25"/>
<circle class="c0" cx="339.0" cy="378.1" r="4.25"/>
<circle class="c4" cx="384.1" cy="205.7" r="4.25"/>
<circle class="c0" cx="222.9" cy="634.1" r="4.25"/>
<circle class="c0" cx="247.7" cy="485.5" r="4.25"/>
<circle class="c0" cx="192.2" cy="210.2" r="4.25"/>
<circle class="c0" cx="220.4" cy="716.7" r="4.25"/>
<circle class="c0" cx="493.1" cy="410.0" r="4.25"/>
<circle class="c0" cx="395.1" cy="653.4" r="4.25"/>
<circle class="c16" cx="309.6" cy="229.4" r="4.25"/>
<circle class="c0" cx="215.4" cy="349.3" r="4.25"/>
<circle class="c0" cx="154.7" cy="461.9" r="4.25"/>
<circle class="c0" cx="234.8" cy="504.6" r="4.25"/>
<circle class="c15" cx="251.2" cy="402.3" r="4.25"/>
<circle class="c13" cx="433.1" cy="323.6" r="4.25"/>
<circle class="c0" cx="159.6" cy="434.8" r="4.25"/>
<circle class="c0" cx="148.0" cy="488.3" r="4.25"/>
<circle class="c0" cx="218.9" cy="85.3" r="4.25"/>
<circle class="c1" cx="500.3" cy="348.8" r="4.25"/>
<circle class="c0" cx="201.3" cy="515.5" r="4.25"/>
<circle class="c0" cx="166.4" cy="148.4" r="4.25"/>
<circle class="c3" cx="154.5" cy="399.0" r="4.25"/>
<circle class="c0" cx="255.1" cy="731.6" r="4.25"/>
<circle class="c0" cx="273.2" cy="649.8" r="4.25"/>
<circle class="c0" cx="211.7" cy="316.7" r="4.25"/>
<circle class="c0" cx="232.0" cy="284.0" r="4.25"/>
<circle class="c0" cx="211.3" cy="291.5" r="4.25"/>
<circle class="c0" cx="198.4" cy="540.6" r="4.25"/>
<circle class="c0" cx="185.2" cy="327.6" r="4.25"/>
<circle class="c0" cx="208.1" cy="362.5" r="4.25"/>
<circle class="c3" cx="200.5" cy="331.0" r="4.25"/>
<circle class="c0" cx="202.0" cy="504.5" r="4.25"/>
<circle class="c1" cx="492.6" cy="525.6" r="4.25"/>
<circle class="c0" cx="226.1" cy="432.2" r="4.25"/>
<circle class="c0" cx="202.5" cy="512.5" r="4.25"/>
<circle class="c6" cx="219.1" cy="577.0" r="4.25"/>
<circle class="c0" cx="482.6" cy="571.5" r="4.25"/>
<circle class="c0" cx="204.4" cy="80.2" r="4.25"/>
<circle class="c0" cx="349.7" cy="410.8" r="4.25"/>
<circle class="c0" cx="461.1" cy="591.8" r="4.25"/>
<circle class="c0" cx="131.8" cy="535.4" r="4.25"/>
<circle class="c8" cx="447.5" cy="341.5" r="4.25"/>
<circle class="c0" cx="356.6" cy="415.1" r="4.25"/>
<circle class="c0" cx="355.6" cy="384.7" r="4.25"/>
<circle class="c0" cx="353.0" cy="650.0" r="4.25"/>
<circle class="c9" cx="201.0" cy="595.5" r="4.25"/>
<circle class="c0" cx="339.5" cy="338.0" r="4.25"/>
<circle class="c1" cx="322.0" cy="369.3" r="4.25"/>
<circle class="c0" cx="245.0" cy="687.4" r="4.25"/>
<circle class="c0" cx="246.9" cy="233.4" r="4.25"/>
<circle class="c0" cx="237.1" cy="456.7" r="4.25"/>
<circle class="c0" cx="182.8" cy="127.9" r="4.25"/>
<circle class="c0" cx="309.0" cy="724.4" r="4.25"/>
<circle class="c0" cx="187.0" cy="235.9" r="4.25"/>
<circle class="c0" cx="212.1" cy="106.5" r="4.25"/>
<circle class="c12" cx="158.6" cy="74.5" r="4.25"/>
<circle class="c0" cx="230.2" cy="533.7" r="4.25"/>
<circle class="c6" cx="287.0" cy="602.0" r="4.25"/>
<circle class="c0" cx="279.9" cy="761.6" r="4.25"/>
<circle class="c0" cx="538.1" cy="400.7" r="4.25"/>
<circle class="c3" cx="251.6" cy="297.2" r="4.25"/>
<circle class="c0" cx="193.9" cy="148.2" r="4.25"/>
<circle class="c0" cx="219.6" cy="328.2" r="4.25"/>
<circle class="c0" cx="501.4" cy="466.5" r="4.25"/>
<circle class="c0" cx="245.1" cy="530.0" r="4.25"/>
<circle class="c16" cx="443.5" cy="293.6" r="4.25"/>
<circle class="c0" cx="353.4" cy="728.2" r="4.25"/>
<circle class="c2" cx="182.5" cy="483.4" r="4.25"/>
<circle class="c3" cx="301.0" cy="130.4" r="4.25"/>
<circle class="c0" cx="335.0" cy="370.0" r="4.25"/>
<circle class="c0" cx="169.7" cy="81.9" r="4.25"/>
<circle class="c0" cx="156.4" cy="76.3" r="4.25"/>
<circle class="c0" cx="327.2" cy="408.9" r="4.25"/>
<circle class="c0" cx="172.5" cy="101.7" r="4.25"/>
<circle class="c13" cx="435.7" cy="248.8" r="4.25"/>
<circle class="c16" cx="441.1" cy="229.2" r="4.25"/>
<circle class="c0" cx="236.4" cy="154.1" r="4.25"/>
<circle class="c15" cx="162.4" cy="265.4" r="4.25"/>
<circle class="c17" cx="309.6" cy="263.6" r="4.25"/>
<circle class="c0" cx="178.1" cy="526.5" r="4.25"/>
<circle class="c0" cx="185.6" cy="240.8" r="4.25"/>
<circle class="c0" cx="259.9" cy="736.9" r="4.25"/>
<circle class="c0" cx="420.6" cy="323.3" r="4.25"/>
<circle class="c0" cx="166.4" cy="185.0" r="4.25"/>
<circle class="c0" cx="278.2" cy="177.5" r="4.25"/>
<circle class="c0" cx="364.2" cy="725.4" r="4.25"/>
<circle class="c0" cx="168.6" cy="172.8" r="4.25"/>
<circle class="c0" cx="317.6" cy="102.6" r="4.25"/>
<circle class="c0" cx="217.2" cy="287.2" r="4.25"/>
<circle class="c0" cx="235.8" cy="590.1" r="4.25"/>
<circle class="c2" cx="158.8" cy="191.2" r="4.25"/>
<circle class="c9" cx="172.5" cy="154.5" r="4.25"/>
<circle class="c0" cx="246.1" cy="622.4" r="4.25"/>
<circle class="c0" cx="189.8" cy="277.4" r="4.25"/>
<circle class="c2" cx="354.7" cy="428.1" r="4.25"/>
<circle class="c7" cx="451.7" cy="222.8" r="4.25"/>
<circle class="c0" cx="222.3" cy="676.0" r="4.25"/>
<circle class="c0" cx="219.3" cy="257.9" r="4.25"/>
<circle class="c0" cx="172.3" cy="366.1" r="4.25"/>
<circle class="c0" cx="254.6" cy="218.2" r="4.25"/>
<circle class="c6" cx="228.1" cy="525.1" r="4.25"/>
<circle class="c5" cx="334.2" cy="270.6" r="4.25"/>
<circle class="c0" cx="159.1" cy="552.8" r="4.25"/>
<circle class="c0" cx="245.5" cy="637.6" r="4.25"/>
<circle class="c0" cx="233.1" cy="640.6" r="4.25"/>
<circle class="c0" cx="238.1" cy="732.1" r="4.25"/>
<circle class="c9" cx="303.6" cy="112.8" r="4.25"/>
<circle class="c0" cx="147.5" cy="556.6" r="4.25"/>
<circle class="c0" cx="202.2" cy="343.5" r="4.25"/>
<circle class="c0" cx="175.5" cy="265.4" r="4.25"/>
<circle class="c0" cx="211.2" cy="62.6" r="4.25"/>
<circle class="c0" cx="216.8" cy="68.2" r="4.25"/>
<circle class="c0" cx="239.1" cy="173.6" r="4.25"/>
<circle class="c0" cx="200.2" cy="480.0" r="4.25"/>
<circle class="c13" cx="456.3" cy="238.0" r="4.25"/>
<circle class="c0" cx="179.1" cy="353.1" r="4.25"/>
<circle class="c0" cx="152.6" cy="392.6" r="4.25"/>
<circle class="c0" cx="159.6" cy="452.7" r="4.25"/>
<circle class="c0" cx="174.9" cy="184.2" r="4.25"/>
<circle class="c4" cx="431.6" cy="270.0" r="4.25"/>
<circle class="c15" cx="323.4" cy="234.9" r="4.25"/>
<circle class="c0" cx="222.9" cy="109.1" r="4.25"/>
<circle class="c0" cx="303.4" cy="725.4" r="4.25"/>
<circle class="c0" cx="541.4" cy="418.4" r="4.25"/>
<circle class="c0" cx="198.5" cy="458.0" r="4.25"/>
<circle class="c0" cx="188.2" cy="351.2" r="4.25"/>
<circle class="c0" cx="251.7" cy="200.4" r="4.25"/>
<circle class="c0" cx="166.8" cy="144.1" r="4.25"/>
<circle class="c9" cx="204.0" cy="175.8" r="4.25"/>
<circle class="c0" cx="212.4" cy="111.5" r="4.25"/>
<circle class="c1" cx="176.8" cy="84.7" r="4.25"/>
<circle class="c0" cx="239.1" cy="131.3" r="4.25"/>
<circle class="c0" cx="214.6" cy="448.7" r="4.25"/>
<circle class="c0" cx="533.9" cy="404.7" r="4.25"/>
<circle class="c2" cx="221.4" cy="111.6" r="4.25"/>
<circle class="c17" cx="453.2" cy="328.8" r="4.25"/>
<circle class="c0" cx="349.6" cy="370.4" r="4.25"/>
<circle class="c0" cx="200.0" cy="161.6" r="4.25"/>
<circle class="c0" cx="193.9" cy="531.6" r="4.25"/>
<circle class="c0" cx="222.1" cy="62.9" r="4.25"/>
<circle class="c0" cx="543.4" cy="416.5" r="4.25"/>
<circle class="c6" cx="335.2" cy="258.3" r="4.25"/>
<circle class="c0" cx="208.2" cy="575.9" r="4.25"/>
<circle class="c0" cx="480.7" cy="318.4" r="4.25"/>
<circle class="c0" cx="235.8" cy="321.7" r="4.25"/>
<circle class="c9" cx="155.4" cy="347.7" r="4.25"/>
<circle class="c0" cx="167.0" cy="468.7" r="4.25"/>
<circle class="c0" cx="145.2" cy="489.3" r="4.25"/>
<circle class="c0" cx="315.4" cy="98.4" r="4.25"/>
<circle class="c0" cx="135.7" cy="508.6" r="4.25"/>
<circle class="c0" cx="210.8" cy="357.9" r="4.25"/>
<circle class="c0" cx="222.8" cy="523.8" r="4.25"/>
<circle class="c9" cx="500.8" cy="448.6" r="4.25"/>
<circle class="c0" cx="364.3" cy="744.7" r="4.25"/>
<circle class="c0" cx="350.2" cy="357.7" r="4.25"/>
<circle class="c0" cx="184.1" cy="93.9" r="4.25"/>
<circle class="c9" cx="498.5" cy="492.5" r="4.25"/>
<circle class="c0" cx="186.3" cy="621.3" r="4.25"/>
<circle class="c0" cx="238.1" cy="172.3" r="4.25"/>
<circle class="c12" cx="505.0" cy="539.5" r="4.25"/>
<circle class="c0" cx="218.6" cy="72.1" r="4.25"/>
<circle class="c0" cx="392.7" cy="665.8" r="4.25"/>
<circle class="c0" cx="204.8" cy="221.8" r="4.25"/>
<circle class="c2" cx="186.2" cy="364.9" r="4.25"/>
<circle class="c0" cx="223.8" cy="231.7" r="4.25"/>
<circle class="c0" cx="201.9" cy="453.3" r="4.25"/>
<circle class="c4" cx="313.1" cy="268.1" r="4.25"/>
<circle class="c0" cx="204.4" cy="278.4" r="4.25"/>
<circle class="c0" cx="192.3" cy="265.3" r="4.25"/>
<circle class="c0" cx="282.8" cy="624.7" r="4.25"/>
<circle class="c15" cx="353.1" cy="395.4" r="4.25"/>
<circle class="c0" cx="167.6" cy="353.1" r="4.25"/>
<circle class="c7" cx="429.4" cy="268.2" r="4.25"/>
<circle class="c0" cx="212.5" cy="280.8" r="4.25"/>
<circle class="c0" cx="214.1" cy="113.3" r="4.25"/>
<circle class="c0" cx="211.5" cy="491.2" r="4.25"/>
<circle class="c0" cx="167.0" cy="61.0" r="4.25"/>
<circle class="c4" cx="308.4" cy="269.6" r="4.25"/>
<circle class="c0" cx="163.8" cy="248.2" r="4.25"/>
<circle class="c0" cx="342.5" cy="370.3" r="4.25"/>
<circle class="c6" cx="216.9" cy="227.7" r="4.25"/>
<circle class="c15" cx="491.6" cy="542.1" r="4.25"/>
<circle class="c13" cx="391.4" cy="272.6" r="4.25"/>
<circle class="c3" cx="186.5" cy="89.0" r="4.25"/>
<circle class="c2" cx="313.4" cy="96.3" r="4.25"/>
<circle class="c0" cx="148.5" cy="433.8" r="4.25"/>
<circle class="c0" cx="166.1" cy="533.4" r="4.25"/>
<circle class="c0" cx="325.6" cy="650.5" r="4.25"/>
<circle class="c0" cx="224.3" cy="99.7" r="4.25"/>
<circle class="c0" cx="121.0" cy="626.0" r="4.25"/>
<circle class="c0" cx="317.1" cy="617.3" r="4.25"/>
<circle class="c0" cx="532.4" cy="409.8" r="4.25"/>
<circle class="c0" cx="224.4" cy="522.3" r="4.25"/>
<circle class="c0" cx="151.9" cy="480.0" r="4.25"/>
<circle class="c0" cx="161.6" cy="185.8" r="4.25"/>
<circle class="c0" cx="334.2" cy="377.8" r="4.25"/>
<circle class="c0" cx="247.5" cy="389.6" r="4.25"/>
<circle class="c0" cx="164.5" cy="162.8" r="4.25"/>
<circle class="c0" cx="173.6" cy="546.4" r="4.25"/>
<circle class="c0" cx="232.8" cy="224.6" r="4.25"/>
<circle class="c3" cx="176.3" cy="111.7" r="4.25"/>
<circle class="c16" cx="427.4" cy="245.7" r="4.25"/>
<circle class="c0" cx="223.2" cy="101.1" r="4.25"/>
<circle class="c1" cx="189.5" cy="393.4" r="4.25"/>
<circle class="c0" cx="224.3" cy="521.1" r="4.25"/>
<circle class="c8" cx="317.5" cy="282.2" r="4.25"/>
<circle class="c0" cx="232.5" cy="505.9" r="4.25"/>
<circle class="c0" cx="176.9" cy="286.1" r="4.25"/>
<circle class="c0" cx="240.7" cy="430.3" r="4.25"/>
<circle class="c0" cx="241.3" cy="82.0" r="4.25"/>
<circle class="c8" cx="434.9" cy="282.2" r="4.25"/>
<circle class="c8" cx="409.8" cy="303.1" r="4.25"/>
<circle class="c0" cx="132.0" cy="426.1" r="4.25"/>
<circle class="c10" cx="379.7" cy="216.3" r="4.25"/>
<circle class="c0" cx="158.6" cy="518.4" r="4.25"/>
<circle class="c0" cx="200.0" cy="388.9" r="4.25"/>
<circle class="c0" cx="148.6" cy="396.7" r="4.25"/>
<circle class="c0" cx="355.5" cy="374.7" r="4.25"/>
<circle class="c0" cx="504.1" cy="515.4" r="4.25"/>
<circle class="c0" cx="125.5" cy="485.4" r="4.25"/>
<circle class="c6" cx="274.0" cy="174.9" r="4.25"/>
<circle class="c0" cx="317.1" cy="707.2" r="4.25"/>
<circle class="c0" cx="520.1" cy="420.1" r="4.25"/>
<circle class="c0" cx="195.6" cy="118.7" r="4.25"/>
<circle class="c0" cx="224.9" cy="407.6" r="4.25"/>
<circle class="c0" cx="232.5" cy="194.7" r="4.25"/>
<circle class="c12" cx="199.5" cy="89.5" r="4.25"/>
<circle class="c9" cx="158.2" cy="116.0" r="4.25"/>
<circle class="c17" cx="452.8" cy="222.8" r="4.25"/>
<circle class="c15" cx="502.9" cy="461.8" r="4.25"/>
<circle class="c9" cx="489.6" cy="365.5" r="4.25"/>
<circle class="c3" cx="176.1" cy="199.4" r="4.25"/>
<circle class="c2" cx="135.3" cy="414.4" r="4.25"/>
<circle class="c5" cx="446.4" cy="250.5" r="4.25"/>
<circle class="c0" cx="410.5" cy="290.4" r="4.25"/>
<circle class="c0" cx="177.6" cy="531.2" r="4.25"/>
<circle class="c0" cx="474.9" cy="569.8" r="4.25"/>
<circle class="c15" cx="213.1" cy="549.8" r="4.25"/>
<circle class="c0" cx="247.6" cy="272.3" r="4.25"/>
<circle class="c0" cx="174.5" cy="147.1" r="4.25"/>
<circle class="c0" cx="181.9" cy="285.9" r="4.25"/>
<circle class="c0" cx="197.1" cy="522.2" r="4.25"/>
<circle class="c2" cx="538.3" cy="371.2" r="4.25"/>
<circle class="c0" cx="315.9" cy="615.5" r="4.25"/>
<circle class="c0" cx="269.8" cy="818.4" r="4.25"/>
<circle class="c0" cx="185.0" cy="557.2" r="4.25"/>
<circle class="c1" cx="349.5" cy="368.1" r="4.25"/>
<circle class="c9" cx="249.6" cy="713.7" r="4.25"/>
<circle class="c0" cx="185.0" cy="519.3" r="4.25"/>
<circle class="c0" cx="190.0" cy="502.0" r="4.25"/>
<circle class="c0" cx="208.4" cy="382.7" r="4.25"/>
<circle class="c0" cx="196.3" cy="254.7" r="4.25"/>
<circle class="c0" cx="150.5" cy="462.7" r="4.25"/>
<circle class="c0" cx="184.3" cy="321.3" r="4.25"/>
<circle class="c0" cx="216.5" cy="142.3" r="4.25"/>
<circle class="c0" cx="192.8" cy="421.9" r="4.25"/>
<circle class="c0" cx="242.9" cy="239.6" r="4.25"/>
<circle class="c4" cx="435.7" cy="290.8" r="4.25"/>
<circle class="c0" cx="164.5" cy="420.5" r="4.25"/>
<circle class="c3" cx="248.0" cy="177.5" r="4.25"/>
<circle class="c3" cx="220.3" cy="82.6" r="4.25"/>
<circle class="c0" cx="224.6" cy="278.2" r="4.25"/>
<circle class="c16" cx="430.0" cy="333.0" r="4.25"/>
<circle class="c0" cx="160.2" cy="244.0" r="4.25"/>
<circle class="c0" cx="171.8" cy="115.6" r="4.25"/>
<circle class="c0" cx="187.7" cy="259.9" r="4.25"/>
<circle class="c15" cx="534.3" cy="343.2" r="4.25"/>
<circle class="c0" cx="356.5" cy="408.4" r="4.25"/>
<circle class="c0" cx="494.3" cy="481.1" r="4.25"/>
<circle class="c2" cx="202.8" cy="518.6" r="4.25"/>
<circle class="c0" cx="175.2" cy="151.5" r="4.25"/>
<circle class="c0" cx="184.4" cy="369.6" r="4.25"/>
<circle class="c0" cx="185.1" cy="302.2" r="4.25"/>
<circle class="c0" cx="168.0" cy="301.3" r="4.25"/>
<circle class="c0" cx="360.2" cy="439.8" r="4.25"/>
<circle class="c1" cx="530.7" cy="349.2" r="4.25"/>
<circle class="c3" cx="304.7" cy="120.7" r="4.25"/>
<circle class="c0" cx="279.6" cy="799.2" r="4.25"/>
<circle class="c11" cx="438.3" cy="269.2" r="4.25"/>
<circle class="c0" cx="178.4" cy="470.3" r="4.25"/>
<circle class="c16" cx="443.7" cy="274.7" r="4.25"/>
<circle class="c0" cx="160.8" cy="262.8" r="4.25"/>
<circle class="c2" cx="537.0" cy="401.7" r="4.25"/>
<circle class="c0" cx="215.9" cy="712.6" r="4.25"/>
<circle class="c0" cx="172.6" cy="130.2" r="4.25"/>
<circle class="c0" cx="252.0" cy="181.3" r="4.25"/>
<circle class="c0" cx="209.5" cy="707.1" r="4.25"/>
<circle class="c0" cx="379.9" cy="747.2" r="4.25"/>
<circle class="c0" cx="172.4" cy="202.7" r="4.25"/>
<circle class="c0" cx="189.9" cy="397.1" r="4.25"/>
<circle class="c1" cx="201.0" cy="521.7" r="4.25"/>
<circle class="c9" cx="361.1" cy="749.8" r="4.25"/>
<circle class="c0" cx="149.1" cy="544.6" r="4.25"/>
<circle class="c0" cx="232.4" cy="111.8" r="4.25"/>
<circle class="c16" cx="371.6" cy="206.0" r="4.25"/>
<circle class="c0" cx="553.3" cy="424.5" r="4.25"/>
<circle class="c0" cx="241.8" cy="625.4" r="4.25"/>
<circle class="c2" cx="198.5" cy="680.1" r="4.25"/>
<circle class="c2" cx="225.3" cy="526.3" r="4.25"/>
<circle class="c0" cx="180.9" cy="441.1" r="4.25"/>
<circle class="c0" cx="220.3" cy="443.6" r="4.25"/>
<circle class="c9" cx="500.0" cy="440.3" r="4.25"/>
<circle class="c2" cx="220.8" cy="564.0" r="4.25"/>
<circle class="c0" cx="219.5" cy="206.5" r="4.25"/>
<circle class="c10" cx="387.7" cy="215.1" r="4.25"/>
<circle class="c0" cx="267.5" cy="693.3" r="4.25"/>
<circle class="c0" cx="259.7" cy="600.7" r="4.25"/>
<circle class="c0" cx="246.7" cy="398.9" r="4.25"/>
<circle class="c0" cx="531.7" cy="418.4" r="4.25"/>
<circle class="c0" cx="234.8" cy="522.5" r="4.25"/>
<circle class="c0" cx="196.2" cy="119.4" r="4.25"/>
<circle class="c15" cx="182.8" cy="156.5" r="4.25"/>
<circle class="c0" cx="281.0" cy="683.2" r="4.25"/>
<circle class="c16" cx="439.3" cy="229.2" r="4.25"/>
<circle class="c0" cx="280.8" cy="158.0" r="4.25"/>
<circle class="c9" cx="390.7" cy="645.4" r="4.25"/>
<circle class="c0" cx="186.0" cy="417.7" r="4.25"/>
<circle class="c0" cx="202.6" cy="283.3" r="4.25"/>
<circle class="c13" cx="481.1" cy="282.2" r="4.25"/>
<circle class="c1" cx="189.4" cy="388.1" r="4.25"/>
<circle class="c0" cx="185.8" cy="309.6" r="4.25"/>
<circle class="c19" cx="437.0" cy="294.0" r="4.25"/>
<circle class="c0" cx="270.7" cy="168.0" r="4.25"/>
<circle class="c3" cx="159.6" cy="486.8" r="4.25"/>
<circle class="c0" cx="239.0" cy="227.6" r="4.25"/>
<circle class="c0" cx="493.8" cy="383.5" r="4.25"/>
<circle class="c1" cx="164.7" cy="72.8" r="4.25"/>
<circle class="c1" cx="535.4" cy="362.2" r="4.25"/>
<circle class="c0" cx="343.6" cy="368.8" r="4.25"/>
<circle class="c4" cx="475.6" cy="513.1" r="4.25"/>
<circle class="c0" cx="203.0" cy="278.8" r="4.25"/>
<circle class="c0" cx="261.0" cy="229.9" r="4.25"/>
<circle class="c0" cx="149.4" cy="417.2" r="4.25"/>
<circle class="c2" cx="331.7" cy="296.9" r="4.25"/>
<circle class="c0" cx="541.5" cy="415.6" r="4.25"/>
<circle class="c0" cx="302.8" cy="123.1" r="4.25"/>
<circle class="c0" cx="248.2" cy="275.3" r="4.25"/>
<circle class="c0" cx="412.3" cy="518.2" r="4.25"/>
<circle class="c13" cx="467.7" cy="243.4" r="4.25"/>
<circle class="c0" cx="246.7" cy="296.1" r="4.25"/>
<circle class="c0" cx="255.8" cy="241.3" r="4.25"/>
<circle class="c0" cx="151.1" cy="379.3" r="4.25"/>
<circle class="c17" cx="381.8" cy="254.4" r="4.25"/>
<circle class="c0" cx="278.1" cy="154.2" r="4.25"/>
<circle class="c0" cx="184.7" cy="418.6" r="4.25"/>
<circle class="c0" cx="272.7" cy="188.4" r="4.25"/>
<circle class="c0" cx="353.1" cy="714.8" r="4.25"/>
<circle class="c0" cx="558.4" cy="407.9" r="4.25"/>
<circle class="c0" cx="193.6" cy="520.0" r="4.25"/>
<circle class="c0" cx="280.4" cy="770.4" r="4.25"/>
<circle class="c0" cx="184.2" cy="313.3" r="4.25"/>
<circle class="c0" cx="169.7" cy="155.5" r="4.25"/>
<circle class="c0" cx="164.0" cy="457.1" r="4.25"/>
<circle class="c1" cx="497.5" cy="337.1" r="4.25"/>
<circle class="c0" cx="215.0" cy="584.1" r="4.25"/>
<circle class="c6" cx="323.1" cy="699.3" r="4.25"/>
<circle class="c0" cx="177.7" cy="200.7" r="4.25"/>
<circle class="c0" cx="208.3" cy="224.2" r="4.25"/>
<circle class="c0" cx="232.9" cy="350.1" r="4.25"/>
<circle class="c9" cx="308.9" cy="230.6" r="4.25"/>
<circle class="c0" cx="198.4" cy="494.5" r="4.25"/>
<circle class="c16" cx="322.1" cy="254.6" r="4.25"/>
<circle class="c0" cx="134.5" cy="447.0" r="4.25"/>
<circle class="c0" cx="253.4" cy="194.7" r="4.25"/>
<circle class="c0" cx="347.0" cy="609.1" r="4.25"/>
<circle class="c0" cx="243.8" cy="720.4" r="4.25"/>
<circle class="c0" cx="226.7" cy="312.2" r="4.25"/>
<circle class="c0" cx="207.3" cy="359.5" r="4.25"/>
<circle class="c0" cx="195.9" cy="548.7" r="4.25"/>
<circle class="c0" cx="159.8" cy="480.9" r="4.25"/>
<circle class="c0" cx="212.5" cy="729.9" r="4.25"/>
<circle class="c0" cx="159.2" cy="93.6" r="4.25"/>
<circle class="c0" cx="241.4" cy="646.5" r="4.25"/>
<circle class="c0" cx="496.3" cy="539.6" r="4.25"/>
<circle class="c0" cx="328.9" cy="696.9" r="4.25"/>
<circle class="c3" cx="182.4" cy="251.0" r="4.25"/>
<circle class="c0" cx="504.8" cy="487.0" r="4.25"/>
<circle class="c0" cx="177.1" cy="96.4" r="4.25"/>
<circle class="c3" cx="160.3" cy="198.5" r="4.25"/>
<circle class="c0" cx="245.8" cy="728.2" r="4.25"/>
<circle class="c3" cx="165.6" cy="143.5" r="4.25"/>
<circle class="c0" cx="258.7" cy="271.1" r="4.25"/>
<circle class="c0" cx="233.5" cy="646.5" r="4.25"/>
<circle class="c1" cx="230.5" cy="166.7" r="4.25"/>
<circle class="c0" cx="218.6" cy="502.2" r="4.25"/>
<circle class="c0" cx="356.0" cy="716.3" r="4.25"/>
<circle class="c0" cx="156.7" cy="154.9" r="4.25"/>
<circle class="c2" cx="207.1" cy="198.9" r="4.25"/>
<circle class="c1" cx="544.0" cy="368.6" r="4.25"/>
<circle class="c0" cx="350.2" cy="379.5" r="4.25"/>
<circle class="c0" cx="253.4" cy="611.8" r="4.25"/>
<circle class="c3" cx="220.3" cy="252.5" r="4.25"/>
<circle class="c0" cx="550.3" cy="394.1" r="4.25"/>
<circle class="c0" cx="226.3" cy="538.3" r="4.25"/>
<circle class="c0" cx="245.8" cy="319.9" r="4.25"/>
<circle class="c0" cx="171.8" cy="350.0" r="4.25"/>
<circle class="c0" cx="160.1" cy="127.8" r="4.25"/>
<circle class="c15" cx="197.2" cy="171.9" r="4.25"/>
<circle class="c0" cx="248.7" cy="453.8" r="4.25"/>
<circle class="c15" cx="352.9" cy="420.6" r="4.25"/>
<circle class="c0" cx="136.6" cy="497.1" r="4.25"/>
<circle class="c0" cx="225.4" cy="621.0" r="4.25"/>
<circle class="c0" cx="233.5" cy="709.0" r="4.25"/>
<circle class="c0" cx="492.6" cy="547.1" r="4.25"/>
<circle class="c9" cx="544.3" cy="371.4" r="4.25"/>
<circle class="c0" cx="202.1" cy="429.0" r="4.25"/>
<circle class="c0" cx="237.6" cy="381.3" r="4.25"/>
<circle class="c1" cx="276.3" cy="824.9" r="4.25"/>
<circle class="c3" cx="152.6" cy="123.5" r="4.25"/>
<circle class="c0" cx="124.1" cy="498.0" r="4.25"/>
<circle class="c0" cx="138.9" cy="480.8" r="4.25"/>
<circle class="c0" cx="164.7" cy="140.5" r="4.25"/>
<circle class="c13" cx="433.3" cy="324.4" r="4.25"/>
<circle class="c0" cx="535.1" cy="382.6" r="4.25"/>
<circle class="c0" cx="133.9" cy="508.3" r="4.25"/>
<circle class="c8" cx="317.8" cy="263.1" r="4.25"/>
<circle class="c0" cx="186.3" cy="70.8" r="4.25"/>
<circle class="c0" cx="209.1" cy="181.7" r="4.25"/>
<circle class="c0" cx="199.4" cy="563.7" r="4.25"/>
<circle class="c11" cx="456.9" cy="237.7" r="4.25"/>
<circle class="c0" cx="149.0" cy="515.8" r="4.25"/>
<circle class="c0" cx="199.1" cy="104.3" r="4.25"/>
<circle class="c15" cx="251.6" cy="431.9" r="4.25"/>
<circle class="c12" cx="118.2" cy="525.6" r="4.25"/>
<circle class="c0" cx="138.8" cy="428.0" r="4.25"/>
<circle class="c0" cx="160.5" cy="109.3" r="4.25"/>
<circle class="c0" cx="192.0" cy="508.3" r="4.25"/>
<circle class="c0" cx="235.1" cy="97.9" r="4.25"/>
<circle class="c9" cx="338.5" cy="341.2" r="4.25"/>
<circle class="c0" cx="299.4" cy="117.0" r="4.25"/>
<circle class="c0" cx="324.4" cy="652.8" r="4.25"/>
<circle class="c0" cx="181.7" cy="94.8" r="4.25"/>
<circle class="c0" cx="218.6" cy="389.0" r="4.25"/>
<circle class="c0" cx="224.4" cy="213.1" r="4.25"/>
<circle class="c0" cx="539.8" cy="397.3" r="4.25"/>
<circle class="c0" cx="159.8" cy="374.0" r="4.25"/>
<circle class="c0" cx="359.8" cy="736.1" r="4.25"/>
<circle class="c1" cx="487.7" cy="363.0" r="4.25"/>
<circle class="c0" cx="216.7" cy="291.5" r="4.25"/>
<circle class="c0" cx="306.0" cy="129.3" r="4.25"/>
<circle class="c0" cx="320.8" cy="95.7" r="4.25"/>
<circle class="c9" cx="168.2" cy="381.8" r="4.25"/>
<circle class="c0" cx="167.6" cy="525.4" r="4.25"/>
<circle class="c0" cx="246.6" cy="496.7" r="4.25"/>
<circle class="c0" cx="220.1" cy="510.1" r="4.25"/>
<circle class="c10" cx="442.0" cy="246.8" r="4.25"/>
<circle class="c0" cx="501.5" cy="543.3" r="4.25"/>
<circle class="c0" cx="183.8" cy="227.5" r="4.25"/>
<circle class="c0" cx="249.1" cy="432.0" r="4.25"/>
<circle class="c0" cx="154.8" cy="344.8" r="4.25"/>
<circle class="c0" cx="221.7" cy="350.9" r="4.25"/>
<circle class="c0" cx="340.6" cy="380.0" r="4.25"/>
<circle class="c0" cx="220.4" cy="693.2" r="4.25"/>
<circle class="c3" cx="121.3" cy="488.9" r="4.25"/>
<circle class="c9" cx="276.0" cy="186.0" r="4.25"/>
<circle class="c0" cx="177.2" cy="91.7" r="4.25"/>
<circle class="c0" cx="236.5" cy="81.6" r="4.25"/>
<circle class="c15" cx="406.6" cy="533.4" r="4.25"/>
<circle class="c0" cx="176.0" cy="59.0" r="4.25"/>
<circle class="c0" cx="180.2" cy="397.9" r="4.25"/>
<circle class="c0" cx="209.7" cy="329.8" r="4.25"/>
<circle class="c11" cx="440.0" cy="245.1" r="4.25"/>
<circle class="c0" cx="353.7" cy="731.1" r="4.25"/>
<circle class="c0" cx="171.3" cy="210.3" r="4.25"/>
<circle class="c0" cx="391.6" cy="653.9" r="4.25"/>
<circle class="c5" cx="392.5" cy="218.2" r="4.25"/>
<circle class="c0" cx="201.1" cy="381.0" r="4.25"/>
<circle class="c0" cx="242.2" cy="500.2" r="4.25"/>
<circle class="c0" cx="248.6" cy="171.4" r="4.25"/>
<circle class="c0" cx="135.8" cy="426.7" r="4.25"/>
<circle class="c0" cx="188.0" cy="352.0" r="4.25"/>
<circle class="c0" cx="299.3" cy="126.3" r="4.25"/>
<circle class="c0" cx="315.2" cy="382.8" r="4.25"/>
<circle class="c3" cx="233.7" cy="624.4" r="4.25"/>
<circle class="c0" cx="484.8" cy="583.5" r="4.25"/>
<circle class="c0" cx="228.2" cy="441.8" r="4.25"/>
<circle class="c0" cx="253.2" cy="622.9" r="4.25"/>
<circle class="c0" cx="120.7" cy="515.8" r="4.25"/>
<circle class="c1" cx="523.0" cy="369.0" r="4.25"/>
<circle class="c0" cx="323.1" cy="378.6" r="4.25"/>
<circle class="c0" cx="228.7" cy="545.5" r="4.25"/>
<circle class="c9" cx="171.4" cy="223.2" r="4.25"/>
<circle class="c0" cx="252.0" cy="436.5" r="4.25"/>
<circle class="c1" cx="170.3" cy="220.3" r="4.25"/>
<circle class="c0" cx="317.8" cy="101.8" r="4.25"/>
<circle class="c0" cx="200.2" cy="475.5" r="4.25"/>
<circle class="c3" cx="224.0" cy="116.5" r="4.25"/>
<circle class="c0" cx="214.5" cy="562.5" r="4.25"/>
<circle class="c0" cx="206.1" cy="348.4" r="4.25"/>
<circle class="c0" cx="527.3" cy="406.1" r="4.25"/>
<circle class="c0" cx="158.6" cy="347.4" r="4.25"/>
<circle class="c0" cx="218.8" cy="708.4" r="4.25"/>
<circle class="c0" cx="170.9" cy="135.1" r="4.25"/>
<circle class="c0" cx="167.9" cy="243.1" r="4.25"/>
<circle class="c0" cx="255.4" cy="782.6" r="4.25"/>
<circle class="c0" cx="208.9" cy="413.2" r="4.25"/>
<circle class="c0" cx="218.1" cy="396.4" r="4.25"/>
<circle class="c0" cx="312.2" cy="626.3" r="4.25"/>
<circle class="c0" cx="222.6" cy="156.0" r="4.25"/>
<circle class="c0" cx="112.0" cy="615.0" r="4.25"/>
<circle class="c0" cx="177.5" cy="312.9" r="4.25"/>
<circle class="c0" cx="244.0" cy="243.1" r="4.25"/>
<circle class="c6" cx="235.2" cy="101.9" r="4.25"/>
<circle class="c0" cx="213.5" cy="434.9" r="4.25"/>
<circle class="c0" cx="171.0" cy="190.4" r="4.25"/>
<circle class="c0" cx="240.1" cy="423.7" r="4.25"/>
<circle class="c9" cx="319.7" cy="372.6" r="4.25"/>
<circle class="c0" cx="207.7" cy="319.5" r="4.25"/>
<circle class="c0" cx="213.0" cy="163.9" r="4.25"/>
<circle class="c12" cx="332.0" cy="669.8" r="4.25"/>
<circle class="c3" cx="243.1" cy="214.7" r="4.25"/>
<circle class="c0" cx="197.9" cy="647.9" r="4.25"/>
<circle class="c0" cx="215.3" cy="385.4" r="4.25"/>
<circle class="c0" cx="523.0" cy="351.7" r="4.25"/>
<circle class="c0" cx="237.7" cy="146.6" r="4.25"/>
<circle class="c0" cx="165.5" cy="273.5" r="4.25"/>
<circle class="c0" cx="139.9" cy="538.4" r="4.25"/>
<circle class="c0" cx="168.8" cy="228.8" r="4.25"/>
<circle class="c0" cx="212.7" cy="481.3" r="4.25"/>
<circle class="c0" cx="187.6" cy="138.9" r="4.25"/>
<circle class="c10" cx="438.2" cy="288.9" r="4.25"/>
<circle class="c0" cx="142.7" cy="452.3" r="4.25"/>
<circle class="c13" cx="320.8" cy="280.0" r="4.25"/>
<circle class="c7" cx="396.3" cy="208.1" r="4.25"/>
<circle class="c0" cx="236.8" cy="423.5" r="4.25"/>
<circle class="c0" cx="179.9" cy="272.7" r="4.25"/>
<circle class="c6" cx="490.0" cy="340.2" r="4.25"/>
<circle class="c0" cx="150.2" cy="520.2" r="4.25"/>
<circle class="c3" cx="219.1" cy="475.8" r="4.25"/>
<circle class="c5" cx="434.8" cy="252.9" r="4.25"/>
<circle class="c0" cx="534.2" cy="408.5" r="4.25"/>
<circle class="c8" cx="497.2" cy="385.6" r="4.25"/>
<circle class="c0" cx="223.1" cy="152.0" r="4.25"/>
<circle class="c1" cx="527.8" cy="359.6" r="4.25"/>
<circle class="c0" cx="209.1" cy="725.6" r="4.25"/>
<circle class="c10" cx="496.0" cy="392.0" r="4.25"/>
<circle class="c0" cx="179.0" cy="238.1" r="4.25"/>
<circle class="c0" cx="342.6" cy="740.2" r="4.25"/>
<circle class="c2" cx="262.1" cy="249.8" r="4.25"/>
<circle class="c0" cx="191.8" cy="367.2" r="4.25"/>
<circle class="c0" cx="194.2" cy="249.4" r="4.25"/>
<circle class="c0" cx="215.3" cy="554.1" r="4.25"/>
<circle class="c0" cx="185.1" cy="179.4" r="4.25"/>
<circle class="c0" cx="234.8" cy="123.1" r="4.25"/>
<circle class="c15" cx="502.7" cy="387.6" r="4.25"/>
<circle class="c0" cx="164.1" cy="498.4" r="4.25"/>
<circle class="c0" cx="197.6" cy="112.0" r="4.25"/>
<circle class="c0" cx="204.9" cy="569.5" r="4.25"/>
<circle class="c0" cx="164.4" cy="96.2" r="4.25"/>
<circle class="c0" cx="207.7" cy="395.2" r="4.25"/>
<circle class="c2" cx="212.7" cy="329.1" r="4.25"/>
<circle class="c0" cx="233.6" cy="740.9" r="4.25"/>
<circle class="c0" cx="342.2" cy="367.5" r="4.25"/>
<circle class="c0" cx="253.4" cy="758.9" r="4.25"/>
<circle class="c0" cx="217.6" cy="693.7" r="4.25"/>
<circle class="c8" cx="455.1" cy="236.0" r="4.25"/>
<circle class="c0" cx="557.7" cy="399.7" r="4.25"/>
<circle class="c0" cx="498.4" cy="475.2" r="4.25"/>
<circle class="c5" cx="438.0" cy="275.3" r="4.25"/>
<circle class="c3" cx="221.1" cy="365.7" r="4.25"/>
<circle class="c13" cx="471.3" cy="509.6" r="4.25"/>
<circle class="c0" cx="321.3" cy="239.4" r="4.25"/>
<circle class="c2" cx="255.3" cy="187.4" r="4.25"/>
<circle class="c4" cx="358.5" cy="217.5" r="4.25"/>
<circle class="c0" cx="203.5" cy="178.6" r="4.25"/>
<circle class="c0" cx="169.0" cy="528.7" r="4.25"/>
<circle class="c0" cx="408.1" cy="553.0" r="4.25"/>
<circle class="c0" cx="160.0" cy="488.1" r="4.25"/>
<circle class="c0" cx="246.2" cy="490.7" r="4.25"/>
<circle class="c11" cx="381.2" cy="216.4" r="4.25"/>
<circle class="c9" cx="203.2" cy="359.1" r="4.25"/>
<circle class="c0" cx="184.3" cy="96.5" r="4.25"/>
<circle class="c0" cx="254.6" cy="664.5" r="4.25"/>
<circle class="c0" cx="224.0" cy="148.5" r="4.25"/>
<circle class="c0" cx="241.0" cy="596.7" r="4.25"/>
<circle class="c2" cx="162.5" cy="115.1" r="4.25"/>
<circle class="c0" cx="140.3" cy="473.6" r="4.25"/>
<circle class="c0" cx="249.0" cy="363.1" r="4.25"/>
<circle class="c0" cx="249.4" cy="215.9" r="4.25"/>
<circle class="c0" cx="219.7" cy="417.3" r="4.25"/>
<circle class="c5" cx="446.6" cy="289.1" r="4.25"/>
<circle class="c0" cx="156.2" cy="383.8" r="4.25"/>
<circle class="c0" cx="263.1" cy="185.3" r="4.25"/>
<circle class="c3" cx="160.9" cy="353.1" r="4.25"/>
<circle class="c0" cx="231.7" cy="192.4" r="4.25"/>
<circle class="c0" cx="243.9" cy="231.8" r="4.25"/>
<circle class="c0" cx="209.4" cy="586.9" r="4.25"/>
<circle class="c1" cx="243.4" cy="345.2" r="4.25"/>
<circle class="c0" cx="228.0" cy="177.8" r="4.25"/>
<circle class="c0" cx="173.2" cy="300.3" r="4.25"/>
<circle class="c0" cx="175.5" cy="153.9" r="4.25"/>
<circle class="c0" cx="238.5" cy="647.3" r="4.25"/>
<circle class="c0" cx="194.0" cy="496.1" r="4.25"/>
<circle class="c0" cx="220.2" cy="304.9" r="4.25"/>
<circle class="c0" cx="207.6" cy="131.1" r="4.25"/>
<circle class="c3" cx="157.8" cy="538.4" r="4.25"/>
<circle class="c0" cx="233.5" cy="447.2" r="4.25"/>
<circle class="c0" cx="272.1" cy="744.6" r="4.25"/>
<circle class="c0" cx="398.6" cy="671.3" r="4.25"/>
<circle class="c0" cx="236.8" cy="178.5" r="4.25"/>
<circle class="c17" cx="453.1" cy="245.2" r="4.25"/>
<circle class="c1" cx="213.9" cy="141.1" r="4.25"/>
<circle class="c0" cx="283.7" cy="659.8" r="4.25"/>
<circle class="c0" cx="220.7" cy="555.4" r="4.25"/>
<circle class="c14" cx="378.1" cy="221.6" r="4.25"/>
<circle class="c9" cx="136.6" cy="428.7" r="4.25"/>
<circle class="c2" cx="510.1" cy="349.4" r="4.25"/>
<circle class="c0" cx="213.1" cy="266.0" r="4.25"/>
<circle class="c0" cx="236.3" cy="449.2" r="4.25"/>
<circle class="c13" cx="334.0" cy="236.3" r="4.25"/>
<circle class="c0" cx="160.1" cy="549.3" r="4.25"/>
<circle class="c0" cx="495.7" cy="539.1" r="4.25"/>
<circle class="c0" cx="205.0" cy="169.5" r="4.25"/>
<circle class="c0" cx="226.8" cy="64.9" r="4.25"/>
<circle class="c0" cx="198.3" cy="166.8" r="4.25"/>
<circle class="c0" cx="246.1" cy="731.4" r="4.25"/>
<circle class="c0" cx="175.1" cy="427.1" r="4.25"/>
<circle class="c0" cx="209.2" cy="243.4" r="4.25"/>
<circle class="c0" cx="222.9" cy="414.0" r="4.25"/>
<circle class="c0" cx="527.1" cy="388.3" r="4.25"/>
<circle class="c9" cx="492.4" cy="430.2" r="4.25"/>
<circle class="c9" cx="204.7" cy="439.0" r="4.25"/>
<circle class="c0" cx="159.5" cy="83.2" r="4.25"/>
<circle class="c0" cx="175.1" cy="499.7" r="4.25"/>
<circle class="c17" cx="355.8" cy="216.3" r="4.25"/>
<circle class="c2" cx="220.7" cy="71.5" r="4.25"/>
<circle class="c0" cx="530.4" cy="385.5" r="4.25"/>
<circle class="c0" cx="235.8" cy="210.4" r="4.25"/>
<circle class="c4" cx="448.3" cy="318.6" r="4.25"/>
<circle class="c0" cx="501.3" cy="541.1" r="4.25"/>
<circle class="c0" cx="184.1" cy="637.8" r="4.25"/>
<circle class="c0" cx="235.9" cy="401.1" r="4.25"/>
<circle class="c0" cx="216.5" cy="63.9" r="4.25"/>
<circle class="c0" cx="186.0" cy="248.1" r="4.25"/>
<circle class="c0" cx="225.7" cy="537.8" r="4.25"/>
<circle class="c0" cx="212.0" cy="347.4" r="4.25"/>
<circle class="c0" cx="156.6" cy="522.4" r="4.25"/>
<circle class="c17" cx="330.8" cy="282.7" r="4.25"/>
<circle class="c7" cx="426.7" cy="246.4" r="4.25"/>
<circle class="c0" cx="203.3" cy="496.7" r="4.25"/>
<circle class="c0" cx="147.2" cy="387.9" r="4.25"/>
<circle class="c0" cx="188.8" cy="509.1" r="4.25"/>
<circle class="c0" cx="304.3" cy="627.4" r="4.25"/>
<circle class="c6" cx="298.3" cy="120.9" r="4.25"/>
<circle class="c0" cx="245.6" cy="592.7" r="4.25"/>
<circle class="c0" cx="250.4" cy="689.1" r="4.25"/>
<circle class="c0" cx="198.9" cy="494.3" r="4.25"/>
<circle class="c0" cx="146.6" cy="518.1" r="4.25"/>
<circle class="c0" cx="238.4" cy="216.2" r="4.25"/>
<circle class="c0" cx="475.0" cy="585.8" r="4.25"/>
<circle class="c0" cx="168.1" cy="486.4" r="4.25"/>
<circle class="c0" cx="281.0" cy="142.5" r="4.25"/>
<circle class="c0" cx="160.5" cy="512.1" r="4.25"/>
<circle class="c0" cx="245.5" cy="187.8" r="4.25"/>
<circle class="c0" cx="166.6" cy="404.7" r="4.25"/>
<circle class="c0" cx="234.4" cy="474.0" r="4.25"/>
<circle class="c0" cx="173.6" cy="439.4" r="4.25"/>
<circle class="c2" cx="253.5" cy="250.5" r="4.25"/>
<circle class="c1" cx="279.9" cy="628.1" r="4.25"/>
<circle class="c0" cx="243.1" cy="448.4" r="4.25"/>
<circle class="c0" cx="205.0" cy="413.1" r="4.25"/>
<circle class="c0" cx="211.0" cy="409.3" r="4.25"/>
<circle class="c0" cx="321.8" cy="377.2" r="4.25"/>
<circle class="c0" cx="213.9" cy="218.7" r="4.25"/>
<circle class="c0" cx="157.7" cy="194.1" r="4.25"/>
<circle class="c1" cx="415.5" cy="558.8" r="4.25"/>
<circle class="c0" cx="180.2" cy="364.5" r="4.25"/>
<circle class="c3" cx="169.1" cy="91.8" r="4.25"/>
<circle class="c8" cx="460.8" cy="231.4" r="4.25"/>
<circle class="c0" cx="299.9" cy="141.9" r="4.25"/>
<circle class="c16" cx="470.6" cy="288.5" r="4.25"/>
<circle class="c0" cx="216.7" cy="479.7" r="4.25"/>
<circle class="c0" cx="318.1" cy="371.7" r="4.25"/>
<circle class="c0" cx="479.7" cy="568.8" r="4.25"/>
<circle class="c0" cx="210.2" cy="317.7" r="4.25"/>
<circle class="c0" cx="141.7" cy="504.1" r="4.25"/>
<circle class="c0" cx="193.5" cy="335.4" r="4.25"/>
<circle class="c8" cx="309.2" cy="262.1" r="4.25"/>
<circle class="c1" cx="266.7" cy="630.2" r="4.25"/>
<circle class="c0" cx="202.2" cy="154.4" r="4.25"/>
<circle class="c17" cx="406.7" cy="263.5" r="4.25"/>
<circle class="c0" cx="199.5" cy="412.9" r="4.25"/>
<circle class="c0" cx="155.7" cy="452.7" r="4.25"/>
<circle class="c0" cx="241.0" cy="297.6" r="4.25"/>
<circle class="c0" cx="235.2" cy="393.1" r="4.25"/>
<circle class="c0" cx="184.1" cy="104.5" r="4.25"/>
<circle class="c0" cx="332.5" cy="622.5" r="4.25"/>
<circle class="c0" cx="246.7" cy="487.1" r="4.25"/>
<circle class="c11" cx="449.3" cy="324.7" r="4.25"/>
<circle class="c0" cx="207.3" cy="81.6" r="4.25"/>
<circle class="c0" cx="230.5" cy="412.8" r="4.25"/>
<circle class="c0" cx="258.4" cy="261.7" r="4.25"/>
<circle class="c0" cx="176.3" cy="528.6" r="4.25"/>
<circle class="c0" cx="201.9" cy="264.1" r="4.25"/>
<circle class="c1" cx="474.4" cy="583.2" r="4.25"/>
<circle class="c0" cx="201.7" cy="70.8" r="4.25"/>
<circle class="c0" cx="345.6" cy="614.6" r="4.25"/>
<circle class="c0" cx="265.0" cy="777.4" r="4.25"/>
<circle class="c0" cx="504.7" cy="456.8" r="4.25"/>
<circle class="c0" cx="192.5" cy="491.6" r="4.25"/>
<circle class="c0" cx="171.0" cy="342.9" r="4.25"/>
<circle class="c0" cx="338.9" cy="352.0" r="4.25"/>
<circle class="c0" cx="195.9" cy="482.0" r="4.25"/>
<circle class="c0" cx="284.2" cy="162.7" r="4.25"/>
<circle class="c0" cx="229.7" cy="127.0" r="4.25"/>
<circle class="c0" cx="412.1" cy="560.2" r="4.25"/>
<circle class="c0" cx="232.6" cy="432.1" r="4.25"/>
<circle class="c0" cx="160.3" cy="117.1" r="4.25"/>
<circle class="c0" cx="194.8" cy="84.7" r="4.25"/>
<circle class="c0" cx="176.6" cy="115.2" r="4.25"/>
<circle class="c0" cx="164.1" cy="219.5" r="4.25"/>
<circle class="c0" cx="249.8" cy="464.8" r="4.25"/>
<circle class="c0" cx="164.4" cy="385.7" r="4.25"/>
<circle class="c0" cx="195.4" cy="107.4" r="4.25"/>
<circle class="c1" cx="282.0" cy="249.0" r="4.25"/>
<circle class="c0" cx="242.7" cy="265.6" r="4.25"/>
<circle class="c9" cx="183.1" cy="553.0" r="4.25"/>
<circle class="c0" cx="167.8" cy="253.3" r="4.25"/>
<circle class="c0" cx="545.5" cy="415.1" r="4.25"/>
<circle class="c7" cx="455.2" cy="254.6" r="4.25"/>
<circle class="c0" cx="235.0" cy="464.9" r="4.25"/>
<circle class="c0" cx="207.1" cy="201.0" r="4.25"/>
<circle class="c0" cx="164.6" cy="333.2" r="4.25"/>
<circle class="c0" cx="197.8" cy="102.4" r="4.25"/>
<circle class="c1" cx="303.0" cy="254.2" r="4.25"/>
<circle class="c15" cx="529.5" cy="361.8" r="4.25"/>
<circle class="c6" cx="166.1" cy="250.2" r="4.25"/>
<circle class="c9" cx="148.8" cy="365.4" r="4.25"/>
<circle class="c0" cx="197.9" cy="187.0" r="4.25"/>
<circle class="c0" cx="157.3" cy="160.5" r="4.25"/>
<circle class="c0" cx="202.8" cy="386.6" r="4.25"/>
<circle class="c0" cx="382.5" cy="534.0" r="4.25"/>
<circle class="c0" cx="266.0" cy="650.0" r="4.25"/>
<circle class="c0" cx="181.4" cy="329.1" r="4.25"/>
<circle class="c0" cx="164.3" cy="517.0" r="4.25"/>
<circle class="c0" cx="241.2" cy="769.0" r="4.25"/>
<circle class="c1" cx="237.7" cy="230.7" r="4.25"/>
<circle class="c0" cx="202.5" cy="396.6" r="4.25"/>
<circle class="c0" cx="162.2" cy="279.1" r="4.25"/>
<circle class="c0" cx="140.6" cy="494.6" r="4.25"/>
<circle class="c0" cx="362.4" cy="359.5" r="4.25"/>
<circle class="c0" cx="204.0" cy="152.5" r="4.25"/>
<circle class="c3" cx="166.1" cy="305.3" r="4.25"/>
<circle class="c0" cx="190.7" cy="312.6" r="4.25"/>
<circle class="c0" cx="187.3" cy="505.2" r="4.25"/>
<circle class="c15" cx="296.0" cy="146.9" r="4.25"/>
<circle class="c0" cx="158.2" cy="174.3" r="4.25"/>
<circle class="c0" cx="202.7" cy="133.8" r="4.25"/>
<circle class="c0" cx="166.3" cy="379.3" r="4.25"/>
<circle class="c3" cx="158.1" cy="155.2" r="4.25"/>
<circle class="c0" cx="172.8" cy="215.1" r="4.25"/>
<circle class="c15" cx="353.4" cy="438.7" r="4.25"/>
<circle class="c0" cx="162.3" cy="448.3" r="4.25"/>
<circle class="c0" cx="186.4" cy="128.2" r="4.25"/>
<circle class="c9" cx="483.2" cy="583.1" r="4.25"/>
<circle class="c15" cx="358.6" cy="753.4" r="4.25"/>
<circle class="c0" cx="277.2" cy="152.2" r="4.25"/>
<circle class="c0" cx="247.3" cy="175.1" r="4.25"/>
<circle class="c0" cx="222.4" cy="726.6" r="4.25"/>
<circle class="c3" cx="256.8" cy="772.5" r="4.25"/>
<circle class="c0" cx="321.8" cy="399.9" r="4.25"/>
<circle class="c0" cx="187.5" cy="96.0" r="4.25"/>
<circle class="c10" cx="383.0" cy="677.0" r="4.25"/>
<circle class="c0" cx="197.4" cy="613.7" r="4.25"/>
<circle class="c1" cx="213.6" cy="204.7" r="4.25"/>
<circle class="c2" cx="247.7" cy="304.9" r="4.25"/>
<circle class="c9" cx="245.2" cy="294.3" r="4.25"/>
<circle class="c0" cx="242.1" cy="423.2" r="4.25"/>
<circle class="c0" cx="204.6" cy="365.2" r="4.25"/>
<circle class="c11" cx="398.7" cy="222.6" r="4.25"/>
<circle class="c0" cx="153.7" cy="86.7" r="4.25"/>
<circle class="c0" cx="224.5" cy="74.6" r="4.25"/>
<circle class="c1" cx="300.5" cy="141.4" r="4.25"/>
<circle class="c2" cx="213.2" cy="625.9" r="4.25"/>
<circle class="c0" cx="312.3" cy="734.7" r="4.25"/>
<circle class="c6" cx="239.8" cy="79.5" r="4.25"/>
<circle class="c0" cx="343.2" cy="613.1" r="4.25"/>
<circle class="c0" cx="221.9" cy="522.4" r="4.25"/>
<circle class="c0" cx="235.7" cy="363.7" r="4.25"/>
<circle class="c0" cx="198.3" cy="594.4" r="4.25"/>
<circle class="c0" cx="169.1" cy="380.4" r="4.25"/>
<circle class="c10" cx="471.2" cy="268.1" r="4.25"/>
<circle class="c0" cx="195.2" cy="545.1" r="4.25"/>
<circle class="c3" cx="168.5" cy="570.6" r="4.25"/>
<circle class="c12" cx="175.1" cy="415.4" r="4.25"/>
<circle class="c0" cx="226.5" cy="514.1" r="4.25"/>
<circle class="c0" cx="224.8" cy="713.7" r="4.25"/>
<circle class="c0" cx="174.6" cy="424.9" r="4.25"/>
<circle class="c0" cx="178.9" cy="506.3" r="4.25"/>
<circle class="c0" cx="238.4" cy="650.0" r="4.25"/>
<circle class="c15" cx="140.0" cy="429.0" r="4.25"/>
<circle class="c0" cx="555.1" cy="393.0" r="4.25"/>
<circle class="c2" cx="243.8" cy="328.8" r="4.25"/>
<circle class="c6" cx="496.7" cy="465.1" r="4.25"/>
<circle class="c0" cx="159.0" cy="331.2" r="4.25"/>
<circle class="c0" cx="249.0" cy="220.6" r="4.25"/>
<circle class="c0" cx="499.7" cy="440.3" r="4.25"/>
<circle class="c0" cx="208.2" cy="173.7" r="4.25"/>
<circle class="c0" cx="193.2" cy="621.5" r="4.25"/>
<circle class="c0" cx="211.1" cy="611.9" r="4.25"/>
<circle class="c0" cx="214.1" cy="654.7" r="4.25"/>
<circle class="c0" cx="357.9" cy="374.6" r="4.25"/>
<circle class="c0" cx="195.0" cy="355.3" r="4.25"/>
<circle class="c0" cx="218.3" cy="93.6" r="4.25"/>
<circle class="c0" cx="245.0" cy="421.0" r="4.25"/>
<circle class="c2" cx="222.2" cy="726.7" r="4.25"/>
<circle class="c9" cx="497.9" cy="455.6" r="4.25"/>
<circle class="c0" cx="185.8" cy="378.0" r="4.25"/>
<circle class="c15" cx="177.6" cy="341.8" r="4.25"/>
<circle class="c3" cx="195.0" cy="427.1" r="4.25"/>
<circle class="c15" cx="200.5" cy="454.5" r="4.25"/>
<circle class="c15" cx="244.6" cy="363.2" r="4.25"/>
<circle class="c0" cx="501.1" cy="501.1" r="4.25"/>
<circle class="c0" cx="213.7" cy="99.5" r="4.25"/>
<circle class="c0" cx="234.7" cy="113.3" r="4.25"/>
<circle class="c10" cx="435.0" cy="231.7" r="4.25"/>
<circle class="c5" cx="374.4" cy="246.8" r="4.25"/>
<circle class="c0" cx="215.9" cy="542.7" r="4.25"/>
<circle class="c16" cx="457.0" cy="247.4" r="4.25"/>
<circle class="c0" cx="233.8" cy="197.4" r="4.25"/>
<circle class="c12" cx="185.7" cy="161.4" r="4.25"/>
<circle class="c0" cx="151.2" cy="382.1" r="4.25"/>
<circle class="c2" cx="208.1" cy="524.4" r="4.25"/>
<circle class="c0" cx="160.4" cy="385.4" r="4.25"/>
<circle class="c0" cx="230.6" cy="344.5" r="4.25"/>
<circle class="c0" cx="185.2" cy="557.0" r="4.25"/>
<circle class="c0" cx="213.9" cy="247.2" r="4.25"/>
<circle class="c0" cx="240.0" cy="554.4" r="4.25"/>
<circle class="c0" cx="151.5" cy="466.2" r="4.25"/>
<circle class="c0" cx="228.0" cy="165.8" r="4.25"/>
<circle class="c0" cx="385.3" cy="533.5" r="4.25"/>
<circle class="c0" cx="367.2" cy="731.7" r="4.25"/>
<circle class="c3" cx="168.4" cy="294.4" r="4.25"/>
<circle class="c0" cx="193.3" cy="607.7" r="4.25"/>
<circle class="c0" cx="210.5" cy="100.4" r="4.25"/>
<circle class="c11" cx="488.7" cy="326.5" r="4.25"/>
<circle class="c3" cx="203.5" cy="149.6" r="4.25"/>
<circle class="c17" cx="375.9" cy="253.3" r="4.25"/>
<circle class="c0" cx="140.5" cy="530.4" r="4.25"/>
<circle class="c0" cx="552.1" cy="396.1" r="4.25"/>
<circle class="c0" cx="245.5" cy="366.5" r="4.25"/>
<circle class="c2" cx="159.3" cy="430.5" r="4.25"/>
<circle class="c1" cx="488.5" cy="361.4" r="4.25"/>
<circle class="c0" cx="337.8" cy="608.4" r="4.25"/>
<circle class="c10" cx="395.8" cy="230.2" r="4.25"/>
<circle class="c0" cx="206.7" cy="476.7" r="4.25"/>
<circle class="c0" cx="489.3" cy="568.4" r="4.25"/>
<circle class="c0" cx="496.8" cy="443.0" r="4.25"/>
<circle class="c0" cx="159.0" cy="371.2" r="4.25"/>
<circle class="c0" cx="240.9" cy="189.6" r="4.25"/>
<circle class="c0" cx="309.6" cy="112.1" r="4.25"/>
<circle class="c0" cx="234.0" cy="278.2" r="4.25"/>
<circle class="c0" cx="273.0" cy="832.4" r="4.25"/>
<circle class="c0" cx="218.8" cy="232.5" r="4.25"/>
<circle class="c6" cx="160.5" cy="111.6" r="4.25"/>
<circle class="c12" cx="204.6" cy="443.7" r="4.25"/>
<circle class="c0" cx="351.2" cy="417.7" r="4.25"/>
<circle class="c0" cx="215.9" cy="117.2" r="4.25"/>
<circle class="c0" cx="204.0" cy="142.0" r="4.25"/>
<circle class="c0" cx="251.5" cy="446.7" r="4.25"/>
<circle class="c0" cx="139.2" cy="441.3" r="4.25"/>
<circle class="c0" cx="181.1" cy="235.6" r="4.25"/>
<circle class="c0" cx="349.0" cy="738.6" r="4.25"/>
<circle class="c15" cx="303.4" cy="254.7" r="4.25"/>
<circle class="c10" cx="436.0" cy="302.7" r="4.25"/>
<circle class="c0" cx="119.5" cy="505.4" r="4.25"/>
<circle class="c0" cx="193.4" cy="297.7" r="4.25"/>
<circle class="c2" cx="183.2" cy="398.4" r="4.25"/>
<circle class="c0" cx="141.3" cy="512.0" r="4.25"/>
<circle class="c0" cx="153.8" cy="510.9" r="4.25"/>
<circle class="c0" cx="216.5" cy="131.7" r="4.25"/>
<circle class="c3" cx="215.8" cy="90.2" r="4.25"/>
<circle class="c0" cx="257.9" cy="253.2" r="4.25"/>
<circle class="c0" cx="193.0" cy="258.6" r="4.25"/>
<circle class="c3" cx="206.0" cy="337.9" r="4.25"/>
<circle class="c1" cx="258.2" cy="645.7" r="4.25"/>
<circle class="c0" cx="143.1" cy="530.5" r="4.25"/>
<circle class="c5" cx="356.0" cy="605.7" r="4.25"/>
<circle class="c0" cx="158.1" cy="432.4" r="4.25"/>
<circle class="c1" cx="208.0" cy="304.5" r="4.25"/>
<circle class="c0" cx="246.1" cy="255.7" r="4.25"/>
<circle class="c0" cx="187.8" cy="284.0" r="4.25"/>
<circle class="c0" cx="137.5" cy="497.2" r="4.25"/>
<circle class="c0" cx="176.3" cy="115.9" r="4.25"/>
<circle class="c0" cx="465.7" cy="586.7" r="4.25"/>
<circle class="c0" cx="249.3" cy="259.1" r="4.25"/>
<circle class="c0" cx="261.2" cy="635.0" r="4.25"/>
<circle class="c0" cx="207.7" cy="624.4" r="4.25"/>
<circle class="c15" cx="475.3" cy="585.0" r="4.25"/>
<circle class="c0" cx="157.9" cy="444.0" r="4.25"/>
<circle class="c0" cx="203.6" cy="573.5" r="4.25"/>
<circle class="c0" cx="236.9" cy="94.8" r="4.25"/>
<circle class="c0" cx="270.8" cy="776.2" r="4.25"/>
<circle class="c0" cx="160.7" cy="173.9" r="4.25"/>
<circle class="c0" cx="177.8" cy="318.2" r="4.25"/>
<circle class="c0" cx="183.0" cy="417.1" r="4.25"/>
<circle class="c0" cx="353.5" cy="459.6" r="4.25"/>
<circle class="c1" cx="501.6" cy="469.6" r="4.25"/>
<circle class="c0" cx="214.3" cy="152.4" r="4.25"/>
<circle class="c0" cx="169.9" cy="423.1" r="4.25"/>
<circle class="c2" cx="255.2" cy="187.6" r="4.25"/>
<circle class="c15" cx="192.7" cy="403.7" r="4.25"/>
<circle class="c0" cx="220.8" cy="136.3" r="4.25"/>
<circle class="c0" cx="203.1" cy="222.7" r="4.25"/>
<circle class="c13" cx="449.2" cy="259.3" r="4.25"/>
<circle class="c0" cx="227.0" cy="529.1" r="4.25"/>
<circle class="c0" cx="205.9" cy="177.3" r="4.25"/>
<circle class="c0" cx="156.7" cy="403.0" r="4.25"/>
<circle class="c3" cx="207.5" cy="356.7" r="4.25"/>
<circle class="c0" cx="221.3" cy="546.8" r="4.25"/>
<circle class="c0" cx="167.0" cy="497.6" r="4.25"/>
<circle class="c2" cx="349.2" cy="726.1" r="4.25"/>
<circle class="c0" cx="550.6" cy="408.7" r="4.25"/>
<circle class="c4" cx="430.4" cy="232.0" r="4.25"/>
<circle class="c1" cx="223.2" cy="168.7" r="4.25"/>
<circle class="c0" cx="218.1" cy="252.7" r="4.25"/>
<circle class="c0" cx="230.8" cy="72.2" r="4.25"/>
<circle class="c0" cx="171.8" cy="243.1" r="4.25"/>
<circle class="c0" cx="205.7" cy="200.1" r="4.25"/>
<circle class="c0" cx="181.8" cy="572.9" r="4.25"/>
<circle class="c0" cx="214.9" cy="218.2" r="4.25"/>
<circle class="c0" cx="237.1" cy="457.8" r="4.25"/>
<circle class="c0" cx="235.1" cy="624.6" r="4.25"/>
<circle class="c15" cx="509.6" cy="443.1" r="4.25"/>
<circle class="c0" cx="204.0" cy="321.7" r="4.25"/>
<circle class="c0" cx="194.4" cy="87.1" r="4.25"/>
<circle class="c3" cx="136.5" cy="433.4" r="4.25"/>
<circle class="c0" cx="154.1" cy="460.5" r="4.25"/>
<circle class="c0" cx="255.2" cy="292.7" r="4.25"/>
<circle class="c0" cx="239.5" cy="132.6" r="4.25"/>
<circle class="c0" cx="336.8" cy="616.0" r="4.25"/>
<circle class="c0" cx="182.3" cy="535.7" r="4.25"/>
<circle class="c0" cx="307.4" cy="732.0" r="4.25"/>
<circle class="c16" cx="381.8" cy="270.6" r="4.25"/>
<circle class="c0" cx="163.7" cy="154.4" r="4.25"/>
<circle class="c0" cx="164.9" cy="458.6" r="4.25"/>
<circle class="c1" cx="350.3" cy="739.9" r="4.25"/>
<circle class="c0" cx="331.2" cy="679.5" r="4.25"/>
<circle class="c0" cx="174.9" cy="412.4" r="4.25"/>
<circle class="c0" cx="250.4" cy="524.7" r="4.25"/>
<circle class="c0" cx="216.9" cy="419.1" r="4.25"/>
<circle class="c0" cx="192.0" cy="625.4" r="4.25"/>
<circle class="c0" cx="197.3" cy="451.0" r="4.25"/>
<circle class="c0" cx="353.8" cy="744.0" r="4.25"/>
<circle class="c0" cx="117.3" cy="483.6" r="4.25"/>
<circle class="c0" cx="170.0" cy="100.6" r="4.25"/>
<circle class="c0" cx="175.1" cy="225.4" r="4.25"/>
<circle class="c0" cx="220.1" cy="553.4" r="4.25"/>
<circle class="c0" cx="221.0" cy="600.1" r="4.25"/>
<circle class="c15" cx="144.0" cy="541.5" r="4.25"/>
<circle class="c0" cx="163.1" cy="344.4" r="4.25"/>
<circle class="c0" cx="163.8" cy="191.9" r="4.25"/>
<circle class="c0" cx="191.3" cy="455.1" r="4.25"/>
<circle class="c14" cx="389.0" cy="226.6" r="4.25"/>
<circle class="c1" cx="196.1" cy="275.1" r="4.25"/>
<circle class="c0" cx="206.2" cy="381.5" r="4.25"/>
<circle class="c0" cx="195.1" cy="579.1" r="4.25"/>
<circle class="c0" cx="239.1" cy="764.7" r="4.25"/>
<circle class="c15" cx="183.7" cy="430.9" r="4.25"/>
<circle class="c0" cx="246.2" cy="223.4" r="4.25"/>
<circle class="c0" cx="211.4" cy="425.7" r="4.25"/>
<circle class="c0" cx="176.3" cy="75.6" r="4.25"/>
<circle class="c0" cx="165.4" cy="156.6" r="4.25"/>
<circle class="c0" cx="170.9" cy="228.9" r="4.25"/>
<circle class="c0" cx="164.7" cy="335.3" r="4.25"/>
<circle class="c0" cx="220.3" cy="255.8" r="4.25"/>
<circle class="c0" cx="145.6" cy="531.6" r="4.25"/>
<circle class="c0" cx="225.1" cy="679.3" r="4.25"/>
<circle class="c9" cx="314.2" cy="398.0" r="4.25"/>
<circle class="c0" cx="157.2" cy="354.8" r="4.25"/>
<circle class="c0" cx="336.1" cy="379.1" r="4.25"/>
<circle class="c0" cx="183.3" cy="295.6" r="4.25"/>
<circle class="c0" cx="264.9" cy="623.1" r="4.25"/>
<circle class="c0" cx="241.3" cy="630.4" r="4.25"/>
<circle class="c0" cx="196.6" cy="522.0" r="4.25"/>
<circle class="c0" cx="164.3" cy="533.7" r="4.25"/>
<circle class="c3" cx="194.6" cy="125.0" r="4.25"/>
<circle class="c15" cx="175.9" cy="206.5" r="4.25"/>
<circle class="c0" cx="258.0" cy="734.5" r="4.25"/>
<circle class="c0" cx="140.4" cy="528.0" r="4.25"/>
<circle class="c0" cx="184.2" cy="130.9" r="4.25"/>
<circle class="c6" cx="186.9" cy="241.1" r="4.25"/>
<circle class="c15" cx="193.2" cy="104.1" r="4.25"/>
<circle class="c0" cx="203.9" cy="385.0" r="4.25"/>
<circle class="c3" cx="177.3" cy="345.5" r="4.25"/>
<circle class="c11" cx="460.7" cy="226.3" r="4.25"/>
<circle class="c5" cx="451.0" cy="236.2" r="4.25"/>
<circle class="c0" cx="465.8" cy="589.2" r="4.25"/>
<circle class="c0" cx="181.4" cy="566.3" r="4.25"/>
<circle class="c15" cx="125.2" cy="540.2" r="4.25"/>
<circle class="c0" cx="172.6" cy="492.6" r="4.25"/>
<circle class="c0" cx="326.4" cy="408.0" r="4.25"/>
<circle class="c0" cx="173.5" cy="495.2" r="4.25"/>
<circle class="c0" cx="189.6" cy="94.7" r="4.25"/>
<circle class="c17" cx="430.6" cy="227.4" r="4.25"/>
<circle class="c17" cx="486.9" cy="307.8" r="4.25"/>
<circle class="c13" cx="431.7" cy="273.2" r="4.25"/>
<circle class="c0" cx="154.0" cy="420.1" r="4.25"/>
<circle class="c0" cx="161.7" cy="271.6" r="4.25"/>
<circle class="c0" cx="205.8" cy="535.3" r="4.25"/>
<circle class="c0" cx="159.2" cy="82.5" r="4.25"/>
<circle class="c0" cx="209.6" cy="567.1" r="4.25"/>
<circle class="c0" cx="217.9" cy="218.2" r="4.25"/>
<circle class="c1" cx="533.6" cy="351.0" r="4.25"/>
<circle class="c0" cx="347.0" cy="717.2" r="4.25"/>
<circle class="c0" cx="235.5" cy="309.5" r="4.25"/>
<circle class="c0" cx="503.2" cy="489.3" r="4.25"/>
<circle class="c0" cx="205.1" cy="133.6" r="4.25"/>
<circle class="c0" cx="177.4" cy="81.9" r="4.25"/>
<circle class="c0" cx="221.0" cy="126.9" r="4.25"/>
<circle class="c0" cx="128.0" cy="560.0" r="4.25"/>
<circle class="c0" cx="226.8" cy="762.7" r="4.25"/>
<circle class="c0" cx="172.0" cy="604.0" r="4.25"/>
<circle class="c0" cx="242.8" cy="159.6" r="4.25"/>
<circle class="c0" cx="162.3" cy="188.8" r="4.25"/>
<circle class="c6" cx="218.2" cy="115.4" r="4.25"/>
<circle class="c2" cx="248.5" cy="172.9" r="4.25"/>
<circle class="c0" cx="257.0" cy="230.1" r="4.25"/>
<circle class="c0" cx="160.4" cy="525.9" r="4.25"/>
<circle class="c0" cx="184.3" cy="412.1" r="4.25"/>
<circle class="c0" cx="238.1" cy="221.4" r="4.25"/>
<circle class="c0" cx="175.3" cy="549.9" r="4.25"/>
<circle class="c12" cx="515.8" cy="374.2" r="4.25"/>
<circle class="c0" cx="174.5" cy="385.2" r="4.25"/>
<circle class="c0" cx="198.1" cy="271.2" r="4.25"/>
<circle class="c0" cx="191.3" cy="121.0" r="4.25"/>
<circle class="c8" cx="204.4" cy="551.5" r="4.25"/>
<circle class="c1" cx="356.2" cy="714.1" r="4.25"/>
<circle class="c0" cx="160.2" cy="351.5" r="4.25"/>
<circle class="c3" cx="233.1" cy="453.3" r="4.25"/>
<circle class="c16" cx="318.8" cy="269.4" r="4.25"/>
<circle class="c0" cx="175.3" cy="315.8" r="4.25"/>
<circle class="c0" cx="197.4" cy="284.3" r="4.25"/>
<circle class="c0" cx="294.9" cy="145.6" r="4.25"/>
<circle class="c0" cx="158.6" cy="468.7" r="4.25"/>
<circle class="c0" cx="148.1" cy="522.4" r="4.25"/>
<circle class="c0" cx="156.9" cy="154.5" r="4.25"/>
<circle class="c7" cx="441.9" cy="246.0" r="4.25"/>
<circle class="c0" cx="203.9" cy="331.6" r="4.25"/>
<circle class="c0" cx="192.5" cy="443.7" r="4.25"/>
<circle class="c0" cx="233.5" cy="507.0" r="4.25"/>
<circle class="c1" cx="252.1" cy="450.4" r="4.25"/>
<circle class="c0" cx="222.2" cy="417.6" r="4.25"/>
<circle class="c0" cx="129.5" cy="529.7" r="4.25"/>
<circle class="c0" cx="123.3" cy="493.0" r="4.25"/>
<circle class="c0" cx="330.8" cy="308.7" r="4.25"/>
<circle class="c0" cx="187.9" cy="315.9" r="4.25"/>
<circle class="c0" cx="183.8" cy="350.5" r="4.25"/>
<circle class="c0" cx="268.0" cy="812.7" r="4.25"/>
<circle class="c2" cx="248.4" cy="355.3" r="4.25"/>
<circle class="c0" cx="196.4" cy="145.4" r="4.25"/>
<circle class="c0" cx="505.7" cy="470.9" r="4.25"/>
<circle class="c9" cx="201.0" cy="658.9" r="4.25"/>
<circle class="c0" cx="230.2" cy="67.4" r="4.25"/>
<circle class="c0" cx="172.7" cy="237.2" r="4.25"/>
<circle class="c0" cx="360.8" cy="739.5" r="4.25"/>
<circle class="c0" cx="173.7" cy="126.2" r="4.25"/>
<circle class="c0" cx="483.5" cy="554.9" r="4.25"/>
<circle class="c0" cx="201.6" cy="199.0" r="4.25"/>
<circle class="c0" cx="181.7" cy="376.4" r="4.25"/>
<circle class="c2" cx="249.9" cy="625.5" r="4.25"/>
<circle class="c0" cx="218.7" cy="83.6" r="4.25"/>
<circle class="c0" cx="231.8" cy="198.3" r="4.25"/>
<circle class="c0" cx="242.2" cy="701.4" r="4.25"/>
<circle class="c0" cx="348.2" cy="622.3" r="4.25"/>
<circle class="c0" cx="223.3" cy="590.0" r="4.25"/>
<circle class="c0" cx="252.0" cy="470.7" r="4.25"/>
<circle class="c0" cx="242.9" cy="385.1" r="4.25"/>
<circle class="c0" cx="170.2" cy="527.8" r="4.25"/>
<circle class="c0" cx="179.3" cy="137.5" r="4.25"/>
<circle class="c0" cx="219.3" cy="407.3" r="4.25"/>
<circle class="c0" cx="337.8" cy="625.1" r="4.25"/>
<circle class="c0" cx="158.7" cy="539.9" r="4.25"/>
<circle class="c0" cx="160.7" cy="443.6" r="4.25"/>
<circle class="c0" cx="190.2" cy="233.6" r="4.25"/>
<circle class="c0" cx="217.4" cy="576.8" r="4.25"/>
<circle class="c5" cx="457.2" cy="236.5" r="4.25"/>
<circle class="c0" cx="239.0" cy="491.7" r="4.25"/>
<circle class="c0" cx="305.5" cy="129.8" r="4.25"/>
<circle class="c0" cx="151.0" cy="515.0" r="4.25"/>
<circle class="c1" cx="256.1" cy="707.8" r="4.25"/>
<circle class="c0" cx="179.9" cy="87.4" r="4.25"/>
<circle class="c1" cx="336.0" cy="240.5" r="4.25"/>
<circle class="c0" cx="356.4" cy="444.9" r="4.25"/>
<circle class="c0" cx="185.4" cy="194.6" r="4.25"/>
<circle class="c12" cx="337.6" cy="304.9" r="4.25"/>
<circle class="c0" cx="159.0" cy="463.2" r="4.25"/>
<circle class="c13" cx="491.4" cy="314.6" r="4.25"/>
<circle class="c0" cx="229.2" cy="491.7" r="4.25"/>
<circle class="c0" cx="157.0" cy="121.6" r="4.25"/>
<circle class="c0" cx="244.0" cy="501.2" r="4.25"/>
<circle class="c0" cx="149.9" cy="508.5" r="4.25"/>
<circle class="c0" cx="283.5" cy="173.9" r="4.25"/>
<circle class="c9" cx="478.2" cy="519.0" r="4.25"/>
<circle class="c12" cx="339.7" cy="732.2" r="4.25"/>
<circle class="c0" cx="400.1" cy="673.9" r="4.25"/>
<circle class="c2" cx="354.7" cy="361.8" r="4.25"/>
<circle class="c16" cx="443.4" cy="325.1" r="4.25"/>
<circle class="c16" cx="395.7" cy="213.4" r="4.25"/>
<circle class="c0" cx="248.8" cy="329.0" r="4.25"/>
<circle class="c0" cx="175.1" cy="518.9" r="4.25"/>
<circle class="c0" cx="226.1" cy="548.2" r="4.25"/>
<circle class="c15" cx="408.1" cy="595.1" r="4.25"/>
<circle class="c0" cx="163.1" cy="116.8" r="4.25"/>
<circle class="c0" cx="206.7" cy="97.3" r="4.25"/>
<circle class="c0" cx="270.4" cy="780.3" r="4.25"/>
<circle class="c1" cx="331.0" cy="289.1" r="4.25"/>
<circle class="c0" cx="137.6" cy="480.7" r="4.25"/>
<circle class="c0" cx="187.3" cy="303.4" r="4.25"/>
<circle class="c0" cx="224.0" cy="135.4" r="4.25"/>
<circle class="c0" cx="224.7" cy="113.5" r="4.25"/>
<circle class="c0" cx="158.8" cy="554.7" r="4.25"/>
<circle class="c16" cx="376.6" cy="254.3" r="4.25"/>
<circle class="c0" cx="223.1" cy="100.1" r="4.25"/>
<circle class="c7" cx="471.0" cy="237.8" r="4.25"/>
<circle class="c0" cx="176.3" cy="101.0" r="4.25"/>
<circle class="c0" cx="182.7" cy="511.9" r="4.25"/>
<circle class="c9" cx="350.3" cy="354.9" r="4.25"/>
<circle class="c15" cx="136.2" cy="513.2" r="4.25"/>
<circle class="c0" cx="230.2" cy="174.1" r="4.25"/>
<circle class="c0" cx="238.4" cy="140.5" r="4.25"/>
<circle class="c0" cx="191.0" cy="355.9" r="4.25"/>
<circle class="c0" cx="250.1" cy="248.4" r="4.25"/>
<circle class="c0" cx="189.3" cy="152.6" r="4.25"/>
<circle class="c0" cx="217.4" cy="505.9" r="4.25"/>
<circle class="c0" cx="189.6" cy="537.9" r="4.25"/>
<circle class="c0" cx="235.6" cy="541.0" r="4.25"/>
<circle class="c0" cx="182.1" cy="248.6" r="4.25"/>
<circle class="c0" cx="200.2" cy="450.3" r="4.25"/>
<circle class="c0" cx="232.3" cy="334.4" r="4.25"/>
<circle class="c0" cx="551.0" cy="403.6" r="4.25"/>
<circle class="c0" cx="194.7" cy="296.7" r="4.25"/>
<circle class="c0" cx="216.3" cy="694.0" r="4.25"/>
<circle class="c1" cx="540.6" cy="390.6" r="4.25"/>
<circle class="c0" cx="213.4" cy="547.3" r="4.25"/>
<circle class="c0" cx="224.9" cy="456.0" r="4.25"/>
<circle class="c0" cx="302.2" cy="134.1" r="4.25"/>
<circle class="c4" cx="432.0" cy="253.5" r="4.25"/>
<circle class="c0" cx="240.6" cy="542.7" r="4.25"/>
<circle class="c0" cx="245.2" cy="279.0" r="4.25"/>
<circle class="c0" cx="155.3" cy="88.9" r="4.25"/>
<circle class="c0" cx="171.1" cy="196.1" r="4.25"/>
<circle class="c0" cx="193.7" cy="157.9" r="4.25"/>
<circle class="c1" cx="305.3" cy="264.5" r="4.25"/>
<circle class="c0" cx="225.8" cy="624.8" r="4.25"/>
<circle class="c0" cx="197.4" cy="591.0" r="4.25"/>
<circle class="c8" cx="339.2" cy="275.2" r="4.25"/>
<circle class="c0" cx="249.6" cy="599.2" r="4.25"/>
<circle class="c0" cx="265.1" cy="748.7" r="4.25"/>
<circle class="c0" cx="201.0" cy="128.2" r="4.25"/>
<circle class="c0" cx="393.1" cy="662.0" r="4.25"/>
<circle class="c0" cx="195.6" cy="560.0" r="4.25"/>
<circle class="c1" cx="311.0" cy="249.7" r="4.25"/>
<circle class="c15" cx="503.0" cy="388.7" r="4.25"/>
<circle class="c0" cx="185.3" cy="525.1" r="4.25"/>
<circle class="c0" cx="404.3" cy="546.0" r="4.25"/>
<circle class="c0" cx="251.6" cy="388.4" r="4.25"/>
<circle class="c0" cx="232.5" cy="194.0" r="4.25"/>
<circle class="c0" cx="478.2" cy="574.9" r="4.25"/>
<circle class="c0" cx="154.7" cy="445.2" r="4.25"/>
<circle class="c0" cx="287.2" cy="791.4" r="4.25"/>
<circle class="c0" cx="134.7" cy="540.8" r="4.25"/>
<circle class="c0" cx="193.5" cy="290.2" r="4.25"/>
<circle class="c0" cx="171.6" cy="413.7" r="4.25"/>
<circle class="c9" cx="512.8" cy="354.7" r="4.25"/>
<circle class="c0" cx="239.4" cy="399.0" r="4.25"/>
<circle class="c0" cx="151.5" cy="368.7" r="4.25"/>
<circle class="c4" cx="449.6" cy="232.5" r="4.25"/>
<circle class="c0" cx="235.6" cy="320.7" r="4.25"/>
<circle class="c0" cx="200.0" cy="312.5" r="4.25"/>
<circle class="c12" cx="141.6" cy="521.7" r="4.25"/>
<circle class="c11" cx="458.8" cy="232.6" r="4.25"/>
<circle class="c0" cx="170.3" cy="248.4" r="4.25"/>
<circle class="c0" cx="225.2" cy="363.0" r="4.25"/>
<circle class="c17" cx="317.4" cy="282.6" r="4.25"/>
<circle class="c0" cx="211.3" cy="176.0" r="4.25"/>
<circle class="c2" cx="207.6" cy="199.0" r="4.25"/>
<circle class="c0" cx="247.7" cy="407.4" r="4.25"/>
<circle class="c0" cx="262.8" cy="810.7" r="4.25"/>
<circle class="c0" cx="388.0" cy="735.0" r="4.25"/>
<circle class="c0" cx="193.7" cy="499.0" r="4.25"/>
<circle class="c0" cx="149.6" cy="398.3" r="4.25"/>
<circle class="c0" cx="222.9" cy="148.3" r="4.25"/>
<circle class="c0" cx="207.6" cy="413.8" r="4.25"/>
<circle class="c0" cx="195.6" cy="351.8" r="4.25"/>
<circle class="c0" cx="319.6" cy="382.8" r="4.25"/>
<circle class="c16" cx="434.5" cy="322.8" r="4.25"/>
<circle class="c0" cx="535.9" cy="358.5" r="4.25"/>
<circle class="c0" cx="123.9" cy="463.1" r="4.25"/>
<circle class="c0" cx="209.6" cy="135.3" r="4.25"/>
<circle class="c0" cx="358.5" cy="363.0" r="4.25"/>
<circle class="c0" cx="176.5" cy="364.1" r="4.25"/>
<circle class="c0" cx="297.5" cy="139.3" r="4.25"/>
<circle class="c0" cx="531.0" cy="379.1" r="4.25"/>
<circle class="c0" cx="242.4" cy="272.9" r="4.25"/>
<circle class="c0" cx="234.7" cy="732.9" r="4.25"/>
<circle class="c0" cx="250.2" cy="409.2" r="4.25"/>
<circle class="c0" cx="219.4" cy="732.1" r="4.25"/>
<circle class="c0" cx="230.5" cy="221.4" r="4.25"/>
<circle class="c0" cx="132.5" cy="465.4" r="4.25"/>
<circle class="c12" cx="504.9" cy="489.3" r="4.25"/>
<circle class="c0" cx="256.1" cy="672.8" r="4.25"/>
<circle class="c0" cx="525.5" cy="411.2" r="4.25"/>
<circle class="c0" cx="203.2" cy="170.5" r="4.25"/>
<circle class="c0" cx="271.4" cy="626.7" r="4.25"/>
<circle class="c0" cx="151.9" cy="375.2" r="4.25"/>
<circle class="c0" cx="468.6" cy="579.9" r="4.25"/>
<circle class="c0" cx="192.6" cy="340.1" r="4.25"/>
<circle class="c0" cx="269.3" cy="199.9" r="4.25"/>
<circle class="c6" cx="154.2" cy="153.6" r="4.25"/>
<circle class="c0" cx="207.1" cy="577.1" r="4.25"/>
<circle class="c0" cx="121.8" cy="507.6" r="4.25"/>
<circle class="c2" cx="229.6" cy="222.3" r="4.25"/>
<circle class="c0" cx="312.4" cy="115.9" r="4.25"/>
<circle class="c0" cx="541.2" cy="383.1" r="4.25"/>
<circle class="c0" cx="352.1" cy="362.5" r="4.25"/>
<circle class="c0" cx="156.9" cy="151.7" r="4.25"/>
<circle class="c0" cx="245.7" cy="684.1" r="4.25"/>
<circle class="c0" cx="260.0" cy="252.3" r="4.25"/>
<circle class="c8" cx="244.3" cy="397.8" r="4.25"/>
<circle class="c0" cx="232.4" cy="715.3" r="4.25"/>
<circle class="c0" cx="186.1" cy="311.7" r="4.25"/>
<circle class="c0" cx="234.9" cy="269.7" r="4.25"/>
<circle class="c0" cx="502.0" cy="460.0" r="4.25"/>
<circle class="c0" cx="348.5" cy="627.6" r="4.25"/>
<circle class="c7" cx="434.9" cy="231.1" r="4.25"/>
<circle class="c0" cx="222.4" cy="123.8" r="4.25"/>
<circle class="c12" cx="227.8" cy="187.0" r="4.25"/>
<circle class="c5" cx="381.6" cy="266.7" r="4.25"/>
<circle class="c4" cx="450.4" cy="324.0" r="4.25"/>
<circle class="c0" cx="225.7" cy="109.2" r="4.25"/>
<circle class="c0" cx="522.7" cy="353.8" r="4.25"/>
<circle class="c0" cx="348.4" cy="368.5" r="4.25"/>
<circle class="c17" cx="428.5" cy="264.4" r="4.25"/>
<circle class="c0" cx="239.1" cy="712.0" r="4.25"/>
<circle class="c0" cx="159.2" cy="170.6" r="4.25"/>
<circle class="c0" cx="256.5" cy="234.2" r="4.25"/>
<circle class="c1" cx="528.0" cy="377.0" r="4.25"/>
<circle class="c0" cx="179.3" cy="327.1" r="4.25"/>
<circle class="c0" cx="181.6" cy="151.5" r="4.25"/>
<circle class="c0" cx="228.3" cy="720.6" r="4.25"/>
<circle class="c0" cx="156.8" cy="498.2" r="4.25"/>
<circle class="c0" cx="220.6" cy="428.5" r="4.25"/>
<circle class="c9" cx="160.9" cy="223.2" r="4.25"/>
<circle class="c0" cx="223.2" cy="331.3" r="4.25"/>
<circle class="c0" cx="197.6" cy="512.4" r="4.25"/>
<circle class="c4" cx="472.6" cy="511.8" r="4.25"/>
<circle class="c0" cx="234.0" cy="163.8" r="4.25"/>
<circle class="c1" cx="320.0" cy="248.4" r="4.25"/>
<circle class="c2" cx="139.2" cy="401.5" r="4.25"/>
<circle class="c15" cx="169.7" cy="100.5" r="4.25"/>
<circle class="c0" cx="246.8" cy="261.3" r="4.25"/>
<circle class="c0" cx="274.1" cy="629.8" r="4.25"/>
<circle class="c0" cx="161.4" cy="354.0" r="4.25"/>
<circle class="c0" cx="411.3" cy="608.4" r="4.25"/>
<circle class="c0" cx="249.9" cy="642.4" r="4.25"/>
<circle class="c2" cx="219.5" cy="337.0" r="4.25"/>
<circle class="c0" cx="379.6" cy="733.7" r="4.25"/>
<circle class="c0" cx="496.4" cy="373.2" r="4.25"/>
<circle class="c0" cx="205.7" cy="71.6" r="4.25"/>
<circle class="c0" cx="224.3" cy="577.3" r="4.25"/>
<circle class="c0" cx="240.2" cy="395.2" r="4.25"/>
<circle class="c0" cx="153.9" cy="500.1" r="4.25"/>
<circle class="c0" cx="175.5" cy="512.2" r="4.25"/>
<circle class="c0" cx="214.4" cy="593.8" r="4.25"/>
<circle class="c0" cx="549.9" cy="406.9" r="4.25"/>
<circle class="c0" cx="358.3" cy="374.8" r="4.25"/>
<circle class="c0" cx="237.7" cy="465.6" r="4.25"/>
<circle class="c0" cx="268.8" cy="746.8" r="4.25"/>
<circle class="c0" cx="251.3" cy="412.4" r="4.25"/>
<circle class="c3" cx="230.2" cy="521.7" r="4.25"/>
<circle class="c0" cx="210.5" cy="564.9" r="4.25"/>
<circle class="c0" cx="328.9" cy="382.8" r="4.25"/>
<circle class="c0" cx="210.9" cy="442.0" r="4.25"/>
<circle class="c0" cx="343.3" cy="364.7" r="4.25"/>
<circle class="c6" cx="335.8" cy="319.8" r="4.25"/>
<circle class="c0" cx="287.2" cy="683.4" r="4.25"/>
<circle class="c0" cx="186.0" cy="552.6" r="4.25"/>
<circle class="c0" cx="546.0" cy="422.3" r="4.25"/>
<circle class="c0" cx="166.4" cy="461.8" r="4.25"/>
<circle class="c0" cx="199.5" cy="677.5" r="4.25"/>
<circle class="c0" cx="236.0" cy="88.5" r="4.25"/>
<circle class="c2" cx="273.2" cy="809.8" r="4.25"/>
<circle class="c12" cx="154.5" cy="559.0" r="4.25"/>
<circle class="c0" cx="241.3" cy="701.6" r="4.25"/>
<circle class="c0" cx="177.4" cy="320.7" r="4.25"/>
<circle class="c0" cx="473.9" cy="580.1" r="4.25"/>
<circle class="c15" cx="537.7" cy="427.6" r="4.25"/>
<circle class="c0" cx="220.3" cy="355.0" r="4.25"/>
<circle class="c0" cx="256.2" cy="664.2" r="4.25"/>
<circle class="c0" cx="161.5" cy="428.3" r="4.25"/>
<circle class="c0" cx="168.2" cy="292.6" r="4.25"/>
<circle class="c0" cx="300.9" cy="727.7" r="4.25"/>
<circle class="c0" cx="212.8" cy="699.6" r="4.25"/>
<circle class="c5" cx="433.0" cy="270.7" r="4.25"/>
<circle class="c0" cx="260.2" cy="196.8" r="4.25"/>
<circle class="c16" cx="455.9" cy="251.4" r="4.25"/>
<circle class="c6" cx="191.5" cy="113.1" r="4.25"/>
<circle class="c0" cx="526.8" cy="418.3" r="4.25"/>
<circle class="c0" cx="179.6" cy="67.8" r="4.25"/>
<circle class="c0" cx="162.5" cy="440.4" r="4.25"/>
<circle class="c0" cx="251.1" cy="457.5" r="4.25"/>
<circle class="c0" cx="323.6" cy="403.8" r="4.25"/>
<circle class="c6" cx="302.9" cy="114.2" r="4.25"/>
<circle class="c0" cx="224.4" cy="559.4" r="4.25"/>
<circle class="c0" cx="535.4" cy="398.1" r="4.25"/>
<circle class="c6" cx="160.7" cy="166.6" r="4.25"/>
<circle class="c0" cx="134.7" cy="512.1" r="4.25"/>
<circle class="c0" cx="165.8" cy="481.9" r="4.25"/>
<circle class="c0" cx="237.5" cy="426.1" r="4.25"/>
<circle class="c0" cx="229.8" cy="420.8" r="4.25"/>
<circle class="c0" cx="154.0" cy="362.1" r="4.25"/>
<circle class="c0" cx="502.2" cy="449.9" r="4.25"/>
<circle class="c0" cx="312.5" cy="95.6" r="4.25"/>
<circle class="c0" cx="165.8" cy="399.6" r="4.25"/>
<circle class="c2" cx="169.2" cy="220.6" r="4.25"/>
<circle class="c0" cx="252.5" cy="471.0" r="4.25"/>
<circle class="c0" cx="221.9" cy="491.5" r="4.25"/>
<circle class="c0" cx="189.5" cy="496.7" r="4.25"/>
<circle class="c0" cx="346.8" cy="361.2" r="4.25"/>
<circle class="c0" cx="144.7" cy="408.5" r="4.25"/>
<circle class="c3" cx="137.6" cy="552.2" r="4.25"/>
<circle class="c3" cx="248.3" cy="201.1" r="4.25"/>
<circle class="c0" cx="213.9" cy="196.8" r="4.25"/>
<circle class="c10" cx="423.5" cy="236.6" r="4.25"/>
<circle class="c0" cx="235.1" cy="519.7" r="4.25"/>
<circle class="c0" cx="171.5" cy="193.2" r="4.25"/>
<circle class="c15" cx="177.1" cy="232.9" r="4.25"/>
<circle class="c0" cx="267.0" cy="794.1" r="4.25"/>
<circle class="c0" cx="166.2" cy="268.5" r="4.25"/>
<circle class="c0" cx="332.6" cy="231.2" r="4.25"/>
<circle class="c0" cx="228.5" cy="311.7" r="4.25"/>
<circle class="c0" cx="168.5" cy="297.6" r="4.25"/>
<circle class="c0" cx="220.3" cy="352.4" r="4.25"/>
<circle class="c0" cx="179.0" cy="97.3" r="4.25"/>
<circle class="c16" cx="381.8" cy="255.0" r="4.25"/>
<circle class="c3" cx="174.4" cy="111.9" r="4.25"/>
<circle class="c0" cx="215.0" cy="426.3" r="4.25"/>
<circle class="c0" cx="196.6" cy="570.7" r="4.25"/>
<circle class="c0" cx="250.9" cy="458.6" r="4.25"/>
<circle class="c0" cx="494.2" cy="507.7" r="4.25"/>
<circle class="c0" cx="210.7" cy="701.4" r="4.25"/>
<circle class="c0" cx="162.5" cy="82.1" r="4.25"/>
<circle class="c0" cx="172.5" cy="168.1" r="4.25"/>
<circle class="c0" cx="208.6" cy="275.5" r="4.25"/>
<circle class="c1" cx="163.5" cy="327.2" r="4.25"/>
<circle class="c8" cx="448.4" cy="334.7" r="4.25"/>
<circle class="c0" cx="237.1" cy="236.1" r="4.25"/>
<circle class="c0" cx="216.4" cy="518.4" r="4.25"/>
<circle class="c1" cx="333.7" cy="316.6" r="4.25"/>
<circle class="c0" cx="239.8" cy="273.5" r="4.25"/>
<circle class="c0" cx="154.3" cy="457.2" r="4.25"/>
<circle class="c0" cx="226.3" cy="308.8" r="4.25"/>
<circle class="c0" cx="147.6" cy="551.2" r="4.25"/>
<circle class="c0" cx="164.0" cy="544.5" r="4.25"/>
<circle class="c0" cx="263.8" cy="817.3" r="4.25"/>
<circle class="c0" cx="319.9" cy="102.5" r="4.25"/>
<circle class="c0" cx="231.0" cy="662.1" r="4.25"/>
<circle class="c6" cx="500.9" cy="449.7" r="4.25"/>
<circle class="c0" cx="246.1" cy="689.2" r="4.25"/>
<circle class="c0" cx="238.8" cy="312.3" r="4.25"/>
<circle class="c0" cx="207.5" cy="359.7" r="4.25"/>
<circle class="c0" cx="160.5" cy="443.4" r="4.25"/>
<circle class="c0" cx="482.2" cy="570.4" r="4.25"/>
<circle class="c0" cx="202.1" cy="386.3" r="4.25"/>
<circle class="c0" cx="164.6" cy="395.4" r="4.25"/>
<circle class="c0" cx="193.8" cy="205.0" r="4.25"/>
<circle class="c0" cx="228.0" cy="291.2" r="4.25"/>
<circle class="c12" cx="161.1" cy="106.0" r="4.25"/>
<circle class="c0" cx="233.5" cy="82.3" r="4.25"/>
<circle class="c0" cx="162.2" cy="433.6" r="4.25"/>
<circle class="c0" cx="254.7" cy="769.4" r="4.25"/>
<circle class="c0" cx="224.1" cy="563.4" r="4.25"/>
<circle class="c12" cx="319.3" cy="288.7" r="4.25"/>
<circle class="c0" cx="187.7" cy="217.3" r="4.25"/>
<circle class="c0" cx="550.3" cy="415.3" r="4.25"/>
<circle class="c0" cx="201.8" cy="652.7" r="4.25"/>
<circle class="c12" cx="271.6" cy="808.7" r="4.25"/>
<circle class="c9" cx="498.7" cy="512.3" r="4.25"/>
<circle class="c0" cx="148.6" cy="480.6" r="4.25"/>
<circle class="c16" cx="474.8" cy="290.5" r="4.25"/>
<circle class="c0" cx="228.9" cy="215.3" r="4.25"/>
<circle class="c0" cx="239.8" cy="770.2" r="4.25"/>
<circle class="c0" cx="541.2" cy="360.7" r="4.25"/>
<circle class="c11" cx="461.1" cy="240.1" r="4.25"/>
<circle class="c0" cx="122.8" cy="517.2" r="4.25"/>
<circle class="c0" cx="247.8" cy="475.4" r="4.25"/>
<circle class="c11" cx="443.1" cy="227.7" r="4.25"/>
<circle class="c0" cx="244.7" cy="198.3" r="4.25"/>
<circle class="c0" cx="289.0" cy="632.0" r="4.25"/>
<circle class="c0" cx="234.5" cy="479.6" r="4.25"/>
<circle class="c0" cx="128.6" cy="459.1" r="4.25"/>
<circle class="c0" cx="233.2" cy="701.3" r="4.25"/>
<circle class="c0" cx="202.5" cy="142.7" r="4.25"/>
<circle class="c0" cx="189.8" cy="616.0" r="4.25"/>
<circle class="c0" cx="212.3" cy="76.7" r="4.25"/>
<circle class="c0" cx="237.5" cy="140.0" r="4.25"/>
<circle class="c0" cx="240.5" cy="531.9" r="4.25"/>
<circle class="c0" cx="203.9" cy="337.4" r="4.25"/>
<circle class="c6" cx="503.4" cy="360.7" r="4.25"/>
<circle class="c0" cx="176.4" cy="479.9" r="4.25"/>
<circle class="c0" cx="239.4" cy="617.1" r="4.25"/>
<circle class="c0" cx="224.4" cy="474.4" r="4.25"/>
<circle class="c0" cx="260.5" cy="187.5" r="4.25"/>
<circle class="c0" cx="208.6" cy="478.8" r="4.25"/>
<circle class="c4" cx="441.3" cy="258.9" r="4.25"/>
<circle class="c0" cx="191.7" cy="248.5" r="4.25"/>
<circle class="c9" cx="323.0" cy="252.5" r="4.25"/>
<circle class="c0" cx="193.2" cy="275.3" r="4.25"/>
<circle class="c0" cx="182.6" cy="252.3" r="4.25"/>
<circle class="c0" cx="235.7" cy="169.5" r="4.25"/>
<circle class="c0" cx="243.2" cy="262.1" r="4.25"/>
<circle class="c0" cx="232.2" cy="760.5" r="4.25"/>
<circle class="c0" cx="231.6" cy="470.2" r="4.25"/>
<circle class="c0" cx="202.6" cy="452.9" r="4.25"/>
<circle class="c0" cx="533.3" cy="423.5" r="4.25"/>
<circle class="c0" cx="249.0" cy="397.7" r="4.25"/>
<circle class="c0" cx="236.1" cy="521.7" r="4.25"/>
<circle class="c0" cx="231.2" cy="512.5" r="4.25"/>
<circle class="c0" cx="170.2" cy="570.8" r="4.25"/>
<circle class="c0" cx="183.5" cy="292.3" r="4.25"/>
<circle class="c0" cx="224.5" cy="532.7" r="4.25"/>
<circle class="c12" cx="211.7" cy="97.2" r="4.25"/>
<circle class="c0" cx="214.6" cy="115.5" r="4.25"/>
<circle class="c12" cx="162.2" cy="471.4" r="4.25"/>
<circle class="c0" cx="366.5" cy="745.5" r="4.25"/>
<circle class="c0" cx="205.4" cy="207.6" r="4.25"/>
<circle class="c0" cx="128.7" cy="443.4" r="4.25"/>
<circle class="c0" cx="264.7" cy="808.0" r="4.25"/>
<circle class="c0" cx="222.1" cy="672.2" r="4.25"/>
<circle class="c0" cx="193.8" cy="572.3" r="4.25"/>
<circle class="c0" cx="197.4" cy="89.7" r="4.25"/>
<circle class="c0" cx="268.4" cy="641.3" r="4.25"/>
<circle class="c9" cx="225.4" cy="540.2" r="4.25"/>
<circle class="c0" cx="400.0" cy="529.1" r="4.25"/>
<circle class="c0" cx="222.7" cy="443.8" r="4.25"/>
<circle class="c0" cx="540.3" cy="429.6" r="4.25"/>
<circle class="c9" cx="217.8" cy="70.8" r="4.25"/>
<circle class="c0" cx="342.3" cy="374.1" r="4.25"/>
<circle class="c0" cx="206.4" cy="578.6" r="4.25"/>
<circle class="c0" cx="146.6" cy="494.8" r="4.25"/>
<circle class="c0" cx="185.2" cy="201.3" r="4.25"/>
<circle class="c0" cx="210.0" cy="75.1" r="4.25"/>
<circle class="c0" cx="203.9" cy="112.3" r="4.25"/>
<circle class="c0" cx="251.1" cy="596.9" r="4.25"/>
<circle class="c12" cx="293.0" cy="231.0" r="4.25"/>
<circle class="c3" cx="199.1" cy="324.1" r="4.25"/>
<circle class="c0" cx="246.7" cy="297.9" r="4.25"/>
<circle class="c7" cx="447.0" cy="367.0" r="4.25"/>
<circle class="c0" cx="210.5" cy="153.8" r="4.25"/>
<circle class="c0" cx="195.7" cy="509.3" r="4.25"/>
<circle class="c2" cx="193.9" cy="298.2" r="4.25"/>
<circle class="c0" cx="197.0" cy="212.4" r="4.25"/>
<circle class="c0" cx="230.4" cy="222.2" r="4.25"/>
<circle class="c0" cx="277.7" cy="826.6" r="4.25"/>
<circle class="c0" cx="170.9" cy="391.7" r="4.25"/>
<circle class="c0" cx="525.3" cy="395.7" r="4.25"/>
<circle class="c0" cx="227.5" cy="558.3" r="4.25"/>
<circle class="c0" cx="207.9" cy="202.2" r="4.25"/>
<circle class="c12" cx="484.7" cy="573.3" r="4.25"/>
<circle class="c0" cx="246.1" cy="663.1" r="4.25"/>
<circle class="c14" cx="435.7" cy="252.4" r="4.25"/>
<circle class="c12" cx="193.9" cy="167.1" r="4.25"/>
<circle class="c0" cx="229.2" cy="531.7" r="4.25"/>
<circle class="c17" cx="420.6" cy="307.3" r="4.25"/>
<circle class="c1" cx="343.7" cy="355.0" r="4.25"/>
<circle class="c0" cx="501.7" cy="494.7" r="4.25"/>
<circle class="c3" cx="276.8" cy="730.9" r="4.25"/>
<circle class="c0" cx="168.6" cy="326.3" r="4.25"/>
<circle class="c0" cx="134.0" cy="424.5" r="4.25"/>
<circle class="c0" cx="321.6" cy="102.1" r="4.25"/>
<circle class="c6" cx="474.0" cy="500.7" r="4.25"/>
<circle class="c1" cx="194.9" cy="497.9" r="4.25"/>
<circle class="c0" cx="164.6" cy="118.3" r="4.25"/>
<circle class="c0" cx="189.0" cy="414.0" r="4.25"/>
<circle class="c3" cx="251.2" cy="371.6" r="4.25"/>
<circle class="c0" cx="176.9" cy="554.2" r="4.25"/>
<circle class="c13" cx="306.0" cy="156.0" r="4.25"/>
<circle class="c3" cx="182.9" cy="241.7" r="4.25"/>
<circle class="c0" cx="213.2" cy="321.7" r="4.25"/>
<circle class="c5" cx="460.5" cy="232.2" r="4.25"/>
<circle class="c0" cx="361.2" cy="368.8" r="4.25"/>
<circle class="c2" cx="188.4" cy="385.7" r="4.25"/>
<circle class="c9" cx="431.3" cy="319.6" r="4.25"/>
<circle class="c0" cx="270.7" cy="820.6" r="4.25"/>
<circle class="c0" cx="200.3" cy="400.6" r="4.25"/>
<circle class="c0" cx="220.5" cy="250.8" r="4.25"/>
<circle class="c0" cx="200.6" cy="390.0" r="4.25"/>
<circle class="c0" cx="386.2" cy="538.2" r="4.25"/>
<circle class="c2" cx="491.0" cy="411.8" r="4.25"/>
<circle class="c0" cx="310.8" cy="105.5" r="4.25"/>
<circle class="c16" cx="314.3" cy="246.8" r="4.25"/>
<circle class="c5" cx="445.2" cy="326.5" r="4.25"/>
<circle class="c0" cx="194.4" cy="138.4" r="4.25"/>
<circle class="c0" cx="208.1" cy="386.9" r="4.25"/>
<circle class="c17" cx="478.6" cy="367.1" r="4.25"/>
<circle class="c0" cx="274.4" cy="769.0" r="4.25"/>
<circle class="c0" cx="233.1" cy="157.9" r="4.25"/>
<circle class="c0" cx="161.5" cy="383.7" r="4.25"/>
<circle class="c9" cx="533.1" cy="377.4" r="4.25"/>
<circle class="c0" cx="172.5" cy="293.2" r="4.25"/>
<circle class="c0" cx="351.2" cy="361.6" r="4.25"/>
<circle class="c0" cx="182.8" cy="348.6" r="4.25"/>
<circle class="c0" cx="184.8" cy="426.0" r="4.25"/>
<circle class="c5" cx="421.7" cy="247.9" r="4.25"/>
<circle class="c0" cx="132.4" cy="495.4" r="4.25"/>
<circle class="c0" cx="219.5" cy="689.0" r="4.25"/>
<circle class="c0" cx="201.6" cy="259.4" r="4.25"/>
<circle class="c1" cx="222.3" cy="567.0" r="4.25"/>
<circle class="c0" cx="194.9" cy="533.8" r="4.25"/>
<circle class="c0" cx="166.9" cy="414.2" r="4.25"/>
<circle class="c9" cx="477.0" cy="582.6" r="4.25"/>
<circle class="c0" cx="166.7" cy="68.0" r="4.25"/>
<circle class="c0" cx="239.5" cy="725.9" r="4.25"/>
<circle class="c13" cx="461.7" cy="244.4" r="4.25"/>
<circle class="c0" cx="189.7" cy="279.9" r="4.25"/>
<circle class="c0" cx="538.8" cy="395.4" r="4.25"/>
<circle class="c0" cx="275.8" cy="817.0" r="4.25"/>
<circle class="c0" cx="251.0" cy="394.3" r="4.25"/>
<circle class="c0" cx="219.8" cy="673.3" r="4.25"/>
<circle class="c13" cx="438.5" cy="226.5" r="4.25"/>
<circle class="c10" cx="366.4" cy="209.7" r="4.25"/>
<circle class="c0" cx="146.0" cy="496.6" r="4.25"/>
<circle class="c0" cx="189.5" cy="278.0" r="4.25"/>
<circle class="c2" cx="376.2" cy="732.9" r="4.25"/>
<circle class="c0" cx="272.4" cy="687.5" r="4.25"/>
<circle class="c0" cx="199.2" cy="227.2" r="4.25"/>
<circle class="c0" cx="257.3" cy="206.6" r="4.25"/>
<circle class="c0" cx="129.5" cy="452.5" r="4.25"/>
<circle class="c0" cx="185.1" cy="626.2" r="4.25"/>
<circle class="c0" cx="195.5" cy="287.8" r="4.25"/>
<circle class="c12" cx="248.9" cy="349.2" r="4.25"/>
<circle class="c0" cx="178.4" cy="280.0" r="4.25"/>
<circle class="c0" cx="239.0" cy="137.5" r="4.25"/>
<circle class="c0" cx="217.8" cy="371.0" r="4.25"/>
<circle class="c0" cx="208.4" cy="647.6" r="4.25"/>
<circle class="c0" cx="162.5" cy="497.5" r="4.25"/>
<circle class="c3" cx="162.9" cy="139.3" r="4.25"/>
<circle class="c7" cx="454.7" cy="231.4" r="4.25"/>
<circle class="c0" cx="148.8" cy="450.7" r="4.25"/>
<circle class="c15" cx="353.0" cy="478.0" r="4.25"/>
<circle class="c13" cx="381.1" cy="253.7" r="4.25"/>
<circle class="c0" cx="258.0" cy="215.0" r="4.25"/>
<circle class="c3" cx="190.0" cy="68.7" r="4.25"/>
<circle class="c0" cx="217.3" cy="65.7" r="4.25"/>
<circle class="c0" cx="267.3" cy="690.8" r="4.25"/>
<circle class="c0" cx="250.3" cy="382.7" r="4.25"/>
<circle class="c0" cx="116.6" cy="512.8" r="4.25"/>
<circle class="c2" cx="192.8" cy="353.4" r="4.25"/>
<circle class="c0" cx="117.4" cy="502.7" r="4.25"/>
<circle class="c0" cx="186.7" cy="556.6" r="4.25"/>
<circle class="c0" cx="320.5" cy="241.2" r="4.25"/>
<circle class="c0" cx="252.6" cy="389.7" r="4.25"/>
<circle class="c0" cx="203.2" cy="562.8" r="4.25"/>
<circle class="c6" cx="186.9" cy="450.2" r="4.25"/>
<circle class="c1" cx="473.4" cy="588.3" r="4.25"/>
<circle class="c0" cx="244.4" cy="336.3" r="4.25"/>
<circle class="c5" cx="337.8" cy="271.3" r="4.25"/>
<circle class="c0" cx="168.4" cy="68.1" r="4.25"/>
<circle class="c0" cx="173.5" cy="342.0" r="4.25"/>
<circle class="c0" cx="237.1" cy="221.9" r="4.25"/>
<circle class="c0" cx="207.5" cy="108.3" r="4.25"/>
<circle class="c0" cx="231.0" cy="94.5" r="4.25"/>
<circle class="c0" cx="208.8" cy="711.7" r="4.25"/>
<circle class="c9" cx="353.7" cy="438.7" r="4.25"/>
<circle class="c9" cx="168.5" cy="405.1" r="4.25"/>
<circle class="c0" cx="127.3" cy="458.7" r="4.25"/>
<circle class="c0" cx="234.0" cy="109.5" r="4.25"/>
<circle class="c2" cx="203.0" cy="397.4" r="4.25"/>
<circle class="c0" cx="354.5" cy="463.4" r="4.25"/>
<circle class="c17" cx="466.9" cy="251.6" r="4.25"/>
<circle class="c0" cx="169.2" cy="159.1" r="4.25"/>
<circle class="c0" cx="249.5" cy="455.0" r="4.25"/>
<circle class="c0" cx="186.0" cy="111.1" r="4.25"/>
<circle class="c0" cx="206.5" cy="123.5" r="4.25"/>
<circle class="c0" cx="515.4" cy="378.1" r="4.25"/>
<circle class="c2" cx="491.5" cy="406.4" r="4.25"/>
<circle class="c9" cx="230.3" cy="211.1" r="4.25"/>
<circle class="c3" cx="220.4" cy="479.6" r="4.25"/>
<circle class="c15" cx="189.2" cy="559.1" r="4.25"/>
<circle class="c0" cx="251.6" cy="298.1" r="4.25"/>
<circle class="c0" cx="270.6" cy="815.7" r="4.25"/>
<circle class="c0" cx="273.6" cy="780.6" r="4.25"/>
<circle class="c0" cx="196.8" cy="507.7" r="4.25"/>
<circle class="c0" cx="301.4" cy="121.6" r="4.25"/>
<circle class="c0" cx="211.6" cy="298.6" r="4.25"/>
<circle class="c0" cx="166.3" cy="330.2" r="4.25"/>
<circle class="c0" cx="207.7" cy="476.2" r="4.25"/>
<circle class="c0" cx="247.6" cy="610.9" r="4.25"/>
<circle class="c4" cx="485.5" cy="323.1" r="4.25"/>
<circle class="c0" cx="157.2" cy="559.7" r="4.25"/>
<circle class="c0" cx="278.6" cy="664.5" r="4.25"/>
<circle class="c0" cx="199.6" cy="565.0" r="4.25"/>
<circle class="c0" cx="235.5" cy="391.1" r="4.25"/>
<circle class="c0" cx="234.7" cy="386.4" r="4.25"/>
<circle class="c0" cx="224.0" cy="568.9" r="4.25"/>
<circle class="c0" cx="224.4" cy="429.2" r="4.25"/>
<circle class="c0" cx="222.5" cy="347.1" r="4.25"/>
<circle class="c0" cx="334.5" cy="372.4" r="4.25"/>
<circle class="c0" cx="523.0" cy="428.1" r="4.25"/>
<circle class="c0" cx="338.8" cy="280.0" r="4.25"/>
<circle class="c0" cx="229.3" cy="171.3" r="4.25"/>
<circle class="c0" cx="147.2" cy="392.4" r="4.25"/>
<circle class="c5" cx="476.0" cy="249.2" r="4.25"/>
<circle class="c0" cx="193.4" cy="439.6" r="4.25"/>
<circle class="c0" cx="181.5" cy="325.4" r="4.25"/>
<circle class="c0" cx="174.0" cy="112.5" r="4.25"/>
<circle class="c9" cx="195.1" cy="167.5" r="4.25"/>
<circle class="c9" cx="347.1" cy="376.2" r="4.25"/>
<circle class="c2" cx="225.5" cy="407.3" r="4.25"/>
<circle class="c0" cx="324.0" cy="256.6" r="4.25"/>
<circle class="c6" cx="302.8" cy="278.1" r="4.25"/>
<circle class="c3" cx="198.2" cy="222.4" r="4.25"/>
<circle class="c0" cx="196.4" cy="128.0" r="4.25"/>
<circle class="c0" cx="212.1" cy="125.2" r="4.25"/>
<circle class="c0" cx="252.2" cy="682.0" r="4.25"/>
<circle class="c0" cx="166.1" cy="290.1" r="4.25"/>
<circle class="c8" cx="501.6" cy="496.6" r="4.25"/>
<circle class="c0" cx="186.3" cy="370.0" r="4.25"/>
<circle class="c0" cx="212.7" cy="361.9" r="4.25"/>
<circle class="c0" cx="405.4" cy="531.9" r="4.25"/>
<circle class="c0" cx="239.6" cy="537.2" r="4.25"/>
<circle class="c0" cx="409.8" cy="588.6" r="4.25"/>
<circle class="c0" cx="375.6" cy="731.3" r="4.25"/>
<circle class="c0" cx="341.9" cy="747.8" r="4.25"/>
<circle class="c9" cx="324.9" cy="386.4" r="4.25"/>
<circle class="c9" cx="498.8" cy="472.7" r="4.25"/>
<circle class="c0" cx="195.5" cy="501.6" r="4.25"/>
<circle class="c5" cx="419.2" cy="265.1" r="4.25"/>
<circle class="c0" cx="178.7" cy="420.6" r="4.25"/>
<circle class="c0" cx="202.7" cy="198.9" r="4.25"/>
<circle class="c0" cx="311.0" cy="109.6" r="4.25"/>
<circle class="c6" cx="201.3" cy="484.2" r="4.25"/>
<circle class="c2" cx="553.9" cy="406.9" r="4.25"/>
<circle class="c0" cx="228.2" cy="92.3" r="4.25"/>
<circle class="c6" cx="308.7" cy="280.7" r="4.25"/>
<circle class="c8" cx="168.4" cy="342.6" r="4.25"/>
<circle class="c0" cx="205.7" cy="318.9" r="4.25"/>
<circle class="c0" cx="213.7" cy="238.5" r="4.25"/>
<circle class="c0" cx="184.1" cy="463.4" r="4.25"/>
<circle class="c1" cx="216.2" cy="695.1" r="4.25"/>
<circle class="c0" cx="141.1" cy="397.8" r="4.25"/>
<circle class="c0" cx="186.2" cy="191.7" r="4.25"/>
<circle class="c2" cx="165.7" cy="426.4" r="4.25"/>
<circle class="c0" cx="230.7" cy="493.9" r="4.25"/>
<circle class="c13" cx="317.0" cy="641.0" r="4.25"/>
<circle class="c12" cx="191.2" cy="361.6" r="4.25"/>
<circle class="c0" cx="281.2" cy="651.9" r="4.25"/>
<circle class="c1" cx="316.0" cy="394.9" r="4.25"/>
<circle class="c16" cx="469.6" cy="264.0" r="4.25"/>
<circle class="c0" cx="167.2" cy="266.8" r="4.25"/>
<circle class="c0" cx="334.1" cy="389.2" r="4.25"/>
<circle class="c0" cx="150.7" cy="492.3" r="4.25"/>
<circle class="c16" cx="445.2" cy="269.1" r="4.25"/>
<circle class="c0" cx="243.0" cy="656.9" r="4.25"/>
<circle class="c0" cx="173.7" cy="265.6" r="4.25"/>
<circle class="c13" cx="332.8" cy="267.0" r="4.25"/>
<circle class="c0" cx="191.4" cy="322.6" r="4.25"/>
<circle class="c0" cx="224.7" cy="204.4" r="4.25"/>
<circle class="c0" cx="225.5" cy="498.4" r="4.25"/>
<circle class="c4" cx="500.5" cy="377.8" r="4.25"/>
<circle class="c0" cx="518.3" cy="374.3" r="4.25"/>
<circle class="c0" cx="179.0" cy="369.2" r="4.25"/>
<circle class="c0" cx="145.8" cy="506.4" r="4.25"/>
<circle class="c0" cx="172.1" cy="570.1" r="4.25"/>
<circle class="c0" cx="217.1" cy="124.5" r="4.25"/>
<circle class="c0" cx="525.1" cy="363.7" r="4.25"/>
<circle class="c2" cx="528.8" cy="366.0" r="4.25"/>
<circle class="c0" cx="473.1" cy="575.9" r="4.25"/>
<circle class="c0" cx="179.4" cy="169.4" r="4.25"/>
<circle class="c0" cx="233.8" cy="401.2" r="4.25"/>
<circle class="c0" cx="308.5" cy="105.8" r="4.25"/>
<circle class="c11" cx="450.7" cy="243.2" r="4.25"/>
<circle class="c0" cx="223.9" cy="444.1" r="4.25"/>
<circle class="c0" cx="201.7" cy="541.0" r="4.25"/>
<circle class="c0" cx="152.8" cy="349.0" r="4.25"/>
<circle class="c0" cx="325.3" cy="406.1" r="4.25"/>
<circle class="c0" cx="125.3" cy="492.3" r="4.25"/>
<circle class="c0" cx="221.4" cy="270.9" r="4.25"/>
<circle class="c15" cx="412.8" cy="300.2" r="4.25"/>
<circle class="c0" cx="131.1" cy="446.5" r="4.25"/>
<circle class="c0" cx="124.2" cy="510.1" r="4.25"/>
<circle class="c0" cx="243.5" cy="469.9" r="4.25"/>
<circle class="c0" cx="189.2" cy="500.7" r="4.25"/>
<circle class="c2" cx="158.7" cy="81.5" r="4.25"/>
<circle class="c0" cx="240.4" cy="620.7" r="4.25"/>
<circle class="c0" cx="180.2" cy="494.6" r="4.25"/>
<circle class="c0" cx="241.8" cy="148.3" r="4.25"/>
<circle class="c0" cx="245.2" cy="374.8" r="4.25"/>
<circle class="c0" cx="134.8" cy="488.5" r="4.25"/>
<circle class="c8" cx="376.0" cy="583.0" r="4.25"/>
<circle class="c0" cx="210.1" cy="297.1" r="4.25"/>
<circle class="c0" cx="339.0" cy="620.5" r="4.25"/>
<circle class="c0" cx="128.7" cy="496.1" r="4.25"/>
<circle class="c0" cx="190.1" cy="612.8" r="4.25"/>
<circle class="c0" cx="242.9" cy="334.2" r="4.25"/>
<circle class="c0" cx="191.6" cy="567.9" r="4.25"/>
<circle class="c0" cx="263.7" cy="624.8" r="4.25"/>
<circle class="c0" cx="161.9" cy="501.8" r="4.25"/>
<circle class="c0" cx="203.9" cy="661.1" r="4.25"/>
<circle class="c11" cx="441.0" cy="270.2" r="4.25"/>
<circle class="c0" cx="265.0" cy="727.9" r="4.25"/>
<circle class="c0" cx="218.1" cy="339.0" r="4.25"/>
<circle class="c0" cx="208.3" cy="349.2" r="4.25"/>
<circle class="c0" cx="133.9" cy="473.1" r="4.25"/>
<circle class="c12" cx="282.6" cy="649.1" r="4.25"/>
<circle class="c0" cx="223.2" cy="238.2" r="4.25"/>
<circle class="c0" cx="192.9" cy="325.7" r="4.25"/>
<circle class="c0" cx="211.9" cy="485.2" r="4.25"/>
<circle class="c0" cx="533.1" cy="401.7" r="4.25"/>
<circle class="c0" cx="176.4" cy="395.1" r="4.25"/>
<circle class="c0" cx="224.1" cy="400.0" r="4.25"/>
<circle class="c0" cx="499.6" cy="433.5" r="4.25"/>
<circle class="c3" cx="195.1" cy="246.2" r="4.25"/>
<circle class="c0" cx="177.7" cy="130.2" r="4.25"/>
<circle class="c2" cx="247.4" cy="646.1" r="4.25"/>
<circle class="c2" cx="229.8" cy="207.8" r="4.25"/>
<circle class="c0" cx="454.4" cy="582.2" r="4.25"/>
<circle class="c0" cx="207.7" cy="436.8" r="4.25"/>
<circle class="c0" cx="238.8" cy="608.6" r="4.25"/>
<circle class="c0" cx="202.3" cy="103.6" r="4.25"/>
<circle class="c0" cx="214.2" cy="447.6" r="4.25"/>
<circle class="c0" cx="228.8" cy="293.9" r="4.25"/>
<circle class="c15" cx="531.5" cy="377.6" r="4.25"/>
<circle class="c15" cx="479.7" cy="579.4" r="4.25"/>
<circle class="c0" cx="267.1" cy="630.2" r="4.25"/>
<circle class="c0" cx="417.6" cy="304.8" r="4.25"/>
<circle class="c15" cx="274.9" cy="801.9" r="4.25"/>
<circle class="c0" cx="174.9" cy="362.1" r="4.25"/>
<circle class="c0" cx="232.7" cy="127.1" r="4.25"/>
<circle class="c5" cx="481.1" cy="282.6" r="4.25"/>
<circle class="c0" cx="220.7" cy="279.3" r="4.25"/>
<circle class="c0" cx="194.4" cy="401.9" r="4.25"/>
<circle class="c2" cx="533.2" cy="395.5" r="4.25"/>
<circle class="c0" cx="540.5" cy="411.7" r="4.25"/>
<circle class="c0" cx="200.9" cy="356.8" r="4.25"/>
<circle class="c0" cx="245.6" cy="523.1" r="4.25"/>
<circle class="c0" cx="248.4" cy="485.0" r="4.25"/>
<circle class="c1" cx="506.3" cy="448.4" r="4.25"/>
<circle class="c0" cx="226.3" cy="262.4" r="4.25"/>
<circle class="c0" cx="149.9" cy="511.5" r="4.25"/>
<circle class="c12" cx="476.0" cy="571.0" r="4.25"/>
<circle class="c0" cx="171.1" cy="467.8" r="4.25"/>
<circle class="c9" cx="352.7" cy="362.3" r="4.25"/>
<circle class="c0" cx="495.0" cy="525.9" r="4.25"/>
<circle class="c0" cx="200.9" cy="149.7" r="4.25"/>
<circle class="c0" cx="153.9" cy="115.2" r="4.25"/>
<circle class="c0" cx="219.9" cy="157.6" r="4.25"/>
<circle class="c0" cx="197.0" cy="559.4" r="4.25"/>
<circle class="c0" cx="221.6" cy="450.8" r="4.25"/>
<circle class="c0" cx="548.0" cy="419.7" r="4.25"/>
<circle class="c0" cx="258.5" cy="226.1" r="4.25"/>
<circle class="c15" cx="188.6" cy="525.0" r="4.25"/>
<circle class="c0" cx="184.1" cy="163.2" r="4.25"/>
<circle class="c0" cx="218.0" cy="398.3" r="4.25"/>
<circle class="c0" cx="145.1" cy="554.2" r="4.25"/>
<circle class="c0" cx="237.9" cy="386.4" r="4.25"/>
<circle class="c0" cx="195.3" cy="452.3" r="4.25"/>
<circle class="c0" cx="205.7" cy="719.4" r="4.25"/>
<circle class="c0" cx="218.0" cy="666.8" r="4.25"/>
<circle class="c3" cx="230.8" cy="343.8" r="4.25"/>
<circle class="c0" cx="158.4" cy="387.5" r="4.25"/>
<circle class="c15" cx="529.9" cy="363.0" r="4.25"/>
<circle class="c0" cx="237.4" cy="367.3" r="4.25"/>
<circle class="c0" cx="266.4" cy="183.4" r="4.25"/>
<circle class="c0" cx="178.6" cy="318.6" r="4.25"/>
<circle class="c17" cx="436.9" cy="262.4" r="4.25"/>
<circle class="c0" cx="365.9" cy="738.4" r="4.25"/>
<circle class="c0" cx="167.1" cy="154.3" r="4.25"/>
<circle class="c6" cx="387.8" cy="268.6" r="4.25"/>
<circle class="c0" cx="228.9" cy="249.1" r="4.25"/>
<circle class="c10" cx="451.2" cy="244.5" r="4.25"/>
<circle class="c0" cx="253.0" cy="789.2" r="4.25"/>
<circle class="c0" cx="181.6" cy="383.2" r="4.25"/>
<circle class="c0" cx="245.6" cy="452.8" r="4.25"/>
<circle class="c0" cx="134.1" cy="543.6" r="4.25"/>
<circle class="c0" cx="161.9" cy="363.0" r="4.25"/>
<circle class="c0" cx="250.7" cy="381.2" r="4.25"/>
<circle class="c0" cx="309.7" cy="118.7" r="4.25"/>
<circle class="c0" cx="236.6" cy="204.1" r="4.25"/>
<circle class="c0" cx="267.9" cy="171.2" r="4.25"/>
<circle class="c9" cx="337.0" cy="386.1" r="4.25"/>
<circle class="c0" cx="255.6" cy="656.2" r="4.25"/>
<circle class="c0" cx="146.8" cy="491.6" r="4.25"/>
<circle class="c0" cx="355.9" cy="464.8" r="4.25"/>
<circle class="c0" cx="302.4" cy="109.4" r="4.25"/>
<circle class="c0" cx="256.4" cy="271.6" r="4.25"/>
<circle class="c0" cx="267.4" cy="781.3" r="4.25"/>
<circle class="c0" cx="399.3" cy="688.6" r="4.25"/>
<circle class="c2" cx="172.7" cy="418.8" r="4.25"/>
<circle class="c6" cx="175.6" cy="268.3" r="4.25"/>
<circle class="c0" cx="403.8" cy="527.9" r="4.25"/>
<circle class="c0" cx="173.8" cy="289.0" r="4.25"/>
<circle class="c0" cx="248.6" cy="506.9" r="4.25"/>
<circle class="c8" cx="502.5" cy="463.1" r="4.25"/>
<circle class="c0" cx="348.9" cy="394.7" r="4.25"/>
<circle class="c0" cx="355.3" cy="734.9" r="4.25"/>
<circle class="c0" cx="175.4" cy="477.5" r="4.25"/>
<circle class="c9" cx="524.6" cy="363.7" r="4.25"/>
<circle class="c13" cx="432.4" cy="264.7" r="4.25"/>
<circle class="c14" cx="397.6" cy="229.4" r="4.25"/>
<circle class="c6" cx="474.1" cy="314.2" r="4.25"/>
<circle class="c2" cx="524.4" cy="399.0" r="4.25"/>
<circle class="c0" cx="223.9" cy="214.1" r="4.25"/>
<circle class="c0" cx="204.9" cy="350.4" r="4.25"/>
<circle class="c0" cx="214.1" cy="577.5" r="4.25"/>
<circle class="c13" cx="468.7" cy="242.7" r="4.25"/>
<circle class="c8" cx="327.4" cy="283.3" r="4.25"/>
<circle class="c0" cx="207.1" cy="566.9" r="4.25"/>
<circle class="c0" cx="215.3" cy="529.6" r="4.25"/>
<circle class="c0" cx="254.5" cy="197.3" r="4.25"/>
<circle class="c17" cx="382.4" cy="266.5" r="4.25"/>
<circle class="c0" cx="229.6" cy="57.0" r="4.25"/>
<circle class="c0" cx="223.3" cy="263.3" r="4.25"/>
<circle class="c0" cx="332.1" cy="381.2" r="4.25"/>
<circle class="c0" cx="209.4" cy="559.3" r="4.25"/>
<circle class="c0" cx="197.9" cy="538.0" r="4.25"/>
<circle class="c0" cx="206.1" cy="554.7" r="4.25"/>
<circle class="c0" cx="173.3" cy="370.2" r="4.25"/>
<circle class="c2" cx="193.6" cy="611.4" r="4.25"/>
<circle class="c0" cx="253.3" cy="373.4" r="4.25"/>
<circle class="c15" cx="493.0" cy="325.9" r="4.25"/>
<circle class="c14" cx="421.1" cy="248.2" r="4.25"/>
<circle class="c0" cx="133.0" cy="440.2" r="4.25"/>
<circle class="c0" cx="261.1" cy="765.2" r="4.25"/>
<circle class="c0" cx="254.9" cy="259.1" r="4.25"/>
<circle class="c0" cx="241.2" cy="109.6" r="4.25"/>
<circle class="c1" cx="179.8" cy="337.0" r="4.25"/>
<circle class="c0" cx="245.0" cy="193.2" r="4.25"/>
<circle class="c0" cx="209.3" cy="280.2" r="4.25"/>
<circle class="c0" cx="155.5" cy="346.4" r="4.25"/>
<circle class="c0" cx="478.1" cy="582.9" r="4.25"/>
<circle class="c0" cx="234.7" cy="631.8" r="4.25"/>
<circle class="c0" cx="261.3" cy="621.7" r="4.25"/>
<circle class="c18" cx="394.7" cy="208.8" r="4.25"/>
<circle class="c6" cx="234.2" cy="128.5" r="4.25"/>
<circle class="c0" cx="334.4" cy="365.3" r="4.25"/>
<circle class="c0" cx="166.7" cy="489.7" r="4.25"/>
<circle class="c0" cx="344.2" cy="358.2" r="4.25"/>
<circle class="c0" cx="175.5" cy="390.6" r="4.25"/>
<circle class="c0" cx="128.6" cy="512.8" r="4.25"/>
<circle class="c0" cx="152.0" cy="507.0" r="4.25"/>
<circle class="c0" cx="207.2" cy="568.3" r="4.25"/>
<circle class="c15" cx="186.2" cy="622.2" r="4.25"/>
<circle class="c0" cx="169.8" cy="208.6" r="4.25"/>
<circle class="c0" cx="235.4" cy="446.3" r="4.25"/>
<circle class="c0" cx="151.4" cy="517.3" r="4.25"/>
<circle class="c17" cx="473.0" cy="519.7" r="4.25"/>
<circle class="c0" cx="237.7" cy="530.0" r="4.25"/>
<circle class="c0" cx="203.0" cy="502.4" r="4.25"/>
<circle class="c0" cx="166.3" cy="493.7" r="4.25"/>
<circle class="c15" cx="152.8" cy="159.2" r="4.25"/>
<circle class="c0" cx="220.6" cy="566.6" r="4.25"/>
<circle class="c0" cx="280.9" cy="150.5" r="4.25"/>
<circle class="c0" cx="128.7" cy="446.4" r="4.25"/>
<circle class="c6" cx="166.9" cy="235.8" r="4.25"/>
<circle class="c0" cx="540.9" cy="412.6" r="4.25"/>
<circle class="c0" cx="529.1" cy="430.8" r="4.25"/>
<circle class="c17" cx="430.8" cy="243.1" r="4.25"/>
<circle class="c1" cx="239.4" cy="138.2" r="4.25"/>
<circle class="c0" cx="236.2" cy="622.4" r="4.25"/>
<circle class="c2" cx="131.3" cy="458.5" r="4.25"/>
<circle class="c6" cx="247.7" cy="203.0" r="4.25"/>
<circle class="c2" cx="172.7" cy="472.2" r="4.25"/>
<circle class="c15" cx="460.5" cy="580.2" r="4.25"/>
<circle class="c0" cx="153.6" cy="495.3" r="4.25"/>
<circle class="c0" cx="202.5" cy="573.4" r="4.25"/>
<circle class="c1" cx="489.5" cy="333.3" r="4.25"/>
<circle class="c0" cx="203.0" cy="440.0" r="4.25"/>
<circle class="c0" cx="146.3" cy="515.2" r="4.25"/>
<circle class="c0" cx="273.7" cy="825.5" r="4.25"/>
<circle class="c0" cx="359.1" cy="381.9" r="4.25"/>
<circle class="c0" cx="177.2" cy="362.2" r="4.25"/>
<circle class="c0" cx="231.8" cy="425.5" r="4.25"/>
<circle class="c0" cx="222.5" cy="156.3" r="4.25"/>
<circle class="c6" cx="330.2" cy="660.0" r="4.25"/>
<circle class="c0" cx="224.4" cy="64.0" r="4.25"/>
<circle class="c0" cx="316.7" cy="383.9" r="4.25"/>
<circle class="c15" cx="345.1" cy="353.6" r="4.25"/>
<circle class="c0" cx="535.8" cy="422.9" r="4.25"/>
<circle class="c0" cx="123.4" cy="486.3" r="4.25"/>
<circle class="c2" cx="245.2" cy="791.3" r="4.25"/>
<circle class="c0" cx="211.5" cy="76.1" r="4.25"/>
<circle class="c3" cx="233.2" cy="224.9" r="4.25"/>
<circle class="c0" cx="243.1" cy="474.7" r="4.25"/>
<circle class="c4" cx="375.0" cy="711.0" r="4.25"/>
<circle class="c0" cx="238.0" cy="510.9" r="4.25"/>
<circle class="c15" cx="187.4" cy="491.4" r="4.25"/>
<circle class="c0" cx="402.3" cy="522.4" r="4.25"/>
<circle class="c0" cx="181.7" cy="570.1" r="4.25"/>
<circle class="c0" cx="522.0" cy="417.6" r="4.25"/>
<circle class="c0" cx="184.5" cy="507.9" r="4.25"/>
<circle class="c0" cx="521.1" cy="352.1" r="4.25"/>
<circle class="c0" cx="254.2" cy="698.1" r="4.25"/>
<circle class="c0" cx="203.6" cy="157.2" r="4.25"/>
<circle class="c0" cx="164.8" cy="449.7" r="4.25"/>
<circle class="c0" cx="244.9" cy="650.9" r="4.25"/>
<circle class="c0" cx="218.6" cy="465.3" r="4.25"/>
<circle class="c0" cx="381.4" cy="745.1" r="4.25"/>
<circle class="c3" cx="138.8" cy="483.5" r="4.25"/>
<circle class="c3" cx="189.4" cy="460.4" r="4.25"/>
<circle class="c0" cx="278.1" cy="184.4" r="4.25"/>
<circle class="c0" cx="197.7" cy="384.2" r="4.25"/>
<circle class="c0" cx="113.8" cy="516.6" r="4.25"/>
<circle class="c11" cx="445.2" cy="318.5" r="4.25"/>
<circle class="c11" cx="394.0" cy="243.0" r="4.25"/>
<circle class="c13" cx="433.6" cy="291.4" r="4.25"/>
<circle class="c0" cx="236.6" cy="346.7" r="4.25"/>
<circle class="c0" cx="338.7" cy="734.0" r="4.25"/>
<circle class="c0" cx="174.9" cy="413.5" r="4.25"/>
<circle class="c6" cx="502.5" cy="523.5" r="4.25"/>
<circle class="c0" cx="129.4" cy="522.0" r="4.25"/>
<circle class="c2" cx="321.5" cy="97.0" r="4.25"/>
<circle class="c0" cx="128.0" cy="477.5" r="4.25"/>
<circle class="c0" cx="163.7" cy="449.6" r="4.25"/>
<circle class="c9" cx="306.5" cy="106.1" r="4.25"/>
<circle class="c0" cx="327.7" cy="664.0" r="4.25"/>
<circle class="c0" cx="224.5" cy="361.1" r="4.25"/>
<circle class="c0" cx="205.3" cy="369.8" r="4.25"/>
<circle class="c0" cx="406.3" cy="524.3" r="4.25"/>
<circle class="c0" cx="231.1" cy="105.9" r="4.25"/>
<circle class="c0" cx="216.4" cy="235.3" r="4.25"/>
<circle class="c0" cx="225.2" cy="746.9" r="4.25"/>
<circle class="c15" cx="173.7" cy="75.6" r="4.25"/>
<circle class="c13" cx="485.2" cy="309.8" r="4.25"/>
<circle class="c0" cx="209.7" cy="86.0" r="4.25"/>
<circle class="c0" cx="355.6" cy="753.2" r="4.25"/>
<circle class="c1" cx="322.4" cy="706.2" r="4.25"/>
<circle class="c13" cx="482.3" cy="280.5" r="4.25"/>
<circle class="c0" cx="335.4" cy="387.5" r="4.25"/>
<circle class="c0" cx="256.2" cy="700.0" r="4.25"/>
<circle class="c0" cx="205.4" cy="338.9" r="4.25"/>
<circle class="c0" cx="190.5" cy="630.2" r="4.25"/>
<circle class="c0" cx="405.1" cy="579.6" r="4.25"/>
<circle class="c17" cx="447.5" cy="328.6" r="4.25"/>
<circle class="c0" cx="256.1" cy="787.0" r="4.25"/>
<circle class="c0" cx="169.3" cy="120.6" r="4.25"/>
<circle class="c0" cx="290.5" cy="154.0" r="4.25"/>
<circle class="c17" cx="464.9" cy="247.7" r="4.25"/>
<circle class="c12" cx="330.6" cy="609.9" r="4.25"/>
<circle class="c1" cx="309.7" cy="273.8" r="4.25"/>
<circle class="c10" cx="470.5" cy="248.8" r="4.25"/>
<circle class="c0" cx="220.1" cy="376.7" r="4.25"/>
<circle class="c0" cx="219.7" cy="249.1" r="4.25"/>
<circle class="c15" cx="148.0" cy="480.2" r="4.25"/>
<circle class="c0" cx="134.2" cy="478.3" r="4.25"/>
<circle class="c15" cx="356.0" cy="468.0" r="4.25"/>
<circle class="c3" cx="233.6" cy="556.2" r="4.25"/>
<circle class="c0" cx="129.7" cy="447.5" r="4.25"/>
<circle class="c0" cx="237.7" cy="497.7" r="4.25"/>
<circle class="c0" cx="233.6" cy="256.5" r="4.25"/>
<circle class="c0" cx="216.0" cy="112.7" r="4.25"/>
<circle class="c3" cx="159.2" cy="335.9" r="4.25"/>
<circle class="c0" cx="145.1" cy="410.8" r="4.25"/>
<circle class="c0" cx="206.1" cy="546.7" r="4.25"/>
<circle class="c0" cx="317.6" cy="732.4" r="4.25"/>
<circle class="c15" cx="336.6" cy="240.6" r="4.25"/>
<circle class="c0" cx="228.8" cy="682.4" r="4.25"/>
<circle class="c8" cx="485.0" cy="321.7" r="4.25"/>
<circle class="c0" cx="178.4" cy="391.3" r="4.25"/>
<circle class="c0" cx="215.6" cy="415.3" r="4.25"/>
<circle class="c15" cx="197.9" cy="394.9" r="4.25"/>
<circle class="c8" cx="200.4" cy="187.4" r="4.25"/>
<circle class="c0" cx="274.0" cy="767.1" r="4.25"/>
<circle class="c0" cx="204.6" cy="657.1" r="4.25"/>
<circle class="c0" cx="319.5" cy="393.7" r="4.25"/>
<circle class="c0" cx="407.6" cy="529.1" r="4.25"/>
<circle class="c0" cx="134.6" cy="467.4" r="4.25"/>
<circle class="c0" cx="249.2" cy="692.8" r="4.25"/>
<circle class="c0" cx="182.8" cy="494.9" r="4.25"/>
<circle class="c0" cx="178.1" cy="477.9" r="4.25"/>
<circle class="c6" cx="427.1" cy="320.9" r="4.25"/>
<circle class="c0" cx="268.7" cy="179.3" r="4.25"/>
<circle class="c0" cx="248.7" cy="508.8" r="4.25"/>
<circle class="c0" cx="231.8" cy="181.0" r="4.25"/>
<circle class="c0" cx="240.2" cy="776.8" r="4.25"/>
<circle class="c0" cx="402.0" cy="730.0" r="4.25"/>
<circle class="c0" cx="166.7" cy="499.8" r="4.25"/>
<circle class="c0" cx="232.5" cy="601.8" r="4.25"/>
<circle class="c3" cx="232.9" cy="332.2" r="4.25"/>
<circle class="c0" cx="247.3" cy="212.3" r="4.25"/>
<circle class="c0" cx="178.3" cy="366.4" r="4.25"/>
<circle class="c0" cx="498.5" cy="385.8" r="4.25"/>
<circle class="c2" cx="227.0" cy="481.4" r="4.25"/>
<circle class="c0" cx="169.7" cy="213.6" r="4.25"/>
<circle class="c0" cx="208.1" cy="269.0" r="4.25"/>
<circle class="c0" cx="550.3" cy="385.6" r="4.25"/>
<circle class="c12" cx="170.4" cy="135.1" r="4.25"/>
<circle class="c9" cx="328.8" cy="695.2" r="4.25"/>
<circle class="c0" cx="218.7" cy="422.1" r="4.25"/>
<circle class="c0" cx="337.1" cy="394.4" r="4.25"/>
<circle class="c2" cx="149.6" cy="438.3" r="4.25"/>
<circle class="c2" cx="190.4" cy="445.3" r="4.25"/>
<circle class="c0" cx="166.4" cy="139.0" r="4.25"/>
<circle class="c6" cx="195.6" cy="410.4" r="4.25"/>
<circle class="c17" cx="462.3" cy="483.3" r="4.25"/>
<circle class="c0" cx="357.9" cy="463.2" r="4.25"/>
<circle class="c1" cx="168.0" cy="105.7" r="4.25"/>
<circle class="c0" cx="231.5" cy="536.7" r="4.25"/>
<circle class="c0" cx="181.2" cy="345.0" r="4.25"/>
<circle class="c2" cx="250.4" cy="274.3" r="4.25"/>
<circle class="c0" cx="234.0" cy="606.7" r="4.25"/>
<circle class="c9" cx="335.3" cy="623.1" r="4.25"/>
<circle class="c0" cx="243.6" cy="257.5" r="4.25"/>
<circle class="c12" cx="339.0" cy="264.1" r="4.25"/>
<circle class="c0" cx="171.3" cy="371.0" r="4.25"/>
<circle class="c0" cx="211.8" cy="254.8" r="4.25"/>
<circle class="c0" cx="216.5" cy="166.6" r="4.25"/>
<circle class="c0" cx="207.3" cy="276.9" r="4.25"/>
<circle class="c0" cx="525.9" cy="409.4" r="4.25"/>
<circle class="c0" cx="187.7" cy="165.8" r="4.25"/>
<circle class="c17" cx="454.9" cy="276.5" r="4.25"/>
<circle class="c0" cx="199.9" cy="552.8" r="4.25"/>
<circle class="c0" cx="230.2" cy="439.9" r="4.25"/>
<circle class="c0" cx="187.4" cy="531.3" r="4.25"/>
<circle class="c0" cx="344.9" cy="375.4" r="4.25"/>
<circle class="c1" cx="328.3" cy="304.3" r="4.25"/>
<circle class="c0" cx="176.6" cy="351.1" r="4.25"/>
<circle class="c3" cx="207.6" cy="531.7" r="4.25"/>
<circle class="c0" cx="247.5" cy="386.2" r="4.25"/>
<circle class="c0" cx="183.4" cy="334.6" r="4.25"/>
<circle class="c0" cx="271.1" cy="826.1" r="4.25"/>
<circle class="c0" cx="161.9" cy="269.0" r="4.25"/>
<circle class="c0" cx="215.3" cy="188.7" r="4.25"/>
<circle class="c0" cx="220.9" cy="297.9" r="4.25"/>
<circle class="c0" cx="228.8" cy="158.5" r="4.25"/>
<circle class="c0" cx="191.5" cy="440.9" r="4.25"/>
<circle class="c0" cx="187.4" cy="390.3" r="4.25"/>
<circle class="c0" cx="186.1" cy="530.6" r="4.25"/>
<circle class="c0" cx="203.6" cy="368.0" r="4.25"/>
<circle class="c0" cx="174.3" cy="348.7" r="4.25"/>
<circle class="c0" cx="166.8" cy="383.7" r="4.25"/>
<circle class="c0" cx="328.1" cy="612.7" r="4.25"/>
<circle class="c6" cx="151.4" cy="144.3" r="4.25"/>
<circle class="c0" cx="202.0" cy="252.9" r="4.25"/>
<circle class="c0" cx="196.7" cy="291.0" r="4.25"/>
<circle class="c0" cx="183.6" cy="526.0" r="4.25"/>
<circle class="c0" cx="403.9" cy="523.5" r="4.25"/>
<circle class="c0" cx="266.1" cy="180.1" r="4.25"/>
<circle class="c9" cx="283.5" cy="623.0" r="4.25"/>
<circle class="c0" cx="230.2" cy="201.3" r="4.25"/>
<circle class="c0" cx="167.8" cy="414.2" r="4.25"/>
<circle class="c2" cx="181.1" cy="267.5" r="4.25"/>
<circle class="c0" cx="143.6" cy="543.7" r="4.25"/>
<circle class="c16" cx="475.2" cy="297.6" r="4.25"/>
<circle class="c0" cx="233.3" cy="746.1" r="4.25"/>
<circle class="c0" cx="237.3" cy="406.4" r="4.25"/>
<circle class="c0" cx="227.5" cy="523.3" r="4.25"/>
<circle class="c0" cx="251.2" cy="771.3" r="4.25"/>
<circle class="c2" cx="540.3" cy="430.9" r="4.25"/>
<circle class="c0" cx="209.9" cy="280.6" r="4.25"/>
<circle class="c0" cx="197.0" cy="98.9" r="4.25"/>
<circle class="c12" cx="335.3" cy="269.1" r="4.25"/>
<circle class="c0" cx="221.1" cy="197.8" r="4.25"/>
<circle class="c7" cx="436.8" cy="242.7" r="4.25"/>
<circle class="c0" cx="213.6" cy="467.9" r="4.25"/>
<circle class="c0" cx="176.8" cy="353.7" r="4.25"/>
<circle class="c0" cx="209.3" cy="250.0" r="4.25"/>
<circle class="c0" cx="179.9" cy="269.7" r="4.25"/>
<circle class="c2" cx="219.5" cy="346.5" r="4.25"/>
<circle class="c0" cx="163.8" cy="466.0" r="4.25"/>
<circle class="c0" cx="317.3" cy="711.0" r="4.25"/>
<circle class="c0" cx="157.3" cy="492.3" r="4.25"/>
<circle class="c0" cx="195.0" cy="146.3" r="4.25"/>
<circle class="c0" cx="183.6" cy="557.5" r="4.25"/>
<circle class="c0" cx="150.7" cy="140.8" r="4.25"/>
<circle class="c0" cx="190.6" cy="504.6" r="4.25"/>
<circle class="c0" cx="303.0" cy="721.3" r="4.25"/>
<circle class="c3" cx="164.9" cy="269.7" r="4.25"/>
<circle class="c0" cx="284.6" cy="164.8" r="4.25"/>
<circle class="c0" cx="218.8" cy="490.1" r="4.25"/>
<circle class="c4" cx="424.6" cy="242.2" r="4.25"/>
<circle class="c2" cx="225.0" cy="358.1" r="4.25"/>
<circle class="c0" cx="245.8" cy="630.5" r="4.25"/>
<circle class="c0" cx="190.8" cy="551.0" r="4.25"/>
<circle class="c0" cx="223.3" cy="641.2" r="4.25"/>
<circle class="c0" cx="192.2" cy="264.4" r="4.25"/>
<circle class="c0" cx="236.6" cy="442.6" r="4.25"/>
<circle class="c0" cx="266.2" cy="769.0" r="4.25"/>
<circle class="c0" cx="250.8" cy="306.6" r="4.25"/>
<circle class="c12" cx="493.6" cy="375.1" r="4.25"/>
<circle class="c0" cx="428.5" cy="318.2" r="4.25"/>
<circle class="c0" cx="165.8" cy="69.3" r="4.25"/>
<circle class="c0" cx="156.1" cy="561.4" r="4.25"/>
<circle class="c0" cx="159.0" cy="540.0" r="4.25"/>
<circle class="c6" cx="188.1" cy="378.7" r="4.25"/>
<circle class="c0" cx="536.6" cy="420.5" r="4.25"/>
<circle class="c0" cx="228.0" cy="276.9" r="4.25"/>
<circle class="c9" cx="343.2" cy="377.7" r="4.25"/>
<circle class="c0" cx="170.5" cy="251.3" r="4.25"/>
<circle class="c0" cx="242.5" cy="140.3" r="4.25"/>
<circle class="c0" cx="150.1" cy="496.2" r="4.25"/>
<circle class="c0" cx="170.6" cy="133.2" r="4.25"/>
<circle class="c0" cx="218.9" cy="534.2" r="4.25"/>
<circle class="c0" cx="271.0" cy="259.0" r="4.25"/>
<circle class="c0" cx="167.8" cy="275.9" r="4.25"/>
<circle class="c0" cx="143.9" cy="415.1" r="4.25"/>
<circle class="c3" cx="232.5" cy="661.4" r="4.25"/>
<circle class="c1" cx="337.5" cy="372.3" r="4.25"/>
<circle class="c0" cx="164.5" cy="223.4" r="4.25"/>
<circle class="c6" cx="205.3" cy="429.3" r="4.25"/>
<circle class="c12" cx="486.1" cy="547.5" r="4.25"/>
<circle class="c0" cx="229.6" cy="107.8" r="4.25"/>
<circle class="c1" cx="185.2" cy="536.3" r="4.25"/>
<circle class="c3" cx="145.4" cy="437.4" r="4.25"/>
<circle class="c0" cx="185.0" cy="338.5" r="4.25"/>
<circle class="c0" cx="555.5" cy="389.7" r="4.25"/>
<circle class="c0" cx="537.7" cy="421.7" r="4.25"/>
<circle class="c0" cx="201.5" cy="194.7" r="4.25"/>
<circle class="c0" cx="133.9" cy="518.1" r="4.25"/>
<circle class="c0" cx="333.3" cy="385.7" r="4.25"/>
<circle class="c0" cx="197.8" cy="106.1" r="4.25"/>
<circle class="c0" cx="196.8" cy="429.7" r="4.25"/>
<circle class="c0" cx="133.7" cy="520.6" r="4.25"/>
<circle class="c1" cx="173.3" cy="392.6" r="4.25"/>
<circle class="c0" cx="177.5" cy="571.2" r="4.25"/>
<circle class="c0" cx="153.4" cy="466.9" r="4.25"/>
<circle class="c0" cx="325.0" cy="396.7" r="4.25"/>
<circle class="c3" cx="209.9" cy="519.0" r="4.25"/>
<circle class="c0" cx="168.5" cy="368.1" r="4.25"/>
<circle class="c1" cx="216.6" cy="709.3" r="4.25"/>
<circle class="c8" cx="161.1" cy="78.6" r="4.25"/>
<circle class="c0" cx="192.8" cy="250.7" r="4.25"/>
<circle class="c0" cx="221.1" cy="451.6" r="4.25"/>
<circle class="c0" cx="498.7" cy="472.6" r="4.25"/>
<circle class="c0" cx="348.2" cy="354.6" r="4.25"/>
<circle class="c0" cx="222.0" cy="292.7" r="4.25"/>
<circle class="c0" cx="235.1" cy="144.6" r="4.25"/>
<circle class="c6" cx="223.5" cy="443.5" r="4.25"/>
<circle class="c3" cx="248.7" cy="383.4" r="4.25"/>
<circle class="c0" cx="242.0" cy="94.5" r="4.25"/>
<circle class="c0" cx="121.1" cy="485.9" r="4.25"/>
<circle class="c0" cx="224.1" cy="174.6" r="4.25"/>
<circle class="c0" cx="252.9" cy="612.2" r="4.25"/>
<circle class="c0" cx="231.8" cy="96.6" r="4.25"/>
<circle class="c4" cx="387.3" cy="265.2" r="4.25"/>
<circle class="c1" cx="494.7" cy="430.4" r="4.25"/>
<circle class="c0" cx="195.5" cy="579.5" r="4.25"/>
<circle class="c0" cx="248.9" cy="373.2" r="4.25"/>
<circle class="c0" cx="206.4" cy="163.3" r="4.25"/>
<circle class="c0" cx="177.1" cy="255.0" r="4.25"/>
<circle class="c0" cx="557.1" cy="417.5" r="4.25"/>
<circle class="c0" cx="164.5" cy="489.0" r="4.25"/>
<circle class="c0" cx="215.4" cy="296.2" r="4.25"/>
<circle class="c3" cx="180.9" cy="188.3" r="4.25"/>
<circle class="c0" cx="161.2" cy="464.7" r="4.25"/>
<circle class="c0" cx="141.9" cy="541.0" r="4.25"/>
<circle class="c0" cx="169.2" cy="281.7" r="4.25"/>
<circle class="c15" cx="236.1" cy="80.9" r="4.25"/>
<circle class="c0" cx="225.7" cy="143.0" r="4.25"/>
<circle class="c0" cx="252.6" cy="784.0" r="4.25"/>
<circle class="c0" cx="180.3" cy="221.4" r="4.25"/>
<circle class="c3" cx="201.0" cy="201.0" r="4.25"/>
<circle class="c17" cx="437.2" cy="233.3" r="4.25"/>
<circle class="c0" cx="194.5" cy="501.5" r="4.25"/>
<circle class="c0" cx="236.7" cy="703.5" r="4.25"/>
<circle class="c3" cx="214.0" cy="239.3" r="4.25"/>
<circle class="c1" cx="319.8" cy="702.0" r="4.25"/>
<circle class="c0" cx="197.4" cy="92.1" r="4.25"/>
<circle class="c16" cx="317.4" cy="253.2" r="4.25"/>
<circle class="c16" cx="473.4" cy="281.9" r="4.25"/>
<circle class="c0" cx="193.1" cy="64.0" r="4.25"/>
<circle class="c0" cx="211.8" cy="226.6" r="4.25"/>
<circle class="c0" cx="247.1" cy="298.1" r="4.25"/>
<circle class="c9" cx="329.3" cy="243.3" r="4.25"/>
<circle class="c0" cx="202.4" cy="79.2" r="4.25"/>
<circle class="c0" cx="220.6" cy="256.1" r="4.25"/>
<circle class="c15" cx="180.6" cy="173.2" r="4.25"/>
<circle class="c0" cx="251.2" cy="489.3" r="4.25"/>
<circle class="c4" cx="427.1" cy="243.6" r="4.25"/>
<circle class="c0" cx="222.8" cy="515.0" r="4.25"/>
<circle class="c0" cx="224.1" cy="296.1" r="4.25"/>
<circle class="c0" cx="540.2" cy="393.4" r="4.25"/>
<circle class="c0" cx="262.1" cy="628.7" r="4.25"/>
<circle class="c0" cx="198.3" cy="555.8" r="4.25"/>
<circle class="c0" cx="153.7" cy="406.0" r="4.25"/>
<circle class="c15" cx="275.4" cy="782.3" r="4.25"/>
<circle class="c0" cx="249.3" cy="239.2" r="4.25"/>
<circle class="c0" cx="528.3" cy="399.0" r="4.25"/>
<circle class="c2" cx="218.1" cy="439.2" r="4.25"/>
<circle class="c9" cx="333.5" cy="260.2" r="4.25"/>
<circle class="c13" cx="439.9" cy="240.3" r="4.25"/>
<circle class="c13" cx="481.2" cy="314.5" r="4.25"/>
<circle class="c8" cx="444.5" cy="281.5" r="4.25"/>
<circle class="c0" cx="168.5" cy="103.6" r="4.25"/>
<circle class="c0" cx="471.8" cy="590.7" r="4.25"/>
<circle class="c0" cx="158.2" cy="340.2" r="4.25"/>
<circle class="c12" cx="495.9" cy="559.3" r="4.25"/>
<circle class="c0" cx="170.2" cy="132.9" r="4.25"/>
<circle class="c15" cx="218.0" cy="56.7" r="4.25"/>
<circle class="c0" cx="230.6" cy="497.6" r="4.25"/>
<circle class="c0" cx="224.7" cy="446.9" r="4.25"/>
<circle class="c0" cx="171.4" cy="322.7" r="4.25"/>
<circle class="c0" cx="490.9" cy="556.1" r="4.25"/>
<circle class="c0" cx="190.5" cy="398.2" r="4.25"/>
<circle class="c0" cx="494.8" cy="484.9" r="4.25"/>
<circle class="c0" cx="238.8" cy="640.5" r="4.25"/>
<circle class="c0" cx="166.7" cy="540.9" r="4.25"/>
<circle class="c0" cx="392.1" cy="653.5" r="4.25"/>
<circle class="c6" cx="496.4" cy="422.3" r="4.25"/>
<circle class="c0" cx="385.7" cy="532.4" r="4.25"/>
<circle class="c2" cx="171.4" cy="335.2" r="4.25"/>
<circle class="c0" cx="197.8" cy="83.2" r="4.25"/>
<circle class="c8" cx="485.7" cy="329.5" r="4.25"/>
<circle class="c15" cx="185.3" cy="304.7" r="4.25"/>
<circle class="c0" cx="197.1" cy="150.9" r="4.25"/>
<circle class="c0" cx="222.8" cy="536.6" r="4.25"/>
<circle class="c0" cx="239.6" cy="655.3" r="4.25"/>
<circle class="c0" cx="133.3" cy="528.8" r="4.25"/>
<circle class="c0" cx="235.6" cy="637.1" r="4.25"/>
<circle class="c4" cx="455.3" cy="237.1" r="4.25"/>
<circle class="c0" cx="527.4" cy="420.8" r="4.25"/>
<circle class="c0" cx="244.7" cy="645.1" r="4.25"/>
<circle class="c0" cx="214.7" cy="287.4" r="4.25"/>
<circle class="c0" cx="197.7" cy="391.0" r="4.25"/>
<circle class="c0" cx="239.5" cy="209.0" r="4.25"/>
<circle class="c0" cx="226.7" cy="79.7" r="4.25"/>
<circle class="c0" cx="190.7" cy="464.0" r="4.25"/>
<circle class="c0" cx="243.3" cy="412.0" r="4.25"/>
<circle class="c0" cx="495.5" cy="492.3" r="4.25"/>
<circle class="c0" cx="211.1" cy="294.1" r="4.25"/>
<circle class="c0" cx="200.1" cy="407.1" r="4.25"/>
<circle class="c0" cx="246.1" cy="719.4" r="4.25"/>
<circle class="c0" cx="236.4" cy="738.0" r="4.25"/>
<circle class="c0" cx="178.0" cy="197.6" r="4.25"/>
<circle class="c0" cx="216.9" cy="589.1" r="4.25"/>
<circle class="c3" cx="188.8" cy="138.3" r="4.25"/>
<circle class="c0" cx="246.1" cy="254.6" r="4.25"/>
<circle class="c0" cx="160.6" cy="158.4" r="4.25"/>
<circle class="c1" cx="187.5" cy="206.9" r="4.25"/>
<circle class="c0" cx="127.2" cy="532.6" r="4.25"/>
<circle class="c18" cx="391.4" cy="218.6" r="4.25"/>
<circle class="c13" cx="417.8" cy="262.4" r="4.25"/>
<circle class="c0" cx="213.1" cy="511.6" r="4.25"/>
<circle class="c9" cx="484.2" cy="581.9" r="4.25"/>
<circle class="c0" cx="185.9" cy="246.4" r="4.25"/>
<circle class="c0" cx="321.0" cy="370.7" r="4.25"/>
<circle class="c0" cx="184.4" cy="181.0" r="4.25"/>
<circle class="c9" cx="208.3" cy="492.4" r="4.25"/>
<circle class="c0" cx="202.6" cy="542.1" r="4.25"/>
<circle class="c0" cx="205.1" cy="344.9" r="4.25"/>
<circle class="c0" cx="223.6" cy="515.8" r="4.25"/>
<circle class="c8" cx="499.1" cy="340.1" r="4.25"/>
<circle class="c1" cx="191.2" cy="309.9" r="4.25"/>
<circle class="c0" cx="180.6" cy="308.0" r="4.25"/>
<circle class="c0" cx="171.0" cy="166.8" r="4.25"/>
<circle class="c0" cx="215.3" cy="404.4" r="4.25"/>
<circle class="c2" cx="184.3" cy="557.6" r="4.25"/>
<circle class="c0" cx="170.3" cy="504.9" r="4.25"/>
<circle class="c0" cx="483.1" cy="581.6" r="4.25"/>
<circle class="c0" cx="155.2" cy="108.5" r="4.25"/>
<circle class="c0" cx="209.4" cy="724.2" r="4.25"/>
<circle class="c0" cx="273.8" cy="785.3" r="4.25"/>
<circle class="c3" cx="176.4" cy="239.2" r="4.25"/>
<circle class="c0" cx="263.8" cy="664.7" r="4.25"/>
<circle class="c11" cx="424.3" cy="236.7" r="4.25"/>
<circle class="c0" cx="186.3" cy="572.4" r="4.25"/>
<circle class="c0" cx="486.8" cy="567.4" r="4.25"/>
<circle class="c15" cx="213.6" cy="393.3" r="4.25"/>
<circle class="c0" cx="242.9" cy="688.7" r="4.25"/>
<circle class="c1" cx="164.0" cy="438.3" r="4.25"/>
<circle class="c2" cx="227.5" cy="447.0" r="4.25"/>
<circle class="c3" cx="215.1" cy="300.6" r="4.25"/>
<circle class="c0" cx="273.0" cy="179.8" r="4.25"/>
<circle class="c0" cx="223.3" cy="379.4" r="4.25"/>
<circle class="c9" cx="171.9" cy="364.4" r="4.25"/>
<circle class="c0" cx="340.7" cy="621.7" r="4.25"/>
<circle class="c2" cx="214.0" cy="216.3" r="4.25"/>
<circle class="c0" cx="210.1" cy="151.3" r="4.25"/>
<circle class="c0" cx="167.5" cy="264.8" r="4.25"/>
<circle class="c0" cx="527.2" cy="404.0" r="4.25"/>
<circle class="c0" cx="411.2" cy="534.4" r="4.25"/>
<circle class="c0" cx="178.8" cy="405.0" r="4.25"/>
<circle class="c3" cx="209.0" cy="183.6" r="4.25"/>
<circle class="c1" cx="337.5" cy="297.4" r="4.25"/>
<circle class="c0" cx="395.0" cy="712.0" r="4.25"/>
<circle class="c6" cx="153.7" cy="123.9" r="4.25"/>
<circle class="c1" cx="186.0" cy="60.0" r="4.25"/>
<circle class="c0" cx="239.4" cy="440.7" r="4.25"/>
<circle class="c0" cx="199.8" cy="286.9" r="4.25"/>
<circle class="c16" cx="452.3" cy="243.2" r="4.25"/>
<circle class="c0" cx="220.2" cy="354.8" r="4.25"/>
<circle class="c3" cx="248.0" cy="201.8" r="4.25"/>
<circle class="c0" cx="287.8" cy="790.9" r="4.25"/>
<circle class="c0" cx="212.2" cy="529.0" r="4.25"/>
<circle class="c0" cx="342.2" cy="364.5" r="4.25"/>
<circle class="c0" cx="201.5" cy="576.1" r="4.25"/>
<circle class="c0" cx="237.3" cy="499.9" r="4.25"/>
<circle class="c0" cx="183.0" cy="518.1" r="4.25"/>
<circle class="c0" cx="144.9" cy="396.6" r="4.25"/>
<circle class="c0" cx="194.5" cy="352.8" r="4.25"/>
<circle class="c0" cx="356.5" cy="395.8" r="4.25"/>
<circle class="c0" cx="180.2" cy="406.3" r="4.25"/>
<circle class="c0" cx="236.1" cy="253.0" r="4.25"/>
<circle class="c0" cx="186.7" cy="630.8" r="4.25"/>
<circle class="c0" cx="307.3" cy="257.8" r="4.25"/>
<circle class="c0" cx="244.4" cy="538.0" r="4.25"/>
<circle class="c3" cx="214.4" cy="415.6" r="4.25"/>
<circle class="c0" cx="234.0" cy="89.9" r="4.25"/>
<circle class="c0" cx="182.5" cy="276.3" r="4.25"/>
<circle class="c0" cx="538.7" cy="425.9" r="4.25"/>
<circle class="c0" cx="231.3" cy="765.6" r="4.25"/>
<circle class="c0" cx="239.3" cy="254.8" r="4.25"/>
<circle class="c0" cx="182.4" cy="404.1" r="4.25"/>
<circle class="c0" cx="150.7" cy="531.7" r="4.25"/>
<circle class="c0" cx="199.5" cy="367.0" r="4.25"/>
<circle class="c0" cx="525.9" cy="411.8" r="4.25"/>
<circle class="c3" cx="216.5" cy="296.7" r="4.25"/>
<circle class="c9" cx="270.1" cy="626.8" r="4.25"/>
<circle class="c0" cx="221.3" cy="262.3" r="4.25"/>
<circle class="c0" cx="543.6" cy="428.9" r="4.25"/>
<circle class="c3" cx="201.9" cy="408.9" r="4.25"/>
<circle class="c0" cx="316.4" cy="110.4" r="4.25"/>
<circle class="c0" cx="216.3" cy="164.0" r="4.25"/>
<circle class="c0" cx="174.5" cy="568.4" r="4.25"/>
<circle class="c0" cx="180.8" cy="532.6" r="4.25"/>
<circle class="c0" cx="345.2" cy="381.1" r="4.25"/>
<circle class="c0" cx="234.9" cy="725.8" r="4.25"/>
<circle class="c0" cx="192.4" cy="259.0" r="4.25"/>
<circle class="c0" cx="203.8" cy="129.8" r="4.25"/>
<circle class="c0" cx="246.5" cy="427.4" r="4.25"/>
<circle class="c0" cx="173.0" cy="68.7" r="4.25"/>
<circle class="c12" cx="256.4" cy="753.4" r="4.25"/>
<circle class="c0" cx="402.4" cy="524.6" r="4.25"/>
<circle class="c9" cx="256.7" cy="773.2" r="4.25"/>
<circle class="c0" cx="114.9" cy="492.6" r="4.25"/>
<circle class="c1" cx="215.4" cy="220.9" r="4.25"/>
<circle class="c1" cx="250.1" cy="512.3" r="4.25"/>
<circle class="c0" cx="260.7" cy="812.9" r="4.25"/>
<circle class="c0" cx="260.6" cy="622.4" r="4.25"/>
<circle class="c0" cx="191.9" cy="482.3" r="4.25"/>
<circle class="c0" cx="192.6" cy="533.6" r="4.25"/>
<circle class="c2" cx="270.1" cy="800.0" r="4.25"/>
<circle class="c17" cx="446.6" cy="255.1" r="4.25"/>
<circle class="c0" cx="211.7" cy="312.6" r="4.25"/>
<circle class="c0" cx="156.9" cy="490.3" r="4.25"/>
<circle class="c12" cx="502.7" cy="457.1" r="4.25"/>
<circle class="c0" cx="530.6" cy="410.5" r="4.25"/>
<circle class="c0" cx="198.0" cy="440.5" r="4.25"/>
<circle class="c0" cx="521.5" cy="423.6" r="4.25"/>
<circle class="c0" cx="222.3" cy="325.2" r="4.25"/>
<circle class="c17" cx="441.9" cy="302.1" r="4.25"/>
<circle class="c9" cx="317.4" cy="256.1" r="4.25"/>
<circle class="c0" cx="199.5" cy="431.5" r="4.25"/>
<circle class="c0" cx="223.4" cy="384.1" r="4.25"/>
<circle class="c0" cx="149.9" cy="380.7" r="4.25"/>
<circle class="c0" cx="274.8" cy="757.1" r="4.25"/>
<circle class="c0" cx="228.2" cy="188.6" r="4.25"/>
<circle class="c3" cx="231.8" cy="342.8" r="4.25"/>
<circle class="c0" cx="140.4" cy="485.6" r="4.25"/>
<circle class="c0" cx="221.7" cy="294.9" r="4.25"/>
<circle class="c0" cx="249.9" cy="501.2" r="4.25"/>
<circle class="c0" cx="255.1" cy="634.9" r="4.25"/>
<circle class="c0" cx="274.4" cy="749.1" r="4.25"/>
<circle class="c0" cx="188.2" cy="422.7" r="4.25"/>
<circle class="c0" cx="192.0" cy="272.8" r="4.25"/>
<circle class="c0" cx="220.8" cy="127.1" r="4.25"/>
<circle class="c2" cx="325.1" cy="228.0" r="4.25"/>
<circle class="c3" cx="171.5" cy="329.0" r="4.25"/>
<circle class="c0" cx="178.1" cy="358.5" r="4.25"/>
<circle class="c0" cx="223.3" cy="336.3" r="4.25"/>
<circle class="c0" cx="190.2" cy="313.2" r="4.25"/>
<circle class="c2" cx="337.6" cy="382.9" r="4.25"/>
<circle class="c0" cx="216.2" cy="444.3" r="4.25"/>
<circle class="c0" cx="151.2" cy="444.6" r="4.25"/>
<circle class="c0" cx="146.1" cy="377.2" r="4.25"/>
<circle class="c0" cx="161.7" cy="181.1" r="4.25"/>
<circle class="c0" cx="530.2" cy="422.6" r="4.25"/>
<circle class="c2" cx="326.0" cy="231.2" r="4.25"/>
<circle class="c0" cx="213.2" cy="335.2" r="4.25"/>
<circle class="c0" cx="210.6" cy="153.5" r="4.25"/>
<circle class="c0" cx="500.7" cy="461.0" r="4.25"/>
<circle class="c0" cx="240.4" cy="359.7" r="4.25"/>
<circle class="c0" cx="351.1" cy="461.4" r="4.25"/>
<circle class="c0" cx="176.5" cy="293.6" r="4.25"/>
<circle class="c0" cx="238.5" cy="634.6" r="4.25"/>
<circle class="c15" cx="473.1" cy="512.7" r="4.25"/>
<circle class="c0" cx="541.4" cy="408.8" r="4.25"/>
<circle class="c0" cx="208.7" cy="139.1" r="4.25"/>
<circle class="c9" cx="221.9" cy="365.1" r="4.25"/>
<circle class="c0" cx="239.8" cy="308.1" r="4.25"/>
<circle class="c8" cx="283.0" cy="234.0" r="4.25"/>
<circle class="c0" cx="187.3" cy="453.0" r="4.25"/>
<circle class="c0" cx="184.8" cy="568.1" r="4.25"/>
<circle class="c0" cx="219.2" cy="126.4" r="4.25"/>
<circle class="c0" cx="244.9" cy="472.6" r="4.25"/>
<circle class="c0" cx="304.3" cy="107.2" r="4.25"/>
<circle class="c10" cx="469.1" cy="276.9" r="4.25"/>
<circle class="c3" cx="202.0" cy="533.7" r="4.25"/>
<circle class="c1" cx="535.4" cy="348.1" r="4.25"/>
<circle class="c9" cx="250.1" cy="392.8" r="4.25"/>
<circle class="c0" cx="124.5" cy="534.9" r="4.25"/>
<circle class="c0" cx="232.7" cy="247.5" r="4.25"/>
<circle class="c10" cx="381.1" cy="256.4" r="4.25"/>
<circle class="c0" cx="151.4" cy="533.3" r="4.25"/>
<circle class="c0" cx="232.0" cy="406.7" r="4.25"/>
<circle class="c0" cx="150.4" cy="559.8" r="4.25"/>
<circle class="c9" cx="495.6" cy="496.0" r="4.25"/>
<circle class="c0" cx="170.1" cy="487.1" r="4.25"/>
<circle class="c1" cx="310.0" cy="117.0" r="4.25"/>
<circle class="c0" cx="175.5" cy="513.1" r="4.25"/>
<circle class="c0" cx="528.5" cy="409.2" r="4.25"/>
<circle class="c13" cx="335.6" cy="233.1" r="4.25"/>
<circle class="c0" cx="243.1" cy="431.7" r="4.25"/>
<circle class="c3" cx="209.3" cy="674.6" r="4.25"/>
<circle class="c4" cx="434.6" cy="290.6" r="4.25"/>
<circle class="c0" cx="194.5" cy="404.5" r="4.25"/>
<circle class="c0" cx="185.4" cy="164.7" r="4.25"/>
<circle class="c1" cx="192.9" cy="369.3" r="4.25"/>
<circle class="c0" cx="238.5" cy="277.2" r="4.25"/>
<circle class="c0" cx="155.2" cy="497.4" r="4.25"/>
<circle class="c0" cx="370.9" cy="727.2" r="4.25"/>
<circle class="c0" cx="229.5" cy="504.7" r="4.25"/>
<circle class="c0" cx="171.8" cy="232.6" r="4.25"/>
<circle class="c0" cx="157.3" cy="560.4" r="4.25"/>
<circle class="c0" cx="539.0" cy="382.9" r="4.25"/>
<circle class="c0" cx="209.1" cy="611.1" r="4.25"/>
<circle class="c0" cx="521.6" cy="354.2" r="4.25"/>
<circle class="c0" cx="235.3" cy="89.8" r="4.25"/>
<circle class="c2" cx="499.7" cy="429.8" r="4.25"/>
<circle class="c0" cx="185.7" cy="266.9" r="4.25"/>
<circle class="c0" cx="527.6" cy="353.5" r="4.25"/>
<circle class="c0" cx="230.2" cy="83.0" r="4.25"/>
<circle class="c0" cx="256.1" cy="620.7" r="4.25"/>
<circle class="c2" cx="183.5" cy="365.3" r="4.25"/>
<circle class="c0" cx="233.5" cy="588.7" r="4.25"/>
<circle class="c0" cx="249.2" cy="363.7" r="4.25"/>
<circle class="c0" cx="188.4" cy="175.3" r="4.25"/>
<circle class="c0" cx="185.0" cy="353.7" r="4.25"/>
<circle class="c6" cx="330.6" cy="230.9" r="4.25"/>
<circle class="c0" cx="163.1" cy="313.8" r="4.25"/>
<circle class="c0" cx="142.1" cy="427.2" r="4.25"/>
<circle class="c0" cx="188.8" cy="493.3" r="4.25"/>
<circle class="c0" cx="224.6" cy="445.1" r="4.25"/>
<circle class="c9" cx="498.0" cy="389.3" r="4.25"/>
<circle class="c0" cx="500.5" cy="366.7" r="4.25"/>
<circle class="c0" cx="311.6" cy="114.7" r="4.25"/>
<circle class="c0" cx="243.7" cy="550.5" r="4.25"/>
<circle class="c0" cx="219.0" cy="498.5" r="4.25"/>
<circle class="c0" cx="165.4" cy="245.4" r="4.25"/>
<circle class="c1" cx="145.5" cy="456.3" r="4.25"/>
<circle class="c0" cx="144.6" cy="462.4" r="4.25"/>
<circle class="c0" cx="505.0" cy="513.1" r="4.25"/>
<circle class="c0" cx="314.3" cy="245.1" r="4.25"/>
<circle class="c0" cx="329.8" cy="393.9" r="4.25"/>
<circle class="c0" cx="229.6" cy="304.1" r="4.25"/>
<circle class="c0" cx="235.4" cy="720.2" r="4.25"/>
<circle class="c0" cx="225.4" cy="192.5" r="4.25"/>
<circle class="c0" cx="273.1" cy="785.4" r="4.25"/>
<circle class="c0" cx="229.4" cy="756.3" r="4.25"/>
<circle class="c0" cx="234.2" cy="241.8" r="4.25"/>
<circle class="c0" cx="185.9" cy="146.7" r="4.25"/>
<circle class="c0" cx="250.4" cy="221.9" r="4.25"/>
<circle class="c0" cx="239.9" cy="206.0" r="4.25"/>
<circle class="c0" cx="161.5" cy="261.4" r="4.25"/>
<circle class="c0" cx="237.9" cy="117.4" r="4.25"/>
<circle class="c12" cx="469.1" cy="501.4" r="4.25"/>
<circle class="c0" cx="234.2" cy="234.9" r="4.25"/>
<circle class="c0" cx="240.1" cy="457.5" r="4.25"/>
<circle class="c10" cx="461.4" cy="251.8" r="4.25"/>
<circle class="c0" cx="185.0" cy="155.5" r="4.25"/>
<circle class="c0" cx="208.5" cy="502.7" r="4.25"/>
<circle class="c0" cx="209.4" cy="642.6" r="4.25"/>
<circle class="c0" cx="232.7" cy="554.6" r="4.25"/>
<circle class="c8" cx="173.5" cy="354.9" r="4.25"/>
<circle class="c0" cx="164.8" cy="349.3" r="4.25"/>
<circle class="c12" cx="213.8" cy="121.6" r="4.25"/>
<circle class="c0" cx="300.3" cy="128.3" r="4.25"/>
<circle class="c0" cx="209.4" cy="577.3" r="4.25"/>
<circle class="c0" cx="190.0" cy="565.5" r="4.25"/>
<circle class="c0" cx="259.7" cy="175.2" r="4.25"/>
<circle class="c0" cx="330.9" cy="405.8" r="4.25"/>
<circle class="c0" cx="173.5" cy="397.6" r="4.25"/>
<circle class="c0" cx="308.7" cy="104.2" r="4.25"/>
<circle class="c0" cx="221.6" cy="482.6" r="4.25"/>
<circle class="c13" cx="487.1" cy="321.7" r="4.25"/>
<circle class="c0" cx="214.8" cy="289.2" r="4.25"/>
<circle class="c0" cx="234.3" cy="476.8" r="4.25"/>
<circle class="c3" cx="184.0" cy="302.5" r="4.25"/>
<circle class="c0" cx="208.5" cy="448.7" r="4.25"/>
<circle class="c0" cx="189.3" cy="65.5" r="4.25"/>
<circle class="c0" cx="236.9" cy="412.0" r="4.25"/>
<circle class="c0" cx="216.3" cy="117.2" r="4.25"/>
<circle class="c0" cx="233.1" cy="655.0" r="4.25"/>
<circle class="c0" cx="231.6" cy="726.0" r="4.25"/>
<circle class="c0" cx="165.1" cy="76.9" r="4.25"/>
<circle class="c0" cx="180.1" cy="355.2" r="4.25"/>
<circle class="c0" cx="198.5" cy="547.6" r="4.25"/>
<circle class="c3" cx="177.6" cy="438.9" r="4.25"/>
<circle class="c16" cx="332.5" cy="253.6" r="4.25"/>
<circle class="c0" cx="498.0" cy="462.9" r="4.25"/>
<circle class="c0" cx="209.1" cy="280.3" r="4.25"/>
<circle class="c0" cx="213.3" cy="381.8" r="4.25"/>
<circle class="c0" cx="241.1" cy="182.7" r="4.25"/>
<circle class="c0" cx="204.4" cy="366.9" r="4.25"/>
<circle class="c15" cx="177.7" cy="529.3" r="4.25"/>
<circle class="c0" cx="169.1" cy="540.1" r="4.25"/>
<circle class="c0" cx="210.0" cy="582.6" r="4.25"/>
<circle class="c0" cx="161.9" cy="389.2" r="4.25"/>
<circle class="c0" cx="225.1" cy="143.7" r="4.25"/>
<circle class="c12" cx="487.8" cy="401.1" r="4.25"/>
<circle class="c3" cx="197.3" cy="338.5" r="4.25"/>
<circle class="c0" cx="217.6" cy="312.3" r="4.25"/>
<circle class="c1" cx="529.8" cy="399.5" r="4.25"/>
<circle class="c0" cx="221.1" cy="302.4" r="4.25"/>
<circle class="c2" cx="159.2" cy="420.6" r="4.25"/>
<circle class="c0" cx="169.4" cy="531.4" r="4.25"/>
<circle class="c5" cx="438.9" cy="269.4" r="4.25"/>
<circle class="c0" cx="214.9" cy="350.3" r="4.25"/>
<circle class="c0" cx="184.9" cy="168.1" r="4.25"/>
<circle class="c17" cx="373.5" cy="203.5" r="4.25"/>
<circle class="c0" cx="148.5" cy="538.1" r="4.25"/>
<circle class="c3" cx="168.3" cy="127.8" r="4.25"/>
<circle class="c13" cx="345.8" cy="220.4" r="4.25"/>
<circle class="c0" cx="234.3" cy="145.4" r="4.25"/>
<circle class="c6" cx="240.3" cy="480.8" r="4.25"/>
<circle class="c0" cx="154.8" cy="161.7" r="4.25"/>
<circle class="c0" cx="214.6" cy="291.2" r="4.25"/>
<circle class="c0" cx="463.0" cy="589.4" r="4.25"/>
<circle class="c0" cx="225.9" cy="537.6" r="4.25"/>
<circle class="c0" cx="475.4" cy="589.5" r="4.25"/>
<circle class="c0" cx="263.8" cy="760.6" r="4.25"/>
<circle class="c0" cx="239.2" cy="105.2" r="4.25"/>
<circle class="c0" cx="219.6" cy="278.9" r="4.25"/>
<circle class="c1" cx="261.0" cy="809.7" r="4.25"/>
<circle class="c0" cx="214.4" cy="331.0" r="4.25"/>
<circle class="c0" cx="249.7" cy="226.6" r="4.25"/>
<circle class="c15" cx="264.5" cy="629.7" r="4.25"/>
<circle class="c0" cx="330.7" cy="618.6" r="4.25"/>
<circle class="c3" cx="155.3" cy="470.8" r="4.25"/>
<circle class="c0" cx="207.9" cy="107.1" r="4.25"/>
<circle class="c0" cx="273.3" cy="152.3" r="4.25"/>
<circle class="c6" cx="162.2" cy="101.8" r="4.25"/>
<circle class="c0" cx="197.5" cy="573.1" r="4.25"/>
<circle class="c5" cx="450.9" cy="327.6" r="4.25"/>
<circle class="c0" cx="207.2" cy="288.6" r="4.25"/>
<circle class="c0" cx="257.3" cy="621.1" r="4.25"/>
<circle class="c0" cx="310.8" cy="112.3" r="4.25"/>
<circle class="c12" cx="137.7" cy="447.3" r="4.25"/>
<circle class="c13" cx="491.6" cy="342.1" r="4.25"/>
<circle class="c15" cx="244.7" cy="245.6" r="4.25"/>
<circle class="c7" cx="385.6" cy="204.5" r="4.25"/>
<circle class="c0" cx="177.5" cy="185.0" r="4.25"/>
<circle class="c18" cx="399.6" cy="212.7" r="4.25"/>
<circle class="c0" cx="201.5" cy="167.6" r="4.25"/>
<circle class="c0" cx="153.6" cy="490.2" r="4.25"/>
<circle class="c0" cx="139.2" cy="432.2" r="4.25"/>
<circle class="c0" cx="160.0" cy="148.8" r="4.25"/>
<circle class="c9" cx="217.8" cy="223.0" r="4.25"/>
<circle class="c15" cx="190.7" cy="564.0" r="4.25"/>
<circle class="c0" cx="294.5" cy="126.7" r="4.25"/>
<circle class="c0" cx="230.6" cy="717.7" r="4.25"/>
<circle class="c0" cx="242.5" cy="655.4" r="4.25"/>
<circle class="c1" cx="536.1" cy="394.2" r="4.25"/>
<circle class="c3" cx="174.6" cy="204.4" r="4.25"/>
<circle class="c0" cx="240.4" cy="243.1" r="4.25"/>
<circle class="c6" cx="160.3" cy="561.5" r="4.25"/>
<circle class="c0" cx="161.8" cy="424.7" r="4.25"/>
<circle class="c17" cx="443.7" cy="336.5" r="4.25"/>
<circle class="c0" cx="216.2" cy="291.6" r="4.25"/>
<circle class="c0" cx="487.5" cy="550.2" r="4.25"/>
<circle class="c0" cx="243.3" cy="750.3" r="4.25"/>
<circle class="c0" cx="501.9" cy="486.9" r="4.25"/>
<circle class="c0" cx="345.4" cy="378.6" r="4.25"/>
<circle class="c0" cx="133.9" cy="550.9" r="4.25"/>
<circle class="c0" cx="532.8" cy="428.8" r="4.25"/>
<circle class="c0" cx="315.6" cy="100.7" r="4.25"/>
<circle class="c0" cx="276.3" cy="184.9" r="4.25"/>
<circle class="c0" cx="231.4" cy="725.1" r="4.25"/>
<circle class="c0" cx="210.4" cy="269.7" r="4.25"/>
<circle class="c0" cx="227.3" cy="449.7" r="4.25"/>
<circle class="c0" cx="410.0" cy="524.8" r="4.25"/>
<circle class="c0" cx="192.3" cy="205.3" r="4.25"/>
<circle class="c9" cx="228.3" cy="366.8" r="4.25"/>
<circle class="c12" cx="159.2" cy="149.6" r="4.25"/>
<circle class="c6" cx="307.5" cy="284.9" r="4.25"/>
<circle class="c0" cx="188.6" cy="496.3" r="4.25"/>
<circle class="c6" cx="159.0" cy="539.4" r="4.25"/>
<circle class="c3" cx="230.2" cy="95.4" r="4.25"/>
<circle class="c0" cx="361.6" cy="722.5" r="4.25"/>
<circle class="c0" cx="176.6" cy="315.8" r="4.25"/>
<circle class="c0" cx="217.8" cy="172.4" r="4.25"/>
<circle class="c0" cx="220.0" cy="138.9" r="4.25"/>
<circle class="c0" cx="156.1" cy="517.5" r="4.25"/>
<circle class="c0" cx="501.4" cy="442.5" r="4.25"/>
<circle class="c15" cx="217.8" cy="667.0" r="4.25"/>
<circle class="c10" cx="452.2" cy="327.2" r="4.25"/>
<circle class="c0" cx="249.8" cy="246.2" r="4.25"/>
<circle class="c0" cx="264.0" cy="826.9" r="4.25"/>
<circle class="c0" cx="362.4" cy="754.0" r="4.25"/>
<circle class="c3" cx="288.9" cy="137.9" r="4.25"/>
<circle class="c0" cx="178.4" cy="178.1" r="4.25"/>
<circle class="c4" cx="449.4" cy="242.4" r="4.25"/>
<circle class="c0" cx="204.3" cy="219.4" r="4.25"/>
<circle class="c0" cx="248.0" cy="776.8" r="4.25"/>
<circle class="c0" cx="525.5" cy="395.1" r="4.25"/>
<circle class="c13" cx="456.8" cy="251.3" r="4.25"/>
<circle class="c15" cx="422.7" cy="309.2" r="4.25"/>
<circle class="c0" cx="271.2" cy="659.9" r="4.25"/>
<circle class="c0" cx="220.3" cy="265.2" r="4.25"/>
<circle class="c1" cx="324.0" cy="392.4" r="4.25"/>
<circle class="c0" cx="159.5" cy="120.3" r="4.25"/>
<circle class="c0" cx="155.8" cy="548.4" r="4.25"/>
<circle class="c0" cx="161.4" cy="98.7" r="4.25"/>
<circle class="c0" cx="215.5" cy="266.3" r="4.25"/>
<circle class="c0" cx="201.5" cy="132.9" r="4.25"/>
<circle class="c0" cx="267.3" cy="783.5" r="4.25"/>
<circle class="c0" cx="239.6" cy="748.1" r="4.25"/>
<circle class="c0" cx="242.4" cy="198.8" r="4.25"/>
<circle class="c0" cx="273.9" cy="812.2" r="4.25"/>
<circle class="c0" cx="229.7" cy="271.1" r="4.25"/>
<circle class="c0" cx="408.6" cy="530.8" r="4.25"/>
<circle class="c0" cx="334.0" cy="689.6" r="4.25"/>
<circle class="c0" cx="358.6" cy="363.9" r="4.25"/>
<circle class="c0" cx="214.4" cy="687.7" r="4.25"/>
<circle class="c6" cx="499.2" cy="381.0" r="4.25"/>
<circle class="c0" cx="226.3" cy="265.1" r="4.25"/>
<circle class="c0" cx="178.5" cy="320.6" r="4.25"/>
<circle class="c0" cx="336.9" cy="711.6" r="4.25"/>
<circle class="c0" cx="199.5" cy="263.7" r="4.25"/>
<circle class="c0" cx="281.0" cy="625.9" r="4.25"/>
<circle class="c0" cx="169.0" cy="517.3" r="4.25"/>
<circle class="c0" cx="163.8" cy="110.5" r="4.25"/>
<circle class="c0" cx="184.3" cy="413.3" r="4.25"/>
<circle class="c0" cx="194.7" cy="425.5" r="4.25"/>
<circle class="c1" cx="213.2" cy="508.2" r="4.25"/>
<circle class="c0" cx="251.8" cy="455.6" r="4.25"/>
<circle class="c12" cx="245.1" cy="514.8" r="4.25"/>
<circle class="c0" cx="138.6" cy="535.4" r="4.25"/>
<circle class="c0" cx="169.0" cy="405.3" r="4.25"/>
<circle class="c2" cx="204.8" cy="469.2" r="4.25"/>
<circle class="c0" cx="154.8" cy="83.7" r="4.25"/>
<circle class="c1" cx="522.2" cy="366.6" r="4.25"/>
<circle class="c0" cx="137.6" cy="446.0" r="4.25"/>
<circle class="c3" cx="241.0" cy="500.4" r="4.25"/>
<circle class="c0" cx="186.5" cy="451.6" r="4.25"/>
<circle class="c0" cx="251.5" cy="239.6" r="4.25"/>
<circle class="c0" cx="216.9" cy="434.0" r="4.25"/>
<circle class="c7" cx="403.8" cy="219.4" r="4.25"/>
<circle class="c0" cx="266.9" cy="180.9" r="4.25"/>
<circle class="c9" cx="183.6" cy="169.2" r="4.25"/>
<circle class="c11" cx="465.8" cy="272.2" r="4.25"/>
<circle class="c1" cx="348.8" cy="351.3" r="4.25"/>
<circle class="c0" cx="159.9" cy="211.7" r="4.25"/>
<circle class="c12" cx="161.7" cy="450.7" r="4.25"/>
<circle class="c0" cx="414.6" cy="600.8" r="4.25"/>
<circle class="c15" cx="284.0" cy="187.0" r="4.25"/>
<circle class="c15" cx="353.0" cy="403.9" r="4.25"/>
<circle class="c0" cx="219.2" cy="407.9" r="4.25"/>
<circle class="c0" cx="137.5" cy="445.5" r="4.25"/>
<circle class="c0" cx="247.2" cy="378.4" r="4.25"/>
<circle class="c3" cx="291.7" cy="165.6" r="4.25"/>
<circle class="c0" cx="234.7" cy="540.0" r="4.25"/>
<circle class="c0" cx="359.6" cy="371.6" r="4.25"/>
<circle class="c0" cx="340.0" cy="620.6" r="4.25"/>
<circle class="c0" cx="338.6" cy="317.8" r="4.25"/>
<circle class="c0" cx="216.0" cy="584.7" r="4.25"/>
<circle class="c0" cx="356.5" cy="372.6" r="4.25"/>
<circle class="c0" cx="240.1" cy="476.6" r="4.25"/>
<circle class="c0" cx="236.4" cy="635.1" r="4.25"/>
<circle class="c0" cx="261.0" cy="650.2" r="4.25"/>
<circle class="c0" cx="152.8" cy="380.5" r="4.25"/>
<circle class="c5" cx="396.7" cy="226.4" r="4.25"/>
<circle class="c0" cx="156.0" cy="118.9" r="4.25"/>
<circle class="c1" cx="217.9" cy="323.1" r="4.25"/>
<circle class="c0" cx="113.1" cy="503.3" r="4.25"/>
<circle class="c0" cx="216.9" cy="589.6" r="4.25"/>
<circle class="c12" cx="174.7" cy="192.8" r="4.25"/>
<circle class="c2" cx="211.6" cy="101.2" r="4.25"/>
<circle class="c0" cx="321.9" cy="369.1" r="4.25"/>
<circle class="c17" cx="483.6" cy="326.7" r="4.25"/>
<circle class="c0" cx="191.9" cy="390.1" r="4.25"/>
<circle class="c10" cx="466.0" cy="479.0" r="4.25"/>
<circle class="c2" cx="238.3" cy="156.4" r="4.25"/>
<circle class="c0" cx="266.3" cy="830.9" r="4.25"/>
<circle class="c0" cx="358.8" cy="382.2" r="4.25"/>
<circle class="c4" cx="324.0" cy="248.3" r="4.25"/>
<circle class="c11" cx="477.4" cy="376.5" r="4.25"/>
<circle class="c0" cx="183.5" cy="122.2" r="4.25"/>
<circle class="c0" cx="169.5" cy="284.6" r="4.25"/>
<circle class="c0" cx="216.6" cy="67.3" r="4.25"/>
<circle class="c0" cx="189.9" cy="173.5" r="4.25"/>
<circle class="c0" cx="231.0" cy="469.4" r="4.25"/>
<circle class="c0" cx="144.3" cy="440.8" r="4.25"/>
<circle class="c0" cx="474.3" cy="298.2" r="4.25"/>
<circle class="c0" cx="188.3" cy="151.3" r="4.25"/>
<circle class="c0" cx="353.9" cy="427.4" r="4.25"/>
<circle class="c12" cx="314.5" cy="94.2" r="4.25"/>
<circle class="c0" cx="216.8" cy="579.0" r="4.25"/>
<circle class="c3" cx="220.7" cy="208.2" r="4.25"/>
<circle class="c0" cx="246.8" cy="392.3" r="4.25"/>
<circle class="c1" cx="301.0" cy="248.6" r="4.25"/>
<circle class="c0" cx="359.6" cy="463.6" r="4.25"/>
<circle class="c1" cx="248.7" cy="264.7" r="4.25"/>
<circle class="c0" cx="238.3" cy="320.5" r="4.25"/>
<circle class="c8" cx="464.4" cy="248.4" r="4.25"/>
<circle class="c0" cx="235.2" cy="615.3" r="4.25"/>
<circle class="c0" cx="157.7" cy="342.3" r="4.25"/>
<circle class="c0" cx="201.5" cy="443.1" r="4.25"/>
<circle class="c0" cx="142.9" cy="434.5" r="4.25"/>
<circle class="c0" cx="162.1" cy="324.8" r="4.25"/>
<circle class="c8" cx="233.5" cy="87.4" r="4.25"/>
<circle class="c0" cx="149.0" cy="455.6" r="4.25"/>
<circle class="c9" cx="163.9" cy="121.8" r="4.25"/>
<circle class="c1" cx="226.7" cy="75.7" r="4.25"/>
<circle class="c0" cx="215.4" cy="341.2" r="4.25"/>
<circle class="c0" cx="253.7" cy="654.7" r="4.25"/>
<circle class="c6" cx="486.8" cy="320.8" r="4.25"/>
<circle class="c2" cx="183.0" cy="324.8" r="4.25"/>
<circle class="c0" cx="175.9" cy="364.2" r="4.25"/>
<circle class="c0" cx="205.9" cy="237.4" r="4.25"/>
<circle class="c0" cx="271.1" cy="624.5" r="4.25"/>
<circle class="c0" cx="224.7" cy="161.4" r="4.25"/>
<circle class="c0" cx="227.8" cy="651.6" r="4.25"/>
<circle class="c0" cx="236.8" cy="114.9" r="4.25"/>
<circle class="c0" cx="174.7" cy="182.4" r="4.25"/>
<circle class="c0" cx="500.8" cy="442.6" r="4.25"/>
<circle class="c0" cx="153.0" cy="140.1" r="4.25"/>
<circle class="c4" cx="413.2" cy="265.5" r="4.25"/>
<circle class="c0" cx="245.5" cy="537.3" r="4.25"/>
<circle class="c0" cx="223.9" cy="543.9" r="4.25"/>
<circle class="c0" cx="332.4" cy="371.6" r="4.25"/>
<circle class="c2" cx="283.7" cy="171.2" r="4.25"/>
<circle class="c0" cx="355.4" cy="425.6" r="4.25"/>
<circle class="c0" cx="162.6" cy="277.5" r="4.25"/>
<circle class="c0" cx="169.2" cy="499.1" r="4.25"/>
<circle class="c4" cx="467.8" cy="267.4" r="4.25"/>
<circle class="c0" cx="527.2" cy="373.2" r="4.25"/>
<circle class="c0" cx="230.3" cy="520.1" r="4.25"/>
<circle class="c0" cx="176.7" cy="414.1" r="4.25"/>
<circle class="c6" cx="424.3" cy="310.2" r="4.25"/>
<circle class="c12" cx="515.0" cy="358.6" r="4.25"/>
<circle class="c12" cx="477.3" cy="575.8" r="4.25"/>
<circle class="c0" cx="478.0" cy="588.9" r="4.25"/>
<circle class="c0" cx="154.7" cy="149.8" r="4.25"/>
<circle class="c2" cx="174.9" cy="103.8" r="4.25"/>
<circle class="c0" cx="145.0" cy="423.1" r="4.25"/>
<circle class="c0" cx="209.7" cy="663.4" r="4.25"/>
<circle class="c1" cx="182.8" cy="264.9" r="4.25"/>
<circle class="c0" cx="350.6" cy="735.5" r="4.25"/>
<circle class="c0" cx="294.5" cy="623.5" r="4.25"/>
<circle class="c2" cx="514.8" cy="364.4" r="4.25"/>
<circle class="c0" cx="199.8" cy="92.3" r="4.25"/>
<circle class="c0" cx="167.2" cy="507.0" r="4.25"/>
<circle class="c1" cx="229.0" cy="197.1" r="4.25"/>
<circle class="c12" cx="190.2" cy="317.7" r="4.25"/>
<circle class="c0" cx="175.7" cy="553.0" r="4.25"/>
<circle class="c1" cx="313.0" cy="387.8" r="4.25"/>
<circle class="c0" cx="175.6" cy="567.2" r="4.25"/>
<circle class="c0" cx="242.5" cy="757.9" r="4.25"/>
<circle class="c0" cx="162.9" cy="484.2" r="4.25"/>
<circle class="c0" cx="310.4" cy="120.2" r="4.25"/>
<circle class="c0" cx="218.7" cy="80.3" r="4.25"/>
<circle class="c2" cx="245.5" cy="324.5" r="4.25"/>
<circle class="c0" cx="173.8" cy="421.1" r="4.25"/>
<circle class="c0" cx="215.1" cy="280.8" r="4.25"/>
<circle class="c0" cx="233.9" cy="748.4" r="4.25"/>
<circle class="c12" cx="185.0" cy="482.6" r="4.25"/>
<circle class="c0" cx="348.6" cy="427.7" r="4.25"/>
<circle class="c0" cx="355.0" cy="414.7" r="4.25"/>
<circle class="c0" cx="223.5" cy="329.1" r="4.25"/>
<circle class="c0" cx="158.7" cy="397.0" r="4.25"/>
<circle class="c0" cx="211.5" cy="579.8" r="4.25"/>
<circle class="c1" cx="221.9" cy="362.2" r="4.25"/>
<circle class="c2" cx="269.6" cy="801.4" r="4.25"/>
<circle class="c13" cx="434.5" cy="281.8" r="4.25"/>
<circle class="c0" cx="241.0" cy="688.0" r="4.25"/>
<circle class="c0" cx="179.9" cy="498.2" r="4.25"/>
<circle class="c4" cx="353.3" cy="221.7" r="4.25"/>
<circle class="c13" cx="482.0" cy="516.0" r="4.25"/>
<circle class="c0" cx="114.3" cy="495.4" r="4.25"/>
<circle class="c0" cx="535.6" cy="411.6" r="4.25"/>
<circle class="c3" cx="217.8" cy="519.2" r="4.25"/>
<circle class="c3" cx="247.1" cy="235.2" r="4.25"/>
<circle class="c0" cx="294.0" cy="142.2" r="4.25"/>
<circle class="c0" cx="500.3" cy="447.8" r="4.25"/>
<circle class="c1" cx="497.3" cy="466.8" r="4.25"/>
<circle class="c15" cx="169.3" cy="484.6" r="4.25"/>
<circle class="c12" cx="410.6" cy="306.1" r="4.25"/>
<circle class="c6" cx="165.8" cy="172.4" r="4.25"/>
<circle class="c0" cx="155.7" cy="345.9" r="4.25"/>
<circle class="c0" cx="477.8" cy="579.7" r="4.25"/>
<circle class="c0" cx="228.2" cy="241.6" r="4.25"/>
<circle class="c0" cx="193.3" cy="303.6" r="4.25"/>
<circle class="c0" cx="203.2" cy="446.4" r="4.25"/>
<circle class="c12" cx="340.9" cy="381.0" r="4.25"/>
<circle class="c0" cx="350.2" cy="731.0" r="4.25"/>
<circle class="c5" cx="487.1" cy="318.5" r="4.25"/>
<circle class="c0" cx="189.4" cy="531.0" r="4.25"/>
<circle class="c0" cx="185.1" cy="445.2" r="4.25"/>
<circle class="c0" cx="146.2" cy="388.7" r="4.25"/>
<circle class="c0" cx="180.9" cy="356.5" r="4.25"/>
<circle class="c6" cx="422.9" cy="321.3" r="4.25"/>
<circle class="c0" cx="223.0" cy="103.3" r="4.25"/>
<circle class="c0" cx="155.3" cy="482.3" r="4.25"/>
<circle class="c0" cx="171.1" cy="160.7" r="4.25"/>
<circle class="c0" cx="175.4" cy="77.5" r="4.25"/>
<circle class="c0" cx="269.0" cy="822.1" r="4.25"/>
<circle class="c0" cx="221.0" cy="553.3" r="4.25"/>
<circle class="c0" cx="340.6" cy="731.8" r="4.25"/>
<circle class="c0" cx="186.5" cy="68.6" r="4.25"/>
<circle class="c0" cx="272.2" cy="790.2" r="4.25"/>
<circle class="c0" cx="151.2" cy="379.7" r="4.25"/>
<circle class="c0" cx="205.0" cy="617.2" r="4.25"/>
<circle class="c16" cx="472.0" cy="291.3" r="4.25"/>
<circle class="c0" cx="220.8" cy="412.4" r="4.25"/>
<circle class="c0" cx="346.6" cy="374.1" r="4.25"/>
<circle class="c0" cx="245.6" cy="406.4" r="4.25"/>
<circle class="c2" cx="334.1" cy="402.9" r="4.25"/>
<circle class="c0" cx="192.6" cy="216.3" r="4.25"/>
<circle class="c0" cx="262.2" cy="251.8" r="4.25"/>
<circle class="c0" cx="523.2" cy="362.4" r="4.25"/>
<circle class="c0" cx="138.0" cy="459.2" r="4.25"/>
<circle class="c0" cx="526.7" cy="403.9" r="4.25"/>
<circle class="c0" cx="192.9" cy="143.5" r="4.25"/>
<circle class="c0" cx="215.9" cy="82.8" r="4.25"/>
<circle class="c0" cx="359.5" cy="376.4" r="4.25"/>
<circle class="c0" cx="140.6" cy="427.9" r="4.25"/>
<circle class="c0" cx="163.0" cy="162.2" r="4.25"/>
<circle class="c6" cx="307.3" cy="279.8" r="4.25"/>
<circle class="c0" cx="405.2" cy="515.2" r="4.25"/>
<circle class="c0" cx="329.0" cy="673.4" r="4.25"/>
<circle class="c0" cx="349.5" cy="353.8" r="4.25"/>
<circle class="c0" cx="254.2" cy="773.9" r="4.25"/>
<circle class="c0" cx="214.3" cy="86.7" r="4.25"/>
<circle class="c0" cx="306.3" cy="624.3" r="4.25"/>
<circle class="c0" cx="216.2" cy="131.8" r="4.25"/>
<circle class="c0" cx="196.3" cy="294.8" r="4.25"/>
<circle class="c0" cx="402.1" cy="525.3" r="4.25"/>
<circle class="c5" cx="442.2" cy="247.1" r="4.25"/>
<circle class="c0" cx="484.5" cy="562.1" r="4.25"/>
<circle class="c0" cx="235.8" cy="208.9" r="4.25"/>
<circle class="c15" cx="320.2" cy="266.4" r="4.25"/>
<circle class="c12" cx="139.1" cy="431.8" r="4.25"/>
<circle class="c0" cx="167.0" cy="218.9" r="4.25"/>
<circle class="c0" cx="221.0" cy="631.2" r="4.25"/>
<circle class="c0" cx="169.2" cy="532.7" r="4.25"/>
<circle class="c0" cx="333.1" cy="385.0" r="4.25"/>
<circle class="c0" cx="178.5" cy="96.2" r="4.25"/>
<circle class="c0" cx="161.6" cy="448.7" r="4.25"/>
<circle class="c0" cx="288.3" cy="680.1" r="4.25"/>
<circle class="c15" cx="257.2" cy="653.4" r="4.25"/>
<circle class="c2" cx="184.5" cy="123.4" r="4.25"/>
<circle class="c0" cx="176.0" cy="388.1" r="4.25"/>
<circle class="c0" cx="240.6" cy="334.9" r="4.25"/>
<circle class="c0" cx="230.5" cy="644.3" r="4.25"/>
<circle class="c0" cx="177.2" cy="541.8" r="4.25"/>
<circle class="c15" cx="315.9" cy="375.8" r="4.25"/>
<circle class="c0" cx="229.3" cy="483.9" r="4.25"/>
<circle class="c0" cx="229.2" cy="344.7" r="4.25"/>
<circle class="c0" cx="308.9" cy="112.1" r="4.25"/>
<circle class="c0" cx="164.1" cy="162.7" r="4.25"/>
<circle class="c0" cx="311.0" cy="309.0" r="4.25"/>
<circle class="c0" cx="196.0" cy="528.0" r="4.25"/>
<circle class="c0" cx="348.1" cy="720.3" r="4.25"/>
<circle class="c15" cx="217.3" cy="335.3" r="4.25"/>
<circle class="c0" cx="131.4" cy="477.7" r="4.25"/>
<circle class="c0" cx="170.6" cy="76.5" r="4.25"/>
<circle class="c3" cx="218.5" cy="318.3" r="4.25"/>
<circle class="c0" cx="175.0" cy="233.9" r="4.25"/>
<circle class="c0" cx="176.5" cy="234.8" r="4.25"/>
<circle class="c0" cx="514.3" cy="360.9" r="4.25"/>
<circle class="c12" cx="273.1" cy="804.0" r="4.25"/>
<circle class="c0" cx="188.9" cy="354.3" r="4.25"/>
<circle class="c0" cx="212.5" cy="258.3" r="4.25"/>
<circle class="c0" cx="169.5" cy="205.0" r="4.25"/>
<circle class="c0" cx="136.9" cy="495.9" r="4.25"/>
<circle class="c0" cx="164.1" cy="262.1" r="4.25"/>
<circle class="c11" cx="384.8" cy="227.2" r="4.25"/>
<circle class="c0" cx="237.7" cy="740.7" r="4.25"/>
<circle class="c0" cx="199.3" cy="668.2" r="4.25"/>
<circle class="c0" cx="259.3" cy="234.4" r="4.25"/>
<circle class="c0" cx="196.7" cy="231.2" r="4.25"/>
<circle class="c0" cx="326.0" cy="395.3" r="4.25"/>
<circle class="c0" cx="497.1" cy="523.6" r="4.25"/>
<circle class="c0" cx="176.0" cy="79.6" r="4.25"/>
<circle class="c0" cx="226.5" cy="217.0" r="4.25"/>
<circle class="c0" cx="220.3" cy="356.6" r="4.25"/>
<circle class="c8" cx="453.6" cy="234.8" r="4.25"/>
<circle class="c1" cx="250.8" cy="276.7" r="4.25"/>
<circle class="c0" cx="248.6" cy="662.2" r="4.25"/>
<circle class="c2" cx="195.6" cy="206.1" r="4.25"/>
<circle class="c0" cx="254.5" cy="393.1" r="4.25"/>
<circle class="c0" cx="219.3" cy="394.4" r="4.25"/>
<circle class="c0" cx="339.7" cy="692.2" r="4.25"/>
<circle class="c0" cx="270.5" cy="660.5" r="4.25"/>
<circle class="c3" cx="240.2" cy="323.1" r="4.25"/>
<circle class="c11" cx="367.7" cy="214.7" r="4.25"/>
<circle class="c10" cx="423.0" cy="356.0" r="4.25"/>
<circle class="c0" cx="236.2" cy="647.9" r="4.25"/>
<circle class="c0" cx="169.4" cy="134.3" r="4.25"/>
<circle class="c0" cx="476.4" cy="564.7" r="4.25"/>
<circle class="c0" cx="161.1" cy="423.6" r="4.25"/>
<circle class="c0" cx="300.4" cy="116.1" r="4.25"/>
<circle class="c2" cx="245.1" cy="788.9" r="4.25"/>
<circle class="c0" cx="225.2" cy="758.6" r="4.25"/>
<circle class="c17" cx="334.3" cy="280.5" r="4.25"/>
<circle class="c0" cx="169.3" cy="272.8" r="4.25"/>
<circle class="c0" cx="214.0" cy="743.3" r="4.25"/>
<circle class="c0" cx="223.4" cy="602.6" r="4.25"/>
<circle class="c5" cx="382.4" cy="208.8" r="4.25"/>
<circle class="c0" cx="196.4" cy="291.6" r="4.25"/>
<circle class="c0" cx="223.7" cy="739.3" r="4.25"/>
<circle class="c0" cx="164.7" cy="170.3" r="4.25"/>
<circle class="c0" cx="167.9" cy="420.1" r="4.25"/>
<circle class="c0" cx="193.5" cy="241.2" r="4.25"/>
<circle class="c0" cx="194.7" cy="447.7" r="4.25"/>
<circle class="c11" cx="455.1" cy="235.5" r="4.25"/>
<circle class="c0" cx="194.8" cy="189.6" r="4.25"/>
<circle class="c0" cx="158.3" cy="113.3" r="4.25"/>
<circle class="c0" cx="189.8" cy="625.5" r="4.25"/>
<circle class="c9" cx="198.7" cy="362.2" r="4.25"/>
<circle class="c0" cx="158.4" cy="420.9" r="4.25"/>
<circle class="c0" cx="360.8" cy="739.6" r="4.25"/>
<circle class="c0" cx="212.4" cy="172.2" r="4.25"/>
<circle class="c0" cx="216.6" cy="238.6" r="4.25"/>
<circle class="c0" cx="191.6" cy="223.4" r="4.25"/>
<circle class="c0" cx="161.0" cy="133.0" r="4.25"/>
<circle class="c6" cx="233.7" cy="113.5" r="4.25"/>
<circle class="c0" cx="353.6" cy="457.0" r="4.25"/>
<circle class="c15" cx="354.5" cy="448.3" r="4.25"/>
<circle class="c0" cx="155.6" cy="464.2" r="4.25"/>
<circle class="c0" cx="235.1" cy="160.1" r="4.25"/>
<circle class="c0" cx="257.3" cy="745.4" r="4.25"/>
<circle class="c0" cx="139.9" cy="417.3" r="4.25"/>
<circle class="c1" cx="335.7" cy="298.8" r="4.25"/>
<circle class="c0" cx="166.2" cy="486.9" r="4.25"/>
<circle class="c6" cx="213.2" cy="216.9" r="4.25"/>
<circle class="c0" cx="252.1" cy="582.7" r="4.25"/>
<circle class="c8" cx="330.7" cy="325.9" r="4.25"/>
<circle class="c0" cx="219.5" cy="92.5" r="4.25"/>
<circle class="c0" cx="209.3" cy="511.8" r="4.25"/>
<circle class="c0" cx="344.1" cy="711.9" r="4.25"/>
<circle class="c0" cx="182.5" cy="261.4" r="4.25"/>
<circle class="c0" cx="351.2" cy="399.6" r="4.25"/>
<circle class="c0" cx="223.9" cy="560.1" r="4.25"/>
<circle class="c0" cx="150.3" cy="554.1" r="4.25"/>
<circle class="c0" cx="211.3" cy="635.7" r="4.25"/>
<circle class="c0" cx="230.5" cy="217.0" r="4.25"/>
<circle class="c0" cx="201.8" cy="295.3" r="4.25"/>
<circle class="c9" cx="347.5" cy="352.9" r="4.25"/>
<circle class="c0" cx="239.7" cy="674.7" r="4.25"/>
<circle class="c0" cx="182.6" cy="71.5" r="4.25"/>
<circle class="c0" cx="195.6" cy="591.6" r="4.25"/>
<circle class="c0" cx="182.2" cy="93.2" r="4.25"/>
<circle class="c0" cx="533.8" cy="417.1" r="4.25"/>
<circle class="c0" cx="177.4" cy="383.2" r="4.25"/>
<circle class="c0" cx="207.8" cy="495.5" r="4.25"/>
<circle class="c9" cx="176.5" cy="144.6" r="4.25"/>
<circle class="c6" cx="161.6" cy="130.7" r="4.25"/>
<circle class="c0" cx="240.5" cy="229.8" r="4.25"/>
<circle class="c0" cx="166.0" cy="469.8" r="4.25"/>
<circle class="c0" cx="367.6" cy="720.3" r="4.25"/>
<circle class="c0" cx="137.0" cy="524.4" r="4.25"/>
<circle class="c0" cx="183.1" cy="367.1" r="4.25"/>
<circle class="c0" cx="230.2" cy="209.2" r="4.25"/>
<circle class="c0" cx="189.2" cy="164.6" r="4.25"/>
<circle class="c0" cx="174.3" cy="470.2" r="4.25"/>
<circle class="c12" cx="202.5" cy="109.7" r="4.25"/>
<circle class="c0" cx="225.0" cy="68.9" r="4.25"/>
<circle class="c0" cx="192.6" cy="515.0" r="4.25"/>
<circle class="c0" cx="253.2" cy="285.7" r="4.25"/>
<circle class="c0" cx="403.6" cy="533.3" r="4.25"/>
<circle class="c0" cx="252.1" cy="476.8" r="4.25"/>
<circle class="c0" cx="178.6" cy="122.7" r="4.25"/>
<circle class="c2" cx="511.7" cy="365.4" r="4.25"/>
<circle class="c0" cx="216.4" cy="321.7" r="4.25"/>
<circle class="c0" cx="188.8" cy="228.0" r="4.25"/>
<circle class="c0" cx="189.5" cy="317.3" r="4.25"/>
<circle class="c0" cx="154.1" cy="118.4" r="4.25"/>
<circle class="c2" cx="234.5" cy="389.4" r="4.25"/>
<circle class="c0" cx="540.0" cy="431.4" r="4.25"/>
<circle class="c0" cx="162.5" cy="540.6" r="4.25"/>
<circle class="c0" cx="344.9" cy="739.1" r="4.25"/>
<circle class="c0" cx="298.2" cy="143.6" r="4.25"/>
<circle class="c0" cx="182.3" cy="215.3" r="4.25"/>
<circle class="c0" cx="157.6" cy="175.8" r="4.25"/>
<circle class="c0" cx="217.0" cy="555.3" r="4.25"/>
<circle class="c7" cx="434.0" cy="232.2" r="4.25"/>
<circle class="c0" cx="182.9" cy="227.4" r="4.25"/>
<circle class="c0" cx="219.2" cy="137.3" r="4.25"/>
<circle class="c0" cx="227.2" cy="467.4" r="4.25"/>
<circle class="c9" cx="334.8" cy="273.9" r="4.25"/>
<circle class="c0" cx="299.6" cy="113.9" r="4.25"/>
<circle class="c3" cx="179.4" cy="455.0" r="4.25"/>
<circle class="c0" cx="186.7" cy="135.0" r="4.25"/>
<circle class="c12" cx="199.5" cy="225.5" r="4.25"/>
<circle class="c0" cx="353.1" cy="403.4" r="4.25"/>
<circle class="c17" cx="416.0" cy="262.6" r="4.25"/>
<circle class="c0" cx="187.0" cy="283.8" r="4.25"/>
<circle class="c3" cx="220.4" cy="659.0" r="4.25"/>
<circle class="c0" cx="398.8" cy="689.9" r="4.25"/>
<circle class="c0" cx="211.5" cy="183.8" r="4.25"/>
<circle class="c0" cx="160.6" cy="240.3" r="4.25"/>
<circle class="c0" cx="202.2" cy="430.1" r="4.25"/>
<circle class="c0" cx="191.8" cy="146.6" r="4.25"/>
<circle class="c3" cx="207.5" cy="317.8" r="4.25"/>
<circle class="c15" cx="313.2" cy="239.6" r="4.25"/>
<circle class="c9" cx="257.8" cy="198.8" r="4.25"/>
<circle class="c0" cx="209.3" cy="637.1" r="4.25"/>
<circle class="c0" cx="204.7" cy="554.9" r="4.25"/>
<circle class="c0" cx="177.8" cy="272.0" r="4.25"/>
<circle class="c0" cx="248.3" cy="389.8" r="4.25"/>
<circle class="c0" cx="269.0" cy="293.0" r="4.25"/>
<circle class="c0" cx="192.6" cy="277.1" r="4.25"/>
<circle class="c16" cx="438.9" cy="267.4" r="4.25"/>
<circle class="c0" cx="161.7" cy="93.2" r="4.25"/>
<circle class="c0" cx="482.8" cy="326.8" r="4.25"/>
<circle class="c0" cx="181.0" cy="153.1" r="4.25"/>
<circle class="c2" cx="228.3" cy="368.7" r="4.25"/>
<circle class="c0" cx="359.4" cy="721.7" r="4.25"/>
<circle class="c10" cx="469.0" cy="489.0" r="4.25"/>
<circle class="c0" cx="172.5" cy="144.4" r="4.25"/>
<circle class="c0" cx="229.0" cy="426.4" r="4.25"/>
<circle class="c9" cx="190.8" cy="475.5" r="4.25"/>
<circle class="c0" cx="227.3" cy="471.5" r="4.25"/>
<circle class="c0" cx="186.2" cy="431.2" r="4.25"/>
<circle class="c0" cx="174.4" cy="150.0" r="4.25"/>
<circle class="c0" cx="171.0" cy="376.5" r="4.25"/>
<circle class="c0" cx="188.9" cy="281.8" r="4.25"/>
<circle class="c0" cx="148.5" cy="411.5" r="4.25"/>
<circle class="c12" cx="173.7" cy="70.5" r="4.25"/>
<circle class="c9" cx="219.1" cy="565.8" r="4.25"/>
<circle class="c10" cx="446.5" cy="245.3" r="4.25"/>
<circle class="c0" cx="374.6" cy="725.9" r="4.25"/>
<circle class="c0" cx="175.1" cy="151.2" r="4.25"/>
<circle class="c0" cx="251.8" cy="362.9" r="4.25"/>
<circle class="c0" cx="197.4" cy="214.8" r="4.25"/>
<circle class="c0" cx="227.9" cy="237.0" r="4.25"/>
<circle class="c0" cx="157.4" cy="92.0" r="4.25"/>
<circle class="c17" cx="424.9" cy="248.0" r="4.25"/>
<circle class="c0" cx="253.0" cy="196.4" r="4.25"/>
<circle class="c0" cx="210.3" cy="710.1" r="4.25"/>
<circle class="c0" cx="215.8" cy="404.1" r="4.25"/>
<circle class="c0" cx="163.7" cy="374.7" r="4.25"/>
<circle class="c0" cx="114.0" cy="510.5" r="4.25"/>
<circle class="c0" cx="369.7" cy="732.9" r="4.25"/>
<circle class="c0" cx="211.6" cy="631.1" r="4.25"/>
<circle class="c0" cx="206.7" cy="576.0" r="4.25"/>
<circle class="c0" cx="266.8" cy="640.1" r="4.25"/>
<circle class="c0" cx="220.1" cy="140.0" r="4.25"/>
<circle class="c11" cx="394.1" cy="227.9" r="4.25"/>
<circle class="c15" cx="220.3" cy="315.0" r="4.25"/>
<circle class="c0" cx="164.6" cy="214.3" r="4.25"/>
<circle class="c6" cx="496.4" cy="491.1" r="4.25"/>
<circle class="c0" cx="281.8" cy="141.1" r="4.25"/>
<circle class="c2" cx="325.5" cy="283.1" r="4.25"/>
<circle class="c16" cx="437.1" cy="248.5" r="4.25"/>
<circle class="c0" cx="192.3" cy="539.0" r="4.25"/>
<circle class="c0" cx="521.5" cy="360.4" r="4.25"/>
<circle class="c0" cx="204.6" cy="296.5" r="4.25"/>
<circle class="c0" cx="343.9" cy="739.0" r="4.25"/>
<circle class="c15" cx="331.0" cy="326.9" r="4.25"/>
<circle class="c0" cx="372.1" cy="731.8" r="4.25"/>
<circle class="c0" cx="248.5" cy="305.3" r="4.25"/>
<circle class="c0" cx="199.9" cy="83.2" r="4.25"/>
<circle class="c9" cx="306.1" cy="241.7" r="4.25"/>
<circle class="c0" cx="502.5" cy="444.0" r="4.25"/>
<circle class="c0" cx="225.7" cy="433.5" r="4.25"/>
<circle class="c0" cx="221.2" cy="491.7" r="4.25"/>
<circle class="c0" cx="213.5" cy="741.0" r="4.25"/>
<circle class="c15" cx="216.5" cy="98.8" r="4.25"/>
<circle class="c0" cx="218.6" cy="268.4" r="4.25"/>
<circle class="c0" cx="250.2" cy="468.4" r="4.25"/>
<circle class="c17" cx="431.6" cy="317.7" r="4.25"/>
<circle class="c0" cx="193.4" cy="347.1" r="4.25"/>
<circle class="c2" cx="224.2" cy="102.2" r="4.25"/>
<circle class="c0" cx="228.0" cy="468.0" r="4.25"/>
<circle class="c0" cx="504.5" cy="474.3" r="4.25"/>
<circle class="c0" cx="153.4" cy="437.8" r="4.25"/>
<circle class="c0" cx="405.5" cy="549.2" r="4.25"/>
<circle class="c0" cx="163.0" cy="195.0" r="4.25"/>
<circle class="c0" cx="496.3" cy="547.2" r="4.25"/>
<circle class="c12" cx="352.0" cy="402.0" r="4.25"/>
<circle class="c0" cx="173.1" cy="366.5" r="4.25"/>
<circle class="c0" cx="173.0" cy="482.3" r="4.25"/>
<circle class="c0" cx="357.9" cy="722.4" r="4.25"/>
<circle class="c3" cx="186.5" cy="138.2" r="4.25"/>
<circle class="c3" cx="168.0" cy="398.9" r="4.25"/>
<circle class="c0" cx="175.7" cy="401.5" r="4.25"/>
<circle class="c0" cx="543.0" cy="420.1" r="4.25"/>
<circle class="c0" cx="161.2" cy="266.9" r="4.25"/>
<circle class="c0" cx="371.8" cy="727.2" r="4.25"/>
<circle class="c0" cx="214.8" cy="701.5" r="4.25"/>
<circle class="c0" cx="161.9" cy="341.2" r="4.25"/>
<circle class="c0" cx="213.1" cy="337.8" r="4.25"/>
<circle class="c0" cx="161.7" cy="535.4" r="4.25"/>
<circle class="c2" cx="245.5" cy="224.2" r="4.25"/>
<circle class="c15" cx="167.9" cy="124.7" r="4.25"/>
<circle class="c0" cx="194.7" cy="529.8" r="4.25"/>
<circle class="c0" cx="203.8" cy="236.7" r="4.25"/>
<circle class="c0" cx="228.2" cy="769.0" r="4.25"/>
<circle class="c8" cx="308.3" cy="251.0" r="4.25"/>
<circle class="c0" cx="194.4" cy="563.2" r="4.25"/>
<circle class="c0" cx="193.9" cy="90.4" r="4.25"/>
<circle class="c0" cx="320.4" cy="391.1" r="4.25"/>
<circle class="c3" cx="289.3" cy="161.9" r="4.25"/>
<circle class="c11" cx="376.4" cy="210.3" r="4.25"/>
<circle class="c16" cx="399.2" cy="215.6" r="4.25"/>
<circle class="c0" cx="532.1" cy="411.4" r="4.25"/>
<circle class="c0" cx="338.9" cy="387.2" r="4.25"/>
<circle class="c0" cx="553.3" cy="414.7" r="4.25"/>
<circle class="c0" cx="137.0" cy="459.5" r="4.25"/>
<circle class="c16" cx="445.6" cy="316.2" r="4.25"/>
<circle class="c0" cx="247.6" cy="239.5" r="4.25"/>
<circle class="c0" cx="239.7" cy="768.1" r="4.25"/>
<circle class="c0" cx="193.1" cy="99.4" r="4.25"/>
<circle class="c0" cx="193.2" cy="152.6" r="4.25"/>
<circle class="c0" cx="142.8" cy="476.1" r="4.25"/>
<circle class="c0" cx="123.2" cy="477.9" r="4.25"/>
<circle class="c0" cx="165.5" cy="161.5" r="4.25"/>
<circle class="c12" cx="160.7" cy="496.1" r="4.25"/>
<circle class="c0" cx="158.2" cy="460.6" r="4.25"/>
<circle class="c0" cx="231.4" cy="103.1" r="4.25"/>
<circle class="c2" cx="250.6" cy="359.4" r="4.25"/>
<circle class="c0" cx="135.6" cy="419.5" r="4.25"/>
<circle class="c16" cx="448.6" cy="329.8" r="4.25"/>
<circle class="c0" cx="218.6" cy="230.1" r="4.25"/>
<circle class="c0" cx="170.2" cy="161.2" r="4.25"/>
<circle class="c15" cx="352.7" cy="408.2" r="4.25"/>
<circle class="c0" cx="233.2" cy="211.1" r="4.25"/>
<circle class="c0" cx="251.8" cy="236.3" r="4.25"/>
<circle class="c0" cx="118.0" cy="487.6" r="4.25"/>
<circle class="c0" cx="290.3" cy="140.0" r="4.25"/>
<circle class="c0" cx="227.5" cy="154.3" r="4.25"/>
<circle class="c15" cx="348.5" cy="394.1" r="4.25"/>
<circle class="c2" cx="206.4" cy="288.7" r="4.25"/>
<circle class="c0" cx="220.9" cy="224.7" r="4.25"/>
<circle class="c13" cx="455.3" cy="227.2" r="4.25"/>
<circle class="c0" cx="219.4" cy="679.5" r="4.25"/>
<circle class="c1" cx="369.3" cy="724.9" r="4.25"/>
<circle class="c0" cx="231.3" cy="513.1" r="4.25"/>
<circle class="c12" cx="270.5" cy="191.6" r="4.25"/>
<circle class="c0" cx="237.0" cy="442.8" r="4.25"/>
<circle class="c0" cx="352.7" cy="445.6" r="4.25"/>
<circle class="c0" cx="191.1" cy="606.1" r="4.25"/>
<circle class="c11" cx="390.9" cy="276.4" r="4.25"/>
<circle class="c0" cx="218.5" cy="69.4" r="4.25"/>
<circle class="c10" cx="383.2" cy="262.4" r="4.25"/>
<circle class="c0" cx="241.2" cy="407.5" r="4.25"/>
<circle class="c0" cx="224.1" cy="327.2" r="4.25"/>
<circle class="c0" cx="175.9" cy="515.6" r="4.25"/>
<circle class="c0" cx="153.2" cy="146.8" r="4.25"/>
<circle class="c0" cx="171.1" cy="443.5" r="4.25"/>
<circle class="c0" cx="122.0" cy="497.5" r="4.25"/>
<circle class="c17" cx="468.0" cy="247.7" r="4.25"/>
<circle class="c2" cx="540.3" cy="412.7" r="4.25"/>
<circle class="c5" cx="451.3" cy="228.9" r="4.25"/>
<circle class="c0" cx="234.5" cy="251.9" r="4.25"/>
<circle class="c0" cx="366.6" cy="723.0" r="4.25"/>
<circle class="c0" cx="150.9" cy="517.9" r="4.25"/>
<circle class="c3" cx="185.8" cy="220.9" r="4.25"/>
<circle class="c0" cx="136.8" cy="508.1" r="4.25"/>
<circle class="c0" cx="209.9" cy="354.1" r="4.25"/>
<circle class="c0" cx="239.3" cy="241.0" r="4.25"/>
<circle class="c1" cx="478.6" cy="509.5" r="4.25"/>
<circle class="c0" cx="387.6" cy="713.6" r="4.25"/>
<circle class="c0" cx="219.7" cy="194.0" r="4.25"/>
<circle class="c0" cx="238.0" cy="411.2" r="4.25"/>
<circle class="c0" cx="139.4" cy="479.3" r="4.25"/>
<circle class="c0" cx="191.9" cy="294.2" r="4.25"/>
<circle class="c0" cx="511.3" cy="349.0" r="4.25"/>
<circle class="c0" cx="172.2" cy="304.9" r="4.25"/>
<circle class="c0" cx="517.7" cy="358.4" r="4.25"/>
<circle class="c0" cx="240.1" cy="321.7" r="4.25"/>
<circle class="c0" cx="233.7" cy="223.3" r="4.25"/>
<circle class="c0" cx="128.7" cy="464.4" r="4.25"/>
<circle class="c0" cx="201.2" cy="275.3" r="4.25"/>
<circle class="c0" cx="189.0" cy="514.0" r="4.25"/>
<circle class="c0" cx="201.3" cy="232.3" r="4.25"/>
<circle class="c0" cx="335.7" cy="341.3" r="4.25"/>
<circle class="c0" cx="153.0" cy="140.2" r="4.25"/>
<circle class="c0" cx="113.5" cy="510.4" r="4.25"/>
<circle class="c0" cx="184.6" cy="328.3" r="4.25"/>
<circle class="c0" cx="182.2" cy="270.3" r="4.25"/>
<circle class="c0" cx="153.9" cy="474.4" r="4.25"/>
<circle class="c0" cx="196.7" cy="216.9" r="4.25"/>
<circle class="c0" cx="126.2" cy="531.5" r="4.25"/>
<circle class="c0" cx="270.1" cy="813.1" r="4.25"/>
<circle class="c0" cx="331.3" cy="375.2" r="4.25"/>
<circle class="c0" cx="213.6" cy="80.0" r="4.25"/>
<circle class="c0" cx="272.8" cy="172.7" r="4.25"/>
<circle class="c0" cx="356.2" cy="412.1" r="4.25"/>
<circle class="c0" cx="233.3" cy="206.3" r="4.25"/>
<circle class="c9" cx="468.5" cy="573.9" r="4.25"/>
<circle class="c0" cx="248.2" cy="480.0" r="4.25"/>
<circle class="c0" cx="270.0" cy="744.1" r="4.25"/>
<circle class="c0" cx="501.3" cy="452.8" r="4.25"/>
<circle class="c0" cx="172.1" cy="369.9" r="4.25"/>
<circle class="c9" cx="223.9" cy="114.6" r="4.25"/>
<circle class="c0" cx="421.1" cy="308.8" r="4.25"/>
<circle class="c0" cx="213.5" cy="652.1" r="4.25"/>
<circle class="c0" cx="332.2" cy="681.7" r="4.25"/>
<circle class="c0" cx="184.4" cy="543.3" r="4.25"/>
<circle class="c0" cx="191.5" cy="456.2" r="4.25"/>
<circle class="c0" cx="163.0" cy="94.2" r="4.25"/>
<circle class="c0" cx="528.5" cy="402.8" r="4.25"/>
<circle class="c0" cx="248.1" cy="777.1" r="4.25"/>
<circle class="c0" cx="256.0" cy="273.4" r="4.25"/>
<circle class="c0" cx="166.7" cy="94.3" r="4.25"/>
<circle class="c0" cx="195.7" cy="569.2" r="4.25"/>
<circle class="c0" cx="227.3" cy="326.0" r="4.25"/>
<circle class="c0" cx="187.9" cy="101.1" r="4.25"/>
<circle class="c14" cx="397.6" cy="221.0" r="4.25"/>
<circle class="c11" cx="479.5" cy="367.1" r="4.25"/>
<circle class="c8" cx="333.9" cy="250.1" r="4.25"/>
<circle class="c10" cx="448.0" cy="344.0" r="4.25"/>
<circle class="c0" cx="213.4" cy="514.3" r="4.25"/>
<circle class="c0" cx="326.6" cy="381.2" r="4.25"/>
<circle class="c0" cx="181.3" cy="255.9" r="4.25"/>
<circle class="c5" cx="436.9" cy="250.7" r="4.25"/>
<circle class="c0" cx="528.5" cy="429.2" r="4.25"/>
<circle class="c0" cx="510.6" cy="358.0" r="4.25"/>
<circle class="c0" cx="190.8" cy="450.1" r="4.25"/>
<circle class="c0" cx="151.9" cy="511.3" r="4.25"/>
<circle class="c1" cx="231.9" cy="641.7" r="4.25"/>
<circle class="c0" cx="252.1" cy="494.9" r="4.25"/>
<circle class="c0" cx="525.5" cy="418.7" r="4.25"/>
<circle class="c0" cx="160.1" cy="476.0" r="4.25"/>
<circle class="c0" cx="123.1" cy="468.3" r="4.25"/>
</g>
<g fill="none" stroke="#000" stroke-width="5.5" stroke-linejoin="round">
<path d="M187.0 75.0C187.1 80.8 187.1 97.5 187.6 110.0C188.1 122.5 189.1 136.7 190.0 150.0C190.9 163.3 191.7 178.0 193.0 190.0C194.3 202.0 195.8 211.7 198.0 222.0C200.2 232.3 202.3 241.5 206.0 252.0C209.7 262.5 214.3 273.7 220.0 285.0C225.7 296.3 234.2 311.7 240.0 320.0C245.8 328.3 250.0 330.7 255.0 335.0C260.0 339.3 265.0 343.2 270.0 346.0C275.0 348.8 280.0 350.7 285.0 352.0C290.0 353.3 295.0 354.2 300.0 354.0C305.0 353.8 310.0 352.7 315.0 351.0C320.0 349.3 325.0 347.2 330.0 344.0C335.0 340.8 340.0 336.3 345.0 332.0C350.0 327.7 354.2 323.3 360.0 318.0C365.8 312.7 373.7 304.8 380.0 300.0C386.3 295.2 392.3 291.7 398.0 289.0C403.7 286.3 408.3 284.4 414.0 284.0C419.7 283.6 426.0 285.0 432.0 286.5C438.0 288.0 444.7 290.4 450.0 293.0C455.3 295.6 459.7 298.8 464.0 302.0C468.3 305.2 471.2 307.7 476.0 312.5C480.8 317.3 488.5 324.1 493.0 331.0C497.5 337.9 500.2 347.0 503.0 354.0C505.8 361.0 508.2 368.5 510.0 373.0C511.8 377.5 512.3 378.9 514.0 381.0C515.7 383.1 517.3 384.5 520.0 385.3C522.7 386.1 526.5 385.9 530.0 386.0C533.5 386.1 539.2 386.0 541.0 386.0"/>
<path d="M285.6 129.0C283.7 132.2 277.9 141.5 274.0 148.0C270.1 154.5 266.3 160.3 262.0 168.0C257.7 175.7 252.3 185.0 248.0 194.0C243.7 203.0 239.2 213.7 236.0 222.0C232.8 230.3 230.7 236.7 229.0 244.0C227.3 251.3 225.8 258.3 225.6 266.0C225.4 273.7 225.9 281.3 228.0 290.0C230.1 298.7 234.7 311.5 238.0 318.0C241.3 324.5 244.3 325.8 248.0 329.0C251.7 332.2 255.5 334.8 260.0 337.0C264.5 339.2 270.0 341.0 275.0 342.0C280.0 343.0 285.0 343.3 290.0 343.0C295.0 342.7 300.0 341.5 305.0 340.0C310.0 338.5 315.0 336.7 320.0 334.0C325.0 331.3 330.0 327.7 335.0 324.0C340.0 320.3 345.0 315.7 350.0 312.0C355.0 308.3 359.7 305.3 365.0 302.0C370.3 298.7 376.2 294.7 382.0 292.0C387.8 289.3 394.7 287.3 400.0 286.0C405.3 284.7 408.7 283.9 414.0 284.0C419.3 284.1 426.0 285.0 432.0 286.5C438.0 288.0 444.7 290.4 450.0 293.0C455.3 295.6 459.7 298.8 464.0 302.0C468.3 305.2 471.2 307.7 476.0 312.5C480.8 317.3 488.5 324.1 493.0 331.0C497.5 337.9 500.2 347.0 503.0 354.0C505.8 361.0 508.2 368.5 510.0 373.0C511.8 377.5 512.3 378.9 514.0 381.0C515.7 383.1 517.3 384.5 520.0 385.3C522.7 386.1 526.5 385.9 530.0 386.0C533.5 386.1 539.2 386.0 541.0 386.0"/>
<path d="M145.0 553.6C147.2 549.8 153.8 538.6 158.0 531.0C162.2 523.4 166.3 515.5 170.0 508.0C173.7 500.5 177.0 493.0 180.0 486.0C183.0 479.0 185.5 472.5 188.0 466.0C190.5 459.5 193.0 453.3 195.0 447.0C197.0 440.7 198.2 435.0 200.0 428.0C201.8 421.0 204.0 412.7 206.0 405.0C208.0 397.3 209.8 389.5 212.0 382.0C214.2 374.5 216.7 366.5 219.0 360.0C221.3 353.5 223.7 348.1 226.0 343.0C228.3 337.9 230.5 333.5 233.0 329.5C235.5 325.5 238.2 322.2 241.0 319.0C243.8 315.8 246.8 313.0 250.0 310.5C253.2 308.0 256.2 305.9 260.0 304.2C263.8 302.4 268.0 301.0 273.0 300.0C278.0 299.0 283.7 298.4 290.0 298.0C296.3 297.6 304.3 297.6 311.0 297.5C317.7 297.4 323.5 297.7 330.0 297.2C336.5 296.7 343.3 295.7 350.0 294.5C356.7 293.3 363.3 291.4 370.0 290.0C376.7 288.6 382.7 287.0 390.0 286.0C397.3 285.0 407.0 283.9 414.0 284.0C421.0 284.1 426.0 285.0 432.0 286.5C438.0 288.0 444.7 290.4 450.0 293.0C455.3 295.6 459.7 298.8 464.0 302.0C468.3 305.2 471.2 307.7 476.0 312.5C480.8 317.3 488.5 324.1 493.0 331.0C497.5 337.9 500.2 347.0 503.0 354.0C505.8 361.0 508.2 368.5 510.0 373.0C511.8 377.5 512.3 378.9 514.0 381.0C515.7 383.1 517.3 384.5 520.0 385.3C522.7 386.1 526.5 385.9 530.0 386.0C533.5 386.1 539.2 386.0 541.0 386.0"/>
<path d="M195.0 627.0C196.8 628.9 202.1 634.7 205.5 638.5C208.9 642.3 211.0 644.5 215.7 650.0C220.4 655.5 227.6 664.0 233.6 671.4C239.6 678.8 246.1 688.0 251.4 694.6C256.8 701.2 260.9 705.9 265.7 710.7C270.5 715.5 275.2 719.9 280.0 723.2C284.8 726.5 289.5 728.9 294.3 730.4C299.1 731.9 303.8 732.4 308.6 732.5C313.4 732.6 317.5 732.4 322.9 731.3C328.2 730.2 334.8 728.3 340.7 725.9C346.6 723.5 352.7 720.7 358.6 717.0C364.6 713.3 371.0 708.2 376.4 703.6C381.8 699.0 385.9 695.0 390.7 689.3C395.5 683.6 400.1 677.0 405.0 669.6C409.9 662.2 414.8 653.5 420.0 644.6C425.2 635.7 431.0 625.4 436.5 616.0C442.0 606.6 447.7 596.3 453.0 588.0C458.3 579.7 464.6 572.3 468.5 566.0C472.4 559.7 474.0 555.3 476.5 550.0C479.0 544.7 480.6 542.3 483.5 534.0C486.4 525.7 491.2 509.3 494.0 500.0C496.8 490.7 498.3 484.7 500.0 478.0C501.7 471.3 502.7 466.7 504.0 460.0C505.3 453.3 506.8 444.7 508.0 438.0C509.2 431.3 510.0 425.7 511.0 420.0C512.0 414.3 513.0 408.3 514.0 404.0C515.0 399.7 515.8 396.8 517.0 394.0C518.2 391.2 519.2 388.8 521.0 387.5C522.8 386.2 524.7 386.2 528.0 386.0C531.3 385.8 538.8 386.0 541.0 386.0"/>
<path d="M394.4 545.0C393.2 547.2 389.4 553.5 387.0 558.0C384.6 562.5 382.2 567.5 380.0 572.0C377.8 576.5 375.6 580.8 374.0 585.0C372.4 589.2 371.2 593.5 370.5 597.0C369.8 600.5 369.6 603.1 370.0 606.0C370.4 608.9 371.5 612.2 373.0 614.5C374.5 616.8 376.7 618.3 379.0 619.5C381.3 620.7 383.8 621.3 387.0 621.5C390.2 621.7 394.2 621.2 398.0 620.5C401.8 619.8 405.7 618.6 410.0 617.0C414.3 615.4 419.7 613.2 424.0 611.0C428.3 608.8 432.2 606.7 436.0 604.0C439.8 601.3 443.7 598.0 447.0 595.0C450.3 592.0 453.2 589.4 456.0 586.0C458.8 582.6 461.5 578.5 464.0 574.5C466.5 570.5 468.8 566.4 471.0 562.0C473.2 557.6 475.4 552.7 477.5 548.0C479.6 543.3 480.8 542.0 483.5 534.0C486.2 526.0 491.2 509.3 494.0 500.0C496.8 490.7 498.3 484.7 500.0 478.0C501.7 471.3 502.7 466.7 504.0 460.0C505.3 453.3 506.8 444.7 508.0 438.0C509.2 431.3 510.0 425.7 511.0 420.0C512.0 414.3 513.0 408.3 514.0 404.0C515.0 399.7 515.8 396.8 517.0 394.0C518.2 391.2 519.2 388.8 521.0 387.5C522.8 386.2 524.7 386.2 528.0 386.0C531.3 385.8 538.8 386.0 541.0 386.0"/>
</g>
<g stroke="#000" stroke-width="2.85" fill="none">
<path d="M89.9 14.8V874.8H578"/>
<path stroke="#333" d="M133.0 876.2V882"/>
<path stroke="#333" d="M251.4 876.2V882"/>
<path stroke="#333" d="M369.8 876.2V882"/>
<path stroke="#333" d="M488.2 876.2V882"/>
<path stroke="#333" d="M88.5 665.5H82.4"/>
<path stroke="#333" d="M88.5 440.1H82.4"/>
<path stroke="#333" d="M88.5 214.7H82.4"/>
</g>
<text class="ax" x="133.0" y="905.2" text-anchor="middle">-5</text>
<text class="ax" x="251.4" y="905.2" text-anchor="middle">0</text>
<text class="ax" x="369.8" y="905.2" text-anchor="middle">5</text>
<text class="ax" x="488.2" y="905.2" text-anchor="middle">10</text>
<text class="ax" x="77.3" y="674.9" text-anchor="end">-5</text>
<text class="ax" x="77.3" y="449.5" text-anchor="end">0</text>
<text class="ax" x="77.3" y="224.1" text-anchor="end">5</text>
<text class="ti" x="332.3" y="940" text-anchor="middle">dim1</text>
<text class="ti" transform="translate(36.7,445.8) rotate(-90)" text-anchor="middle">dim2</text>
<text class="ti" x="621.5" y="333">logged count of gene ENSMUSG00000028312.Smc2</text>
<rect x="621.7" y="350.7" width="46.3" height="229.5" fill="url(#cb)"/>
<g stroke="#fff" stroke-width="1.2">
<path d="M621.7 516.6h9.2M668 516.6h-9.2"/>
<path d="M621.7 452.7h9.2M668 452.7h-9.2"/>
<path d="M621.7 388.8h9.2M668 388.8h-9.2"/>
<path d="M621.7 580.2h9.2M668 580.2h-9.2"/>
</g>
<text class="lg" x="682.3" y="590.9">0</text>
<text class="lg" x="682.3" y="526.5">1</text>
<text class="lg" x="682.3" y="462.1">2</text>
<text class="lg" x="682.3" y="397.7">3</text>
</svg></body></html>
